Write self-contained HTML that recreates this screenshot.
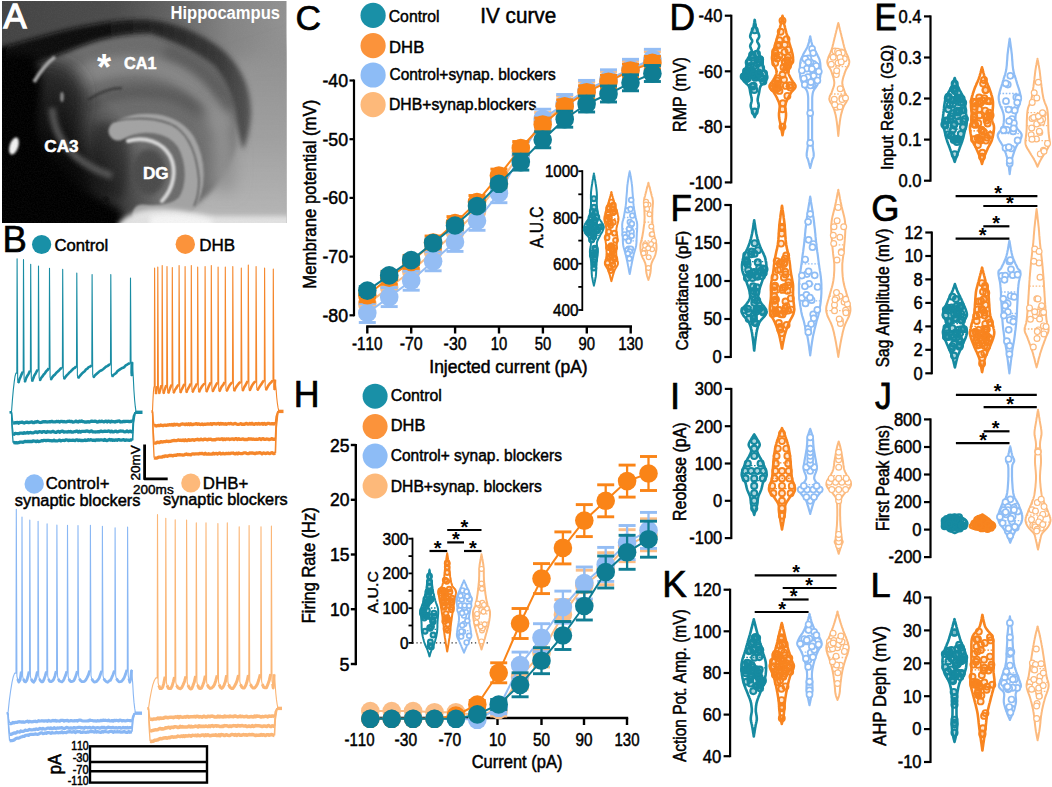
<!DOCTYPE html>
<html><head><meta charset="utf-8"><style>html,body{margin:0;padding:0;background:#fff;width:1052px;height:787px;overflow:hidden}svg{display:block;font-family:"Liberation Sans",sans-serif;font-kerning:none}</style></head><body>
<svg width="1052" height="787" viewBox="0 0 1052 787">
<defs><clipPath id="clipA"><rect x="2" y="1" width="284.5" height="222"/></clipPath><filter id="b1" filterUnits="userSpaceOnUse" x="-20" y="-20" width="330" height="270"><feGaussianBlur stdDeviation="1.2"/></filter><filter id="b2" filterUnits="userSpaceOnUse" x="-20" y="-20" width="330" height="270"><feGaussianBlur stdDeviation="2.5"/></filter><filter id="b4" filterUnits="userSpaceOnUse" x="-20" y="-20" width="330" height="270"><feGaussianBlur stdDeviation="4"/></filter><filter id="b8" filterUnits="userSpaceOnUse" x="-20" y="-20" width="330" height="270"><feGaussianBlur stdDeviation="8"/></filter><filter id="noise" filterUnits="userSpaceOnUse" x="2" y="1" width="285" height="222"><feTurbulence type="fractalNoise" baseFrequency="0.7" numOctaves="2" seed="3"/><feColorMatrix type="matrix" values="0 0 0 0 0.5  0 0 0 0 0.5  0 0 0 0 0.5  0 0 0 0.9 -0.3"/></filter><linearGradient id="gBase" x1="0" y1="0" x2="1" y2="0"><stop offset="0" stop-color="#444"/><stop offset="0.4" stop-color="#4c4c4c"/><stop offset="0.62" stop-color="#666"/><stop offset="0.8" stop-color="#848484"/><stop offset="1" stop-color="#929292"/></linearGradient><linearGradient id="gRt" x1="0" y1="0" x2="0" y2="1"><stop offset="0" stop-color="#8e8e8e"/><stop offset="0.5" stop-color="#a0a0a0"/><stop offset="1" stop-color="#bcbcbc"/></linearGradient><linearGradient id="gArc" x1="0" y1="0" x2="1" y2="0"><stop offset="0" stop-color="#050505"/><stop offset="0.45" stop-color="#101010"/><stop offset="0.7" stop-color="#282828"/><stop offset="0.88" stop-color="#383838"/><stop offset="1" stop-color="#555"/></linearGradient></defs>
<radialGradient id="gBL" cx="10" cy="215" r="150" gradientUnits="userSpaceOnUse"><stop offset="0" stop-color="#000" stop-opacity="1"/><stop offset="0.45" stop-color="#000" stop-opacity="0.92"/><stop offset="0.7" stop-color="#000" stop-opacity="0.55"/><stop offset="1" stop-color="#000" stop-opacity="0"/></radialGradient>
<g clip-path="url(#clipA)">
<rect x="2" y="1" width="285" height="222" fill="url(#gBase)"/>
<path d="M205 70 L300 40 L300 240 L150 240 L185 205 L205 160 Z" fill="url(#gRt)" filter="url(#b8)"/>
<path d="M-10 72 L20 68 C 40 62, 60 54, 80 46 C 100 38, 125 33, 150 33 C 180 40, 200 52, 214 64 C 225 78, 231 95, 234 112 L 236 145 C 230 170, 215 192, 195 205 L 120 230 L -10 230 Z" fill="#6c6c6c" filter="url(#b2)"/>
<path d="M48 100 C 70 74, 110 62, 150 66 C 185 72, 210 95, 224 130" fill="none" stroke="#868686" stroke-width="20" filter="url(#b4)"/>
<path d="M165 50 C 195 60, 218 80, 229 110" fill="none" stroke="#5c5c5c" stroke-width="12" filter="url(#b4)"/>
<path d="M85 108 C 105 92, 140 88, 170 95 C 195 103, 210 118, 215 140" fill="none" stroke="#5a5a5a" stroke-width="12" filter="url(#b4)"/>
<path d="M88 100 C 100 92, 112 88, 122 88" fill="none" stroke="#3c3c3c" stroke-width="2.5" filter="url(#b1)"/>
<path d="M208 110 C 222 125, 228 150, 222 190" fill="none" stroke="#929292" stroke-width="22" filter="url(#b8)"/>
<path d="M95 125 C 110 118, 122 125, 127 140 C 131 160, 128 185, 122 200 L 100 195 C 94 175, 90 150, 95 125 Z" fill="#4a4a4a" filter="url(#b4)"/>
<path d="M30 60 C 50 58, 70 62, 80 75 C 88 90, 85 110, 80 130 C 78 150, 90 170, 100 190 L 40 200 Z" fill="#2c2c2c" filter="url(#b8)"/>
<rect x="2" y="1" width="285" height="222" fill="url(#gBL)"/>
<path d="M52 108 C 54 138, 72 162, 112 176" fill="none" stroke="#555" stroke-width="7" filter="url(#b2)"/>
<path d="M-10 48 L2 47 C 30 40, 60 30, 90 25 C 110 21, 130 19, 150 20 C 178 23, 205 35, 225 52 C 240 66, 250 85, 251 110 C 251 125, 248 138, 243 150 C 240 140, 236 125, 234 110 C 231 95, 225 80, 214 66 C 200 54, 180 43, 150 33 C 125 33, 100 38, 80 46 C 60 54, 40 62, 20 68 L -10 70 Z" fill="url(#gArc)" filter="url(#b2)"/>
<path d="M-10 55 L 30 55 C 42 62, 44 80, 40 110 C 36 140, 44 160, 62 178 C 82 192, 105 200, 120 210 L 130 240 L -10 240 Z" fill="#060606" filter="url(#b4)"/>
<path d="M118 131 C 140 118, 172 121, 186 142 C 197 162, 197 188, 186 204 C 176 213, 160 216, 142 214" fill="none" stroke="#a3a3a3" stroke-width="19" stroke-linecap="round" filter="url(#b1)"/>
<path d="M114 121 C 135 117, 160 117, 176 127 C 190 137, 197 155, 199 180 C 199 192, 197 200, 194 206" fill="none" stroke="#555" stroke-width="1.5" filter="url(#b1)"/>
<ellipse cx="149" cy="172" rx="17" ry="23" fill="#4c4c4c" filter="url(#b2)"/>
<path d="M128 141 C 145 136, 162 142, 170 156 C 177 170, 174 188, 162 201" fill="none" stroke="#d8d8d8" stroke-width="4" stroke-linecap="round" filter="url(#b1)"/>
<path d="M118 224 C 126 214, 142 208, 165 209 C 185 210, 200 214, 215 216 L 300 216 L 300 240 L 115 240 Z" fill="#e2e2e2" filter="url(#b2)"/>
<path d="M150 216 C 170 212, 195 215, 212 220 L 212 240 L 150 240 Z" fill="#f4f4f4" filter="url(#b2)"/>
<ellipse cx="14" cy="146" rx="4.3" ry="9" fill="#f2f2f2" filter="url(#b1)" transform="rotate(18 14 146)"/>
<path d="M34 82 C 40 72, 48 62, 55 57" fill="none" stroke="#a8a8a8" stroke-width="3.5" filter="url(#b1)"/>
<ellipse cx="62" cy="97" rx="1.8" ry="5" fill="#8c8c8c" filter="url(#b1)"/>
<ellipse cx="106" cy="201" rx="2.5" ry="4" fill="#111" filter="url(#b1)"/>
<rect x="2" y="1" width="285" height="222" filter="url(#noise)" opacity="0.12"/>
</g>
<text font-size="35.5" fill="#fff" stroke="#fff" stroke-width="1.3" transform="translate(3.4 28.1) scale(0.9738 1)">A</text>
<text x="170.5" y="19" font-size="17.5" font-weight="bold" fill="#fff" textLength="109.5" lengthAdjust="spacingAndGlyphs">Hippocampus</text>
<text font-size="36.3" font-weight="bold" fill="#fff" transform="translate(96.9 79.9) scale(1.0011 1)">*</text>
<text x="124" y="68.6" font-size="16.5" fill="#fff" textLength="32.5" lengthAdjust="spacingAndGlyphs" stroke="#fff" stroke-width="0.5" font-weight="bold">CA1</text>
<text x="44.3" y="152.4" font-size="16.5" fill="#fff" textLength="34.3" lengthAdjust="spacingAndGlyphs" stroke="#fff" stroke-width="0.5" font-weight="bold">CA3</text>
<text x="143" y="178.7" font-size="16.5" fill="#fff" textLength="25.7" lengthAdjust="spacingAndGlyphs" stroke="#fff" stroke-width="0.5" font-weight="bold">DG</text>
<text font-size="37.1" stroke="#000" stroke-width="0.7" transform="translate(2.6 252.2) scale(0.9835 1)">B</text>
<circle cx="41.6" cy="244.5" r="9.6" fill="#1990a7"/>
<text font-size="16.9" stroke="#000" stroke-width="0.5" transform="translate(54.5 251.2) scale(0.9859 1)">Control</text>
<circle cx="185.3" cy="244.2" r="9.7" fill="#fb933b"/>
<text font-size="16.9" stroke="#000" stroke-width="0.4" transform="translate(199.2 251.2) scale(1.0084 1)">DHB</text>
<circle cx="34.2" cy="484" r="9.7" fill="#8dbcf6"/>
<text font-size="16.6" stroke="#000" stroke-width="0.4" transform="translate(45.7 489) scale(1.0089 1)">Control+</text>
<text font-size="16.6" stroke="#000" stroke-width="0.5" transform="translate(14.8 506.1) scale(0.9879 1)">synaptic blockers</text>
<circle cx="190.8" cy="483" r="9.6" fill="#fdb97a"/>
<text font-size="16.6" stroke="#000" stroke-width="0.4" transform="translate(202.8 489.2) scale(1.0159 1)">DHB+</text>
<text font-size="16.6" stroke="#000" stroke-width="0.5" transform="translate(163 505.4) scale(0.9800 1)">synaptic blockers</text>
<path d="M9.5 412.3 L11.5 412.3" fill="none" stroke="#188ca3" stroke-width="2.6" stroke-linejoin="round"/>
<path d="M135.1 412.3 L142.5 412.3" fill="none" stroke="#188ca3" stroke-width="3.4" stroke-linejoin="round"/>
<path d="M11.5 412.3 L12.1 418.2 L13.1 422.9" fill="none" stroke="#188ca3" stroke-width="1.3" stroke-linejoin="round"/>
<path d="M13.1 422.9 L14.2 423 L15.3 422.6 L16.4 422.8 L17.5 422.3 L18.6 423.2 L19.7 422.3 L20.8 422.5 L22 422.1 L23.1 422.6 L24.2 423 L25.3 422.5 L26.4 422.1 L27.5 422.2 L28.6 422.7 L29.7 422.4 L30.8 422.2 L31.9 421.8 L33 422.6 L34.1 422.7 L35.2 421.8 L36.3 422.1 L37.4 421.5 L38.5 422 L39.7 422.3 L40.8 422.5 L41.9 422.2 L43 421.7 L44.1 421.9 L45.2 421.6 L46.3 421.9 L47.4 422 L48.5 421.8 L49.6 421.7 L50.7 421.8 L51.8 421.3 L52.9 421.9 L54 421.8 L55.1 421.9 L56.3 421.4 L57.4 421.6 L58.5 421.5 L59.6 422 L60.7 421.4 L61.8 421.4 L62.9 421.8 L64 421.5 L65.1 421.8 L66.2 421.9 L67.3 421.4 L68.4 421.3 L69.5 421.1 L70.6 421.7 L71.7 421.4 L72.8 422.1 L74 421.9 L75.1 421.6 L76.2 421.1 L77.3 421.8 L78.4 422 L79.5 421.1 L80.6 421.5 L81.7 421 L82.8 421.6 L83.9 421.7 L85 422.1 L86.1 422 L87.2 422 L88.3 421.7 L89.4 422.1 L90.6 421.6 L91.7 421.1 L92.8 421.4 L93.9 421.3 L95 421.2 L96.1 421.3 L97.2 422 L98.3 421.9 L99.4 421.2 L100.5 421.7 L101.6 421.1 L102.7 421.5 L103.8 421.9 L104.9 421.4 L106 421.2 L107.2 422 L108.3 421.1 L109.4 421.3 L110.5 422 L111.6 421.1 L112.7 421.7 L113.8 421.6 L114.9 422 L116 421.4 L117.1 421.6 L118.2 421.1 L119.3 421 L120.4 422 L121.5 421.8 L122.6 421.8 L123.7 421.3 L124.9 421.5 L126 421.4 L127.1 421.3 L128.2 421.3 L129.3 421.6 L130.4 421.5 L131.5 421.2 L132.6 421.6" fill="none" stroke="#188ca3" stroke-width="3.3" stroke-linejoin="round"/>
<path d="M132.6 421.6 L133.4 416 L135.1 412.3" fill="none" stroke="#188ca3" stroke-width="1.6" stroke-linejoin="round"/>
<path d="M11.5 412.3 L12.1 424.2 L13.1 433.6" fill="none" stroke="#188ca3" stroke-width="1.3" stroke-linejoin="round"/>
<path d="M13.1 433.6 L14.2 434.2 L15.3 433.3 L16.4 433.5 L17.5 433.7 L18.6 433.7 L19.7 433.1 L20.8 433.1 L22 433.2 L23.1 433.3 L24.2 432.6 L25.3 433.2 L26.4 433 L27.5 432.4 L28.6 433 L29.7 432.6 L30.8 432.5 L31.9 432.8 L33 432.9 L34.1 432.5 L35.2 432 L36.3 431.9 L37.4 432.6 L38.5 431.8 L39.7 431.7 L40.8 431.8 L41.9 432.4 L43 431.7 L44.1 431.6 L45.2 432.1 L46.3 432.4 L47.4 431.5 L48.5 431.8 L49.6 431.9 L50.7 432.2 L51.8 431.7 L52.9 431.3 L54 431.9 L55.1 432.3 L56.3 432.3 L57.4 431.6 L58.5 431.4 L59.6 432.3 L60.7 431.6 L61.8 431.2 L62.9 431.2 L64 432.1 L65.1 431.9 L66.2 431.9 L67.3 432 L68.4 431.5 L69.5 431.9 L70.6 431.4 L71.7 432 L72.8 432.1 L74 431.7 L75.1 431.7 L76.2 431.1 L77.3 431.2 L78.4 432.1 L79.5 431.3 L80.6 432 L81.7 431.3 L82.8 431.3 L83.9 431.3 L85 431.5 L86.1 431.1 L87.2 431 L88.3 431.4 L89.4 431.8 L90.6 431.1 L91.7 431 L92.8 431.9 L93.9 431.8 L95 432 L96.1 431.9 L97.2 431.9 L98.3 431.6 L99.4 431.8 L100.5 431.1 L101.6 431.2 L102.7 431.7 L103.8 431.3 L104.9 431.1 L106 431.3 L107.2 431.4 L108.3 431 L109.4 431.1 L110.5 431.9 L111.6 431.1 L112.7 431.9 L113.8 431.9 L114.9 431.3 L116 431.2 L117.1 431.9 L118.2 431.6 L119.3 431.2 L120.4 431 L121.5 431.1 L122.6 431.1 L123.7 431.6 L124.9 431.8 L126 431.6 L127.1 430.9 L128.2 431.9 L129.3 431.4 L130.4 431.2 L131.5 431.9 L132.6 431.2" fill="none" stroke="#188ca3" stroke-width="3.3" stroke-linejoin="round"/>
<path d="M132.6 431.2 L133.4 419.9 L135.1 412.3" fill="none" stroke="#188ca3" stroke-width="1.6" stroke-linejoin="round"/>
<path d="M11.5 412.3 L12.1 429.2 L13.1 442.7" fill="none" stroke="#188ca3" stroke-width="1.3" stroke-linejoin="round"/>
<path d="M13.1 442.7 L14.2 442.5 L15.3 442.9 L16.4 442.7 L17.5 442.9 L18.6 442.7 L19.7 442.2 L20.8 442.2 L22 442.2 L23.1 442.3 L24.2 441.8 L25.3 441.3 L26.4 441.6 L27.5 441.5 L28.6 441.5 L29.7 441.5 L30.8 441.5 L31.9 441.5 L33 440.9 L34.1 441.1 L35.2 441.2 L36.3 441.6 L37.4 441 L38.5 441.5 L39.7 441.3 L40.8 441 L41.9 440.6 L43 440.8 L44.1 440.3 L45.2 440.5 L46.3 440.6 L47.4 440.3 L48.5 440.3 L49.6 440.6 L50.7 440.6 L51.8 440.9 L52.9 440.8 L54 440.2 L55.1 440.9 L56.3 440.9 L57.4 440.8 L58.5 440.5 L59.6 440.1 L60.7 440.9 L61.8 440.5 L62.9 440.3 L64 440.5 L65.1 440.4 L66.2 439.8 L67.3 440 L68.4 440.6 L69.5 440.2 L70.6 440.3 L71.7 440.4 L72.8 440.2 L74 440.4 L75.1 440.5 L76.2 439.9 L77.3 439.8 L78.4 440.5 L79.5 440.1 L80.6 440.5 L81.7 440.4 L82.8 440.7 L83.9 440.5 L85 439.9 L86.1 440.5 L87.2 440.3 L88.3 439.7 L89.4 440.2 L90.6 439.7 L91.7 440 L92.8 440.4 L93.9 440.1 L95 440.6 L96.1 439.9 L97.2 440.2 L98.3 439.9 L99.4 440.2 L100.5 439.8 L101.6 439.8 L102.7 440 L103.8 440.4 L104.9 439.5 L106 440.3 L107.2 440.6 L108.3 440.1 L109.4 439.5 L110.5 440.2 L111.6 439.7 L112.7 440.4 L113.8 440 L114.9 440.3 L116 439.9 L117.1 440.3 L118.2 439.6 L119.3 439.7 L120.4 440.1 L121.5 440.1 L122.6 439.9 L123.7 439.7 L124.9 440.4 L126 439.9 L127.1 440.2 L128.2 440.2 L129.3 440.4 L130.4 439.9 L131.5 439.8 L132.6 440.4" fill="none" stroke="#188ca3" stroke-width="3.3" stroke-linejoin="round"/>
<path d="M132.6 440.4 L133.4 423.4 L135.1 412.3" fill="none" stroke="#188ca3" stroke-width="1.6" stroke-linejoin="round"/>
<path d="M11.5 412.3 L12.4 400 L13.3 389.9 L14.2 382.1 L15 376.5 L15.9 373.1 L16.8 373.1 L17.1 258.7 L17.7 380 L18.4 383 L19.5 379.1 L20.6 376.7 L21.7 374.1 L22.8 371.8 L23.2 371.8 L23.5 259.5 L24.1 379.2 L24.8 382.2 L26.1 378.1 L27.4 375.7 L28.7 373.6 L30 370.7 L30.4 370.7 L30.7 264.3 L31.3 378.4 L32 381.4 L33.2 378.5 L34.3 375.5 L35.5 373.8 L36.6 371.5 L37.8 369.7 L38.2 369.7 L38.5 266 L39.1 377.7 L39.8 380.7 L41.1 378 L42.4 376.4 L43.7 374.5 L44.9 373.3 L46.2 371.2 L47.5 370.1 L48.8 368.4 L49.2 368.4 L49.5 268.2 L50.1 376.9 L50.8 379.9 L52.2 377.4 L53.6 375.6 L55 374.6 L56.4 372.7 L57.8 371.5 L59.2 370.2 L60.6 368.7 L62 367.8 L62.4 367.8 L62.7 269.4 L63.3 376.1 L64 379.1 L65.3 377.1 L66.7 375.4 L68 374.1 L69.4 372.5 L70.7 371.4 L72.1 370 L73.4 368.6 L74.8 367.9 L76.1 366.4 L76.5 366.4 L76.8 273 L77.4 375.3 L78.1 378.3 L79.4 376.5 L80.8 374.8 L82.1 373.4 L83.4 372.2 L84.7 371.3 L86.1 369.3 L87.4 368.6 L88.7 367.1 L90.1 366.6 L91.4 365.6 L91.8 365.6 L92.1 274.5 L92.7 374.6 L93.4 377.6 L94.8 375.5 L96.2 374.3 L97.6 373.1 L99 371.8 L100.4 370.8 L101.7 370.2 L103.1 369.2 L104.5 368.1 L105.9 366.7 L107.3 366.1 L108.7 365.1 L110.1 364.2 L110.5 364.2 L110.8 274.5 L111.4 373.8 L112.1 376.8 L113.5 374.8 L114.8 374 L116.2 372.9 L117.5 371.1 L118.9 370.1 L120.3 369.1 L121.6 368.3 L123 367.8 L124.4 367 L125.7 365.4 L127.1 364.7 L128.4 363.8 L129.8 363.2 L130.2 363.2 L130.5 278 L131.1 373 L131.8 376 L131.9 370.3 L132.1 366.1 L132.2 362.1 L133.3 377.4 L133.9 390 L134.6 399.7 L135.3 406.7 L135.9 410.9 L136.6 412.3" fill="none" stroke="#188ca3" stroke-width="1.1" stroke-linejoin="round"/>
<path d="M18.4 383 L19.5 379.1 L20.6 376.7 L21.7 374.1 L22.8 371.8" fill="none" stroke="#188ca3" stroke-width="2.6" stroke-linejoin="round"/>
<path d="M24.8 382.2 L26.1 378.1 L27.4 375.7 L28.7 373.6 L30 370.7" fill="none" stroke="#188ca3" stroke-width="2.6" stroke-linejoin="round"/>
<path d="M32 381.4 L33.2 378.5 L34.3 375.5 L35.5 373.8 L36.6 371.5 L37.8 369.7" fill="none" stroke="#188ca3" stroke-width="2.6" stroke-linejoin="round"/>
<path d="M39.8 380.7 L41.1 378 L42.4 376.4 L43.7 374.5 L44.9 373.3 L46.2 371.2 L47.5 370.1 L48.8 368.4" fill="none" stroke="#188ca3" stroke-width="2.6" stroke-linejoin="round"/>
<path d="M50.8 379.9 L52.2 377.4 L53.6 375.6 L55 374.6 L56.4 372.7 L57.8 371.5 L59.2 370.2 L60.6 368.7 L62 367.8" fill="none" stroke="#188ca3" stroke-width="2.6" stroke-linejoin="round"/>
<path d="M64 379.1 L65.3 377.1 L66.7 375.4 L68 374.1 L69.4 372.5 L70.7 371.4 L72.1 370 L73.4 368.6 L74.8 367.9 L76.1 366.4" fill="none" stroke="#188ca3" stroke-width="2.6" stroke-linejoin="round"/>
<path d="M78.1 378.3 L79.4 376.5 L80.8 374.8 L82.1 373.4 L83.4 372.2 L84.7 371.3 L86.1 369.3 L87.4 368.6 L88.7 367.1 L90.1 366.6 L91.4 365.6" fill="none" stroke="#188ca3" stroke-width="2.6" stroke-linejoin="round"/>
<path d="M93.4 377.6 L94.8 375.5 L96.2 374.3 L97.6 373.1 L99 371.8 L100.4 370.8 L101.7 370.2 L103.1 369.2 L104.5 368.1 L105.9 366.7 L107.3 366.1 L108.7 365.1 L110.1 364.2" fill="none" stroke="#188ca3" stroke-width="2.6" stroke-linejoin="round"/>
<path d="M112.1 376.8 L113.5 374.8 L114.8 374 L116.2 372.9 L117.5 371.1 L118.9 370.1 L120.3 369.1 L121.6 368.3 L123 367.8 L124.4 367 L125.7 365.4 L127.1 364.7 L128.4 363.8 L129.8 363.2" fill="none" stroke="#188ca3" stroke-width="2.6" stroke-linejoin="round"/>
<path d="M131.8 376 L131.9 370.3 L132.1 366.1 L132.2 362.1" fill="none" stroke="#188ca3" stroke-width="2.6" stroke-linejoin="round"/>
<path d="M151.5 411.4 L152.5 411.4" fill="none" stroke="#f5862a" stroke-width="2.6" stroke-linejoin="round"/>
<path d="M277.9 411.4 L283.5 411.4" fill="none" stroke="#f5862a" stroke-width="3.4" stroke-linejoin="round"/>
<path d="M152.5 411.4 L153.1 419.3 L154.1 425.6" fill="none" stroke="#f5862a" stroke-width="1.3" stroke-linejoin="round"/>
<path d="M154.1 425.6 L155.2 425.5 L156.3 426 L157.4 425.7 L158.6 425.5 L159.7 425.6 L160.8 425 L161.9 425.3 L163 425.7 L164.1 425.1 L165.2 425.1 L166.3 425.4 L167.5 424.9 L168.6 425 L169.7 424.7 L170.8 425 L171.9 424.4 L173 425.2 L174.1 424.2 L175.2 424.9 L176.4 424.3 L177.5 424.4 L178.6 425.1 L179.7 425 L180.8 424.3 L181.9 424 L183 424 L184.1 424.2 L185.3 424.7 L186.4 423.9 L187.5 424.5 L188.6 423.8 L189.7 424.7 L190.8 423.8 L191.9 424.6 L193 424.5 L194.2 424.1 L195.3 424.1 L196.4 423.6 L197.5 424.4 L198.6 423.8 L199.7 424.4 L200.8 424.5 L202 424 L203.1 424.6 L204.2 424.2 L205.3 424.4 L206.4 424.1 L207.5 424 L208.6 424 L209.7 424.2 L210.9 423.6 L212 424.5 L213.1 423.7 L214.2 423.6 L215.3 423.9 L216.4 424 L217.5 423.6 L218.6 423.5 L219.8 424.2 L220.9 423.4 L222 424.1 L223.1 423.6 L224.2 424.2 L225.3 423.7 L226.4 424.3 L227.5 423.8 L228.7 423.5 L229.8 423.8 L230.9 423.4 L232 424 L233.1 424.2 L234.2 423.6 L235.3 423.5 L236.5 424 L237.6 424.4 L238.7 424.3 L239.8 424 L240.9 423.6 L242 424.3 L243.1 424.1 L244.2 424.4 L245.4 423.8 L246.5 423.4 L247.6 424.2 L248.7 424.1 L249.8 423.4 L250.9 424 L252 423.3 L253.1 424.1 L254.3 424.3 L255.4 423.7 L256.5 423.7 L257.6 424.2 L258.7 423.5 L259.8 424.2 L260.9 423.8 L262 423.5 L263.2 424.2 L264.3 423.4 L265.4 424.3 L266.5 424.1 L267.6 423.4 L268.7 423.4 L269.8 423.8 L270.9 423.9 L272.1 423.6 L273.2 424 L274.3 423.7 L275.4 423.8" fill="none" stroke="#f5862a" stroke-width="3.3" stroke-linejoin="round"/>
<path d="M275.4 423.8 L276.2 416.4 L277.9 411.4" fill="none" stroke="#f5862a" stroke-width="1.6" stroke-linejoin="round"/>
<path d="M152.5 411.4 L153.1 428.8 L154.1 442.6" fill="none" stroke="#f5862a" stroke-width="1.3" stroke-linejoin="round"/>
<path d="M154.1 442.6 L155.2 443.2 L156.3 442.9 L157.4 442.1 L158.6 442.5 L159.7 442.5 L160.8 441.6 L161.9 442.1 L163 441.9 L164.1 441.7 L165.2 441.7 L166.3 441.2 L167.5 441.4 L168.6 441.5 L169.7 441.4 L170.8 441.3 L171.9 440.9 L173 440.7 L174.1 440.3 L175.2 440.6 L176.4 440.7 L177.5 440.3 L178.6 439.9 L179.7 440.4 L180.8 440.1 L181.9 440.5 L183 440 L184.1 440.7 L185.3 439.8 L186.4 440.6 L187.5 440.5 L188.6 439.7 L189.7 440.4 L190.8 440 L191.9 440 L193 439.7 L194.2 440.3 L195.3 439.7 L196.4 439.6 L197.5 439.2 L198.6 439.8 L199.7 439.8 L200.8 439.1 L202 439.7 L203.1 439.9 L204.2 439.1 L205.3 439.1 L206.4 439.5 L207.5 439.9 L208.6 439.1 L209.7 439.4 L210.9 439.2 L212 439.8 L213.1 439.9 L214.2 439.7 L215.3 439.8 L216.4 439.1 L217.5 439.2 L218.6 439 L219.8 439.4 L220.9 439.2 L222 438.7 L223.1 439.7 L224.2 438.9 L225.3 439.5 L226.4 438.9 L227.5 439.1 L228.7 438.9 L229.8 439.5 L230.9 439.1 L232 439 L233.1 439 L234.2 439.6 L235.3 438.6 L236.5 438.7 L237.6 439.6 L238.7 438.6 L239.8 439.4 L240.9 439.4 L242 439.1 L243.1 438.9 L244.2 439.5 L245.4 439.5 L246.5 439.4 L247.6 439.6 L248.7 438.6 L249.8 439.2 L250.9 438.9 L252 439.3 L253.1 439 L254.3 439.4 L255.4 439.3 L256.5 439.2 L257.6 439.3 L258.7 439.1 L259.8 438.6 L260.9 439.6 L262 438.8 L263.2 438.6 L264.3 439.4 L265.4 439.3 L266.5 439 L267.6 439.1 L268.7 439.6 L269.8 439.5 L270.9 439.2 L272.1 438.6 L273.2 439.3 L274.3 439.2 L275.4 439.5" fill="none" stroke="#f5862a" stroke-width="3.3" stroke-linejoin="round"/>
<path d="M275.4 439.5 L276.2 422.4 L277.9 411.4" fill="none" stroke="#f5862a" stroke-width="1.6" stroke-linejoin="round"/>
<path d="M152.5 411.4 L153.1 437.1 L154.1 457.7" fill="none" stroke="#f5862a" stroke-width="1.3" stroke-linejoin="round"/>
<path d="M154.1 457.7 L155.2 458.1 L156.3 458.1 L157.4 457.8 L158.6 457.1 L159.7 457.2 L160.8 457.2 L161.9 457.2 L163 456.4 L164.1 456.7 L165.2 455.9 L166.3 456 L167.5 456.3 L168.6 455.8 L169.7 455.4 L170.8 455.7 L171.9 455.4 L173 455.9 L174.1 455.3 L175.2 455.2 L176.4 455.3 L177.5 454.7 L178.6 454.9 L179.7 454.7 L180.8 454.9 L181.9 454.8 L183 455.1 L184.1 454.9 L185.3 454.3 L186.4 454 L187.5 454.6 L188.6 454.4 L189.7 454.6 L190.8 454.8 L191.9 454 L193 453.8 L194.2 454.2 L195.3 453.9 L196.4 453.9 L197.5 453.8 L198.6 454 L199.7 453.5 L200.8 453.6 L202 453.4 L203.1 453.8 L204.2 454.1 L205.3 453.3 L206.4 454.1 L207.5 454.2 L208.6 453.7 L209.7 454.1 L210.9 454.2 L212 454.1 L213.1 453.2 L214.2 454 L215.3 453.6 L216.4 453.4 L217.5 454 L218.6 453.4 L219.8 453 L220.9 454 L222 453.8 L223.1 453.3 L224.2 453.9 L225.3 453.8 L226.4 453.4 L227.5 453.7 L228.7 453.2 L229.8 453.7 L230.9 453.2 L232 453.2 L233.1 453 L234.2 453.6 L235.3 453.9 L236.5 453.2 L237.6 453.9 L238.7 453 L239.8 453.5 L240.9 453.7 L242 453.6 L243.1 453.2 L244.2 452.8 L245.4 452.8 L246.5 453.4 L247.6 453.6 L248.7 453.6 L249.8 452.9 L250.9 453.2 L252 452.8 L253.1 453.1 L254.3 453.5 L255.4 453.5 L256.5 452.8 L257.6 453.2 L258.7 452.8 L259.8 452.7 L260.9 453 L262 453.8 L263.2 453 L264.3 453.1 L265.4 453.5 L266.5 453.4 L267.6 452.8 L268.7 453.4 L269.8 453.6 L270.9 453 L272.1 452.7 L273.2 453.5 L274.3 453.5 L275.4 453.2" fill="none" stroke="#f5862a" stroke-width="3.3" stroke-linejoin="round"/>
<path d="M275.4 453.2 L276.2 428.1 L277.9 411.4" fill="none" stroke="#f5862a" stroke-width="1.6" stroke-linejoin="round"/>
<path d="M152.5 411.4 L152.8 403.6 L153.1 397.3 L153.4 392.4 L153.7 388.8 L154 386.7 L154.3 386.7 L154.6 268 L155.2 391 L155.9 394 L156.3 390.7 L156.7 388.2 L157.1 386.3 L157.5 386.3 L157.8 267 L158.4 390.8 L159.1 393.8 L159.9 390.6 L160.7 387.9 L161.5 385.4 L161.9 385.4 L162.2 265.5 L162.8 390.6 L163.5 393.6 L164.4 390.2 L165.4 387.7 L166.3 385.3 L166.7 385.3 L167 266.5 L167.6 390.3 L168.3 393.3 L169.4 390.1 L170.5 387.3 L171.6 384.7 L172 384.7 L172.3 267.5 L172.9 390.1 L173.6 393.1 L174.8 390 L176 388.5 L177.2 386.5 L178.4 384.9 L178.8 384.9 L179.1 265.5 L179.7 389.9 L180.4 392.9 L181.4 389.8 L182.4 388.2 L183.4 386.1 L184.4 384.1 L184.8 384.1 L185.1 266.5 L185.7 389.7 L186.4 392.7 L187.4 389.7 L188.5 388 L189.5 386.1 L190.6 383.7 L191 383.7 L191.3 265.5 L191.9 389.4 L192.6 392.4 L193.7 389.3 L194.8 387.6 L195.9 385.6 L197 383.7 L197.4 383.7 L197.7 267 L198.3 389.2 L199 392.2 L200.3 389.2 L201.7 386.8 L203.1 385 L204.4 383.5 L204.8 383.5 L205.1 266.5 L205.7 389 L206.4 392 L207.4 389.4 L208.5 386.9 L209.5 384.9 L210.6 382.6 L211 382.6 L211.3 265.5 L211.9 388.8 L212.6 391.8 L213.8 389 L215 386.8 L216.2 384.7 L217.4 382.7 L217.8 382.7 L218.1 267 L218.7 388.6 L219.4 391.6 L220.7 388.4 L222 386.2 L223.3 384.6 L224.6 382.2 L225 382.2 L225.3 267 L225.9 388.3 L226.6 391.3 L227.7 389 L228.8 386.7 L229.9 384.9 L231 383.7 L232.1 382.2 L232.5 382.2 L232.8 266.5 L233.4 388.1 L234.1 391.1 L235.4 388.2 L236.7 386.2 L238 384.5 L239.3 382.9 L240.6 382.1 L241 382.1 L241.3 268 L241.9 387.9 L242.6 390.9 L243.8 387.9 L245.1 385.8 L246.3 383.6 L247.6 381.2 L248 381.2 L248.3 265 L248.9 387.7 L249.6 390.7 L250.8 388.1 L251.9 385.7 L253.1 383.9 L254.2 382.5 L255.4 381.3 L255.8 381.3 L256.1 266.5 L256.7 387.4 L257.4 390.4 L258.7 388.1 L260 386.1 L261.3 384.3 L262.6 382.1 L263.9 380.6 L264.3 380.6 L264.6 268 L265.2 387.2 L265.9 390.2 L267.2 387.7 L268.6 385.2 L269.9 383.4 L271.3 382.3 L272.6 380.4 L273 380.4 L273.3 269 L273.9 387 L274.6 390 L274.7 385.7 L274.9 382.9 L275 379.8 L276.1 389.4 L276.7 397.3 L277.4 403.5 L278.1 407.9 L278.7 410.5 L279.4 411.4" fill="none" stroke="#f5862a" stroke-width="1.1" stroke-linejoin="round"/>
<path d="M155.9 394 L156.3 390.7 L156.7 388.2 L157.1 386.3" fill="none" stroke="#f5862a" stroke-width="2.6" stroke-linejoin="round"/>
<path d="M159.1 393.8 L159.9 390.6 L160.7 387.9 L161.5 385.4" fill="none" stroke="#f5862a" stroke-width="2.6" stroke-linejoin="round"/>
<path d="M163.5 393.6 L164.4 390.2 L165.4 387.7 L166.3 385.3" fill="none" stroke="#f5862a" stroke-width="2.6" stroke-linejoin="round"/>
<path d="M168.3 393.3 L169.4 390.1 L170.5 387.3 L171.6 384.7" fill="none" stroke="#f5862a" stroke-width="2.6" stroke-linejoin="round"/>
<path d="M173.6 393.1 L174.8 390 L176 388.5 L177.2 386.5 L178.4 384.9" fill="none" stroke="#f5862a" stroke-width="2.6" stroke-linejoin="round"/>
<path d="M180.4 392.9 L181.4 389.8 L182.4 388.2 L183.4 386.1 L184.4 384.1" fill="none" stroke="#f5862a" stroke-width="2.6" stroke-linejoin="round"/>
<path d="M186.4 392.7 L187.4 389.7 L188.5 388 L189.5 386.1 L190.6 383.7" fill="none" stroke="#f5862a" stroke-width="2.6" stroke-linejoin="round"/>
<path d="M192.6 392.4 L193.7 389.3 L194.8 387.6 L195.9 385.6 L197 383.7" fill="none" stroke="#f5862a" stroke-width="2.6" stroke-linejoin="round"/>
<path d="M199 392.2 L200.3 389.2 L201.7 386.8 L203.1 385 L204.4 383.5" fill="none" stroke="#f5862a" stroke-width="2.6" stroke-linejoin="round"/>
<path d="M206.4 392 L207.4 389.4 L208.5 386.9 L209.5 384.9 L210.6 382.6" fill="none" stroke="#f5862a" stroke-width="2.6" stroke-linejoin="round"/>
<path d="M212.6 391.8 L213.8 389 L215 386.8 L216.2 384.7 L217.4 382.7" fill="none" stroke="#f5862a" stroke-width="2.6" stroke-linejoin="round"/>
<path d="M219.4 391.6 L220.7 388.4 L222 386.2 L223.3 384.6 L224.6 382.2" fill="none" stroke="#f5862a" stroke-width="2.6" stroke-linejoin="round"/>
<path d="M226.6 391.3 L227.7 389 L228.8 386.7 L229.9 384.9 L231 383.7 L232.1 382.2" fill="none" stroke="#f5862a" stroke-width="2.6" stroke-linejoin="round"/>
<path d="M234.1 391.1 L235.4 388.2 L236.7 386.2 L238 384.5 L239.3 382.9 L240.6 382.1" fill="none" stroke="#f5862a" stroke-width="2.6" stroke-linejoin="round"/>
<path d="M242.6 390.9 L243.8 387.9 L245.1 385.8 L246.3 383.6 L247.6 381.2" fill="none" stroke="#f5862a" stroke-width="2.6" stroke-linejoin="round"/>
<path d="M249.6 390.7 L250.8 388.1 L251.9 385.7 L253.1 383.9 L254.2 382.5 L255.4 381.3" fill="none" stroke="#f5862a" stroke-width="2.6" stroke-linejoin="round"/>
<path d="M257.4 390.4 L258.7 388.1 L260 386.1 L261.3 384.3 L262.6 382.1 L263.9 380.6" fill="none" stroke="#f5862a" stroke-width="2.6" stroke-linejoin="round"/>
<path d="M265.9 390.2 L267.2 387.7 L268.6 385.2 L269.9 383.4 L271.3 382.3 L272.6 380.4" fill="none" stroke="#f5862a" stroke-width="2.6" stroke-linejoin="round"/>
<path d="M274.6 390 L274.7 385.7 L274.9 382.9 L275 379.8" fill="none" stroke="#f5862a" stroke-width="2.6" stroke-linejoin="round"/>
<path d="M6.5 713.2 L8 713.2" fill="none" stroke="#89b7f4" stroke-width="2.6" stroke-linejoin="round"/>
<path d="M134.5 713.2 L142 713.2" fill="none" stroke="#89b7f4" stroke-width="3.4" stroke-linejoin="round"/>
<path d="M8 713.2 L8.6 718.9 L9.6 723.2" fill="none" stroke="#89b7f4" stroke-width="1.3" stroke-linejoin="round"/>
<path d="M9.6 723.2 L10.7 723.7 L11.8 723.4 L12.9 722.4 L14.1 723 L15.2 722.3 L16.3 722.3 L17.4 722.3 L18.5 721.8 L19.6 721.7 L20.7 721.9 L21.8 722.2 L23 721.8 L24.1 722.3 L25.2 722 L26.3 721.6 L27.4 721.1 L28.5 722 L29.6 721.4 L30.7 721.7 L31.9 721.8 L33 721.7 L34.1 721.4 L35.2 721.2 L36.3 721.7 L37.4 721.6 L38.5 720.7 L39.6 721.1 L40.8 721 L41.9 720.7 L43 720.9 L44.1 721.1 L45.2 720.8 L46.3 720.8 L47.4 721.3 L48.5 720.4 L49.7 721 L50.8 721.1 L51.9 720.9 L53 720.3 L54.1 720.9 L55.2 720.3 L56.3 721.1 L57.4 720.8 L58.6 721 L59.7 721.2 L60.8 720.4 L61.9 720.4 L63 720.3 L64.1 721.1 L65.2 720.5 L66.3 720.6 L67.5 720.3 L68.6 721.1 L69.7 721 L70.8 720.6 L71.9 720.7 L73 721 L74.1 720.7 L75.3 720.8 L76.4 720.5 L77.5 721.1 L78.6 720.2 L79.7 720 L80.8 720.3 L81.9 720.8 L83 721 L84.2 721 L85.3 721 L86.4 721 L87.5 720.9 L88.6 720.9 L89.7 720.1 L90.8 720.4 L91.9 720.5 L93.1 720.8 L94.2 720.9 L95.3 720.9 L96.4 721.1 L97.5 720.6 L98.6 721 L99.7 720.9 L100.8 720.3 L102 720.7 L103.1 720.1 L104.2 720.5 L105.3 720.2 L106.4 720.5 L107.5 720.7 L108.6 720.2 L109.7 720.8 L110.9 721 L112 720.5 L113.1 721.1 L114.2 720.3 L115.3 720.6 L116.4 720.4 L117.5 720.5 L118.6 720.9 L119.8 720 L120.9 720.2 L122 721 L123.1 720.6 L124.2 720.7 L125.3 720.9 L126.4 720.7 L127.5 720.4 L128.7 720.5 L129.8 720.6 L130.9 720.8 L132 720.2" fill="none" stroke="#89b7f4" stroke-width="3.2" stroke-linejoin="round"/>
<path d="M132 720.2 L132.8 716.1 L134.5 713.2" fill="none" stroke="#89b7f4" stroke-width="1.6" stroke-linejoin="round"/>
<path d="M8 713.2 L8.6 725 L9.6 734" fill="none" stroke="#89b7f4" stroke-width="1.3" stroke-linejoin="round"/>
<path d="M9.6 734 L10.7 734.4 L11.8 734.1 L12.9 733.5 L14.1 732.9 L15.2 733.2 L16.3 732.7 L17.4 731.7 L18.5 732 L19.6 732.2 L20.7 731 L21.8 731.5 L23 731.3 L24.1 731.2 L25.2 730.1 L26.3 730.5 L27.4 730.5 L28.5 730 L29.6 729.4 L30.7 729.9 L31.9 729.9 L33 729.7 L34.1 729.4 L35.2 729.6 L36.3 728.9 L37.4 729.3 L38.5 729.4 L39.6 728.4 L40.8 728.7 L41.9 729.1 L43 728.3 L44.1 729 L45.2 729.1 L46.3 728.7 L47.4 728.1 L48.5 728.1 L49.7 728.6 L50.8 727.8 L51.9 728.6 L53 728.6 L54.1 727.7 L55.2 728.4 L56.3 728.3 L57.4 727.9 L58.6 728.2 L59.7 727.9 L60.8 728 L61.9 727.5 L63 728.3 L64.1 728.3 L65.2 728.3 L66.3 727.4 L67.5 727.5 L68.6 728.2 L69.7 728.2 L70.8 727.9 L71.9 728.1 L73 728.1 L74.1 727.5 L75.3 728.2 L76.4 727.8 L77.5 727.7 L78.6 727.3 L79.7 727.3 L80.8 727.8 L81.9 727.7 L83 727.8 L84.2 728.3 L85.3 727.3 L86.4 727.5 L87.5 727.8 L88.6 727.7 L89.7 727.3 L90.8 728.1 L91.9 727.9 L93.1 727.3 L94.2 727.7 L95.3 728.3 L96.4 727.7 L97.5 727.5 L98.6 727.8 L99.7 728.2 L100.8 727.9 L102 727.3 L103.1 727.8 L104.2 727.3 L105.3 728.1 L106.4 728.1 L107.5 727.3 L108.6 727.2 L109.7 727.6 L110.9 727.7 L112 727.7 L113.1 727.3 L114.2 727.9 L115.3 727.9 L116.4 727.6 L117.5 728.1 L118.6 727.7 L119.8 727.5 L120.9 728.1 L122 728 L123.1 727.3 L124.2 727.9 L125.3 727.5 L126.4 728 L127.5 727.4 L128.7 727.9 L129.8 727.5 L130.9 727.6 L132 727.5" fill="none" stroke="#89b7f4" stroke-width="3.2" stroke-linejoin="round"/>
<path d="M132 727.5 L132.8 719 L134.5 713.2" fill="none" stroke="#89b7f4" stroke-width="1.6" stroke-linejoin="round"/>
<path d="M8 713.2 L8.6 728.9 L9.6 740.8" fill="none" stroke="#89b7f4" stroke-width="1.3" stroke-linejoin="round"/>
<path d="M9.6 740.8 L10.7 740.7 L11.8 740.6 L12.9 740.4 L14.1 740 L15.2 739 L16.3 738.3 L17.4 738.1 L18.5 738.1 L19.6 737.8 L20.7 737 L21.8 736.9 L23 736.3 L24.1 736.4 L25.2 735.6 L26.3 735.2 L27.4 735 L28.5 735.4 L29.6 734.6 L30.7 734.3 L31.9 734.3 L33 734.3 L34.1 734.3 L35.2 733.9 L36.3 734.2 L37.4 734.3 L38.5 734.2 L39.6 733.5 L40.8 732.9 L41.9 732.9 L43 733.6 L44.1 733.5 L45.2 732.8 L46.3 733.4 L47.4 732.5 L48.5 732.5 L49.7 732.8 L50.8 733.3 L51.9 732.6 L53 732.9 L54.1 733 L55.2 733 L56.3 732.2 L57.4 732.7 L58.6 732.8 L59.7 732.5 L60.8 732.6 L61.9 731.8 L63 732.8 L64.1 732.4 L65.2 732.5 L66.3 732.7 L67.5 731.9 L68.6 731.9 L69.7 731.6 L70.8 731.9 L71.9 732.1 L73 731.9 L74.1 731.5 L75.3 732.6 L76.4 731.9 L77.5 731.6 L78.6 731.8 L79.7 731.5 L80.8 732.4 L81.9 732.5 L83 731.9 L84.2 732.1 L85.3 732.3 L86.4 732.3 L87.5 731.9 L88.6 732.2 L89.7 731.5 L90.8 731.7 L91.9 731.6 L93.1 731.5 L94.2 732.2 L95.3 731.5 L96.4 732.1 L97.5 731.5 L98.6 731.9 L99.7 732.2 L100.8 732.4 L102 731.5 L103.1 732.1 L104.2 731.5 L105.3 731.5 L106.4 731.8 L107.5 732 L108.6 732.1 L109.7 731.5 L110.9 731.4 L112 731.4 L113.1 732.3 L114.2 731.6 L115.3 732 L116.4 731.8 L117.5 731.7 L118.6 731.8 L119.8 731.7 L120.9 732.2 L122 732.2 L123.1 731.9 L124.2 731.6 L125.3 732 L126.4 732.4 L127.5 732.3 L128.7 731.5 L129.8 732.3 L130.9 731.9 L132 731.8" fill="none" stroke="#89b7f4" stroke-width="3.2" stroke-linejoin="round"/>
<path d="M132 731.8 L132.8 720.6 L134.5 713.2" fill="none" stroke="#89b7f4" stroke-width="1.6" stroke-linejoin="round"/>
<path d="M8 713.2 L9.3 700.6 L10.7 690.3 L12 682.3 L13.3 676.6 L14.7 673.1 L16 673.1 L16.3 509.2 L16.9 676.1 L17.6 679.1 L18.8 682.1 L20.1 680 L21.3 671.6 L21.7 671.6 L22 517 L22.6 676 L23.3 679 L24.5 681.4 L25.6 681.9 L26.8 680.3 L27.9 676.7 L29.1 671.6 L29.5 671.6 L29.8 520 L30.4 676 L31.1 679 L32.4 681.2 L33.6 682.3 L34.9 680.5 L36.1 677.3 L37.4 671.5 L37.8 671.5 L38.1 521.3 L38.7 675.9 L39.4 678.9 L40.6 680.9 L41.7 681.8 L42.9 681.8 L44.1 679.1 L45.2 675.9 L46.4 671.5 L46.8 671.5 L47.1 523.9 L47.7 675.9 L48.4 678.9 L49.7 681.3 L51 681.7 L52.3 681 L53.6 679.5 L54.9 676.2 L56.2 671.1 L56.6 671.1 L56.9 525 L57.5 675.8 L58.2 678.8 L59.4 681 L60.7 681.5 L61.9 681.9 L63.1 680.8 L64.3 678.6 L65.6 675.3 L66.8 671.3 L67.2 671.3 L67.5 525.2 L68.1 675.8 L68.8 678.8 L70 681 L71.2 681.7 L72.4 681.4 L73.7 680.8 L74.9 678.5 L76.1 675.3 L77.3 671.2 L77.7 671.2 L78 525.6 L78.6 675.7 L79.3 678.7 L80.6 680.6 L81.9 681.7 L83.2 681.7 L84.5 681.4 L85.8 680 L87.1 677.6 L88.4 674.8 L89.7 670.7 L90.1 670.7 L90.4 525.2 L91 675.7 L91.7 678.7 L92.9 680.7 L94.2 682.1 L95.4 681.9 L96.7 681.4 L97.9 679.9 L99.2 677.9 L100.4 674.6 L101.7 670.9 L102.1 670.9 L102.4 526.3 L103 675.6 L103.7 678.6 L105 680.5 L106.4 681.7 L107.7 682.3 L109 681 L110.4 680.3 L111.7 677.6 L113.1 674.5 L114.4 670.7 L114.8 670.7 L115.1 527.7 L115.7 675.6 L116.4 678.6 L117.7 680.5 L119 681.9 L120.3 681.7 L121.6 681.4 L123 679.7 L124.3 677.5 L125.6 674.1 L126.9 669.9 L127.3 669.9 L127.6 527 L128.2 675.5 L128.9 678.5 L129.8 682.2 L130.7 679 L131.6 669.9 L132.7 683.1 L133.3 694 L134 702.4 L134.7 708.4 L135.3 712 L136 713.2" fill="none" stroke="#89b7f4" stroke-width="1.1" stroke-linejoin="round"/>
<path d="M17.6 679.1 L18.8 682.1 L20.1 680 L21.3 671.6" fill="none" stroke="#89b7f4" stroke-width="2.8" stroke-linejoin="round"/>
<path d="M23.3 679 L24.5 681.4 L25.6 681.9 L26.8 680.3 L27.9 676.7 L29.1 671.6" fill="none" stroke="#89b7f4" stroke-width="2.8" stroke-linejoin="round"/>
<path d="M31.1 679 L32.4 681.2 L33.6 682.3 L34.9 680.5 L36.1 677.3 L37.4 671.5" fill="none" stroke="#89b7f4" stroke-width="2.8" stroke-linejoin="round"/>
<path d="M39.4 678.9 L40.6 680.9 L41.7 681.8 L42.9 681.8 L44.1 679.1 L45.2 675.9 L46.4 671.5" fill="none" stroke="#89b7f4" stroke-width="2.8" stroke-linejoin="round"/>
<path d="M48.4 678.9 L49.7 681.3 L51 681.7 L52.3 681 L53.6 679.5 L54.9 676.2 L56.2 671.1" fill="none" stroke="#89b7f4" stroke-width="2.8" stroke-linejoin="round"/>
<path d="M58.2 678.8 L59.4 681 L60.7 681.5 L61.9 681.9 L63.1 680.8 L64.3 678.6 L65.6 675.3 L66.8 671.3" fill="none" stroke="#89b7f4" stroke-width="2.8" stroke-linejoin="round"/>
<path d="M68.8 678.8 L70 681 L71.2 681.7 L72.4 681.4 L73.7 680.8 L74.9 678.5 L76.1 675.3 L77.3 671.2" fill="none" stroke="#89b7f4" stroke-width="2.8" stroke-linejoin="round"/>
<path d="M79.3 678.7 L80.6 680.6 L81.9 681.7 L83.2 681.7 L84.5 681.4 L85.8 680 L87.1 677.6 L88.4 674.8 L89.7 670.7" fill="none" stroke="#89b7f4" stroke-width="2.8" stroke-linejoin="round"/>
<path d="M91.7 678.7 L92.9 680.7 L94.2 682.1 L95.4 681.9 L96.7 681.4 L97.9 679.9 L99.2 677.9 L100.4 674.6 L101.7 670.9" fill="none" stroke="#89b7f4" stroke-width="2.8" stroke-linejoin="round"/>
<path d="M103.7 678.6 L105 680.5 L106.4 681.7 L107.7 682.3 L109 681 L110.4 680.3 L111.7 677.6 L113.1 674.5 L114.4 670.7" fill="none" stroke="#89b7f4" stroke-width="2.8" stroke-linejoin="round"/>
<path d="M116.4 678.6 L117.7 680.5 L119 681.9 L120.3 681.7 L121.6 681.4 L123 679.7 L124.3 677.5 L125.6 674.1 L126.9 669.9" fill="none" stroke="#89b7f4" stroke-width="2.8" stroke-linejoin="round"/>
<path d="M128.9 678.5 L129.8 682.2 L130.7 679 L131.6 669.9" fill="none" stroke="#89b7f4" stroke-width="2.8" stroke-linejoin="round"/>
<path d="M147.3 708.4 L148.5 708.4" fill="none" stroke="#fbb676" stroke-width="2.6" stroke-linejoin="round"/>
<path d="M277 708.4 L282 708.4" fill="none" stroke="#fbb676" stroke-width="3.4" stroke-linejoin="round"/>
<path d="M148.5 708.4 L149.1 714.5 L150.1 719.2" fill="none" stroke="#fbb676" stroke-width="1.3" stroke-linejoin="round"/>
<path d="M150.1 719.2 L151.2 719.3 L152.3 719.5 L153.4 719.1 L154.5 719 L155.7 719 L156.8 718.7 L157.9 718.1 L159 718.8 L160.1 717.9 L161.2 718.4 L162.3 718.1 L163.4 718.3 L164.5 717.5 L165.7 717.3 L166.8 717.5 L167.9 717.8 L169 717.4 L170.1 717.2 L171.2 717.2 L172.3 717.3 L173.4 717.7 L174.5 717.2 L175.6 716.8 L176.8 717.2 L177.9 716.6 L179 717.6 L180.1 716.5 L181.2 717.1 L182.3 717.2 L183.4 717.2 L184.5 716.8 L185.6 717.2 L186.8 716.5 L187.9 716.6 L189 717.2 L190.1 716.8 L191.2 716.7 L192.3 716.8 L193.4 716.7 L194.5 716.4 L195.6 716.9 L196.8 716.2 L197.9 716.4 L199 717 L200.1 716.6 L201.2 716.9 L202.3 717.2 L203.4 716.3 L204.5 716.3 L205.6 717.1 L206.7 717.1 L207.9 716.2 L209 716.6 L210.1 716.7 L211.2 716.2 L212.3 716.1 L213.4 716.4 L214.5 717 L215.6 717 L216.7 717 L217.9 716.1 L219 717 L220.1 716.3 L221.2 716.8 L222.3 716.7 L223.4 717 L224.5 716 L225.6 716.8 L226.7 716.5 L227.8 716.6 L229 716.8 L230.1 716.1 L231.2 716.5 L232.3 716.4 L233.4 716.8 L234.5 716.1 L235.6 716.1 L236.7 716.6 L237.8 716.9 L239 716.5 L240.1 716.1 L241.2 716.7 L242.3 716.3 L243.4 716.7 L244.5 716.8 L245.6 716.4 L246.7 716.3 L247.8 716.9 L249 717.1 L250.1 716.7 L251.2 716.6 L252.3 716.7 L253.4 717 L254.5 716 L255.6 716.8 L256.7 716 L257.8 716.3 L258.9 716.2 L260.1 716.6 L261.2 717.1 L262.3 716.4 L263.4 716.8 L264.5 716.6 L265.6 716.2 L266.7 716.4 L267.8 716.9 L268.9 716.1 L270.1 716.2 L271.2 716.3 L272.3 716 L273.4 716 L274.5 717" fill="none" stroke="#fbb676" stroke-width="3.5" stroke-linejoin="round"/>
<path d="M274.5 717 L275.3 711.6 L277 708.4" fill="none" stroke="#fbb676" stroke-width="1.6" stroke-linejoin="round"/>
<path d="M148.5 708.4 L149.1 720.8 L150.1 730.5" fill="none" stroke="#fbb676" stroke-width="1.3" stroke-linejoin="round"/>
<path d="M150.1 730.5 L151.2 730.9 L152.3 730.6 L153.4 730.3 L154.5 729.9 L155.7 729.7 L156.8 729.9 L157.9 729.6 L159 728.8 L160.1 728.4 L161.2 728.9 L162.3 728.8 L163.4 728.9 L164.5 728.6 L165.7 727.7 L166.8 728 L167.9 727.5 L169 727.3 L170.1 728.1 L171.2 727.2 L172.3 727.3 L173.4 727.5 L174.5 726.8 L175.6 726.8 L176.8 726.9 L177.9 727.6 L179 727.3 L180.1 726.4 L181.2 727 L182.3 726.6 L183.4 727 L184.5 727 L185.6 727.1 L186.8 727 L187.9 726.7 L189 726.1 L190.1 726.9 L191.2 726.3 L192.3 726.9 L193.4 726.7 L194.5 726.5 L195.6 726.1 L196.8 726.4 L197.9 726.9 L199 725.8 L200.1 726.5 L201.2 726.2 L202.3 726.6 L203.4 726.3 L204.5 726.6 L205.6 725.9 L206.7 726.3 L207.9 726.7 L209 725.8 L210.1 726.6 L211.2 725.8 L212.3 725.6 L213.4 726.5 L214.5 725.9 L215.6 725.7 L216.7 726.2 L217.9 725.8 L219 726.2 L220.1 726.6 L221.2 726.6 L222.3 726.1 L223.4 726.5 L224.5 725.6 L225.6 725.8 L226.7 725.8 L227.8 726.1 L229 726.5 L230.1 725.9 L231.2 726.5 L232.3 725.9 L233.4 725.6 L234.5 725.8 L235.6 725.8 L236.7 726.3 L237.8 725.5 L239 725.7 L240.1 726 L241.2 725.7 L242.3 725.5 L243.4 726 L244.5 726.1 L245.6 725.8 L246.7 726.5 L247.8 726.4 L249 725.9 L250.1 726.4 L251.2 726.5 L252.3 725.5 L253.4 726.5 L254.5 726.1 L255.6 725.6 L256.7 725.7 L257.8 725.7 L258.9 725.8 L260.1 725.9 L261.2 726.2 L262.3 726.5 L263.4 726.1 L264.5 726 L265.6 726.3 L266.7 726.5 L267.8 725.7 L268.9 725.6 L270.1 726.4 L271.2 726.5 L272.3 725.8 L273.4 726.2 L274.5 725.9" fill="none" stroke="#fbb676" stroke-width="3.5" stroke-linejoin="round"/>
<path d="M274.5 725.9 L275.3 715.4 L277 708.4" fill="none" stroke="#fbb676" stroke-width="1.6" stroke-linejoin="round"/>
<path d="M148.5 708.4 L149.1 726.9 L150.1 741.3" fill="none" stroke="#fbb676" stroke-width="1.3" stroke-linejoin="round"/>
<path d="M150.1 741.3 L151.2 741.5 L152.3 741.2 L153.4 741.3 L154.5 740.3 L155.7 740.2 L156.8 740 L157.9 739.8 L159 739 L160.1 738.5 L161.2 738.7 L162.3 738.5 L163.4 738.1 L164.5 738.1 L165.7 737.7 L166.8 738.2 L167.9 737.9 L169 737.5 L170.1 737.7 L171.2 736.9 L172.3 736.8 L173.4 737.2 L174.5 737 L175.6 736.9 L176.8 736.7 L177.9 736.1 L179 736.4 L180.1 736.6 L181.2 736 L182.3 736.4 L183.4 735.7 L184.5 736.5 L185.6 735.8 L186.8 736.1 L187.9 736 L189 735.4 L190.1 735.6 L191.2 736.2 L192.3 735.2 L193.4 735.4 L194.5 735.6 L195.6 735.3 L196.8 735.8 L197.9 735 L199 735.6 L200.1 735.8 L201.2 735.2 L202.3 735 L203.4 734.9 L204.5 735.8 L205.6 734.8 L206.7 735.4 L207.9 734.7 L209 735.3 L210.1 735.8 L211.2 735.5 L212.3 735.2 L213.4 735.1 L214.5 735.3 L215.6 734.7 L216.7 735.6 L217.9 735.5 L219 734.7 L220.1 735.7 L221.2 734.6 L222.3 734.7 L223.4 735 L224.5 735.6 L225.6 735 L226.7 734.7 L227.8 735.3 L229 735.4 L230.1 735.4 L231.2 734.6 L232.3 734.6 L233.4 734.7 L234.5 735.3 L235.6 734.5 L236.7 735.4 L237.8 734.8 L239 734.5 L240.1 735.2 L241.2 735.3 L242.3 735 L243.4 734.5 L244.5 735 L245.6 734.7 L246.7 735.2 L247.8 735 L249 734.5 L250.1 734.8 L251.2 734.8 L252.3 734.5 L253.4 734.8 L254.5 735.1 L255.6 735.5 L256.7 735.1 L257.8 735.3 L258.9 735.1 L260.1 735.2 L261.2 734.6 L262.3 735.2 L263.4 734.7 L264.5 735.2 L265.6 735.5 L266.7 734.8 L267.8 734.7 L268.9 735.2 L270.1 735 L271.2 734.5 L272.3 734.7 L273.4 735.3 L274.5 735.5" fill="none" stroke="#fbb676" stroke-width="3.5" stroke-linejoin="round"/>
<path d="M274.5 735.5 L275.3 719 L277 708.4" fill="none" stroke="#fbb676" stroke-width="1.6" stroke-linejoin="round"/>
<path d="M148.5 708.4 L149.9 698.8 L151.4 691 L152.8 684.9 L154.3 680.5 L155.8 677.9 L157.2 677.9 L157.5 514.5 L158.1 682.5 L158.8 685.5 L160.1 688.6 L161.3 688.6 L162.6 687.4 L163.8 683.4 L165.1 676.7 L165.5 676.7 L165.8 518.3 L166.4 682.4 L167.1 685.4 L168.3 688.2 L169.6 688.6 L170.8 688.4 L172 686.3 L173.3 681.8 L174.5 677.1 L174.9 677.1 L175.2 519.8 L175.8 682.2 L176.5 685.2 L177.8 687.6 L179.2 688.4 L180.5 688.8 L181.9 687.4 L183.2 684.6 L184.6 681.2 L185.9 676.5 L186.3 676.5 L186.6 520 L187.2 682.1 L187.9 685.1 L189.2 687.7 L190.5 689 L191.8 688.5 L193 685.6 L194.3 682 L195.6 676 L196 676 L196.3 522.9 L196.9 681.9 L197.6 684.9 L198.9 688 L200.2 688.5 L201.4 688.1 L202.7 685.3 L204 681.9 L205.3 675.7 L205.7 675.7 L206 522.9 L206.6 681.8 L207.3 684.8 L208.7 687.2 L210.1 688.4 L211.5 688 L213 686.9 L214.4 684.7 L215.8 680.7 L217.2 675.5 L217.6 675.5 L217.9 523.6 L218.5 681.7 L219.2 684.7 L220.4 687.3 L221.7 688.4 L222.9 687.4 L224.1 685.1 L225.4 681.6 L226.6 675.4 L227 675.4 L227.3 522.9 L227.9 681.5 L228.6 684.5 L230 687.3 L231.4 688.4 L232.8 688.5 L234.3 686.6 L235.7 684.1 L237.1 680.6 L238.5 675.1 L238.9 675.1 L239.2 526.7 L239.8 681.4 L240.5 684.4 L241.8 687.2 L243.1 688.1 L244.4 687.9 L245.8 685.3 L247.1 681.2 L248.4 675.1 L248.8 675.1 L249.1 525.6 L249.7 681.2 L250.4 684.2 L251.8 686.9 L253.2 688.1 L254.6 688 L256.1 686.3 L257.5 683.7 L258.9 679.6 L260.3 674.3 L260.7 674.3 L261 526.7 L261.6 681.1 L262.3 684.1 L263.7 687.3 L265.1 687.7 L266.5 687.7 L267.9 684.4 L269.3 680.2 L270.7 674.1 L271.1 674.1 L271.4 526 L272 680.9 L272.7 683.9 L273.2 687.9 L273.6 684.5 L274.1 674.4 L275.2 684.8 L275.8 693.3 L276.5 699.9 L277.2 704.6 L277.8 707.5 L278.5 708.4" fill="none" stroke="#fbb676" stroke-width="1.1" stroke-linejoin="round"/>
<path d="M158.8 685.5 L160.1 688.6 L161.3 688.6 L162.6 687.4 L163.8 683.4 L165.1 676.7" fill="none" stroke="#fbb676" stroke-width="3" stroke-linejoin="round"/>
<path d="M167.1 685.4 L168.3 688.2 L169.6 688.6 L170.8 688.4 L172 686.3 L173.3 681.8 L174.5 677.1" fill="none" stroke="#fbb676" stroke-width="3" stroke-linejoin="round"/>
<path d="M176.5 685.2 L177.8 687.6 L179.2 688.4 L180.5 688.8 L181.9 687.4 L183.2 684.6 L184.6 681.2 L185.9 676.5" fill="none" stroke="#fbb676" stroke-width="3" stroke-linejoin="round"/>
<path d="M187.9 685.1 L189.2 687.7 L190.5 689 L191.8 688.5 L193 685.6 L194.3 682 L195.6 676" fill="none" stroke="#fbb676" stroke-width="3" stroke-linejoin="round"/>
<path d="M197.6 684.9 L198.9 688 L200.2 688.5 L201.4 688.1 L202.7 685.3 L204 681.9 L205.3 675.7" fill="none" stroke="#fbb676" stroke-width="3" stroke-linejoin="round"/>
<path d="M207.3 684.8 L208.7 687.2 L210.1 688.4 L211.5 688 L213 686.9 L214.4 684.7 L215.8 680.7 L217.2 675.5" fill="none" stroke="#fbb676" stroke-width="3" stroke-linejoin="round"/>
<path d="M219.2 684.7 L220.4 687.3 L221.7 688.4 L222.9 687.4 L224.1 685.1 L225.4 681.6 L226.6 675.4" fill="none" stroke="#fbb676" stroke-width="3" stroke-linejoin="round"/>
<path d="M228.6 684.5 L230 687.3 L231.4 688.4 L232.8 688.5 L234.3 686.6 L235.7 684.1 L237.1 680.6 L238.5 675.1" fill="none" stroke="#fbb676" stroke-width="3" stroke-linejoin="round"/>
<path d="M240.5 684.4 L241.8 687.2 L243.1 688.1 L244.4 687.9 L245.8 685.3 L247.1 681.2 L248.4 675.1" fill="none" stroke="#fbb676" stroke-width="3" stroke-linejoin="round"/>
<path d="M250.4 684.2 L251.8 686.9 L253.2 688.1 L254.6 688 L256.1 686.3 L257.5 683.7 L258.9 679.6 L260.3 674.3" fill="none" stroke="#fbb676" stroke-width="3" stroke-linejoin="round"/>
<path d="M262.3 684.1 L263.7 687.3 L265.1 687.7 L266.5 687.7 L267.9 684.4 L269.3 680.2 L270.7 674.1" fill="none" stroke="#fbb676" stroke-width="3" stroke-linejoin="round"/>
<path d="M272.7 683.9 L273.2 687.9 L273.6 684.5 L274.1 674.4" fill="none" stroke="#fbb676" stroke-width="3" stroke-linejoin="round"/>
<path d="M144.6 444.6 L144.6 478.9 L167.7 478.9" fill="none" stroke="#000" stroke-width="2.8" stroke-linejoin="round"/>
<text font-size="12.7" stroke="#000" stroke-width="0.4" transform="translate(139.7 480.5) rotate(-90) scale(1.0622 1)">20mV</text>
<text font-size="12.6" stroke="#000" stroke-width="0.4" transform="translate(132.9 494.3) scale(1.0791 1)">200ms</text>
<rect x="90" y="746.3" width="117" height="36.3" fill="none" stroke="#000" stroke-width="2.4"/>
<line x1="90" y1="762" x2="207" y2="762" stroke="#000" stroke-width="2.4"/>
<line x1="90" y1="771.3" x2="207" y2="771.3" stroke="#000" stroke-width="2.4"/>
<text x="88.7" y="750" font-size="12" text-anchor="end" textLength="17.5" lengthAdjust="spacingAndGlyphs" stroke="#000" stroke-width="0.5">110</text>
<text x="88.7" y="761.5" font-size="12" text-anchor="end" textLength="16" lengthAdjust="spacingAndGlyphs" stroke="#000" stroke-width="0.5">-30</text>
<text x="88.7" y="774" font-size="12" text-anchor="end" textLength="16" lengthAdjust="spacingAndGlyphs" stroke="#000" stroke-width="0.5">-70</text>
<text x="88.7" y="785" font-size="12" text-anchor="end" textLength="21" lengthAdjust="spacingAndGlyphs" stroke="#000" stroke-width="0.5">-110</text>
<text  font-size="17.5" text-anchor="middle" textLength="20" lengthAdjust="spacingAndGlyphs" transform="translate(61 764.2) rotate(-90)" stroke="#000" stroke-width="0.6">pA</text>
<text font-size="36" stroke="#000" stroke-width="0.7" transform="translate(295.5 30.2) scale(0.9825 1)">C</text>
<circle cx="373.1" cy="15.4" r="12.6" fill="#1990a7"/>
<circle cx="373.1" cy="45.7" r="12.6" fill="#fb933b"/>
<circle cx="373.1" cy="75" r="12.6" fill="#8dbcf6"/>
<circle cx="373.1" cy="104.7" r="12.6" fill="#fdb97a"/>
<text font-size="17.4" stroke="#000" stroke-width="0.5" transform="translate(388.7 21.6) scale(0.9074 1)">Control</text>
<text font-size="17.4" stroke="#000" stroke-width="0.5" transform="translate(389.1 52.7) scale(0.9569 1)">DHB</text>
<text font-size="16.9" stroke="#000" stroke-width="0.5" transform="translate(389.5 80.3) scale(0.9164 1)">Control+synap. blockers</text>
<text font-size="16.9" stroke="#000" stroke-width="0.5" transform="translate(389 110.3) scale(0.9315 1)">DHB+synap.blockers</text>
<text font-size="21.4" stroke="#000" stroke-width="0.5" transform="translate(480.3 23.2) scale(0.9676 1)">IV curve</text>
<line x1="354" y1="79.5" x2="354" y2="316.3" stroke="#000" stroke-width="2.2"/>
<line x1="349.5" y1="80.5" x2="354" y2="80.5" stroke="#000" stroke-width="2.2"/>
<text x="348" y="87" font-size="18" text-anchor="end" textLength="25.6" lengthAdjust="spacingAndGlyphs" stroke="#000" stroke-width="0.5">-40</text>
<line x1="349.5" y1="139.2" x2="354" y2="139.2" stroke="#000" stroke-width="2.2"/>
<text x="348" y="145.7" font-size="18" text-anchor="end" textLength="25.6" lengthAdjust="spacingAndGlyphs" stroke="#000" stroke-width="0.5">-50</text>
<line x1="349.5" y1="197.9" x2="354" y2="197.9" stroke="#000" stroke-width="2.2"/>
<text x="348" y="204.4" font-size="18" text-anchor="end" textLength="25.6" lengthAdjust="spacingAndGlyphs" stroke="#000" stroke-width="0.5">-60</text>
<line x1="349.5" y1="256.6" x2="354" y2="256.6" stroke="#000" stroke-width="2.2"/>
<text x="348" y="263.1" font-size="18" text-anchor="end" textLength="25.6" lengthAdjust="spacingAndGlyphs" stroke="#000" stroke-width="0.5">-70</text>
<line x1="349.5" y1="315.3" x2="354" y2="315.3" stroke="#000" stroke-width="2.2"/>
<text x="348" y="321.8" font-size="18" text-anchor="end" textLength="25.6" lengthAdjust="spacingAndGlyphs" stroke="#000" stroke-width="0.5">-80</text>
<text font-size="17.8" stroke="#000" stroke-width="0.5" transform="translate(315.5 288.8) rotate(-90) scale(0.9427 1)">Membrane potential (mV)</text>
<line x1="366.2" y1="326.5" x2="632" y2="326.5" stroke="#000" stroke-width="2.4"/>
<line x1="367.3" y1="326.5" x2="367.3" y2="333.5" stroke="#000" stroke-width="2.4"/>
<text x="367.3" y="349.7" font-size="18" text-anchor="middle" textLength="30.5" lengthAdjust="spacingAndGlyphs" stroke="#000" stroke-width="0.5">-110</text>
<line x1="411.2" y1="326.5" x2="411.2" y2="333.5" stroke="#000" stroke-width="2.4"/>
<text x="411.2" y="349.7" font-size="18" text-anchor="middle" textLength="23" lengthAdjust="spacingAndGlyphs" stroke="#000" stroke-width="0.5">-70</text>
<line x1="455.1" y1="326.5" x2="455.1" y2="333.5" stroke="#000" stroke-width="2.4"/>
<text x="455.1" y="349.7" font-size="18" text-anchor="middle" textLength="23" lengthAdjust="spacingAndGlyphs" stroke="#000" stroke-width="0.5">-30</text>
<line x1="499" y1="326.5" x2="499" y2="333.5" stroke="#000" stroke-width="2.4"/>
<text x="499" y="349.7" font-size="18" text-anchor="middle" textLength="16.5" lengthAdjust="spacingAndGlyphs" stroke="#000" stroke-width="0.5">10</text>
<line x1="542.9" y1="326.5" x2="542.9" y2="333.5" stroke="#000" stroke-width="2.4"/>
<text x="542.9" y="349.7" font-size="18" text-anchor="middle" textLength="16.5" lengthAdjust="spacingAndGlyphs" stroke="#000" stroke-width="0.5">50</text>
<line x1="586.8" y1="326.5" x2="586.8" y2="333.5" stroke="#000" stroke-width="2.4"/>
<text x="586.8" y="349.7" font-size="18" text-anchor="middle" textLength="16.5" lengthAdjust="spacingAndGlyphs" stroke="#000" stroke-width="0.5">90</text>
<line x1="630.7" y1="326.5" x2="630.7" y2="333.5" stroke="#000" stroke-width="2.4"/>
<text x="630.7" y="349.7" font-size="18" text-anchor="middle" textLength="25" lengthAdjust="spacingAndGlyphs" stroke="#000" stroke-width="0.5">130</text>
<text font-size="17.7" stroke="#000" stroke-width="0.5" transform="translate(429.3 372.5) scale(0.9885 1)">Injected current (pA)</text>
<path d="M367.3 304.1 L389.2 287.4 L411.2 271.3 L433.1 251.9 L455 232.5 L477 211.4 L498.9 184.4 L520.8 151.8 L542.7 121.6 L564.7 105.2 L586.6 91.1 L608.5 80.5 L630.5 69.6 L652.4 60.8" fill="none" stroke="#fbbd86" stroke-width="2" stroke-linejoin="round"/>
<line x1="367.3" y1="295.1" x2="367.3" y2="313.1" stroke="#fbbd86" stroke-width="2.3"/>
<line x1="358.8" y1="295.1" x2="375.8" y2="295.1" stroke="#fbbd86" stroke-width="2.9"/>
<line x1="358.8" y1="313.1" x2="375.8" y2="313.1" stroke="#fbbd86" stroke-width="2.9"/>
<line x1="389.2" y1="278.4" x2="389.2" y2="296.4" stroke="#fbbd86" stroke-width="2.3"/>
<line x1="380.7" y1="278.4" x2="397.7" y2="278.4" stroke="#fbbd86" stroke-width="2.9"/>
<line x1="380.7" y1="296.4" x2="397.7" y2="296.4" stroke="#fbbd86" stroke-width="2.9"/>
<line x1="411.2" y1="262.3" x2="411.2" y2="280.3" stroke="#fbbd86" stroke-width="2.3"/>
<line x1="402.7" y1="262.3" x2="419.7" y2="262.3" stroke="#fbbd86" stroke-width="2.9"/>
<line x1="402.7" y1="280.3" x2="419.7" y2="280.3" stroke="#fbbd86" stroke-width="2.9"/>
<line x1="433.1" y1="242.9" x2="433.1" y2="260.9" stroke="#fbbd86" stroke-width="2.3"/>
<line x1="424.6" y1="242.9" x2="441.6" y2="242.9" stroke="#fbbd86" stroke-width="2.9"/>
<line x1="424.6" y1="260.9" x2="441.6" y2="260.9" stroke="#fbbd86" stroke-width="2.9"/>
<line x1="455" y1="223.5" x2="455" y2="241.5" stroke="#fbbd86" stroke-width="2.3"/>
<line x1="446.5" y1="223.5" x2="463.5" y2="223.5" stroke="#fbbd86" stroke-width="2.9"/>
<line x1="446.5" y1="241.5" x2="463.5" y2="241.5" stroke="#fbbd86" stroke-width="2.9"/>
<line x1="477" y1="202.4" x2="477" y2="220.4" stroke="#fbbd86" stroke-width="2.3"/>
<line x1="468.5" y1="202.4" x2="485.5" y2="202.4" stroke="#fbbd86" stroke-width="2.9"/>
<line x1="468.5" y1="220.4" x2="485.5" y2="220.4" stroke="#fbbd86" stroke-width="2.9"/>
<line x1="498.9" y1="175.4" x2="498.9" y2="193.4" stroke="#fbbd86" stroke-width="2.3"/>
<line x1="490.4" y1="175.4" x2="507.4" y2="175.4" stroke="#fbbd86" stroke-width="2.9"/>
<line x1="490.4" y1="193.4" x2="507.4" y2="193.4" stroke="#fbbd86" stroke-width="2.9"/>
<line x1="520.8" y1="142.8" x2="520.8" y2="160.8" stroke="#fbbd86" stroke-width="2.3"/>
<line x1="512.3" y1="142.8" x2="529.3" y2="142.8" stroke="#fbbd86" stroke-width="2.9"/>
<line x1="512.3" y1="160.8" x2="529.3" y2="160.8" stroke="#fbbd86" stroke-width="2.9"/>
<line x1="542.7" y1="112.6" x2="542.7" y2="130.6" stroke="#fbbd86" stroke-width="2.3"/>
<line x1="534.2" y1="112.6" x2="551.2" y2="112.6" stroke="#fbbd86" stroke-width="2.9"/>
<line x1="534.2" y1="130.6" x2="551.2" y2="130.6" stroke="#fbbd86" stroke-width="2.9"/>
<line x1="564.7" y1="96.2" x2="564.7" y2="114.2" stroke="#fbbd86" stroke-width="2.3"/>
<line x1="556.2" y1="96.2" x2="573.2" y2="96.2" stroke="#fbbd86" stroke-width="2.9"/>
<line x1="556.2" y1="114.2" x2="573.2" y2="114.2" stroke="#fbbd86" stroke-width="2.9"/>
<line x1="586.6" y1="82.1" x2="586.6" y2="100.1" stroke="#fbbd86" stroke-width="2.3"/>
<line x1="578.1" y1="82.1" x2="595.1" y2="82.1" stroke="#fbbd86" stroke-width="2.9"/>
<line x1="578.1" y1="100.1" x2="595.1" y2="100.1" stroke="#fbbd86" stroke-width="2.9"/>
<line x1="608.5" y1="71.5" x2="608.5" y2="89.5" stroke="#fbbd86" stroke-width="2.3"/>
<line x1="600" y1="71.5" x2="617" y2="71.5" stroke="#fbbd86" stroke-width="2.9"/>
<line x1="600" y1="89.5" x2="617" y2="89.5" stroke="#fbbd86" stroke-width="2.9"/>
<line x1="630.5" y1="60.6" x2="630.5" y2="78.6" stroke="#fbbd86" stroke-width="2.3"/>
<line x1="622" y1="60.6" x2="639" y2="60.6" stroke="#fbbd86" stroke-width="2.9"/>
<line x1="622" y1="78.6" x2="639" y2="78.6" stroke="#fbbd86" stroke-width="2.9"/>
<line x1="652.4" y1="51.8" x2="652.4" y2="69.8" stroke="#fbbd86" stroke-width="2.3"/>
<line x1="643.9" y1="51.8" x2="660.9" y2="51.8" stroke="#fbbd86" stroke-width="2.9"/>
<line x1="643.9" y1="69.8" x2="660.9" y2="69.8" stroke="#fbbd86" stroke-width="2.9"/>
<circle cx="367.3" cy="304.1" r="9.3" fill="#fbbd86"/>
<circle cx="389.2" cy="287.4" r="9.3" fill="#fbbd86"/>
<circle cx="411.2" cy="271.3" r="9.3" fill="#fbbd86"/>
<circle cx="433.1" cy="251.9" r="9.3" fill="#fbbd86"/>
<circle cx="455" cy="232.5" r="9.3" fill="#fbbd86"/>
<circle cx="477" cy="211.4" r="9.3" fill="#fbbd86"/>
<circle cx="498.9" cy="184.4" r="9.3" fill="#fbbd86"/>
<circle cx="520.8" cy="151.8" r="9.3" fill="#fbbd86"/>
<circle cx="542.7" cy="121.6" r="9.3" fill="#fbbd86"/>
<circle cx="564.7" cy="105.2" r="9.3" fill="#fbbd86"/>
<circle cx="586.6" cy="91.1" r="9.3" fill="#fbbd86"/>
<circle cx="608.5" cy="80.5" r="9.3" fill="#fbbd86"/>
<circle cx="630.5" cy="69.6" r="9.3" fill="#fbbd86"/>
<circle cx="652.4" cy="60.8" r="9.3" fill="#fbbd86"/>
<path d="M367.3 313 L389.2 297.1 L411.2 280.7 L433.1 261.3 L455 241.9 L477 220.8 L498.9 193.2 L520.8 155.6 L542.7 118.7 L564.7 104 L586.6 89.9 L608.5 79.3 L630.5 68.8 L652.4 58.8" fill="none" stroke="#94bdf4" stroke-width="2" stroke-linejoin="round"/>
<line x1="367.3" y1="303.5" x2="367.3" y2="322.5" stroke="#94bdf4" stroke-width="2.3"/>
<line x1="358.8" y1="303.5" x2="375.8" y2="303.5" stroke="#94bdf4" stroke-width="2.9"/>
<line x1="358.8" y1="322.5" x2="375.8" y2="322.5" stroke="#94bdf4" stroke-width="2.9"/>
<line x1="389.2" y1="287.6" x2="389.2" y2="306.6" stroke="#94bdf4" stroke-width="2.3"/>
<line x1="380.7" y1="287.6" x2="397.7" y2="287.6" stroke="#94bdf4" stroke-width="2.9"/>
<line x1="380.7" y1="306.6" x2="397.7" y2="306.6" stroke="#94bdf4" stroke-width="2.9"/>
<line x1="411.2" y1="271.2" x2="411.2" y2="290.2" stroke="#94bdf4" stroke-width="2.3"/>
<line x1="402.7" y1="271.2" x2="419.7" y2="271.2" stroke="#94bdf4" stroke-width="2.9"/>
<line x1="402.7" y1="290.2" x2="419.7" y2="290.2" stroke="#94bdf4" stroke-width="2.9"/>
<line x1="433.1" y1="251.8" x2="433.1" y2="270.8" stroke="#94bdf4" stroke-width="2.3"/>
<line x1="424.6" y1="251.8" x2="441.6" y2="251.8" stroke="#94bdf4" stroke-width="2.9"/>
<line x1="424.6" y1="270.8" x2="441.6" y2="270.8" stroke="#94bdf4" stroke-width="2.9"/>
<line x1="455" y1="232.4" x2="455" y2="251.4" stroke="#94bdf4" stroke-width="2.3"/>
<line x1="446.5" y1="232.4" x2="463.5" y2="232.4" stroke="#94bdf4" stroke-width="2.9"/>
<line x1="446.5" y1="251.4" x2="463.5" y2="251.4" stroke="#94bdf4" stroke-width="2.9"/>
<line x1="477" y1="211.3" x2="477" y2="230.3" stroke="#94bdf4" stroke-width="2.3"/>
<line x1="468.5" y1="211.3" x2="485.5" y2="211.3" stroke="#94bdf4" stroke-width="2.9"/>
<line x1="468.5" y1="230.3" x2="485.5" y2="230.3" stroke="#94bdf4" stroke-width="2.9"/>
<line x1="498.9" y1="183.7" x2="498.9" y2="202.7" stroke="#94bdf4" stroke-width="2.3"/>
<line x1="490.4" y1="183.7" x2="507.4" y2="183.7" stroke="#94bdf4" stroke-width="2.9"/>
<line x1="490.4" y1="202.7" x2="507.4" y2="202.7" stroke="#94bdf4" stroke-width="2.9"/>
<line x1="520.8" y1="146.1" x2="520.8" y2="165.1" stroke="#94bdf4" stroke-width="2.3"/>
<line x1="512.3" y1="146.1" x2="529.3" y2="146.1" stroke="#94bdf4" stroke-width="2.9"/>
<line x1="512.3" y1="165.1" x2="529.3" y2="165.1" stroke="#94bdf4" stroke-width="2.9"/>
<line x1="542.7" y1="109.2" x2="542.7" y2="128.2" stroke="#94bdf4" stroke-width="2.3"/>
<line x1="534.2" y1="109.2" x2="551.2" y2="109.2" stroke="#94bdf4" stroke-width="2.9"/>
<line x1="534.2" y1="128.2" x2="551.2" y2="128.2" stroke="#94bdf4" stroke-width="2.9"/>
<line x1="564.7" y1="94.5" x2="564.7" y2="113.5" stroke="#94bdf4" stroke-width="2.3"/>
<line x1="556.2" y1="94.5" x2="573.2" y2="94.5" stroke="#94bdf4" stroke-width="2.9"/>
<line x1="556.2" y1="113.5" x2="573.2" y2="113.5" stroke="#94bdf4" stroke-width="2.9"/>
<line x1="586.6" y1="80.4" x2="586.6" y2="99.4" stroke="#94bdf4" stroke-width="2.3"/>
<line x1="578.1" y1="80.4" x2="595.1" y2="80.4" stroke="#94bdf4" stroke-width="2.9"/>
<line x1="578.1" y1="99.4" x2="595.1" y2="99.4" stroke="#94bdf4" stroke-width="2.9"/>
<line x1="608.5" y1="69.8" x2="608.5" y2="88.8" stroke="#94bdf4" stroke-width="2.3"/>
<line x1="600" y1="69.8" x2="617" y2="69.8" stroke="#94bdf4" stroke-width="2.9"/>
<line x1="600" y1="88.8" x2="617" y2="88.8" stroke="#94bdf4" stroke-width="2.9"/>
<line x1="630.5" y1="59.3" x2="630.5" y2="78.3" stroke="#94bdf4" stroke-width="2.3"/>
<line x1="622" y1="59.3" x2="639" y2="59.3" stroke="#94bdf4" stroke-width="2.9"/>
<line x1="622" y1="78.3" x2="639" y2="78.3" stroke="#94bdf4" stroke-width="2.9"/>
<line x1="652.4" y1="49.3" x2="652.4" y2="68.3" stroke="#94bdf4" stroke-width="2.3"/>
<line x1="643.9" y1="49.3" x2="660.9" y2="49.3" stroke="#94bdf4" stroke-width="2.9"/>
<line x1="643.9" y1="68.3" x2="660.9" y2="68.3" stroke="#94bdf4" stroke-width="2.9"/>
<circle cx="367.3" cy="313" r="9.3" fill="#94bdf4"/>
<circle cx="389.2" cy="297.1" r="9.3" fill="#94bdf4"/>
<circle cx="411.2" cy="280.7" r="9.3" fill="#94bdf4"/>
<circle cx="433.1" cy="261.3" r="9.3" fill="#94bdf4"/>
<circle cx="455" cy="241.9" r="9.3" fill="#94bdf4"/>
<circle cx="477" cy="220.8" r="9.3" fill="#94bdf4"/>
<circle cx="498.9" cy="193.2" r="9.3" fill="#94bdf4"/>
<circle cx="520.8" cy="155.6" r="9.3" fill="#94bdf4"/>
<circle cx="542.7" cy="118.7" r="9.3" fill="#94bdf4"/>
<circle cx="564.7" cy="104" r="9.3" fill="#94bdf4"/>
<circle cx="586.6" cy="89.9" r="9.3" fill="#94bdf4"/>
<circle cx="608.5" cy="79.3" r="9.3" fill="#94bdf4"/>
<circle cx="630.5" cy="68.8" r="9.3" fill="#94bdf4"/>
<circle cx="652.4" cy="58.8" r="9.3" fill="#94bdf4"/>
<path d="M367.3 295.3 L389.2 277.7 L411.2 261.9 L433.1 242.5 L455 223.1 L477 202 L498.9 175.6 L520.8 148 L542.7 124.5 L564.7 106.3 L586.6 92.2 L608.5 81.7 L630.5 70.5 L652.4 62.9" fill="none" stroke="#fa8417" stroke-width="2" stroke-linejoin="round"/>
<line x1="367.3" y1="288.8" x2="367.3" y2="301.8" stroke="#fa8417" stroke-width="2.3"/>
<line x1="358.8" y1="288.8" x2="375.8" y2="288.8" stroke="#fa8417" stroke-width="2.9"/>
<line x1="358.8" y1="301.8" x2="375.8" y2="301.8" stroke="#fa8417" stroke-width="2.9"/>
<line x1="389.2" y1="271.2" x2="389.2" y2="284.2" stroke="#fa8417" stroke-width="2.3"/>
<line x1="380.7" y1="271.2" x2="397.7" y2="271.2" stroke="#fa8417" stroke-width="2.9"/>
<line x1="380.7" y1="284.2" x2="397.7" y2="284.2" stroke="#fa8417" stroke-width="2.9"/>
<line x1="411.2" y1="255.4" x2="411.2" y2="268.4" stroke="#fa8417" stroke-width="2.3"/>
<line x1="402.7" y1="255.4" x2="419.7" y2="255.4" stroke="#fa8417" stroke-width="2.9"/>
<line x1="402.7" y1="268.4" x2="419.7" y2="268.4" stroke="#fa8417" stroke-width="2.9"/>
<line x1="433.1" y1="236" x2="433.1" y2="249" stroke="#fa8417" stroke-width="2.3"/>
<line x1="424.6" y1="236" x2="441.6" y2="236" stroke="#fa8417" stroke-width="2.9"/>
<line x1="424.6" y1="249" x2="441.6" y2="249" stroke="#fa8417" stroke-width="2.9"/>
<line x1="455" y1="216.6" x2="455" y2="229.6" stroke="#fa8417" stroke-width="2.3"/>
<line x1="446.5" y1="216.6" x2="463.5" y2="216.6" stroke="#fa8417" stroke-width="2.9"/>
<line x1="446.5" y1="229.6" x2="463.5" y2="229.6" stroke="#fa8417" stroke-width="2.9"/>
<line x1="477" y1="195.5" x2="477" y2="208.5" stroke="#fa8417" stroke-width="2.3"/>
<line x1="468.5" y1="195.5" x2="485.5" y2="195.5" stroke="#fa8417" stroke-width="2.9"/>
<line x1="468.5" y1="208.5" x2="485.5" y2="208.5" stroke="#fa8417" stroke-width="2.9"/>
<line x1="498.9" y1="169.1" x2="498.9" y2="182.1" stroke="#fa8417" stroke-width="2.3"/>
<line x1="490.4" y1="169.1" x2="507.4" y2="169.1" stroke="#fa8417" stroke-width="2.9"/>
<line x1="490.4" y1="182.1" x2="507.4" y2="182.1" stroke="#fa8417" stroke-width="2.9"/>
<line x1="520.8" y1="141.5" x2="520.8" y2="154.5" stroke="#fa8417" stroke-width="2.3"/>
<line x1="512.3" y1="141.5" x2="529.3" y2="141.5" stroke="#fa8417" stroke-width="2.9"/>
<line x1="512.3" y1="154.5" x2="529.3" y2="154.5" stroke="#fa8417" stroke-width="2.9"/>
<line x1="542.7" y1="118" x2="542.7" y2="131" stroke="#fa8417" stroke-width="2.3"/>
<line x1="534.2" y1="118" x2="551.2" y2="118" stroke="#fa8417" stroke-width="2.9"/>
<line x1="534.2" y1="131" x2="551.2" y2="131" stroke="#fa8417" stroke-width="2.9"/>
<line x1="564.7" y1="99.8" x2="564.7" y2="112.8" stroke="#fa8417" stroke-width="2.3"/>
<line x1="556.2" y1="99.8" x2="573.2" y2="99.8" stroke="#fa8417" stroke-width="2.9"/>
<line x1="556.2" y1="112.8" x2="573.2" y2="112.8" stroke="#fa8417" stroke-width="2.9"/>
<line x1="586.6" y1="85.7" x2="586.6" y2="98.7" stroke="#fa8417" stroke-width="2.3"/>
<line x1="578.1" y1="85.7" x2="595.1" y2="85.7" stroke="#fa8417" stroke-width="2.9"/>
<line x1="578.1" y1="98.7" x2="595.1" y2="98.7" stroke="#fa8417" stroke-width="2.9"/>
<line x1="608.5" y1="75.2" x2="608.5" y2="88.2" stroke="#fa8417" stroke-width="2.3"/>
<line x1="600" y1="75.2" x2="617" y2="75.2" stroke="#fa8417" stroke-width="2.9"/>
<line x1="600" y1="88.2" x2="617" y2="88.2" stroke="#fa8417" stroke-width="2.9"/>
<line x1="630.5" y1="64" x2="630.5" y2="77" stroke="#fa8417" stroke-width="2.3"/>
<line x1="622" y1="64" x2="639" y2="64" stroke="#fa8417" stroke-width="2.9"/>
<line x1="622" y1="77" x2="639" y2="77" stroke="#fa8417" stroke-width="2.9"/>
<line x1="652.4" y1="56.4" x2="652.4" y2="69.4" stroke="#fa8417" stroke-width="2.3"/>
<line x1="643.9" y1="56.4" x2="660.9" y2="56.4" stroke="#fa8417" stroke-width="2.9"/>
<line x1="643.9" y1="69.4" x2="660.9" y2="69.4" stroke="#fa8417" stroke-width="2.9"/>
<circle cx="367.3" cy="295.3" r="9.3" fill="#fa8417"/>
<circle cx="389.2" cy="277.7" r="9.3" fill="#fa8417"/>
<circle cx="411.2" cy="261.9" r="9.3" fill="#fa8417"/>
<circle cx="433.1" cy="242.5" r="9.3" fill="#fa8417"/>
<circle cx="455" cy="223.1" r="9.3" fill="#fa8417"/>
<circle cx="477" cy="202" r="9.3" fill="#fa8417"/>
<circle cx="498.9" cy="175.6" r="9.3" fill="#fa8417"/>
<circle cx="520.8" cy="148" r="9.3" fill="#fa8417"/>
<circle cx="542.7" cy="124.5" r="9.3" fill="#fa8417"/>
<circle cx="564.7" cy="106.3" r="9.3" fill="#fa8417"/>
<circle cx="586.6" cy="92.2" r="9.3" fill="#fa8417"/>
<circle cx="608.5" cy="81.7" r="9.3" fill="#fa8417"/>
<circle cx="630.5" cy="70.5" r="9.3" fill="#fa8417"/>
<circle cx="652.4" cy="62.9" r="9.3" fill="#fa8417"/>
<path d="M367.3 290.6 L389.2 275.4 L411.2 260.1 L433.1 243.1 L455 225.5 L477 206.1 L498.9 183.8 L520.8 162.1 L542.7 139.8 L564.7 119.2 L586.6 104 L608.5 94 L630.5 82.8 L652.4 73.5" fill="none" stroke="#0f7d93" stroke-width="2" stroke-linejoin="round"/>
<line x1="367.3" y1="286.6" x2="367.3" y2="294.6" stroke="#0f7d93" stroke-width="2.3"/>
<line x1="358.8" y1="286.6" x2="375.8" y2="286.6" stroke="#0f7d93" stroke-width="2.9"/>
<line x1="358.8" y1="294.6" x2="375.8" y2="294.6" stroke="#0f7d93" stroke-width="2.9"/>
<line x1="389.2" y1="271.4" x2="389.2" y2="279.4" stroke="#0f7d93" stroke-width="2.3"/>
<line x1="380.7" y1="271.4" x2="397.7" y2="271.4" stroke="#0f7d93" stroke-width="2.9"/>
<line x1="380.7" y1="279.4" x2="397.7" y2="279.4" stroke="#0f7d93" stroke-width="2.9"/>
<line x1="411.2" y1="256.1" x2="411.2" y2="264.1" stroke="#0f7d93" stroke-width="2.3"/>
<line x1="402.7" y1="256.1" x2="419.7" y2="256.1" stroke="#0f7d93" stroke-width="2.9"/>
<line x1="402.7" y1="264.1" x2="419.7" y2="264.1" stroke="#0f7d93" stroke-width="2.9"/>
<line x1="433.1" y1="239.1" x2="433.1" y2="247.1" stroke="#0f7d93" stroke-width="2.3"/>
<line x1="424.6" y1="239.1" x2="441.6" y2="239.1" stroke="#0f7d93" stroke-width="2.9"/>
<line x1="424.6" y1="247.1" x2="441.6" y2="247.1" stroke="#0f7d93" stroke-width="2.9"/>
<line x1="455" y1="221.5" x2="455" y2="229.5" stroke="#0f7d93" stroke-width="2.3"/>
<line x1="446.5" y1="221.5" x2="463.5" y2="221.5" stroke="#0f7d93" stroke-width="2.9"/>
<line x1="446.5" y1="229.5" x2="463.5" y2="229.5" stroke="#0f7d93" stroke-width="2.9"/>
<line x1="477" y1="202.1" x2="477" y2="210.1" stroke="#0f7d93" stroke-width="2.3"/>
<line x1="468.5" y1="202.1" x2="485.5" y2="202.1" stroke="#0f7d93" stroke-width="2.9"/>
<line x1="468.5" y1="210.1" x2="485.5" y2="210.1" stroke="#0f7d93" stroke-width="2.9"/>
<line x1="498.9" y1="179.8" x2="498.9" y2="187.8" stroke="#0f7d93" stroke-width="2.3"/>
<line x1="490.4" y1="179.8" x2="507.4" y2="179.8" stroke="#0f7d93" stroke-width="2.9"/>
<line x1="490.4" y1="187.8" x2="507.4" y2="187.8" stroke="#0f7d93" stroke-width="2.9"/>
<line x1="520.8" y1="154.1" x2="520.8" y2="170.1" stroke="#0f7d93" stroke-width="2.3"/>
<line x1="512.3" y1="154.1" x2="529.3" y2="154.1" stroke="#0f7d93" stroke-width="2.9"/>
<line x1="512.3" y1="170.1" x2="529.3" y2="170.1" stroke="#0f7d93" stroke-width="2.9"/>
<line x1="542.7" y1="131.8" x2="542.7" y2="147.8" stroke="#0f7d93" stroke-width="2.3"/>
<line x1="534.2" y1="131.8" x2="551.2" y2="131.8" stroke="#0f7d93" stroke-width="2.9"/>
<line x1="534.2" y1="147.8" x2="551.2" y2="147.8" stroke="#0f7d93" stroke-width="2.9"/>
<line x1="564.7" y1="111.2" x2="564.7" y2="127.2" stroke="#0f7d93" stroke-width="2.3"/>
<line x1="556.2" y1="111.2" x2="573.2" y2="111.2" stroke="#0f7d93" stroke-width="2.9"/>
<line x1="556.2" y1="127.2" x2="573.2" y2="127.2" stroke="#0f7d93" stroke-width="2.9"/>
<line x1="586.6" y1="96" x2="586.6" y2="112" stroke="#0f7d93" stroke-width="2.3"/>
<line x1="578.1" y1="96" x2="595.1" y2="96" stroke="#0f7d93" stroke-width="2.9"/>
<line x1="578.1" y1="112" x2="595.1" y2="112" stroke="#0f7d93" stroke-width="2.9"/>
<line x1="608.5" y1="86" x2="608.5" y2="102" stroke="#0f7d93" stroke-width="2.3"/>
<line x1="600" y1="86" x2="617" y2="86" stroke="#0f7d93" stroke-width="2.9"/>
<line x1="600" y1="102" x2="617" y2="102" stroke="#0f7d93" stroke-width="2.9"/>
<line x1="630.5" y1="74.8" x2="630.5" y2="90.8" stroke="#0f7d93" stroke-width="2.3"/>
<line x1="622" y1="74.8" x2="639" y2="74.8" stroke="#0f7d93" stroke-width="2.9"/>
<line x1="622" y1="90.8" x2="639" y2="90.8" stroke="#0f7d93" stroke-width="2.9"/>
<line x1="652.4" y1="65.5" x2="652.4" y2="81.5" stroke="#0f7d93" stroke-width="2.3"/>
<line x1="643.9" y1="65.5" x2="660.9" y2="65.5" stroke="#0f7d93" stroke-width="2.9"/>
<line x1="643.9" y1="81.5" x2="660.9" y2="81.5" stroke="#0f7d93" stroke-width="2.9"/>
<circle cx="367.3" cy="290.6" r="9.3" fill="#0f7d93"/>
<circle cx="389.2" cy="275.4" r="9.3" fill="#0f7d93"/>
<circle cx="411.2" cy="260.1" r="9.3" fill="#0f7d93"/>
<circle cx="433.1" cy="243.1" r="9.3" fill="#0f7d93"/>
<circle cx="455" cy="225.5" r="9.3" fill="#0f7d93"/>
<circle cx="477" cy="206.1" r="9.3" fill="#0f7d93"/>
<circle cx="498.9" cy="183.8" r="9.3" fill="#0f7d93"/>
<circle cx="520.8" cy="162.1" r="9.3" fill="#0f7d93"/>
<circle cx="542.7" cy="139.8" r="9.3" fill="#0f7d93"/>
<circle cx="564.7" cy="119.2" r="9.3" fill="#0f7d93"/>
<circle cx="586.6" cy="104" r="9.3" fill="#0f7d93"/>
<circle cx="608.5" cy="94" r="9.3" fill="#0f7d93"/>
<circle cx="630.5" cy="82.8" r="9.3" fill="#0f7d93"/>
<circle cx="652.4" cy="73.5" r="9.3" fill="#0f7d93"/>
<rect x="520" y="160" width="140" height="160" fill="#fff" opacity="0"/>
<line x1="582.3" y1="170.2" x2="582.3" y2="311" stroke="#000" stroke-width="1.8"/>
<line x1="578.3" y1="310" x2="582.3" y2="310" stroke="#000" stroke-width="1.8"/>
<line x1="578.3" y1="286.9" x2="582.3" y2="286.9" stroke="#000" stroke-width="1.8"/>
<line x1="578.3" y1="263.7" x2="582.3" y2="263.7" stroke="#000" stroke-width="1.8"/>
<line x1="578.3" y1="240.6" x2="582.3" y2="240.6" stroke="#000" stroke-width="1.8"/>
<line x1="578.3" y1="217.5" x2="582.3" y2="217.5" stroke="#000" stroke-width="1.8"/>
<line x1="578.3" y1="194.3" x2="582.3" y2="194.3" stroke="#000" stroke-width="1.8"/>
<line x1="578.3" y1="171.2" x2="582.3" y2="171.2" stroke="#000" stroke-width="1.8"/>
<text x="578.5" y="316" font-size="16.5" text-anchor="end" textLength="25.5" lengthAdjust="spacingAndGlyphs" stroke="#000" stroke-width="0.5">400</text>
<text x="578.5" y="269.7" font-size="16.5" text-anchor="end" textLength="25.5" lengthAdjust="spacingAndGlyphs" stroke="#000" stroke-width="0.5">600</text>
<text x="578.5" y="223.5" font-size="16.5" text-anchor="end" textLength="25.5" lengthAdjust="spacingAndGlyphs" stroke="#000" stroke-width="0.5">800</text>
<text x="578.5" y="177.2" font-size="16.5" text-anchor="end" textLength="33.6" lengthAdjust="spacingAndGlyphs" stroke="#000" stroke-width="0.5">1000</text>
<text font-size="18.5" stroke="#000" stroke-width="0.5" transform="translate(542.7 248.1) rotate(-90) scale(0.8473 1)">A.U.C</text>
<path d="M593.9 173.5 L594 174.2 L594.2 175.1 L594.4 176.2 L594.6 177.4 L594.8 178.7 L595.1 180.1 L595.3 181.4 L595.5 182.7 L595.7 184 L595.9 185.1 L596 186.1 L596.2 187.1 L596.3 188 L596.4 188.9 L596.5 189.7 L596.6 190.6 L596.7 191.5 L596.8 192.4 L596.8 193.3 L596.9 194.3 L596.9 195.4 L596.9 196.5 L596.9 197.6 L596.9 198.8 L596.8 200 L596.8 201.2 L596.8 202.4 L596.8 203.6 L596.8 204.7 L596.9 205.9 L597 207.1 L597.1 208.3 L597.3 209.5 L597.5 210.8 L597.6 212 L597.9 213.2 L598.1 214.4 L598.3 215.5 L598.6 216.5 L598.9 217.5 L599.2 218.4 L599.6 219.2 L600.1 220 L600.5 220.7 L601 221.4 L601.5 222 L601.9 222.7 L602.3 223.3 L602.6 223.8 L602.9 224.4 L603.1 225 L603.3 225.5 L603.4 225.9 L603.5 226.3 L603.6 226.7 L603.7 227.1 L603.7 227.6 L603.6 228 L603.5 228.5 L603.4 229 L603.2 229.6 L602.9 230.3 L602.6 231 L602.3 231.7 L601.9 232.4 L601.5 233.1 L601 233.8 L600.6 234.6 L600.2 235.3 L599.9 236 L599.6 236.7 L599.2 237.3 L598.8 238 L598.5 238.6 L598.1 239.3 L597.8 240 L597.5 240.7 L597.2 241.4 L597 242.1 L596.9 242.9 L596.8 243.7 L596.9 244.6 L597 245.5 L597.1 246.3 L597.3 247.3 L597.5 248.2 L597.7 249.2 L597.8 250.1 L597.9 251.1 L597.9 252.2 L597.8 253.2 L597.7 254.3 L597.6 255.5 L597.4 256.6 L597.2 257.8 L597 259 L596.9 260.2 L596.7 261.4 L596.5 262.6 L596.4 263.7 L596.3 264.9 L596.3 266.1 L596.2 267.2 L596.2 268.4 L596.2 269.6 L596.2 270.8 L596.1 271.9 L596.1 273.1 L596 274.2 L595.9 275.3 L595.8 276.4 L595.6 277.6 L595.3 278.8 L595.1 280.1 L594.9 281.2 L594.6 282.4 L594.4 283.4 L594.2 284.3 L594 285.1 L593.9 285.7 L593.9 285.7 L593.8 285.1 L593.6 284.3 L593.4 283.4 L593.2 282.4 L592.9 281.2 L592.7 280.1 L592.5 278.8 L592.2 277.6 L592 276.4 L591.9 275.3 L591.8 274.2 L591.7 273.1 L591.7 271.9 L591.6 270.8 L591.6 269.6 L591.6 268.4 L591.6 267.2 L591.5 266.1 L591.5 264.9 L591.4 263.7 L591.3 262.6 L591.1 261.4 L590.9 260.2 L590.8 259 L590.6 257.8 L590.4 256.6 L590.2 255.5 L590.1 254.3 L590 253.2 L589.9 252.2 L589.9 251.1 L590 250.1 L590.1 249.2 L590.3 248.2 L590.5 247.3 L590.7 246.3 L590.8 245.5 L590.9 244.6 L591 243.7 L590.9 242.9 L590.8 242.1 L590.6 241.4 L590.3 240.7 L590 240 L589.7 239.3 L589.3 238.6 L589 238 L588.6 237.3 L588.2 236.7 L587.9 236 L587.6 235.3 L587.2 234.6 L586.8 233.8 L586.3 233.1 L585.9 232.4 L585.5 231.7 L585.2 231 L584.9 230.3 L584.6 229.6 L584.4 229 L584.3 228.5 L584.2 228 L584.1 227.6 L584.1 227.1 L584.2 226.7 L584.3 226.3 L584.4 225.9 L584.5 225.5 L584.7 225 L584.9 224.4 L585.2 223.8 L585.5 223.3 L585.9 222.7 L586.3 222 L586.8 221.4 L587.3 220.7 L587.7 220 L588.2 219.2 L588.6 218.4 L588.9 217.5 L589.2 216.5 L589.5 215.5 L589.7 214.4 L589.9 213.2 L590.1 212 L590.3 210.8 L590.5 209.5 L590.7 208.3 L590.8 207.1 L590.9 205.9 L591 204.7 L591 203.6 L591 202.4 L591 201.2 L591 200 L590.9 198.8 L590.9 197.6 L590.9 196.5 L590.9 195.4 L590.9 194.3 L591 193.3 L591 192.4 L591.1 191.5 L591.2 190.6 L591.3 189.7 L591.4 188.9 L591.5 188 L591.6 187.1 L591.8 186.1 L591.9 185.1 L592.1 184 L592.3 182.7 L592.5 181.4 L592.7 180.1 L593 178.7 L593.2 177.4 L593.4 176.2 L593.6 175.1 L593.8 174.2 L593.9 173.5 Z" fill="#fff" stroke="#168aa0" stroke-width="2" stroke-linejoin="round"/>
<line x1="587.3" y1="220.7" x2="600.5" y2="220.7" stroke="#168aa0" stroke-width="1.3" stroke-dasharray="1.6 1.6"/>
<line x1="584.1" y1="227.6" x2="603.7" y2="227.6" stroke="#168aa0" stroke-width="1.3" stroke-dasharray="1.6 1.6"/>
<line x1="587.6" y1="235.3" x2="600.2" y2="235.3" stroke="#168aa0" stroke-width="1.3" stroke-dasharray="1.6 1.6"/>
<g fill="#168aa0" fill-opacity="0.35" stroke="#168aa0" stroke-width="2.1"><circle cx="595.2" cy="212.5" r="2.4"/><circle cx="593.1" cy="233.6" r="2.4"/><circle cx="591.8" cy="239.7" r="2.4"/><circle cx="601" cy="226.8" r="2.4"/><circle cx="593.9" cy="261.8" r="2.4"/><circle cx="589.9" cy="223.1" r="2.4"/><circle cx="593" cy="215.7" r="2.4"/><circle cx="589.9" cy="231.6" r="2.4"/><circle cx="593.9" cy="264.4" r="2.4"/><circle cx="592.4" cy="255.3" r="2.4"/><circle cx="587.2" cy="231.7" r="2.4"/><circle cx="594.9" cy="225.3" r="2.4"/><circle cx="596.8" cy="217.3" r="2.4"/><circle cx="595.2" cy="220.3" r="2.4"/><circle cx="594.2" cy="254.5" r="2.4"/><circle cx="593.9" cy="268" r="2.4"/><circle cx="594" cy="234.4" r="2.4"/><circle cx="594.3" cy="222.4" r="2.4"/><circle cx="591.9" cy="224.3" r="2.4"/><circle cx="599.1" cy="227.5" r="2.4"/><circle cx="592.7" cy="252.9" r="2.4"/><circle cx="594.8" cy="248.1" r="2.4"/><circle cx="593.8" cy="237" r="2.4"/><circle cx="596.6" cy="229.7" r="2.4"/><circle cx="595.1" cy="249.3" r="2.4"/><circle cx="588.5" cy="233.2" r="2.4"/><circle cx="591" cy="229.8" r="2.4"/><circle cx="597.6" cy="230.7" r="2.4"/><circle cx="586.2" cy="229.2" r="2.4"/><circle cx="594" cy="207.3" r="2.4"/><circle cx="592.7" cy="234" r="2.4"/><circle cx="594.6" cy="259.5" r="2.4"/><circle cx="593.6" cy="230.7" r="2.4"/><circle cx="588.5" cy="228.9" r="2.4"/><circle cx="591.7" cy="239.9" r="2.4"/><circle cx="591" cy="217.7" r="2.4"/><circle cx="592.3" cy="211.5" r="2.4"/><circle cx="593.9" cy="198.7" r="2.4"/><circle cx="593.5" cy="225.7" r="2.4"/><circle cx="589.4" cy="224.1" r="2.4"/></g>
<path d="M611.4 192 L611.5 192.6 L611.7 193.3 L611.9 194.1 L612.2 195 L612.4 195.9 L612.7 197 L613 198.1 L613.3 199.1 L613.6 200.2 L613.9 201.3 L614.2 202.4 L614.6 203.5 L615 204.7 L615.3 206 L615.7 207.2 L616.1 208.5 L616.5 209.7 L616.8 210.8 L617.1 211.9 L617.4 212.9 L617.6 213.7 L617.8 214.5 L618 215.2 L618.1 215.9 L618.2 216.5 L618.3 217.1 L618.4 217.7 L618.4 218.3 L618.4 219 L618.4 219.8 L618.3 220.6 L618.1 221.5 L617.9 222.4 L617.7 223.3 L617.4 224.3 L617.1 225.2 L616.9 226.2 L616.7 227.2 L616.5 228.1 L616.4 229 L616.4 230 L616.4 230.9 L616.5 231.8 L616.7 232.7 L616.8 233.7 L617 234.6 L617.2 235.5 L617.3 236.4 L617.4 237.4 L617.4 238.3 L617.4 239.2 L617.3 240.1 L617.2 241.1 L617.1 242 L617 242.9 L616.8 243.8 L616.7 244.8 L616.6 245.7 L616.5 246.6 L616.4 247.5 L616.4 248.5 L616.3 249.4 L616.3 250.4 L616.3 251.4 L616.2 252.3 L616.2 253.3 L616.3 254.2 L616.3 255.1 L616.3 256 L616.4 256.8 L616.5 257.6 L616.7 258.3 L616.9 259.1 L617.1 259.7 L617.4 260.4 L617.6 261.1 L617.8 261.7 L617.9 262.4 L617.9 263.1 L617.9 263.7 L617.8 264.4 L617.5 265.1 L617.2 265.7 L616.8 266.3 L616.4 267 L616 267.7 L615.6 268.3 L615.1 269.1 L614.8 269.8 L614.4 270.7 L614.1 271.6 L613.7 272.7 L613.4 273.9 L613 275.1 L612.7 276.3 L612.4 277.5 L612.1 278.6 L611.8 279.6 L611.6 280.5 L611.4 281.1 L611.4 281.1 L611.2 280.5 L611 279.6 L610.7 278.6 L610.4 277.5 L610.1 276.3 L609.8 275.1 L609.4 273.9 L609.1 272.7 L608.7 271.6 L608.4 270.7 L608 269.8 L607.7 269.1 L607.2 268.3 L606.8 267.7 L606.4 267 L606 266.3 L605.6 265.7 L605.3 265.1 L605 264.4 L604.9 263.7 L604.9 263.1 L604.9 262.4 L605 261.7 L605.2 261.1 L605.4 260.4 L605.7 259.7 L605.9 259.1 L606.1 258.3 L606.3 257.6 L606.4 256.8 L606.5 256 L606.5 255.1 L606.5 254.2 L606.6 253.3 L606.6 252.3 L606.5 251.4 L606.5 250.4 L606.5 249.4 L606.4 248.5 L606.4 247.5 L606.3 246.6 L606.2 245.7 L606.1 244.8 L606 243.8 L605.8 242.9 L605.7 242 L605.6 241.1 L605.5 240.1 L605.4 239.2 L605.4 238.3 L605.4 237.4 L605.5 236.4 L605.6 235.5 L605.8 234.6 L606 233.7 L606.1 232.7 L606.3 231.8 L606.4 230.9 L606.4 230 L606.4 229 L606.3 228.1 L606.1 227.2 L605.9 226.2 L605.7 225.2 L605.4 224.3 L605.1 223.3 L604.9 222.4 L604.7 221.5 L604.5 220.6 L604.4 219.8 L604.4 219 L604.4 218.3 L604.4 217.7 L604.5 217.1 L604.6 216.5 L604.7 215.9 L604.8 215.2 L605 214.5 L605.2 213.7 L605.4 212.9 L605.7 211.9 L606 210.8 L606.3 209.7 L606.7 208.5 L607.1 207.2 L607.5 206 L607.8 204.7 L608.2 203.5 L608.6 202.4 L608.9 201.3 L609.2 200.2 L609.5 199.1 L609.8 198.1 L610.1 197 L610.4 195.9 L610.6 195 L610.9 194.1 L611.1 193.3 L611.3 192.6 L611.4 192 Z" fill="#fff" stroke="#f8841f" stroke-width="2" stroke-linejoin="round"/>
<line x1="604.4" y1="219" x2="618.4" y2="219" stroke="#f8841f" stroke-width="1.3" stroke-dasharray="1.6 1.6"/>
<line x1="605.8" y1="234.6" x2="617" y2="234.6" stroke="#f8841f" stroke-width="1.3" stroke-dasharray="1.6 1.6"/>
<line x1="606.6" y1="253.3" x2="616.2" y2="253.3" stroke="#f8841f" stroke-width="1.3" stroke-dasharray="1.6 1.6"/>
<g fill="#f8841f" fill-opacity="0.2" stroke="#f8841f" stroke-width="1.9"><circle cx="615.5" cy="240.3" r="2.4"/><circle cx="612.9" cy="264.7" r="2.4"/><circle cx="609.1" cy="217.2" r="2.4"/><circle cx="614.7" cy="247.7" r="2.4"/><circle cx="608.7" cy="208.7" r="2.4"/><circle cx="611.2" cy="255.4" r="2.4"/><circle cx="610.5" cy="223" r="2.4"/><circle cx="609.3" cy="217.3" r="2.4"/><circle cx="613" cy="212.7" r="2.4"/><circle cx="610.6" cy="246.5" r="2.4"/><circle cx="610.6" cy="225.6" r="2.4"/><circle cx="611.1" cy="245.7" r="2.4"/><circle cx="607.1" cy="237.7" r="2.4"/><circle cx="611.8" cy="249.4" r="2.4"/><circle cx="608.3" cy="214.5" r="2.4"/><circle cx="612.6" cy="208.6" r="2.4"/><circle cx="612.4" cy="251.7" r="2.4"/><circle cx="614.3" cy="233.2" r="2.4"/><circle cx="613.3" cy="222.3" r="2.4"/><circle cx="608.5" cy="247.6" r="2.4"/><circle cx="613.4" cy="205.2" r="2.4"/><circle cx="607.6" cy="262.9" r="2.4"/><circle cx="613.5" cy="250.2" r="2.4"/><circle cx="609.1" cy="256.9" r="2.4"/><circle cx="614.2" cy="257.4" r="2.4"/><circle cx="608.8" cy="231.7" r="2.4"/><circle cx="610.4" cy="267.6" r="2.4"/><circle cx="612.7" cy="209.1" r="2.4"/><circle cx="609.3" cy="223.4" r="2.4"/><circle cx="614.9" cy="259.1" r="2.4"/><circle cx="607.1" cy="219.2" r="2.4"/><circle cx="610.8" cy="270.6" r="2.4"/><circle cx="614.6" cy="211.5" r="2.4"/><circle cx="611.4" cy="202" r="2.4"/><circle cx="612.1" cy="261.4" r="2.4"/><circle cx="609.7" cy="257.8" r="2.4"/><circle cx="611.7" cy="246.2" r="2.4"/><circle cx="609.4" cy="223.3" r="2.4"/><circle cx="610.7" cy="247.5" r="2.4"/><circle cx="608.9" cy="207.5" r="2.4"/></g>
<path d="M629.7 171.2 L629.8 171.9 L630 172.8 L630.2 173.8 L630.4 175 L630.6 176.3 L630.9 177.6 L631.1 179 L631.3 180.3 L631.5 181.6 L631.7 182.8 L631.8 183.9 L632 185.1 L632.1 186.3 L632.2 187.4 L632.3 188.6 L632.3 189.7 L632.4 190.9 L632.5 192 L632.6 193.2 L632.7 194.3 L632.8 195.5 L632.9 196.7 L633 197.8 L633.1 199 L633.1 200.1 L633.2 201.3 L633.3 202.4 L633.4 203.6 L633.6 204.8 L633.7 205.9 L633.9 207.1 L634 208.3 L634.2 209.5 L634.5 210.8 L634.7 212 L634.9 213.2 L635.1 214.4 L635.3 215.5 L635.5 216.5 L635.7 217.5 L635.9 218.3 L636.1 219.1 L636.2 219.8 L636.4 220.4 L636.6 220.9 L636.8 221.5 L636.9 222.1 L637 222.8 L637.1 223.6 L637.2 224.4 L637.2 225.4 L637.2 226.5 L637.2 227.6 L637.1 228.8 L637.1 230.1 L637 231.3 L636.9 232.5 L636.8 233.7 L636.8 234.9 L636.7 236 L636.7 237 L636.6 238 L636.6 238.9 L636.6 239.9 L636.6 240.8 L636.5 241.6 L636.5 242.5 L636.4 243.4 L636.3 244.3 L636.2 245.2 L636 246.2 L635.8 247.1 L635.6 248 L635.3 248.9 L635 249.9 L634.8 250.8 L634.5 251.7 L634.2 252.6 L633.9 253.6 L633.7 254.5 L633.5 255.4 L633.3 256.3 L633.1 257.2 L632.9 258.1 L632.7 259 L632.5 260 L632.3 260.9 L632.1 261.8 L631.9 262.8 L631.7 263.7 L631.5 264.8 L631.3 265.9 L631 267.1 L630.8 268.3 L630.6 269.5 L630.4 270.7 L630.2 271.8 L630 272.7 L629.8 273.5 L629.7 274.1 L629.7 274.1 L629.6 273.5 L629.4 272.7 L629.2 271.8 L629 270.7 L628.8 269.5 L628.6 268.3 L628.4 267.1 L628.1 265.9 L627.9 264.8 L627.7 263.7 L627.5 262.8 L627.3 261.8 L627.1 260.9 L626.9 260 L626.7 259 L626.5 258.1 L626.3 257.2 L626.1 256.3 L625.9 255.4 L625.7 254.5 L625.5 253.6 L625.2 252.6 L624.9 251.7 L624.6 250.8 L624.4 249.9 L624.1 248.9 L623.8 248 L623.6 247.1 L623.4 246.2 L623.2 245.2 L623.1 244.3 L623 243.4 L622.9 242.5 L622.9 241.6 L622.8 240.8 L622.8 239.9 L622.8 238.9 L622.8 238 L622.7 237 L622.7 236 L622.6 234.9 L622.6 233.7 L622.5 232.5 L622.4 231.3 L622.3 230.1 L622.3 228.8 L622.2 227.6 L622.2 226.5 L622.2 225.4 L622.2 224.4 L622.3 223.6 L622.4 222.8 L622.5 222.1 L622.6 221.5 L622.8 220.9 L623 220.4 L623.2 219.8 L623.3 219.1 L623.5 218.3 L623.7 217.5 L623.9 216.5 L624.1 215.5 L624.3 214.4 L624.5 213.2 L624.7 212 L624.9 210.8 L625.2 209.5 L625.4 208.3 L625.5 207.1 L625.7 205.9 L625.8 204.8 L626 203.6 L626.1 202.4 L626.2 201.3 L626.3 200.1 L626.3 199 L626.4 197.8 L626.5 196.7 L626.6 195.5 L626.7 194.3 L626.8 193.2 L626.9 192 L627 190.9 L627.1 189.7 L627.1 188.6 L627.2 187.4 L627.3 186.3 L627.4 185.1 L627.6 183.9 L627.7 182.8 L627.9 181.6 L628.1 180.3 L628.3 179 L628.5 177.6 L628.8 176.3 L629 175 L629.2 173.8 L629.4 172.8 L629.6 171.9 L629.7 171.2 Z" fill="#fff" stroke="#8fbdf5" stroke-width="2" stroke-linejoin="round"/>
<line x1="623.7" y1="217.5" x2="635.7" y2="217.5" stroke="#8fbdf5" stroke-width="1.3" stroke-dasharray="1.6 1.6"/>
<line x1="622.3" y1="228.8" x2="637.1" y2="228.8" stroke="#8fbdf5" stroke-width="1.3" stroke-dasharray="1.6 1.6"/>
<line x1="622.8" y1="240.8" x2="636.6" y2="240.8" stroke="#8fbdf5" stroke-width="1.3" stroke-dasharray="1.6 1.6"/>
<g fill="#fff" fill-opacity="1" stroke="#8fbdf5" stroke-width="1.7"><circle cx="627.6" cy="210.3" r="2.4"/><circle cx="628.5" cy="239.5" r="2.4"/><circle cx="624.6" cy="234.4" r="2.4"/><circle cx="629.9" cy="230.8" r="2.4"/><circle cx="628.7" cy="248.7" r="2.4"/><circle cx="632.3" cy="215.6" r="2.4"/><circle cx="629.1" cy="238.6" r="2.4"/><circle cx="630.1" cy="229.1" r="2.4"/><circle cx="630.5" cy="209.1" r="2.4"/><circle cx="625.3" cy="237.2" r="2.4"/><circle cx="629.8" cy="222" r="2.4"/><circle cx="628.6" cy="241.1" r="2.4"/><circle cx="627.5" cy="250" r="2.4"/><circle cx="628.9" cy="233.3" r="2.4"/><circle cx="631.6" cy="231.8" r="2.4"/><circle cx="630.9" cy="248.8" r="2.4"/><circle cx="629.1" cy="228.8" r="2.4"/><circle cx="631.7" cy="235.8" r="2.4"/><circle cx="630.9" cy="225.1" r="2.4"/><circle cx="629.9" cy="251.4" r="2.4"/><circle cx="629.4" cy="258.6" r="2.4"/><circle cx="627.9" cy="253.5" r="2.4"/><circle cx="631.2" cy="200" r="2.4"/><circle cx="631.9" cy="223.8" r="2.4"/></g>
<path d="M648.4 182.8 L648.6 183.5 L648.8 184.4 L649.1 185.6 L649.5 186.8 L649.8 188.1 L650.2 189.5 L650.5 190.9 L650.8 192.1 L651.1 193.3 L651.4 194.3 L651.6 195.2 L651.8 196 L652 196.7 L652.2 197.3 L652.4 198 L652.5 198.6 L652.6 199.2 L652.8 199.8 L652.8 200.5 L652.9 201.3 L652.9 202.1 L652.9 203 L652.9 203.8 L652.8 204.7 L652.7 205.6 L652.7 206.6 L652.6 207.5 L652.5 208.5 L652.4 209.5 L652.4 210.5 L652.4 211.6 L652.3 212.7 L652.3 213.8 L652.3 214.9 L652.2 216 L652.2 217.2 L652.2 218.4 L652.3 219.6 L652.3 220.8 L652.4 222.1 L652.5 223.4 L652.7 224.8 L652.9 226.2 L653.1 227.7 L653.3 229.2 L653.5 230.7 L653.7 232.1 L654 233.5 L654.2 234.8 L654.4 236 L654.6 237.1 L654.8 238.1 L655.1 239.1 L655.3 240 L655.6 240.9 L655.8 241.8 L656 242.6 L656.2 243.5 L656.3 244.3 L656.4 245.2 L656.4 246.2 L656.4 247.1 L656.4 248 L656.4 248.9 L656.3 249.9 L656.2 250.8 L656 251.7 L655.8 252.6 L655.6 253.6 L655.4 254.5 L655.1 255.4 L654.7 256.3 L654.3 257.3 L653.9 258.2 L653.4 259.1 L652.9 260 L652.5 261 L652.1 261.9 L651.7 262.8 L651.4 263.7 L651.2 264.7 L651 265.6 L650.9 266.6 L650.8 267.6 L650.8 268.5 L650.7 269.5 L650.7 270.4 L650.6 271.3 L650.5 272.2 L650.4 273 L650.2 273.8 L650 274.6 L649.8 275.5 L649.6 276.3 L649.3 277 L649.1 277.8 L648.9 278.4 L648.7 279 L648.5 279.5 L648.4 279.9 L648.4 279.9 L648.3 279.5 L648.1 279 L647.9 278.4 L647.7 277.8 L647.5 277 L647.2 276.3 L647 275.5 L646.8 274.6 L646.6 273.8 L646.4 273 L646.3 272.2 L646.2 271.3 L646.1 270.4 L646.1 269.5 L646 268.5 L646 267.6 L645.9 266.6 L645.8 265.6 L645.6 264.7 L645.4 263.7 L645.1 262.8 L644.7 261.9 L644.3 261 L643.9 260 L643.4 259.1 L642.9 258.2 L642.5 257.3 L642.1 256.3 L641.7 255.4 L641.4 254.5 L641.2 253.6 L641 252.6 L640.8 251.7 L640.6 250.8 L640.5 249.9 L640.4 248.9 L640.4 248 L640.4 247.1 L640.4 246.2 L640.4 245.2 L640.5 244.3 L640.6 243.5 L640.8 242.6 L641 241.8 L641.2 240.9 L641.5 240 L641.7 239.1 L642 238.1 L642.2 237.1 L642.4 236 L642.6 234.8 L642.8 233.5 L643.1 232.1 L643.3 230.7 L643.5 229.2 L643.7 227.7 L643.9 226.2 L644.1 224.8 L644.3 223.4 L644.4 222.1 L644.5 220.8 L644.5 219.6 L644.6 218.4 L644.6 217.2 L644.6 216 L644.5 214.9 L644.5 213.8 L644.5 212.7 L644.4 211.6 L644.4 210.5 L644.4 209.5 L644.3 208.5 L644.2 207.5 L644.1 206.6 L644.1 205.6 L644 204.7 L643.9 203.8 L643.9 203 L643.9 202.1 L643.9 201.3 L644 200.5 L644 199.8 L644.2 199.2 L644.3 198.6 L644.4 198 L644.6 197.3 L644.8 196.7 L645 196 L645.2 195.2 L645.4 194.3 L645.7 193.3 L646 192.1 L646.3 190.9 L646.6 189.5 L647 188.1 L647.3 186.8 L647.7 185.6 L648 184.4 L648.2 183.5 L648.4 182.8 Z" fill="#fff" stroke="#fcba7e" stroke-width="2" stroke-linejoin="round"/>
<line x1="644.4" y1="222.1" x2="652.4" y2="222.1" stroke="#fcba7e" stroke-width="1.3" stroke-dasharray="1.6 1.6"/>
<line x1="641.2" y1="240.9" x2="655.6" y2="240.9" stroke="#fcba7e" stroke-width="1.3" stroke-dasharray="1.6 1.6"/>
<line x1="640.5" y1="249.9" x2="656.3" y2="249.9" stroke="#fcba7e" stroke-width="1.3" stroke-dasharray="1.6 1.6"/>
<g fill="#fff" fill-opacity="1" stroke="#fcba7e" stroke-width="1.2"><circle cx="648.4" cy="268" r="2.4"/><circle cx="644.8" cy="249.6" r="2.4"/><circle cx="646.1" cy="201.8" r="2.4"/><circle cx="651.6" cy="234.6" r="2.4"/><circle cx="646.8" cy="205.7" r="2.4"/><circle cx="645.1" cy="252.7" r="2.4"/><circle cx="648.5" cy="204.8" r="2.4"/><circle cx="649.5" cy="214.2" r="2.4"/><circle cx="652.1" cy="249.3" r="2.4"/><circle cx="645.2" cy="244.2" r="2.4"/><circle cx="652.1" cy="234.2" r="2.4"/><circle cx="645.2" cy="245.7" r="2.4"/><circle cx="651.3" cy="226.6" r="2.4"/><circle cx="648.7" cy="257.2" r="2.4"/><circle cx="648.2" cy="248.3" r="2.4"/><circle cx="647.1" cy="208.9" r="2.4"/><circle cx="646" cy="204.6" r="2.4"/><circle cx="643.6" cy="253.3" r="2.4"/><circle cx="653.9" cy="240.9" r="2.4"/><circle cx="651.1" cy="244.1" r="2.4"/></g>
<text font-size="36.6" stroke="#000" stroke-width="0.7" transform="translate(293.7 407.4) scale(0.9775 1)">H</text>
<circle cx="375.1" cy="396.2" r="12.5" fill="#1990a7"/>
<circle cx="375.1" cy="426.6" r="12.5" fill="#fb933b"/>
<circle cx="375.1" cy="456.1" r="12.5" fill="#8dbcf6"/>
<circle cx="375.1" cy="486" r="12.5" fill="#fdb97a"/>
<text font-size="17.4" stroke="#000" stroke-width="0.5" transform="translate(390.7 400.9) scale(0.9129 1)">Control</text>
<text font-size="17.2" stroke="#000" stroke-width="0.5" transform="translate(390.8 431.4) scale(0.9502 1)">DHB</text>
<text font-size="16.9" stroke="#000" stroke-width="0.5" transform="translate(390.7 460.7) scale(0.9185 1)">Control+ synap. blockers</text>
<text font-size="16.9" stroke="#000" stroke-width="0.5" transform="translate(390.8 492.3) scale(0.9266 1)">DHB+synap. blockers</text>
<line x1="355.8" y1="444" x2="355.8" y2="665.2" stroke="#000" stroke-width="2.4"/>
<line x1="350.8" y1="445" x2="355.8" y2="445" stroke="#000" stroke-width="2.4"/>
<text x="349.5" y="451.5" font-size="18" text-anchor="end" textLength="19.5" lengthAdjust="spacingAndGlyphs" stroke="#000" stroke-width="0.5">25</text>
<line x1="350.8" y1="499.8" x2="355.8" y2="499.8" stroke="#000" stroke-width="2.4"/>
<text x="349.5" y="506.2" font-size="18" text-anchor="end" textLength="19.5" lengthAdjust="spacingAndGlyphs" stroke="#000" stroke-width="0.5">20</text>
<line x1="350.8" y1="554.5" x2="355.8" y2="554.5" stroke="#000" stroke-width="2.4"/>
<text x="349.5" y="561" font-size="18" text-anchor="end" textLength="19.5" lengthAdjust="spacingAndGlyphs" stroke="#000" stroke-width="0.5">15</text>
<line x1="350.8" y1="609.2" x2="355.8" y2="609.2" stroke="#000" stroke-width="2.4"/>
<text x="349.5" y="615.8" font-size="18" text-anchor="end" textLength="19.5" lengthAdjust="spacingAndGlyphs" stroke="#000" stroke-width="0.5">10</text>
<line x1="350.8" y1="664" x2="355.8" y2="664" stroke="#000" stroke-width="2.4"/>
<text x="349.5" y="670.5" font-size="18" text-anchor="end" textLength="10" lengthAdjust="spacingAndGlyphs" stroke="#000" stroke-width="0.5">5</text>
<text font-size="17.7" stroke="#000" stroke-width="0.5" transform="translate(315.1 623.2) rotate(-90) scale(0.9277 1)">Firing Rate (Hz)</text>
<line x1="362" y1="718" x2="628.2" y2="718" stroke="#000" stroke-width="2.4"/>
<line x1="497.5" y1="718" x2="497.5" y2="725" stroke="#000" stroke-width="2.4"/>
<line x1="541.5" y1="718" x2="541.5" y2="725" stroke="#000" stroke-width="2.4"/>
<line x1="584" y1="718" x2="584" y2="725" stroke="#000" stroke-width="2.4"/>
<line x1="627" y1="718" x2="627" y2="725" stroke="#000" stroke-width="2.4"/>
<text x="359.5" y="746" font-size="18" text-anchor="middle" textLength="30" lengthAdjust="spacingAndGlyphs" stroke="#000" stroke-width="0.5">-110</text>
<text x="405.8" y="746" font-size="18" text-anchor="middle" textLength="22.5" lengthAdjust="spacingAndGlyphs" stroke="#000" stroke-width="0.5">-30</text>
<text x="449.8" y="746" font-size="18" text-anchor="middle" textLength="22.5" lengthAdjust="spacingAndGlyphs" stroke="#000" stroke-width="0.5">-70</text>
<text x="497.5" y="746" font-size="18" text-anchor="middle" textLength="17" lengthAdjust="spacingAndGlyphs" stroke="#000" stroke-width="0.5">10</text>
<text x="541.5" y="746" font-size="18" text-anchor="middle" textLength="17" lengthAdjust="spacingAndGlyphs" stroke="#000" stroke-width="0.5">50</text>
<text x="584" y="746" font-size="18" text-anchor="middle" textLength="17" lengthAdjust="spacingAndGlyphs" stroke="#000" stroke-width="0.5">90</text>
<text x="627" y="746" font-size="18" text-anchor="middle" textLength="25" lengthAdjust="spacingAndGlyphs" stroke="#000" stroke-width="0.5">130</text>
<text font-size="17.5" stroke="#000" stroke-width="0.5" transform="translate(471.7 767.8) scale(0.9425 1)">Current (pA)</text>
<path d="M370.3 711.1 L391.7 711.1 L413.1 711.1 L434.5 712.2 L455.9 712.2 L477.3 715.5 L498.7 710 L520.1 677.1 L541.5 653 L562.9 614.7 L584.3 585.2 L605.7 568.7 L627.1 545.7 L648.5 534.8" fill="none" stroke="#fbbd86" stroke-width="2" stroke-linejoin="round"/>
<line x1="498.7" y1="704" x2="498.7" y2="716" stroke="#fbbd86" stroke-width="2.3"/>
<line x1="490.2" y1="704" x2="507.2" y2="704" stroke="#fbbd86" stroke-width="2.9"/>
<line x1="490.2" y1="716" x2="507.2" y2="716" stroke="#fbbd86" stroke-width="2.9"/>
<line x1="520.1" y1="665.1" x2="520.1" y2="689.1" stroke="#fbbd86" stroke-width="2.3"/>
<line x1="511.6" y1="665.1" x2="528.6" y2="665.1" stroke="#fbbd86" stroke-width="2.9"/>
<line x1="511.6" y1="689.1" x2="528.6" y2="689.1" stroke="#fbbd86" stroke-width="2.9"/>
<line x1="541.5" y1="639" x2="541.5" y2="667" stroke="#fbbd86" stroke-width="2.3"/>
<line x1="533" y1="639" x2="550" y2="639" stroke="#fbbd86" stroke-width="2.9"/>
<line x1="533" y1="667" x2="550" y2="667" stroke="#fbbd86" stroke-width="2.9"/>
<line x1="562.9" y1="599.7" x2="562.9" y2="629.7" stroke="#fbbd86" stroke-width="2.3"/>
<line x1="554.4" y1="599.7" x2="571.4" y2="599.7" stroke="#fbbd86" stroke-width="2.9"/>
<line x1="554.4" y1="629.7" x2="571.4" y2="629.7" stroke="#fbbd86" stroke-width="2.9"/>
<line x1="584.3" y1="570.2" x2="584.3" y2="600.2" stroke="#fbbd86" stroke-width="2.3"/>
<line x1="575.8" y1="570.2" x2="592.8" y2="570.2" stroke="#fbbd86" stroke-width="2.9"/>
<line x1="575.8" y1="600.2" x2="592.8" y2="600.2" stroke="#fbbd86" stroke-width="2.9"/>
<line x1="605.7" y1="552.7" x2="605.7" y2="584.7" stroke="#fbbd86" stroke-width="2.3"/>
<line x1="597.2" y1="552.7" x2="614.2" y2="552.7" stroke="#fbbd86" stroke-width="2.9"/>
<line x1="597.2" y1="584.7" x2="614.2" y2="584.7" stroke="#fbbd86" stroke-width="2.9"/>
<line x1="627.1" y1="529.7" x2="627.1" y2="561.7" stroke="#fbbd86" stroke-width="2.3"/>
<line x1="618.6" y1="529.7" x2="635.6" y2="529.7" stroke="#fbbd86" stroke-width="2.9"/>
<line x1="618.6" y1="561.7" x2="635.6" y2="561.7" stroke="#fbbd86" stroke-width="2.9"/>
<line x1="648.5" y1="518.8" x2="648.5" y2="550.8" stroke="#fbbd86" stroke-width="2.3"/>
<line x1="640" y1="518.8" x2="657" y2="518.8" stroke="#fbbd86" stroke-width="2.9"/>
<line x1="640" y1="550.8" x2="657" y2="550.8" stroke="#fbbd86" stroke-width="2.9"/>
<circle cx="370.3" cy="711.1" r="9.3" fill="#fbbd86"/>
<circle cx="391.7" cy="711.1" r="9.3" fill="#fbbd86"/>
<circle cx="413.1" cy="711.1" r="9.3" fill="#fbbd86"/>
<circle cx="434.5" cy="712.2" r="9.3" fill="#fbbd86"/>
<circle cx="455.9" cy="712.2" r="9.3" fill="#fbbd86"/>
<circle cx="477.3" cy="715.5" r="9.3" fill="#fbbd86"/>
<circle cx="498.7" cy="710" r="9.3" fill="#fbbd86"/>
<circle cx="520.1" cy="677.1" r="9.3" fill="#fbbd86"/>
<circle cx="541.5" cy="653" r="9.3" fill="#fbbd86"/>
<circle cx="562.9" cy="614.7" r="9.3" fill="#fbbd86"/>
<circle cx="584.3" cy="585.2" r="9.3" fill="#fbbd86"/>
<circle cx="605.7" cy="568.7" r="9.3" fill="#fbbd86"/>
<circle cx="627.1" cy="545.7" r="9.3" fill="#fbbd86"/>
<circle cx="648.5" cy="534.8" r="9.3" fill="#fbbd86"/>
<path d="M370.3 718.8 L391.7 718.8 L413.1 718.8 L434.5 718.8 L455.9 718.8 L477.3 719.8 L498.7 707.8 L520.1 665.1 L541.5 637.7 L562.9 607.1 L584.3 583 L605.7 564.4 L627.1 542.5 L648.5 530.4" fill="none" stroke="#94bdf4" stroke-width="2" stroke-linejoin="round"/>
<line x1="498.7" y1="701.8" x2="498.7" y2="713.8" stroke="#94bdf4" stroke-width="2.3"/>
<line x1="490.2" y1="701.8" x2="507.2" y2="701.8" stroke="#94bdf4" stroke-width="2.9"/>
<line x1="490.2" y1="713.8" x2="507.2" y2="713.8" stroke="#94bdf4" stroke-width="2.9"/>
<line x1="520.1" y1="652.1" x2="520.1" y2="678.1" stroke="#94bdf4" stroke-width="2.3"/>
<line x1="511.6" y1="652.1" x2="528.6" y2="652.1" stroke="#94bdf4" stroke-width="2.9"/>
<line x1="511.6" y1="678.1" x2="528.6" y2="678.1" stroke="#94bdf4" stroke-width="2.9"/>
<line x1="541.5" y1="623.7" x2="541.5" y2="651.7" stroke="#94bdf4" stroke-width="2.3"/>
<line x1="533" y1="623.7" x2="550" y2="623.7" stroke="#94bdf4" stroke-width="2.9"/>
<line x1="533" y1="651.7" x2="550" y2="651.7" stroke="#94bdf4" stroke-width="2.9"/>
<line x1="562.9" y1="591.1" x2="562.9" y2="623.1" stroke="#94bdf4" stroke-width="2.3"/>
<line x1="554.4" y1="591.1" x2="571.4" y2="591.1" stroke="#94bdf4" stroke-width="2.9"/>
<line x1="554.4" y1="623.1" x2="571.4" y2="623.1" stroke="#94bdf4" stroke-width="2.9"/>
<line x1="584.3" y1="567" x2="584.3" y2="599" stroke="#94bdf4" stroke-width="2.3"/>
<line x1="575.8" y1="567" x2="592.8" y2="567" stroke="#94bdf4" stroke-width="2.9"/>
<line x1="575.8" y1="599" x2="592.8" y2="599" stroke="#94bdf4" stroke-width="2.9"/>
<line x1="605.7" y1="547.4" x2="605.7" y2="581.4" stroke="#94bdf4" stroke-width="2.3"/>
<line x1="597.2" y1="547.4" x2="614.2" y2="547.4" stroke="#94bdf4" stroke-width="2.9"/>
<line x1="597.2" y1="581.4" x2="614.2" y2="581.4" stroke="#94bdf4" stroke-width="2.9"/>
<line x1="627.1" y1="525.5" x2="627.1" y2="559.5" stroke="#94bdf4" stroke-width="2.3"/>
<line x1="618.6" y1="525.5" x2="635.6" y2="525.5" stroke="#94bdf4" stroke-width="2.9"/>
<line x1="618.6" y1="559.5" x2="635.6" y2="559.5" stroke="#94bdf4" stroke-width="2.9"/>
<line x1="648.5" y1="512.4" x2="648.5" y2="548.4" stroke="#94bdf4" stroke-width="2.3"/>
<line x1="640" y1="512.4" x2="657" y2="512.4" stroke="#94bdf4" stroke-width="2.9"/>
<line x1="640" y1="548.4" x2="657" y2="548.4" stroke="#94bdf4" stroke-width="2.9"/>
<circle cx="370.3" cy="718.8" r="9.3" fill="#94bdf4"/>
<circle cx="391.7" cy="718.8" r="9.3" fill="#94bdf4"/>
<circle cx="413.1" cy="718.8" r="9.3" fill="#94bdf4"/>
<circle cx="434.5" cy="718.8" r="9.3" fill="#94bdf4"/>
<circle cx="455.9" cy="718.8" r="9.3" fill="#94bdf4"/>
<circle cx="477.3" cy="719.8" r="9.3" fill="#94bdf4"/>
<circle cx="498.7" cy="707.8" r="9.3" fill="#94bdf4"/>
<circle cx="520.1" cy="665.1" r="9.3" fill="#94bdf4"/>
<circle cx="541.5" cy="637.7" r="9.3" fill="#94bdf4"/>
<circle cx="562.9" cy="607.1" r="9.3" fill="#94bdf4"/>
<circle cx="584.3" cy="583" r="9.3" fill="#94bdf4"/>
<circle cx="605.7" cy="564.4" r="9.3" fill="#94bdf4"/>
<circle cx="627.1" cy="542.5" r="9.3" fill="#94bdf4"/>
<circle cx="648.5" cy="530.4" r="9.3" fill="#94bdf4"/>
<path d="M370.3 718.8 L391.7 718.8 L413.1 718.8 L434.5 718.8 L455.9 715.5 L477.3 704.5 L498.7 672.8 L520.1 623.5 L541.5 578.6 L562.9 547.9 L584.3 520.6 L605.7 500.8 L627.1 481.1 L648.5 473.5" fill="none" stroke="#fa8417" stroke-width="2" stroke-linejoin="round"/>
<line x1="477.3" y1="700.5" x2="477.3" y2="708.5" stroke="#fa8417" stroke-width="2.3"/>
<line x1="468.8" y1="700.5" x2="485.8" y2="700.5" stroke="#fa8417" stroke-width="2.9"/>
<line x1="468.8" y1="708.5" x2="485.8" y2="708.5" stroke="#fa8417" stroke-width="2.9"/>
<line x1="498.7" y1="662.8" x2="498.7" y2="682.8" stroke="#fa8417" stroke-width="2.3"/>
<line x1="490.2" y1="662.8" x2="507.2" y2="662.8" stroke="#fa8417" stroke-width="2.9"/>
<line x1="490.2" y1="682.8" x2="507.2" y2="682.8" stroke="#fa8417" stroke-width="2.9"/>
<line x1="520.1" y1="608.5" x2="520.1" y2="638.5" stroke="#fa8417" stroke-width="2.3"/>
<line x1="511.6" y1="608.5" x2="528.6" y2="608.5" stroke="#fa8417" stroke-width="2.9"/>
<line x1="511.6" y1="638.5" x2="528.6" y2="638.5" stroke="#fa8417" stroke-width="2.9"/>
<line x1="541.5" y1="563.6" x2="541.5" y2="593.6" stroke="#fa8417" stroke-width="2.3"/>
<line x1="533" y1="563.6" x2="550" y2="563.6" stroke="#fa8417" stroke-width="2.9"/>
<line x1="533" y1="593.6" x2="550" y2="593.6" stroke="#fa8417" stroke-width="2.9"/>
<line x1="562.9" y1="531.9" x2="562.9" y2="563.9" stroke="#fa8417" stroke-width="2.3"/>
<line x1="554.4" y1="531.9" x2="571.4" y2="531.9" stroke="#fa8417" stroke-width="2.9"/>
<line x1="554.4" y1="563.9" x2="571.4" y2="563.9" stroke="#fa8417" stroke-width="2.9"/>
<line x1="584.3" y1="504.6" x2="584.3" y2="536.6" stroke="#fa8417" stroke-width="2.3"/>
<line x1="575.8" y1="504.6" x2="592.8" y2="504.6" stroke="#fa8417" stroke-width="2.9"/>
<line x1="575.8" y1="536.6" x2="592.8" y2="536.6" stroke="#fa8417" stroke-width="2.9"/>
<line x1="605.7" y1="484.8" x2="605.7" y2="516.8" stroke="#fa8417" stroke-width="2.3"/>
<line x1="597.2" y1="484.8" x2="614.2" y2="484.8" stroke="#fa8417" stroke-width="2.9"/>
<line x1="597.2" y1="516.8" x2="614.2" y2="516.8" stroke="#fa8417" stroke-width="2.9"/>
<line x1="627.1" y1="465.1" x2="627.1" y2="497.1" stroke="#fa8417" stroke-width="2.3"/>
<line x1="618.6" y1="465.1" x2="635.6" y2="465.1" stroke="#fa8417" stroke-width="2.9"/>
<line x1="618.6" y1="497.1" x2="635.6" y2="497.1" stroke="#fa8417" stroke-width="2.9"/>
<line x1="648.5" y1="456.5" x2="648.5" y2="490.5" stroke="#fa8417" stroke-width="2.3"/>
<line x1="640" y1="456.5" x2="657" y2="456.5" stroke="#fa8417" stroke-width="2.9"/>
<line x1="640" y1="490.5" x2="657" y2="490.5" stroke="#fa8417" stroke-width="2.9"/>
<circle cx="370.3" cy="718.8" r="9.3" fill="#fa8417"/>
<circle cx="391.7" cy="718.8" r="9.3" fill="#fa8417"/>
<circle cx="413.1" cy="718.8" r="9.3" fill="#fa8417"/>
<circle cx="434.5" cy="718.8" r="9.3" fill="#fa8417"/>
<circle cx="455.9" cy="715.5" r="9.3" fill="#fa8417"/>
<circle cx="477.3" cy="704.5" r="9.3" fill="#fa8417"/>
<circle cx="498.7" cy="672.8" r="9.3" fill="#fa8417"/>
<circle cx="520.1" cy="623.5" r="9.3" fill="#fa8417"/>
<circle cx="541.5" cy="578.6" r="9.3" fill="#fa8417"/>
<circle cx="562.9" cy="547.9" r="9.3" fill="#fa8417"/>
<circle cx="584.3" cy="520.6" r="9.3" fill="#fa8417"/>
<circle cx="605.7" cy="500.8" r="9.3" fill="#fa8417"/>
<circle cx="627.1" cy="481.1" r="9.3" fill="#fa8417"/>
<circle cx="648.5" cy="473.5" r="9.3" fill="#fa8417"/>
<path d="M370.3 718.8 L391.7 718.8 L413.1 718.8 L434.5 718.8 L455.9 718.8 L477.3 714.4 L498.7 704.5 L520.1 684.8 L541.5 660.7 L562.9 635.5 L584.3 606 L605.7 572 L627.1 552.3 L648.5 539.2" fill="none" stroke="#0f7d93" stroke-width="2" stroke-linejoin="round"/>
<line x1="498.7" y1="699.5" x2="498.7" y2="709.5" stroke="#0f7d93" stroke-width="2.3"/>
<line x1="490.2" y1="699.5" x2="507.2" y2="699.5" stroke="#0f7d93" stroke-width="2.9"/>
<line x1="490.2" y1="709.5" x2="507.2" y2="709.5" stroke="#0f7d93" stroke-width="2.9"/>
<line x1="520.1" y1="672.8" x2="520.1" y2="696.8" stroke="#0f7d93" stroke-width="2.3"/>
<line x1="511.6" y1="672.8" x2="528.6" y2="672.8" stroke="#0f7d93" stroke-width="2.9"/>
<line x1="511.6" y1="696.8" x2="528.6" y2="696.8" stroke="#0f7d93" stroke-width="2.9"/>
<line x1="541.5" y1="647.7" x2="541.5" y2="673.7" stroke="#0f7d93" stroke-width="2.3"/>
<line x1="533" y1="647.7" x2="550" y2="647.7" stroke="#0f7d93" stroke-width="2.9"/>
<line x1="533" y1="673.7" x2="550" y2="673.7" stroke="#0f7d93" stroke-width="2.9"/>
<line x1="562.9" y1="621.5" x2="562.9" y2="649.5" stroke="#0f7d93" stroke-width="2.3"/>
<line x1="554.4" y1="621.5" x2="571.4" y2="621.5" stroke="#0f7d93" stroke-width="2.9"/>
<line x1="554.4" y1="649.5" x2="571.4" y2="649.5" stroke="#0f7d93" stroke-width="2.9"/>
<line x1="584.3" y1="592" x2="584.3" y2="620" stroke="#0f7d93" stroke-width="2.3"/>
<line x1="575.8" y1="592" x2="592.8" y2="592" stroke="#0f7d93" stroke-width="2.9"/>
<line x1="575.8" y1="620" x2="592.8" y2="620" stroke="#0f7d93" stroke-width="2.9"/>
<line x1="605.7" y1="556" x2="605.7" y2="588" stroke="#0f7d93" stroke-width="2.3"/>
<line x1="597.2" y1="556" x2="614.2" y2="556" stroke="#0f7d93" stroke-width="2.9"/>
<line x1="597.2" y1="588" x2="614.2" y2="588" stroke="#0f7d93" stroke-width="2.9"/>
<line x1="627.1" y1="535.3" x2="627.1" y2="569.3" stroke="#0f7d93" stroke-width="2.3"/>
<line x1="618.6" y1="535.3" x2="635.6" y2="535.3" stroke="#0f7d93" stroke-width="2.9"/>
<line x1="618.6" y1="569.3" x2="635.6" y2="569.3" stroke="#0f7d93" stroke-width="2.9"/>
<line x1="648.5" y1="521.2" x2="648.5" y2="557.2" stroke="#0f7d93" stroke-width="2.3"/>
<line x1="640" y1="521.2" x2="657" y2="521.2" stroke="#0f7d93" stroke-width="2.9"/>
<line x1="640" y1="557.2" x2="657" y2="557.2" stroke="#0f7d93" stroke-width="2.9"/>
<circle cx="370.3" cy="718.8" r="9.3" fill="#0f7d93"/>
<circle cx="391.7" cy="718.8" r="9.3" fill="#0f7d93"/>
<circle cx="413.1" cy="718.8" r="9.3" fill="#0f7d93"/>
<circle cx="434.5" cy="718.8" r="9.3" fill="#0f7d93"/>
<circle cx="455.9" cy="718.8" r="9.3" fill="#0f7d93"/>
<circle cx="477.3" cy="714.4" r="9.3" fill="#0f7d93"/>
<circle cx="498.7" cy="704.5" r="9.3" fill="#0f7d93"/>
<circle cx="520.1" cy="684.8" r="9.3" fill="#0f7d93"/>
<circle cx="541.5" cy="660.7" r="9.3" fill="#0f7d93"/>
<circle cx="562.9" cy="635.5" r="9.3" fill="#0f7d93"/>
<circle cx="584.3" cy="606" r="9.3" fill="#0f7d93"/>
<circle cx="605.7" cy="572" r="9.3" fill="#0f7d93"/>
<circle cx="627.1" cy="552.3" r="9.3" fill="#0f7d93"/>
<circle cx="648.5" cy="539.2" r="9.3" fill="#0f7d93"/>
<line x1="412.5" y1="537.7" x2="412.5" y2="643.9" stroke="#000" stroke-width="1.8"/>
<line x1="408.5" y1="642.9" x2="412.5" y2="642.9" stroke="#000" stroke-width="1.8"/>
<line x1="408.5" y1="625.5" x2="412.5" y2="625.5" stroke="#000" stroke-width="1.8"/>
<line x1="408.5" y1="608.2" x2="412.5" y2="608.2" stroke="#000" stroke-width="1.8"/>
<line x1="408.5" y1="590.8" x2="412.5" y2="590.8" stroke="#000" stroke-width="1.8"/>
<line x1="408.5" y1="573.4" x2="412.5" y2="573.4" stroke="#000" stroke-width="1.8"/>
<line x1="408.5" y1="556.1" x2="412.5" y2="556.1" stroke="#000" stroke-width="1.8"/>
<line x1="408.5" y1="538.7" x2="412.5" y2="538.7" stroke="#000" stroke-width="1.8"/>
<text x="408.4" y="648.9" font-size="16.5" text-anchor="end" textLength="8.5" lengthAdjust="spacingAndGlyphs" stroke="#000" stroke-width="0.5">0</text>
<text x="408.4" y="614.2" font-size="16.5" text-anchor="end" textLength="25.8" lengthAdjust="spacingAndGlyphs" stroke="#000" stroke-width="0.5">100</text>
<text x="408.4" y="579.4" font-size="16.5" text-anchor="end" textLength="25.8" lengthAdjust="spacingAndGlyphs" stroke="#000" stroke-width="0.5">200</text>
<text x="408.4" y="544.7" font-size="16.5" text-anchor="end" textLength="25.8" lengthAdjust="spacingAndGlyphs" stroke="#000" stroke-width="0.5">300</text>
<text font-size="15.5" stroke="#000" stroke-width="0.4" transform="translate(378 613.3) rotate(-90) scale(1.0193 1)">A.U.C</text>
<line x1="412.5" y1="642.9" x2="489" y2="642.9" stroke="#333" stroke-width="1.3" stroke-dasharray="1.3 2.6"/>
<path d="M429.5 569.6 L429.6 570.3 L429.8 571.1 L430 572.1 L430.2 573.2 L430.4 574.4 L430.6 575.6 L430.9 576.8 L431.1 578.1 L431.3 579.3 L431.5 580.4 L431.7 581.4 L431.8 582.5 L432 583.5 L432.1 584.6 L432.2 585.6 L432.4 586.7 L432.5 587.7 L432.6 588.7 L432.8 589.8 L433 590.8 L433.2 591.9 L433.4 592.9 L433.7 594 L433.9 595.1 L434.2 596.1 L434.4 597.2 L434.7 598.2 L435 599.3 L435.2 600.3 L435.5 601.2 L435.8 602.1 L436.1 603 L436.4 603.8 L436.7 604.7 L437 605.5 L437.3 606.3 L437.6 607.1 L437.8 608 L438 608.9 L438.1 609.9 L438.2 611 L438.2 612.1 L438.2 613.4 L438.1 614.6 L438 615.9 L437.9 617.2 L437.8 618.4 L437.7 619.7 L437.6 620.9 L437.5 622.1 L437.5 623.2 L437.4 624.3 L437.4 625.3 L437.4 626.4 L437.4 627.4 L437.3 628.4 L437.3 629.4 L437.2 630.4 L437.1 631.4 L437 632.5 L436.8 633.5 L436.6 634.6 L436.4 635.7 L436.2 636.8 L435.9 637.9 L435.6 639 L435.3 640 L435.1 641 L434.8 642 L434.5 642.9 L434.2 643.7 L433.9 644.5 L433.6 645.3 L433.3 645.9 L433 646.6 L432.7 647.3 L432.3 647.9 L432 648.5 L431.8 649.2 L431.5 649.8 L431.3 650.5 L431 651.3 L430.8 652.1 L430.5 652.8 L430.3 653.6 L430.1 654.3 L429.9 655 L429.8 655.6 L429.6 656.1 L429.5 656.4 L429.5 656.4 L429.4 656.1 L429.2 655.6 L429.1 655 L428.9 654.3 L428.7 653.6 L428.5 652.8 L428.2 652.1 L428 651.3 L427.7 650.5 L427.5 649.8 L427.2 649.2 L427 648.5 L426.7 647.9 L426.3 647.3 L426 646.6 L425.7 645.9 L425.4 645.3 L425.1 644.5 L424.8 643.7 L424.5 642.9 L424.2 642 L423.9 641 L423.7 640 L423.4 639 L423.1 637.9 L422.8 636.8 L422.6 635.7 L422.4 634.6 L422.2 633.5 L422 632.5 L421.9 631.4 L421.8 630.4 L421.7 629.4 L421.7 628.4 L421.6 627.4 L421.6 626.4 L421.6 625.3 L421.6 624.3 L421.5 623.2 L421.5 622.1 L421.4 620.9 L421.3 619.7 L421.2 618.4 L421.1 617.2 L421 615.9 L420.9 614.6 L420.8 613.4 L420.8 612.1 L420.8 611 L420.9 609.9 L421 608.9 L421.2 608 L421.4 607.1 L421.7 606.3 L422 605.5 L422.3 604.7 L422.6 603.8 L422.9 603 L423.2 602.1 L423.5 601.2 L423.8 600.3 L424 599.3 L424.3 598.2 L424.6 597.2 L424.8 596.1 L425.1 595.1 L425.3 594 L425.6 592.9 L425.8 591.9 L426 590.8 L426.2 589.8 L426.4 588.7 L426.5 587.7 L426.6 586.7 L426.8 585.6 L426.9 584.6 L427 583.5 L427.2 582.5 L427.3 581.4 L427.5 580.4 L427.7 579.3 L427.9 578.1 L428.1 576.8 L428.4 575.6 L428.6 574.4 L428.8 573.2 L429 572.1 L429.2 571.1 L429.4 570.3 L429.5 569.6 Z" fill="#fff" stroke="#168aa0" stroke-width="2" stroke-linejoin="round"/>
<line x1="421.2" y1="608" x2="437.8" y2="608" stroke="#168aa0" stroke-width="1.3" stroke-dasharray="1.6 1.6"/>
<line x1="421.1" y1="617.2" x2="437.9" y2="617.2" stroke="#168aa0" stroke-width="1.3" stroke-dasharray="1.6 1.6"/>
<line x1="421.7" y1="629.4" x2="437.3" y2="629.4" stroke="#168aa0" stroke-width="1.3" stroke-dasharray="1.6 1.6"/>
<g fill="#168aa0" fill-opacity="0.35" stroke="#168aa0" stroke-width="2.1"><circle cx="430.4" cy="591" r="2.4"/><circle cx="427.2" cy="602.9" r="2.4"/><circle cx="429.5" cy="581.9" r="2.4"/><circle cx="427.1" cy="603.9" r="2.4"/><circle cx="434.4" cy="616.1" r="2.4"/><circle cx="427.4" cy="610.7" r="2.4"/><circle cx="430.9" cy="598.7" r="2.4"/><circle cx="424.3" cy="618" r="2.4"/><circle cx="429.4" cy="601.3" r="2.4"/><circle cx="433.1" cy="635" r="2.4"/><circle cx="430.9" cy="599.5" r="2.4"/><circle cx="425.1" cy="631.2" r="2.4"/><circle cx="432.8" cy="620" r="2.4"/><circle cx="433.2" cy="621.7" r="2.4"/><circle cx="431.3" cy="646.9" r="2.4"/><circle cx="423.9" cy="609.8" r="2.4"/><circle cx="430.2" cy="628.3" r="2.4"/><circle cx="434" cy="613.1" r="2.4"/><circle cx="429.7" cy="627.7" r="2.4"/><circle cx="429.5" cy="576.3" r="2.4"/><circle cx="422.6" cy="610.6" r="2.4"/><circle cx="427.3" cy="616" r="2.4"/><circle cx="430.2" cy="645.8" r="2.4"/><circle cx="422.8" cy="612.3" r="2.4"/><circle cx="432.6" cy="620.9" r="2.4"/><circle cx="426.1" cy="606.2" r="2.4"/><circle cx="429.3" cy="592.4" r="2.4"/><circle cx="428.2" cy="596" r="2.4"/><circle cx="422.5" cy="613.4" r="2.4"/><circle cx="430.4" cy="642" r="2.4"/><circle cx="427.9" cy="592" r="2.4"/><circle cx="429.5" cy="582.3" r="2.4"/><circle cx="426.2" cy="615.9" r="2.4"/><circle cx="429.8" cy="616.5" r="2.4"/><circle cx="425.7" cy="602" r="2.4"/><circle cx="424" cy="615.5" r="2.4"/><circle cx="429.5" cy="586.6" r="2.4"/><circle cx="431.5" cy="626.6" r="2.4"/><circle cx="425.9" cy="599.1" r="2.4"/><circle cx="430.5" cy="599.5" r="2.4"/></g>
<path d="M447.2 553.3 L447.3 554.1 L447.5 555.1 L447.7 556.4 L447.9 557.8 L448.1 559.2 L448.4 560.8 L448.6 562.3 L448.8 563.8 L449 565.2 L449.2 566.5 L449.3 567.7 L449.4 568.8 L449.5 569.9 L449.6 570.9 L449.7 572 L449.8 573 L449.9 574 L450 575 L450.1 576 L450.2 576.9 L450.4 577.9 L450.5 578.8 L450.7 579.8 L450.9 580.7 L451 581.6 L451.2 582.5 L451.5 583.3 L451.7 584.1 L451.9 584.9 L452.2 585.6 L452.5 586.2 L452.9 586.8 L453.3 587.4 L453.7 587.8 L454.2 588.3 L454.6 588.8 L455 589.2 L455.3 589.7 L455.6 590.2 L455.8 590.8 L455.9 591.4 L456 592 L456 592.7 L455.9 593.3 L455.8 594 L455.7 594.6 L455.6 595.4 L455.5 596.1 L455.3 596.9 L455.2 597.8 L455.1 598.6 L454.9 599.6 L454.7 600.5 L454.5 601.5 L454.3 602.5 L454.1 603.6 L453.8 604.7 L453.6 605.8 L453.4 607 L453.2 608.2 L453 609.4 L452.8 610.7 L452.6 612.1 L452.4 613.5 L452.2 614.9 L452 616.3 L451.8 617.8 L451.6 619.2 L451.4 620.7 L451.2 622.1 L451 623.4 L450.9 624.8 L450.7 626.2 L450.6 627.5 L450.5 628.9 L450.3 630.3 L450.2 631.7 L450.1 633.1 L449.9 634.5 L449.7 636 L449.5 637.5 L449.2 639.2 L448.9 641 L448.7 642.8 L448.4 644.6 L448.1 646.4 L447.8 648 L447.6 649.4 L447.4 650.6 L447.2 651.6 L447.2 651.6 L447 650.6 L446.8 649.4 L446.6 648 L446.3 646.4 L446 644.6 L445.7 642.8 L445.5 641 L445.2 639.2 L444.9 637.5 L444.7 636 L444.5 634.5 L444.3 633.1 L444.2 631.7 L444.1 630.3 L443.9 628.9 L443.8 627.5 L443.7 626.2 L443.5 624.8 L443.4 623.4 L443.2 622.1 L443 620.7 L442.8 619.2 L442.6 617.8 L442.4 616.3 L442.2 614.9 L442 613.5 L441.8 612.1 L441.6 610.7 L441.4 609.4 L441.2 608.2 L441 607 L440.8 605.8 L440.6 604.7 L440.3 603.6 L440.1 602.5 L439.9 601.5 L439.7 600.5 L439.5 599.6 L439.3 598.6 L439.2 597.8 L439.1 596.9 L438.9 596.1 L438.8 595.4 L438.7 594.6 L438.6 594 L438.5 593.3 L438.4 592.7 L438.4 592 L438.5 591.4 L438.6 590.8 L438.8 590.2 L439.1 589.7 L439.4 589.2 L439.8 588.8 L440.2 588.3 L440.7 587.8 L441.1 587.4 L441.5 586.8 L441.9 586.2 L442.2 585.6 L442.5 584.9 L442.7 584.1 L442.9 583.3 L443.2 582.5 L443.4 581.6 L443.5 580.7 L443.7 579.8 L443.9 578.8 L444 577.9 L444.2 576.9 L444.3 576 L444.4 575 L444.5 574 L444.6 573 L444.7 572 L444.8 570.9 L444.9 569.9 L445 568.8 L445.1 567.7 L445.2 566.5 L445.4 565.2 L445.6 563.8 L445.8 562.3 L446 560.8 L446.3 559.2 L446.5 557.8 L446.7 556.4 L446.9 555.1 L447.1 554.1 L447.2 553.3 Z" fill="#fff" stroke="#f8841f" stroke-width="2" stroke-linejoin="round"/>
<line x1="438.6" y1="590.8" x2="455.8" y2="590.8" stroke="#f8841f" stroke-width="1.3" stroke-dasharray="1.6 1.6"/>
<line x1="439.3" y1="598.6" x2="455.1" y2="598.6" stroke="#f8841f" stroke-width="1.3" stroke-dasharray="1.6 1.6"/>
<line x1="441.4" y1="609.4" x2="453" y2="609.4" stroke="#f8841f" stroke-width="1.3" stroke-dasharray="1.6 1.6"/>
<g fill="#f8841f" fill-opacity="0.2" stroke="#f8841f" stroke-width="1.9"><circle cx="445.2" cy="580.1" r="2.4"/><circle cx="450" cy="591.9" r="2.4"/><circle cx="446.6" cy="597.5" r="2.4"/><circle cx="445.1" cy="618.7" r="2.4"/><circle cx="447.6" cy="601" r="2.4"/><circle cx="443" cy="590.1" r="2.4"/><circle cx="443.8" cy="592.2" r="2.4"/><circle cx="449.2" cy="589.1" r="2.4"/><circle cx="447.2" cy="572.6" r="2.4"/><circle cx="446.8" cy="581.3" r="2.4"/><circle cx="450.6" cy="600.3" r="2.4"/><circle cx="443.3" cy="606.1" r="2.4"/><circle cx="451.7" cy="602" r="2.4"/><circle cx="446.7" cy="619.5" r="2.4"/><circle cx="451.5" cy="607.5" r="2.4"/><circle cx="447.2" cy="567" r="2.4"/><circle cx="447.2" cy="617.7" r="2.4"/><circle cx="444.6" cy="591.2" r="2.4"/><circle cx="444.3" cy="607.4" r="2.4"/><circle cx="447.1" cy="602.3" r="2.4"/><circle cx="447.5" cy="602.1" r="2.4"/><circle cx="447.2" cy="562.9" r="2.4"/><circle cx="448.8" cy="620" r="2.4"/><circle cx="447.9" cy="630.3" r="2.4"/><circle cx="443.5" cy="597.8" r="2.4"/><circle cx="452" cy="598.2" r="2.4"/><circle cx="445.9" cy="594.5" r="2.4"/><circle cx="446" cy="628.9" r="2.4"/><circle cx="446" cy="613.6" r="2.4"/><circle cx="444.7" cy="621.3" r="2.4"/><circle cx="447.2" cy="563.8" r="2.4"/><circle cx="446.3" cy="619.2" r="2.4"/><circle cx="440.7" cy="593.1" r="2.4"/><circle cx="443.6" cy="601.7" r="2.4"/><circle cx="451.4" cy="609.7" r="2.4"/><circle cx="448.6" cy="605.4" r="2.4"/><circle cx="440.7" cy="590.8" r="2.4"/><circle cx="447.7" cy="624.2" r="2.4"/><circle cx="443.1" cy="599.9" r="2.4"/><circle cx="444.5" cy="594.4" r="2.4"/></g>
<path d="M464 580.4 L464.2 580.8 L464.4 581.3 L464.7 582 L465 582.7 L465.3 583.4 L465.7 584.2 L466 585 L466.4 585.8 L466.7 586.6 L467 587.3 L467.3 588 L467.6 588.7 L467.9 589.5 L468.3 590.2 L468.6 590.9 L468.9 591.6 L469.2 592.3 L469.5 593 L469.8 593.7 L470 594.3 L470.2 594.9 L470.4 595.4 L470.6 595.9 L470.8 596.3 L471 596.8 L471.2 597.2 L471.3 597.7 L471.4 598.3 L471.5 598.8 L471.5 599.5 L471.5 600.2 L471.5 601 L471.4 601.8 L471.3 602.6 L471.2 603.5 L471.1 604.4 L470.9 605.3 L470.8 606.3 L470.6 607.2 L470.5 608.2 L470.4 609.1 L470.2 610.1 L470 611.2 L469.8 612.2 L469.6 613.3 L469.4 614.3 L469.2 615.4 L469.1 616.5 L469 617.5 L469 618.6 L469 619.6 L469.1 620.7 L469.3 621.8 L469.4 622.9 L469.6 624 L469.8 625.1 L470 626.1 L470.2 627.1 L470.4 628.1 L470.5 629 L470.6 629.8 L470.7 630.6 L470.8 631.3 L470.9 632 L471 632.7 L471.1 633.3 L471.1 634 L471.1 634.6 L471.1 635.3 L471 636 L470.8 636.6 L470.6 637.3 L470.4 638 L470.1 638.6 L469.8 639.3 L469.4 639.9 L469.1 640.6 L468.7 641.3 L468.4 642.1 L468 642.9 L467.6 643.8 L467.2 644.8 L466.7 645.9 L466.3 647.1 L465.8 648.2 L465.4 649.3 L464.9 650.3 L464.6 651.3 L464.2 652 L464 652.6 L464 652.6 L463.8 652 L463.4 651.3 L463.1 650.3 L462.6 649.3 L462.2 648.2 L461.7 647.1 L461.3 645.9 L460.8 644.8 L460.4 643.8 L460 642.9 L459.6 642.1 L459.3 641.3 L458.9 640.6 L458.6 639.9 L458.2 639.3 L457.9 638.6 L457.6 638 L457.4 637.3 L457.2 636.6 L457 636 L456.9 635.3 L456.9 634.6 L456.9 634 L456.9 633.3 L457 632.7 L457.1 632 L457.2 631.3 L457.3 630.6 L457.4 629.8 L457.5 629 L457.6 628.1 L457.8 627.1 L458 626.1 L458.2 625.1 L458.4 624 L458.6 622.9 L458.7 621.8 L458.9 620.7 L459 619.6 L459 618.6 L459 617.5 L458.9 616.5 L458.8 615.4 L458.6 614.3 L458.4 613.3 L458.2 612.2 L458 611.2 L457.8 610.1 L457.6 609.1 L457.5 608.2 L457.4 607.2 L457.2 606.3 L457.1 605.3 L456.9 604.4 L456.8 603.5 L456.7 602.6 L456.6 601.8 L456.5 601 L456.5 600.2 L456.5 599.5 L456.5 598.8 L456.6 598.3 L456.7 597.7 L456.8 597.2 L457 596.8 L457.2 596.3 L457.4 595.9 L457.6 595.4 L457.8 594.9 L458 594.3 L458.2 593.7 L458.5 593 L458.8 592.3 L459.1 591.6 L459.4 590.9 L459.7 590.2 L460.1 589.5 L460.4 588.7 L460.7 588 L461 587.3 L461.3 586.6 L461.6 585.8 L462 585 L462.3 584.2 L462.7 583.4 L463 582.7 L463.3 582 L463.6 581.3 L463.8 580.8 L464 580.4 Z" fill="#fff" stroke="#8fbdf5" stroke-width="2" stroke-linejoin="round"/>
<line x1="456.5" y1="601" x2="471.5" y2="601" stroke="#8fbdf5" stroke-width="1.3" stroke-dasharray="1.6 1.6"/>
<line x1="458.4" y1="613.3" x2="469.6" y2="613.3" stroke="#8fbdf5" stroke-width="1.3" stroke-dasharray="1.6 1.6"/>
<line x1="457.3" y1="630.6" x2="470.7" y2="630.6" stroke="#8fbdf5" stroke-width="1.3" stroke-dasharray="1.6 1.6"/>
<g fill="#fff" fill-opacity="1" stroke="#8fbdf5" stroke-width="1.7"><circle cx="463" cy="631.8" r="2.4"/><circle cx="469.6" cy="599.3" r="2.4"/><circle cx="459.6" cy="610" r="2.4"/><circle cx="464" cy="615.6" r="2.4"/><circle cx="464.2" cy="623.9" r="2.4"/><circle cx="459.9" cy="636.2" r="2.4"/><circle cx="465.8" cy="611.9" r="2.4"/><circle cx="462.6" cy="590.4" r="2.4"/><circle cx="462.1" cy="613.1" r="2.4"/><circle cx="466.5" cy="591.6" r="2.4"/><circle cx="461.4" cy="631.4" r="2.4"/><circle cx="459.5" cy="598.8" r="2.4"/><circle cx="467.1" cy="596.4" r="2.4"/><circle cx="461.7" cy="599.5" r="2.4"/><circle cx="462.2" cy="625.3" r="2.4"/><circle cx="461.2" cy="636.6" r="2.4"/><circle cx="460.7" cy="605.4" r="2.4"/><circle cx="464.7" cy="607.7" r="2.4"/><circle cx="464.6" cy="605.5" r="2.4"/><circle cx="469.1" cy="605.7" r="2.4"/><circle cx="467.3" cy="620.7" r="2.4"/><circle cx="466.6" cy="642.4" r="2.4"/><circle cx="460.6" cy="595.8" r="2.4"/><circle cx="469.1" cy="635.7" r="2.4"/></g>
<path d="M481.5 554.3 L481.6 555.1 L481.8 556 L482 557 L482.2 558.2 L482.5 559.5 L482.7 560.9 L482.9 562.3 L483.2 563.8 L483.4 565.2 L483.5 566.5 L483.6 567.8 L483.7 569.2 L483.7 570.5 L483.8 571.9 L483.8 573.3 L483.8 574.7 L483.8 576.2 L483.9 577.6 L483.9 579 L484 580.4 L484.1 581.8 L484.2 583.2 L484.4 584.7 L484.5 586.1 L484.7 587.5 L484.8 589 L485 590.4 L485.2 591.7 L485.3 593 L485.5 594.3 L485.7 595.5 L485.9 596.6 L486 597.8 L486.2 598.8 L486.4 599.9 L486.6 600.9 L486.8 601.9 L487.1 602.9 L487.3 603.8 L487.5 604.7 L487.7 605.5 L488 606.3 L488.3 607 L488.6 607.7 L488.9 608.4 L489.2 609 L489.5 609.7 L489.7 610.4 L489.9 611.2 L490 612 L490 612.9 L490 613.8 L490 614.8 L489.9 615.8 L489.8 616.8 L489.7 617.9 L489.5 618.9 L489.4 620 L489.2 621 L489 622.1 L488.8 623.1 L488.6 624.1 L488.4 625.2 L488.1 626.2 L487.9 627.2 L487.6 628.3 L487.3 629.3 L487.1 630.4 L486.8 631.4 L486.5 632.5 L486.2 633.5 L485.9 634.6 L485.6 635.7 L485.3 636.8 L485 637.9 L484.7 639 L484.3 640.1 L484 641.1 L483.8 642 L483.5 642.9 L483.3 643.7 L483 644.6 L482.8 645.4 L482.5 646.1 L482.3 646.9 L482.1 647.5 L481.9 648.1 L481.8 648.7 L481.6 649.1 L481.5 649.5 L481.5 649.5 L481.4 649.1 L481.2 648.7 L481.1 648.1 L480.9 647.5 L480.7 646.9 L480.5 646.1 L480.2 645.4 L480 644.6 L479.7 643.7 L479.5 642.9 L479.2 642 L479 641.1 L478.7 640.1 L478.3 639 L478 637.9 L477.7 636.8 L477.4 635.7 L477.1 634.6 L476.8 633.5 L476.5 632.5 L476.2 631.4 L475.9 630.4 L475.7 629.3 L475.4 628.3 L475.1 627.2 L474.9 626.2 L474.6 625.2 L474.4 624.1 L474.2 623.1 L474 622.1 L473.8 621 L473.6 620 L473.5 618.9 L473.3 617.9 L473.2 616.8 L473.1 615.8 L473 614.8 L473 613.8 L473 612.9 L473 612 L473.1 611.2 L473.3 610.4 L473.5 609.7 L473.8 609 L474.1 608.4 L474.4 607.7 L474.7 607 L475 606.3 L475.3 605.5 L475.5 604.7 L475.7 603.8 L475.9 602.9 L476.2 601.9 L476.4 600.9 L476.6 599.9 L476.8 598.8 L477 597.8 L477.1 596.6 L477.3 595.5 L477.5 594.3 L477.7 593 L477.8 591.7 L478 590.4 L478.2 589 L478.3 587.5 L478.5 586.1 L478.6 584.7 L478.8 583.2 L478.9 581.8 L479 580.4 L479.1 579 L479.1 577.6 L479.2 576.2 L479.2 574.7 L479.2 573.3 L479.2 571.9 L479.3 570.5 L479.3 569.2 L479.4 567.8 L479.5 566.5 L479.6 565.2 L479.8 563.8 L480.1 562.3 L480.3 560.9 L480.5 559.5 L480.8 558.2 L481 557 L481.2 556 L481.4 555.1 L481.5 554.3 Z" fill="#fff" stroke="#fcba7e" stroke-width="2" stroke-linejoin="round"/>
<line x1="475.7" y1="603.8" x2="487.3" y2="603.8" stroke="#fcba7e" stroke-width="1.3" stroke-dasharray="1.6 1.6"/>
<line x1="473" y1="613.8" x2="490" y2="613.8" stroke="#fcba7e" stroke-width="1.3" stroke-dasharray="1.6 1.6"/>
<line x1="474" y1="622.1" x2="489" y2="622.1" stroke="#fcba7e" stroke-width="1.3" stroke-dasharray="1.6 1.6"/>
<g fill="#fff" fill-opacity="1" stroke="#fcba7e" stroke-width="1.2"><circle cx="481.9" cy="588.7" r="2.4"/><circle cx="482.3" cy="602.7" r="2.4"/><circle cx="483.7" cy="626.8" r="2.4"/><circle cx="476.9" cy="623.4" r="2.4"/><circle cx="482" cy="630.5" r="2.4"/><circle cx="481.5" cy="641.4" r="2.4"/><circle cx="478.8" cy="605" r="2.4"/><circle cx="476.4" cy="622.4" r="2.4"/><circle cx="477.1" cy="617.1" r="2.4"/><circle cx="481.5" cy="568.9" r="2.4"/><circle cx="481.2" cy="610.1" r="2.4"/><circle cx="482.7" cy="628.4" r="2.4"/><circle cx="480.8" cy="626.5" r="2.4"/><circle cx="486.9" cy="608.6" r="2.4"/><circle cx="477.7" cy="603.6" r="2.4"/><circle cx="484.7" cy="624.2" r="2.4"/><circle cx="481.5" cy="583.5" r="2.4"/><circle cx="484" cy="604.9" r="2.4"/><circle cx="477" cy="613.9" r="2.4"/><circle cx="483.5" cy="611.8" r="2.4"/></g>
<line x1="429.5" y1="551" x2="447.2" y2="551" stroke="#000" stroke-width="2.2"/>
<text x="437.7" y="554.5" font-size="20" text-anchor="middle" font-weight="bold">*</text>
<line x1="447.2" y1="542.4" x2="464" y2="542.4" stroke="#000" stroke-width="2.2"/>
<text x="455.8" y="545.9" font-size="20" text-anchor="middle" font-weight="bold">*</text>
<line x1="464" y1="551" x2="481.5" y2="551" stroke="#000" stroke-width="2.2"/>
<text x="473" y="554.5" font-size="20" text-anchor="middle" font-weight="bold">*</text>
<line x1="447.2" y1="530" x2="481.5" y2="530" stroke="#000" stroke-width="2.2"/>
<text x="464.4" y="533.5" font-size="20" text-anchor="middle" font-weight="bold">*</text>
<text font-size="36.9" stroke="#000" stroke-width="0.7" transform="translate(669.4 29.8) scale(0.9604 1)">D</text>
<line x1="731.3" y1="14.7" x2="731.3" y2="183.4" stroke="#000" stroke-width="2.2"/>
<line x1="724.8" y1="15.7" x2="731.3" y2="15.7" stroke="#000" stroke-width="2.2"/>
<line x1="724.8" y1="71.3" x2="731.3" y2="71.3" stroke="#000" stroke-width="2.2"/>
<line x1="724.8" y1="126.8" x2="731.3" y2="126.8" stroke="#000" stroke-width="2.2"/>
<line x1="724.8" y1="182.4" x2="731.3" y2="182.4" stroke="#000" stroke-width="2.2"/>
<text x="722.3" y="22" font-size="17.5" text-anchor="end" textLength="23.8" lengthAdjust="spacingAndGlyphs" stroke="#000" stroke-width="0.5">-40</text>
<text x="722.3" y="77.6" font-size="17.5" text-anchor="end" textLength="23.8" lengthAdjust="spacingAndGlyphs" stroke="#000" stroke-width="0.5">-60</text>
<text x="722.3" y="133.1" font-size="17.5" text-anchor="end" textLength="23.8" lengthAdjust="spacingAndGlyphs" stroke="#000" stroke-width="0.5">-80</text>
<text x="722.3" y="188.7" font-size="17.5" text-anchor="end" textLength="33" lengthAdjust="spacingAndGlyphs" stroke="#000" stroke-width="0.5">-100</text>
<text font-size="17.8" stroke="#000" stroke-width="0.5" transform="translate(685.8 131.9) rotate(-90) scale(0.9011 1)">RMP (mV)</text>
<path d="M754.7 19.9 L754.8 20.3 L754.9 21 L755 21.7 L755.1 22.5 L755.3 23.4 L755.4 24.3 L755.6 25.3 L755.8 26.2 L756 27.1 L756.2 27.9 L756.5 28.7 L756.8 29.6 L757.1 30.4 L757.5 31.3 L757.9 32.1 L758.3 33 L758.6 33.8 L758.9 34.6 L759.1 35.3 L759.2 36 L759.2 36.6 L759.1 37.2 L758.8 37.7 L758.6 38.2 L758.3 38.7 L758 39.1 L757.7 39.6 L757.4 40 L757.3 40.5 L757.2 41 L757.3 41.5 L757.4 42 L757.6 42.4 L757.9 42.9 L758.2 43.4 L758.5 43.9 L758.7 44.4 L759 44.9 L759.1 45.4 L759.2 46 L759.2 46.5 L759 47.1 L758.8 47.7 L758.6 48.3 L758.3 48.9 L758 49.5 L757.8 50.1 L757.7 50.7 L757.6 51.4 L757.7 52.1 L757.9 52.8 L758.3 53.5 L758.7 54.3 L759.2 55.1 L759.8 55.9 L760.4 56.7 L760.9 57.5 L761.4 58.3 L761.9 59.1 L762.2 59.9 L762.4 60.7 L762.6 61.5 L762.7 62.3 L762.7 63.1 L762.7 63.9 L762.8 64.7 L762.8 65.5 L762.9 66.3 L763 67.1 L763.2 67.9 L763.5 68.7 L763.9 69.6 L764.4 70.4 L764.8 71.3 L765.4 72.1 L765.9 73 L766.3 73.8 L766.7 74.6 L767 75.3 L767.2 76 L767.3 76.6 L767.3 77.2 L767.3 77.7 L767.2 78.2 L767 78.7 L766.8 79.1 L766.6 79.6 L766.3 80 L766 80.5 L765.7 81 L765.3 81.5 L764.9 82 L764.3 82.4 L763.8 82.9 L763.2 83.4 L762.6 83.9 L762.1 84.4 L761.5 84.9 L761.1 85.4 L760.7 86 L760.4 86.5 L760.2 87.1 L760 87.7 L759.8 88.3 L759.7 88.9 L759.6 89.5 L759.5 90.1 L759.4 90.7 L759.3 91.4 L759.2 92.1 L759 92.8 L758.9 93.6 L758.7 94.4 L758.5 95.2 L758.3 96 L758.1 96.8 L758 97.6 L757.8 98.4 L757.7 99.2 L757.7 99.9 L757.7 100.6 L757.8 101.2 L757.9 101.8 L758.1 102.4 L758.2 103 L758.4 103.6 L758.5 104.2 L758.7 104.8 L758.7 105.4 L758.7 106 L758.6 106.6 L758.5 107.2 L758.3 107.9 L758.1 108.5 L757.9 109.1 L757.6 109.7 L757.4 110.3 L757.1 110.9 L756.9 111.5 L756.7 112.1 L756.5 112.7 L756.3 113.2 L756 113.8 L755.8 114.4 L755.6 115 L755.4 115.5 L755.2 116 L755 116.4 L754.8 116.8 L754.7 117.1 L754.7 117.1 L754.6 116.8 L754.4 116.4 L754.2 116 L754 115.5 L753.8 115 L753.6 114.4 L753.4 113.8 L753.1 113.2 L752.9 112.7 L752.7 112.1 L752.5 111.5 L752.3 110.9 L752 110.3 L751.8 109.7 L751.5 109.1 L751.3 108.5 L751.1 107.9 L750.9 107.2 L750.8 106.6 L750.7 106 L750.7 105.4 L750.7 104.8 L750.9 104.2 L751 103.6 L751.2 103 L751.3 102.4 L751.5 101.8 L751.6 101.2 L751.7 100.6 L751.7 99.9 L751.7 99.2 L751.6 98.4 L751.4 97.6 L751.3 96.8 L751.1 96 L750.9 95.2 L750.7 94.4 L750.5 93.6 L750.4 92.8 L750.2 92.1 L750.1 91.4 L750 90.7 L749.9 90.1 L749.8 89.5 L749.7 88.9 L749.6 88.3 L749.4 87.7 L749.2 87.1 L749 86.5 L748.7 86 L748.3 85.4 L747.9 84.9 L747.3 84.4 L746.8 83.9 L746.2 83.4 L745.6 82.9 L745.1 82.4 L744.5 82 L744.1 81.5 L743.7 81 L743.4 80.5 L743.1 80 L742.8 79.6 L742.6 79.1 L742.4 78.7 L742.2 78.2 L742.1 77.7 L742.1 77.2 L742.1 76.6 L742.2 76 L742.4 75.3 L742.7 74.6 L743.1 73.8 L743.5 73 L744 72.1 L744.6 71.3 L745 70.4 L745.5 69.6 L745.9 68.7 L746.2 67.9 L746.4 67.1 L746.5 66.3 L746.6 65.5 L746.6 64.7 L746.7 63.9 L746.7 63.1 L746.7 62.3 L746.8 61.5 L747 60.7 L747.2 59.9 L747.5 59.1 L748 58.3 L748.5 57.5 L749 56.7 L749.6 55.9 L750.2 55.1 L750.7 54.3 L751.1 53.5 L751.5 52.8 L751.7 52.1 L751.8 51.4 L751.7 50.7 L751.6 50.1 L751.4 49.5 L751.1 48.9 L750.8 48.3 L750.6 47.7 L750.4 47.1 L750.2 46.5 L750.2 46 L750.3 45.4 L750.4 44.9 L750.7 44.4 L750.9 43.9 L751.2 43.4 L751.5 42.9 L751.8 42.4 L752 42 L752.1 41.5 L752.2 41 L752.1 40.5 L752 40 L751.7 39.6 L751.4 39.1 L751.1 38.7 L750.8 38.2 L750.6 37.7 L750.3 37.2 L750.2 36.6 L750.2 36 L750.3 35.3 L750.5 34.6 L750.8 33.8 L751.1 33 L751.5 32.1 L751.9 31.3 L752.3 30.4 L752.6 29.6 L752.9 28.7 L753.2 27.9 L753.4 27.1 L753.6 26.2 L753.8 25.3 L754 24.3 L754.1 23.4 L754.3 22.5 L754.4 21.7 L754.5 21 L754.6 20.3 L754.7 19.9 Z" fill="#fff" stroke="#168aa0" stroke-width="2.6" stroke-linejoin="round"/>
<line x1="746.7" y1="63.9" x2="762.7" y2="63.9" stroke="#168aa0" stroke-width="1.3" stroke-dasharray="1.6 1.6"/>
<line x1="743.1" y1="73.8" x2="766.3" y2="73.8" stroke="#168aa0" stroke-width="1.3" stroke-dasharray="1.6 1.6"/>
<line x1="743.4" y1="80.5" x2="766" y2="80.5" stroke="#168aa0" stroke-width="1.3" stroke-dasharray="1.6 1.6"/>
<g fill="#168aa0" fill-opacity="0.35" stroke="#168aa0" stroke-width="2.1"><circle cx="756.4" cy="76.3" r="3"/><circle cx="758.9" cy="62.1" r="3"/><circle cx="755.2" cy="77.8" r="3"/><circle cx="761.1" cy="68.1" r="3"/><circle cx="754.7" cy="111.6" r="3"/><circle cx="753.6" cy="85.8" r="3"/><circle cx="754.1" cy="66" r="3"/><circle cx="746.9" cy="79" r="3"/><circle cx="763.3" cy="81.5" r="3"/><circle cx="743.7" cy="76.6" r="3"/><circle cx="752.9" cy="57.4" r="3"/><circle cx="751.7" cy="70.4" r="3"/><circle cx="745.2" cy="75.6" r="3"/><circle cx="747.1" cy="76.5" r="3"/><circle cx="748.7" cy="62.6" r="3"/><circle cx="758" cy="74.4" r="3"/><circle cx="747.2" cy="75.2" r="3"/><circle cx="756.9" cy="76.2" r="3"/><circle cx="752.3" cy="54.9" r="3"/><circle cx="760" cy="59.7" r="3"/><circle cx="749.9" cy="72.5" r="3"/><circle cx="750.4" cy="66" r="3"/><circle cx="752.5" cy="55.4" r="3"/><circle cx="760.8" cy="78.1" r="3"/><circle cx="753.4" cy="73.3" r="3"/><circle cx="754.7" cy="30.2" r="3"/><circle cx="748.7" cy="68.2" r="3"/><circle cx="752.6" cy="72.6" r="3"/><circle cx="752.5" cy="86.4" r="3"/><circle cx="755.1" cy="75.2" r="3"/><circle cx="754.5" cy="76.6" r="3"/><circle cx="753.1" cy="73.3" r="3"/><circle cx="754.5" cy="76.3" r="3"/><circle cx="760.1" cy="59.4" r="3"/><circle cx="746.1" cy="71.3" r="3"/><circle cx="746.1" cy="74.6" r="3"/><circle cx="756.9" cy="53.9" r="3"/><circle cx="753.4" cy="74.1" r="3"/><circle cx="759.4" cy="74.1" r="3"/><circle cx="754.2" cy="89.9" r="3"/><circle cx="747.1" cy="78.2" r="3"/><circle cx="757.1" cy="63.6" r="3"/><circle cx="762" cy="78" r="3"/><circle cx="764" cy="73.6" r="3"/><circle cx="758.9" cy="72.9" r="3"/></g>
<path d="M782.5 15.7 L782.7 16.5 L782.9 17.6 L783.1 18.8 L783.4 20.3 L783.8 21.8 L784.1 23.4 L784.4 25 L784.8 26.6 L785.1 28.1 L785.5 29.6 L785.9 31 L786.2 32.3 L786.6 33.7 L787.1 35.1 L787.5 36.4 L787.9 37.8 L788.3 39.2 L788.7 40.6 L789.1 42 L789.5 43.5 L789.9 45 L790.4 46.5 L790.8 48 L791.3 49.6 L791.8 51.2 L792.2 52.8 L792.6 54.3 L792.8 55.9 L793 57.3 L793 58.8 L792.8 60.1 L792.5 61.5 L792 62.8 L791.4 64.2 L790.8 65.4 L790.1 66.7 L789.6 67.9 L789 69.1 L788.7 70.2 L788.5 71.3 L788.5 72.3 L788.6 73.2 L788.8 74.1 L789.1 75 L789.5 75.8 L789.9 76.6 L790.3 77.3 L790.7 78.1 L791.1 78.8 L791.5 79.6 L791.9 80.3 L792.4 81.1 L792.9 81.8 L793.5 82.5 L794 83.2 L794.5 83.8 L794.9 84.5 L795.3 85.2 L795.5 85.9 L795.5 86.5 L795.4 87.2 L795.1 87.9 L794.7 88.5 L794.1 89.1 L793.6 89.8 L792.9 90.4 L792.3 91.1 L791.6 91.8 L791 92.6 L790.5 93.5 L790 94.4 L789.4 95.4 L788.8 96.5 L788.2 97.6 L787.7 98.8 L787.1 100 L786.6 101.1 L786.1 102.3 L785.8 103.5 L785.5 104.6 L785.3 105.7 L785.3 106.8 L785.3 107.9 L785.4 109 L785.6 110.2 L785.7 111.3 L785.9 112.4 L786 113.5 L786 114.6 L786 115.7 L785.9 116.8 L785.8 118 L785.6 119.1 L785.4 120.3 L785.1 121.4 L784.9 122.6 L784.6 123.7 L784.4 124.8 L784.2 125.8 L784 126.8 L783.8 127.8 L783.6 128.8 L783.5 129.8 L783.3 130.8 L783.1 131.7 L783 132.6 L782.8 133.4 L782.7 134.1 L782.6 134.7 L782.5 135.2 L782.5 135.2 L782.4 134.7 L782.3 134.1 L782.2 133.4 L782 132.6 L781.9 131.7 L781.7 130.8 L781.5 129.8 L781.4 128.8 L781.2 127.8 L781 126.8 L780.8 125.8 L780.6 124.8 L780.4 123.7 L780.1 122.6 L779.9 121.4 L779.6 120.3 L779.4 119.1 L779.2 118 L779.1 116.8 L779 115.7 L779 114.6 L779 113.5 L779.1 112.4 L779.3 111.3 L779.4 110.2 L779.6 109 L779.7 107.9 L779.7 106.8 L779.7 105.7 L779.5 104.6 L779.2 103.5 L778.9 102.3 L778.4 101.1 L777.9 100 L777.3 98.8 L776.8 97.6 L776.2 96.5 L775.6 95.4 L775 94.4 L774.5 93.5 L774 92.6 L773.4 91.8 L772.7 91.1 L772.1 90.4 L771.4 89.8 L770.9 89.1 L770.3 88.5 L769.9 87.9 L769.6 87.2 L769.5 86.5 L769.5 85.9 L769.7 85.2 L770.1 84.5 L770.5 83.8 L771 83.2 L771.5 82.5 L772.1 81.8 L772.6 81.1 L773.1 80.3 L773.5 79.6 L773.9 78.8 L774.3 78.1 L774.7 77.3 L775.1 76.6 L775.5 75.8 L775.9 75 L776.2 74.1 L776.4 73.2 L776.5 72.3 L776.5 71.3 L776.3 70.2 L776 69.1 L775.4 67.9 L774.9 66.7 L774.2 65.4 L773.6 64.2 L773 62.8 L772.5 61.5 L772.2 60.1 L772 58.8 L772 57.3 L772.2 55.9 L772.4 54.3 L772.8 52.8 L773.2 51.2 L773.7 49.6 L774.2 48 L774.6 46.5 L775.1 45 L775.5 43.5 L775.9 42 L776.3 40.6 L776.7 39.2 L777.1 37.8 L777.5 36.4 L777.9 35.1 L778.4 33.7 L778.8 32.3 L779.1 31 L779.5 29.6 L779.9 28.1 L780.2 26.6 L780.6 25 L780.9 23.4 L781.2 21.8 L781.6 20.3 L781.9 18.8 L782.1 17.6 L782.3 16.5 L782.5 15.7 Z" fill="#fff" stroke="#f8841f" stroke-width="2.6" stroke-linejoin="round"/>
<line x1="772.4" y1="54.3" x2="792.6" y2="54.3" stroke="#f8841f" stroke-width="1.3" stroke-dasharray="1.6 1.6"/>
<line x1="776.5" y1="71.3" x2="788.5" y2="71.3" stroke="#f8841f" stroke-width="1.3" stroke-dasharray="1.6 1.6"/>
<line x1="769.5" y1="86.5" x2="795.5" y2="86.5" stroke="#f8841f" stroke-width="1.3" stroke-dasharray="1.6 1.6"/>
<g fill="#f8841f" fill-opacity="0.2" stroke="#f8841f" stroke-width="1.9"><circle cx="788" cy="66.1" r="3"/><circle cx="783.5" cy="67.3" r="3"/><circle cx="784.6" cy="52" r="3"/><circle cx="778.2" cy="87.9" r="3"/><circle cx="784.8" cy="44.7" r="3"/><circle cx="786.5" cy="39.2" r="3"/><circle cx="775.4" cy="83.6" r="3"/><circle cx="780.7" cy="31.7" r="3"/><circle cx="775.1" cy="51.6" r="3"/><circle cx="786.5" cy="67.2" r="3"/><circle cx="782.5" cy="74.7" r="3"/><circle cx="778" cy="83.5" r="3"/><circle cx="782.5" cy="126.8" r="3"/><circle cx="779.4" cy="90.9" r="3"/><circle cx="775.4" cy="53.2" r="3"/><circle cx="790.3" cy="87.5" r="3"/><circle cx="788.1" cy="62.8" r="3"/><circle cx="782.5" cy="20.6" r="3"/><circle cx="787.4" cy="95.9" r="3"/><circle cx="784.7" cy="61.6" r="3"/><circle cx="773.4" cy="88" r="3"/><circle cx="787.1" cy="60.1" r="3"/><circle cx="777.7" cy="45.3" r="3"/><circle cx="779.5" cy="40.3" r="3"/><circle cx="778.2" cy="78.4" r="3"/><circle cx="785.8" cy="85.9" r="3"/><circle cx="779" cy="45.6" r="3"/><circle cx="787.9" cy="57.3" r="3"/><circle cx="777.3" cy="58.6" r="3"/><circle cx="784.8" cy="62.6" r="3"/><circle cx="779.1" cy="44.9" r="3"/><circle cx="779.5" cy="55.5" r="3"/><circle cx="775.3" cy="56" r="3"/><circle cx="784" cy="79.8" r="3"/><circle cx="790.5" cy="60.8" r="3"/><circle cx="786" cy="69.7" r="3"/><circle cx="788.5" cy="49.9" r="3"/><circle cx="776.3" cy="89.3" r="3"/><circle cx="775.5" cy="86.5" r="3"/><circle cx="782.9" cy="103.3" r="3"/><circle cx="775.2" cy="63" r="3"/><circle cx="782.5" cy="109.3" r="3"/><circle cx="789.8" cy="85.3" r="3"/><circle cx="777.3" cy="80.6" r="3"/><circle cx="776.3" cy="85.9" r="3"/></g>
<path d="M810.2 36.3 L810.3 36.9 L810.5 37.6 L810.7 38.6 L810.9 39.6 L811.2 40.7 L811.4 41.9 L811.7 43.1 L812 44.2 L812.4 45.3 L812.7 46.3 L813.1 47.2 L813.5 48 L814 48.9 L814.4 49.7 L814.9 50.5 L815.4 51.3 L815.9 52.1 L816.4 53 L816.8 53.8 L817.2 54.6 L817.6 55.4 L817.9 56.2 L818.3 56.9 L818.7 57.7 L819 58.4 L819.3 59.2 L819.6 60 L819.8 60.9 L820 61.9 L820.2 62.9 L820.3 64.1 L820.4 65.4 L820.5 66.9 L820.6 68.3 L820.6 69.9 L820.6 71.4 L820.5 72.9 L820.4 74.3 L820.3 75.6 L820.2 76.8 L820 77.9 L819.8 78.8 L819.6 79.7 L819.3 80.5 L819 81.3 L818.7 82.1 L818.3 82.8 L817.9 83.6 L817.6 84.3 L817.2 85.2 L816.8 85.9 L816.3 86.6 L815.8 87.3 L815.3 88 L814.8 88.6 L814.3 89.4 L813.8 90.2 L813.4 91.1 L813 92.2 L812.7 93.5 L812.5 94.9 L812.3 96.5 L812.2 98.2 L812.2 100.1 L812.2 102 L812.2 104 L812.2 106.1 L812.2 108.3 L812.2 110.6 L812.2 112.9 L812.2 115.4 L812.1 118.2 L812.1 121.1 L812.1 124.1 L812.1 127.2 L812.1 130.2 L812.1 133.1 L812.1 135.9 L812.1 138.5 L812.2 140.7 L812.3 142.7 L812.5 144.5 L812.6 146.2 L812.8 147.7 L813 149 L813.2 150.3 L813.4 151.5 L813.6 152.6 L813.7 153.6 L813.7 154.6 L813.7 155.5 L813.6 156.2 L813.5 156.8 L813.3 157.3 L813.2 157.8 L813 158.2 L812.8 158.6 L812.6 159 L812.4 159.5 L812.2 160.2 L812 160.9 L811.8 161.7 L811.6 162.6 L811.3 163.5 L811.1 164.4 L810.9 165.3 L810.7 166.1 L810.5 166.8 L810.3 167.5 L810.2 167.9 L810.2 167.9 L810.1 167.5 L809.9 166.8 L809.7 166.1 L809.5 165.3 L809.3 164.4 L809.1 163.5 L808.8 162.6 L808.6 161.7 L808.4 160.9 L808.2 160.2 L808 159.5 L807.8 159 L807.6 158.6 L807.4 158.2 L807.2 157.8 L807.1 157.3 L806.9 156.8 L806.8 156.2 L806.7 155.5 L806.7 154.6 L806.7 153.6 L806.8 152.6 L807 151.5 L807.2 150.3 L807.4 149 L807.6 147.7 L807.8 146.2 L807.9 144.5 L808.1 142.7 L808.2 140.7 L808.3 138.5 L808.3 135.9 L808.3 133.1 L808.3 130.2 L808.3 127.2 L808.3 124.1 L808.3 121.1 L808.3 118.2 L808.2 115.4 L808.2 112.9 L808.2 110.6 L808.2 108.3 L808.2 106.1 L808.2 104 L808.2 102 L808.2 100.1 L808.2 98.2 L808.1 96.5 L807.9 94.9 L807.7 93.5 L807.4 92.2 L807 91.1 L806.6 90.2 L806.1 89.4 L805.6 88.6 L805.1 88 L804.6 87.3 L804.1 86.6 L803.6 85.9 L803.2 85.2 L802.8 84.3 L802.5 83.6 L802.1 82.8 L801.7 82.1 L801.4 81.3 L801.1 80.5 L800.8 79.7 L800.6 78.8 L800.4 77.9 L800.2 76.8 L800.1 75.6 L800 74.3 L799.9 72.9 L799.8 71.4 L799.8 69.9 L799.8 68.3 L799.9 66.9 L800 65.4 L800.1 64.1 L800.2 62.9 L800.4 61.9 L800.6 60.9 L800.8 60 L801.1 59.2 L801.4 58.4 L801.7 57.7 L802.1 56.9 L802.5 56.2 L802.8 55.4 L803.2 54.6 L803.6 53.8 L804 53 L804.5 52.1 L805 51.3 L805.5 50.5 L806 49.7 L806.4 48.9 L806.9 48 L807.3 47.2 L807.7 46.3 L808 45.3 L808.4 44.2 L808.7 43.1 L809 41.9 L809.2 40.7 L809.5 39.6 L809.7 38.6 L809.9 37.6 L810.1 36.9 L810.2 36.3 Z" fill="#fff" stroke="#8fbdf5" stroke-width="2.2" stroke-linejoin="round"/>
<line x1="800.2" y1="62.9" x2="820.2" y2="62.9" stroke="#8fbdf5" stroke-width="1.3" stroke-dasharray="1.6 1.6"/>
<line x1="799.8" y1="71.4" x2="820.6" y2="71.4" stroke="#8fbdf5" stroke-width="1.3" stroke-dasharray="1.6 1.6"/>
<line x1="801.1" y1="80.5" x2="819.3" y2="80.5" stroke="#8fbdf5" stroke-width="1.3" stroke-dasharray="1.6 1.6"/>
<g fill="#fff" fill-opacity="1" stroke="#8fbdf5" stroke-width="1.7"><circle cx="813.2" cy="70.9" r="3"/><circle cx="808.4" cy="58.4" r="3"/><circle cx="813.5" cy="63.9" r="3"/><circle cx="813" cy="75" r="3"/><circle cx="805.2" cy="58.8" r="3"/><circle cx="810.2" cy="113.1" r="3"/><circle cx="812.2" cy="85.2" r="3"/><circle cx="816.2" cy="66" r="3"/><circle cx="812.1" cy="48.9" r="3"/><circle cx="818.8" cy="71.5" r="3"/><circle cx="810.2" cy="142.9" r="3"/><circle cx="806.9" cy="68.6" r="3"/><circle cx="813.6" cy="75.8" r="3"/><circle cx="813.2" cy="53.1" r="3"/><circle cx="811.9" cy="69" r="3"/><circle cx="801.9" cy="70.5" r="3"/><circle cx="817.4" cy="80.5" r="3"/><circle cx="807.9" cy="77.2" r="3"/><circle cx="803.9" cy="78.5" r="3"/><circle cx="810.4" cy="62.3" r="3"/><circle cx="804.8" cy="84.7" r="3"/><circle cx="810.4" cy="85.5" r="3"/><circle cx="808.3" cy="62.3" r="3"/><circle cx="810.9" cy="82.2" r="3"/></g>
<path d="M838.3 22.9 L838.5 23.6 L838.7 24.6 L839 25.6 L839.3 26.9 L839.6 28.2 L839.9 29.5 L840.3 31 L840.6 32.4 L841 33.8 L841.3 35.1 L841.6 36.5 L842 37.8 L842.3 39.2 L842.6 40.6 L843 42.1 L843.3 43.5 L843.7 44.9 L844 46.3 L844.4 47.7 L844.8 49 L845.2 50.4 L845.8 51.7 L846.3 53.1 L846.9 54.4 L847.5 55.7 L848.1 57 L848.5 58.3 L848.9 59.5 L849.2 60.7 L849.3 61.8 L849.2 62.9 L849 63.9 L848.7 64.8 L848.3 65.8 L847.8 66.6 L847.2 67.5 L846.7 68.4 L846.2 69.3 L845.7 70.3 L845.3 71.3 L844.9 72.3 L844.6 73.4 L844.2 74.6 L843.8 75.7 L843.4 76.9 L843.1 78 L842.8 79.2 L842.6 80.3 L842.4 81.4 L842.3 82.4 L842.3 83.3 L842.4 84.2 L842.5 85.1 L842.7 85.9 L842.9 86.7 L843.2 87.5 L843.5 88.3 L843.8 89.1 L844 89.9 L844.3 90.7 L844.6 91.5 L844.9 92.4 L845.3 93.2 L845.8 94 L846.2 94.9 L846.6 95.7 L846.9 96.5 L847.1 97.4 L847.3 98.2 L847.3 99 L847.2 99.9 L846.9 100.7 L846.6 101.5 L846.2 102.2 L845.7 103 L845.2 103.8 L844.6 104.7 L844.1 105.5 L843.7 106.4 L843.3 107.4 L843 108.3 L842.6 109.3 L842.3 110.3 L842 111.3 L841.7 112.4 L841.4 113.4 L841.1 114.6 L840.8 115.8 L840.6 117.1 L840.3 118.5 L840.1 120.1 L839.8 121.9 L839.6 123.8 L839.3 125.9 L839.1 127.9 L838.9 129.9 L838.7 131.8 L838.6 133.5 L838.4 134.9 L838.3 136 L838.3 136 L838.2 134.9 L838 133.5 L837.9 131.8 L837.7 129.9 L837.5 127.9 L837.3 125.9 L837 123.8 L836.8 121.9 L836.5 120.1 L836.3 118.5 L836 117.1 L835.8 115.8 L835.5 114.6 L835.2 113.4 L834.9 112.4 L834.6 111.3 L834.3 110.3 L834 109.3 L833.6 108.3 L833.3 107.4 L832.9 106.4 L832.5 105.5 L832 104.7 L831.4 103.8 L830.9 103 L830.4 102.2 L830 101.5 L829.7 100.7 L829.4 99.9 L829.3 99 L829.3 98.2 L829.5 97.4 L829.7 96.5 L830 95.7 L830.4 94.9 L830.8 94 L831.3 93.2 L831.7 92.4 L832 91.5 L832.3 90.7 L832.6 89.9 L832.8 89.1 L833.1 88.3 L833.4 87.5 L833.7 86.7 L833.9 85.9 L834.1 85.1 L834.2 84.2 L834.3 83.3 L834.3 82.4 L834.2 81.4 L834 80.3 L833.8 79.2 L833.5 78 L833.2 76.9 L832.8 75.7 L832.4 74.6 L832 73.4 L831.7 72.3 L831.3 71.3 L830.9 70.3 L830.4 69.3 L829.9 68.4 L829.4 67.5 L828.8 66.6 L828.3 65.8 L827.9 64.8 L827.6 63.9 L827.4 62.9 L827.3 61.8 L827.4 60.7 L827.7 59.5 L828.1 58.3 L828.5 57 L829.1 55.7 L829.7 54.4 L830.3 53.1 L830.8 51.7 L831.4 50.4 L831.8 49 L832.2 47.7 L832.6 46.3 L832.9 44.9 L833.3 43.5 L833.6 42.1 L834 40.6 L834.3 39.2 L834.6 37.8 L835 36.5 L835.3 35.1 L835.6 33.8 L836 32.4 L836.3 31 L836.7 29.5 L837 28.2 L837.3 26.9 L837.6 25.6 L837.9 24.6 L838.1 23.6 L838.3 22.9 Z" fill="#fff" stroke="#fcba7e" stroke-width="2" stroke-linejoin="round"/>
<line x1="828.5" y1="57" x2="848.1" y2="57" stroke="#fcba7e" stroke-width="1.3" stroke-dasharray="1.6 1.6"/>
<line x1="828.8" y1="66.6" x2="847.8" y2="66.6" stroke="#fcba7e" stroke-width="1.3" stroke-dasharray="1.6 1.6"/>
<line x1="830.8" y1="94" x2="845.8" y2="94" stroke="#fcba7e" stroke-width="1.3" stroke-dasharray="1.6 1.6"/>
<g fill="#fff" fill-opacity="1" stroke="#fcba7e" stroke-width="1.2"><circle cx="841.5" cy="57.9" r="2.9"/><circle cx="834.3" cy="99.2" r="2.9"/><circle cx="841.2" cy="52" r="2.9"/><circle cx="835" cy="51.1" r="2.9"/><circle cx="844.3" cy="58.8" r="2.9"/><circle cx="836.3" cy="74.6" r="2.9"/><circle cx="842.3" cy="52.9" r="2.9"/><circle cx="841.9" cy="98.1" r="2.9"/><circle cx="836.6" cy="107.2" r="2.9"/><circle cx="842.1" cy="99.4" r="2.9"/><circle cx="836.7" cy="70.7" r="2.9"/><circle cx="831.3" cy="64.2" r="2.9"/><circle cx="845.5" cy="98" r="2.9"/><circle cx="840.2" cy="88.7" r="2.9"/><circle cx="837.6" cy="51.3" r="2.9"/><circle cx="838.6" cy="53.3" r="2.9"/><circle cx="840.1" cy="57.6" r="2.9"/><circle cx="838.1" cy="63" r="2.9"/><circle cx="833.2" cy="57.3" r="2.9"/><circle cx="841.2" cy="61.9" r="2.9"/><circle cx="839.9" cy="106.8" r="2.9"/><circle cx="834.8" cy="104.7" r="2.9"/></g>
<text font-size="36.6" stroke="#000" stroke-width="0.8" transform="translate(874.5 29.6) scale(0.9218 1)">E</text>
<line x1="930.5" y1="15.4" x2="930.5" y2="181.7" stroke="#000" stroke-width="2.2"/>
<line x1="924" y1="16.4" x2="930.5" y2="16.4" stroke="#000" stroke-width="2.2"/>
<line x1="924" y1="57.5" x2="930.5" y2="57.5" stroke="#000" stroke-width="2.2"/>
<line x1="924" y1="98.5" x2="930.5" y2="98.5" stroke="#000" stroke-width="2.2"/>
<line x1="924" y1="139.6" x2="930.5" y2="139.6" stroke="#000" stroke-width="2.2"/>
<line x1="924" y1="180.7" x2="930.5" y2="180.7" stroke="#000" stroke-width="2.2"/>
<text x="921.5" y="22.7" font-size="17.5" text-anchor="end" textLength="23" lengthAdjust="spacingAndGlyphs" stroke="#000" stroke-width="0.5">0.4</text>
<text x="921.5" y="63.8" font-size="17.5" text-anchor="end" textLength="23" lengthAdjust="spacingAndGlyphs" stroke="#000" stroke-width="0.5">0.3</text>
<text x="921.5" y="104.8" font-size="17.5" text-anchor="end" textLength="23" lengthAdjust="spacingAndGlyphs" stroke="#000" stroke-width="0.5">0.2</text>
<text x="921.5" y="145.9" font-size="17.5" text-anchor="end" textLength="23" lengthAdjust="spacingAndGlyphs" stroke="#000" stroke-width="0.5">0.1</text>
<text x="921.5" y="187" font-size="17.5" text-anchor="end" textLength="23" lengthAdjust="spacingAndGlyphs" stroke="#000" stroke-width="0.5">0.0</text>
<text font-size="16.9" stroke="#000" stroke-width="0.5" transform="translate(892.9 170.1) rotate(-90) scale(0.9237 1)">Input Resist. (GΩ)</text>
<path d="M954.7 78 L954.9 78.5 L955.1 79.1 L955.3 79.7 L955.5 80.5 L955.8 81.3 L956.1 82.3 L956.5 83.2 L956.9 84.2 L957.3 85.2 L957.7 86.2 L958.2 87.3 L958.8 88.4 L959.4 89.6 L960.1 90.9 L960.8 92.1 L961.4 93.4 L962.1 94.7 L962.7 96 L963.2 97.3 L963.7 98.5 L964.1 99.8 L964.4 101 L964.6 102.2 L964.8 103.5 L965 104.7 L965.2 105.9 L965.3 107.2 L965.4 108.4 L965.6 109.6 L965.7 110.9 L965.9 112.1 L966 113.4 L966.2 114.7 L966.3 116 L966.5 117.3 L966.6 118.6 L966.7 119.8 L966.7 121 L966.7 122.1 L966.7 123.2 L966.6 124.2 L966.5 125.1 L966.3 126 L966.1 126.8 L965.9 127.6 L965.6 128.3 L965.4 129.1 L965.1 129.8 L964.9 130.6 L964.7 131.4 L964.5 132.2 L964.3 133.1 L964.1 133.9 L963.9 134.7 L963.8 135.5 L963.6 136.3 L963.4 137.2 L963.2 138 L962.9 138.8 L962.7 139.6 L962.4 140.4 L962.2 141.3 L961.9 142.1 L961.6 142.9 L961.3 143.7 L960.9 144.6 L960.6 145.4 L960.3 146.2 L960 147 L959.7 147.8 L959.4 148.7 L959.1 149.5 L958.8 150.4 L958.5 151.2 L958.1 152.1 L957.8 152.9 L957.5 153.8 L957.2 154.6 L957 155.3 L956.7 156.1 L956.5 156.8 L956.2 157.5 L956 158.1 L955.7 158.8 L955.5 159.4 L955.3 160 L955.1 160.6 L955 161.1 L954.8 161.5 L954.7 161.8 L954.7 161.8 L954.6 161.5 L954.4 161.1 L954.3 160.6 L954.1 160 L953.9 159.4 L953.7 158.8 L953.4 158.1 L953.2 157.5 L952.9 156.8 L952.7 156.1 L952.4 155.3 L952.2 154.6 L951.9 153.8 L951.6 152.9 L951.3 152.1 L950.9 151.2 L950.6 150.4 L950.3 149.5 L950 148.7 L949.7 147.8 L949.4 147 L949.1 146.2 L948.8 145.4 L948.5 144.6 L948.1 143.7 L947.8 142.9 L947.5 142.1 L947.2 141.3 L947 140.4 L946.7 139.6 L946.5 138.8 L946.2 138 L946 137.2 L945.8 136.3 L945.6 135.5 L945.5 134.7 L945.3 133.9 L945.1 133.1 L944.9 132.2 L944.7 131.4 L944.5 130.6 L944.3 129.8 L944 129.1 L943.8 128.3 L943.5 127.6 L943.3 126.8 L943.1 126 L942.9 125.1 L942.8 124.2 L942.7 123.2 L942.7 122.1 L942.7 121 L942.7 119.8 L942.8 118.6 L943 117.3 L943.1 116 L943.2 114.7 L943.4 113.4 L943.5 112.1 L943.7 110.9 L943.8 109.6 L944 108.4 L944.1 107.2 L944.2 105.9 L944.4 104.7 L944.6 103.5 L944.8 102.2 L945 101 L945.3 99.8 L945.7 98.5 L946.2 97.3 L946.7 96 L947.3 94.7 L948 93.4 L948.6 92.1 L949.3 90.9 L950 89.6 L950.6 88.4 L951.2 87.3 L951.7 86.2 L952.1 85.2 L952.5 84.2 L952.9 83.2 L953.3 82.3 L953.6 81.3 L953.9 80.5 L954.1 79.7 L954.3 79.1 L954.5 78.5 L954.7 78 Z" fill="#fff" stroke="#168aa0" stroke-width="2.6" stroke-linejoin="round"/>
<line x1="944.2" y1="105.9" x2="965.2" y2="105.9" stroke="#168aa0" stroke-width="1.3" stroke-dasharray="1.6 1.6"/>
<line x1="942.8" y1="118.6" x2="966.6" y2="118.6" stroke="#168aa0" stroke-width="1.3" stroke-dasharray="1.6 1.6"/>
<line x1="944" y1="129.1" x2="965.4" y2="129.1" stroke="#168aa0" stroke-width="1.3" stroke-dasharray="1.6 1.6"/>
<g fill="#168aa0" fill-opacity="0.35" stroke="#168aa0" stroke-width="2.1"><circle cx="958.2" cy="139.4" r="3"/><circle cx="956.5" cy="139" r="3"/><circle cx="955.7" cy="139.5" r="3"/><circle cx="963.1" cy="102.8" r="3"/><circle cx="961.6" cy="98.9" r="3"/><circle cx="951" cy="116.3" r="3"/><circle cx="953.8" cy="139.9" r="3"/><circle cx="954.5" cy="124" r="3"/><circle cx="948.4" cy="96.8" r="3"/><circle cx="957.5" cy="97.5" r="3"/><circle cx="948.4" cy="109.3" r="3"/><circle cx="957.8" cy="98.6" r="3"/><circle cx="950.8" cy="135.7" r="3"/><circle cx="953.5" cy="89.2" r="3"/><circle cx="956.3" cy="100.6" r="3"/><circle cx="957.5" cy="116.2" r="3"/><circle cx="947.7" cy="120.3" r="3"/><circle cx="956.9" cy="142" r="3"/><circle cx="954.7" cy="154.2" r="3"/><circle cx="956.7" cy="111" r="3"/><circle cx="964.9" cy="119.1" r="3"/><circle cx="960.8" cy="134" r="3"/><circle cx="954.7" cy="83.8" r="3"/><circle cx="963.3" cy="110.5" r="3"/><circle cx="945.3" cy="120.7" r="3"/><circle cx="953.8" cy="125.2" r="3"/><circle cx="959.4" cy="111" r="3"/><circle cx="948.8" cy="97.6" r="3"/><circle cx="945.4" cy="125.4" r="3"/><circle cx="954.8" cy="91.1" r="3"/><circle cx="955.6" cy="88.5" r="3"/><circle cx="950.8" cy="118.7" r="3"/><circle cx="952.9" cy="100.1" r="3"/><circle cx="949.9" cy="105" r="3"/><circle cx="962" cy="110.3" r="3"/><circle cx="944.4" cy="124.6" r="3"/><circle cx="953" cy="104.3" r="3"/><circle cx="951.6" cy="135.4" r="3"/><circle cx="958.1" cy="112.5" r="3"/><circle cx="960.1" cy="97.6" r="3"/><circle cx="952.7" cy="113.4" r="3"/><circle cx="948.4" cy="134.3" r="3"/><circle cx="963.5" cy="121.2" r="3"/><circle cx="963" cy="127.2" r="3"/><circle cx="959.2" cy="121" r="3"/><circle cx="960.6" cy="102.6" r="3"/><circle cx="947.8" cy="98.5" r="3"/><circle cx="953" cy="129.5" r="3"/></g>
<path d="M982 67.3 L982.2 68 L982.4 68.8 L982.6 69.7 L982.9 70.8 L983.2 71.9 L983.5 73.1 L983.9 74.4 L984.2 75.6 L984.6 76.8 L985 78 L985.4 79.2 L985.9 80.4 L986.4 81.6 L987 82.8 L987.5 84.1 L988 85.3 L988.6 86.6 L989.1 87.8 L989.6 89.1 L990 90.3 L990.4 91.5 L990.8 92.7 L991.2 93.9 L991.5 95.1 L991.9 96.2 L992.2 97.4 L992.5 98.7 L992.7 99.9 L992.9 101.3 L993 102.7 L993 104.2 L993 105.8 L992.9 107.5 L992.7 109.3 L992.6 111.1 L992.4 112.9 L992.2 114.6 L992.1 116.3 L992 117.8 L992 119.1 L992.1 120.2 L992.3 121.2 L992.5 122 L992.8 122.8 L993.1 123.5 L993.3 124.1 L993.6 124.8 L993.8 125.5 L993.9 126.4 L994 127.3 L994 128.4 L993.9 129.6 L993.8 130.8 L993.6 132.1 L993.4 133.5 L993.1 134.8 L992.9 136.1 L992.6 137.4 L992.3 138.5 L992 139.6 L991.7 140.6 L991.3 141.5 L990.9 142.4 L990.5 143.2 L990.1 144 L989.7 144.8 L989.2 145.5 L988.8 146.3 L988.4 147 L988 147.8 L987.6 148.7 L987.3 149.5 L986.9 150.3 L986.5 151.1 L986.2 152 L985.8 152.8 L985.5 153.6 L985.1 154.4 L984.8 155.3 L984.5 156.1 L984.2 156.9 L983.9 157.8 L983.6 158.7 L983.3 159.6 L983 160.5 L982.8 161.3 L982.5 162.1 L982.3 162.8 L982.1 163.4 L982 163.9 L982 163.9 L981.9 163.4 L981.7 162.8 L981.5 162.1 L981.2 161.3 L981 160.5 L980.7 159.6 L980.4 158.7 L980.1 157.8 L979.8 156.9 L979.5 156.1 L979.2 155.3 L978.9 154.4 L978.5 153.6 L978.2 152.8 L977.8 152 L977.5 151.1 L977.1 150.3 L976.7 149.5 L976.4 148.7 L976 147.8 L975.6 147 L975.2 146.3 L974.8 145.5 L974.3 144.8 L973.9 144 L973.5 143.2 L973.1 142.4 L972.7 141.5 L972.3 140.6 L972 139.6 L971.7 138.5 L971.4 137.4 L971.1 136.1 L970.9 134.8 L970.6 133.5 L970.4 132.1 L970.2 130.8 L970.1 129.6 L970 128.4 L970 127.3 L970.1 126.4 L970.2 125.5 L970.4 124.8 L970.7 124.1 L970.9 123.5 L971.2 122.8 L971.5 122 L971.7 121.2 L971.9 120.2 L972 119.1 L972 117.8 L971.9 116.3 L971.8 114.6 L971.6 112.9 L971.4 111.1 L971.3 109.3 L971.1 107.5 L971 105.8 L971 104.2 L971 102.7 L971.1 101.3 L971.3 99.9 L971.5 98.7 L971.8 97.4 L972.1 96.2 L972.5 95.1 L972.8 93.9 L973.2 92.7 L973.6 91.5 L974 90.3 L974.4 89.1 L974.9 87.8 L975.4 86.6 L976 85.3 L976.5 84.1 L977 82.8 L977.6 81.6 L978.1 80.4 L978.6 79.2 L979 78 L979.4 76.8 L979.8 75.6 L980.1 74.4 L980.5 73.1 L980.8 71.9 L981.1 70.8 L981.4 69.7 L981.6 68.8 L981.8 68 L982 67.3 Z" fill="#fff" stroke="#f8841f" stroke-width="2.6" stroke-linejoin="round"/>
<line x1="971" y1="102.7" x2="993" y2="102.7" stroke="#f8841f" stroke-width="1.3" stroke-dasharray="1.6 1.6"/>
<line x1="972" y1="117.8" x2="992" y2="117.8" stroke="#f8841f" stroke-width="1.3" stroke-dasharray="1.6 1.6"/>
<line x1="970.2" y1="130.8" x2="993.8" y2="130.8" stroke="#f8841f" stroke-width="1.3" stroke-dasharray="1.6 1.6"/>
<g fill="#f8841f" fill-opacity="0.2" stroke="#f8841f" stroke-width="1.9"><circle cx="984.4" cy="98.3" r="3"/><circle cx="987" cy="116.6" r="3"/><circle cx="982.1" cy="135.5" r="3"/><circle cx="979.6" cy="101.3" r="3"/><circle cx="987.6" cy="123.5" r="3"/><circle cx="973.4" cy="101.6" r="3"/><circle cx="982" cy="156.7" r="3"/><circle cx="974" cy="139.2" r="3"/><circle cx="974.7" cy="106.7" r="3"/><circle cx="977.9" cy="145" r="3"/><circle cx="990.2" cy="135" r="3"/><circle cx="979.3" cy="115.5" r="3"/><circle cx="974.1" cy="116.5" r="3"/><circle cx="987.1" cy="137.6" r="3"/><circle cx="989.4" cy="101.2" r="3"/><circle cx="983.6" cy="131.8" r="3"/><circle cx="981.5" cy="129.7" r="3"/><circle cx="990.1" cy="135.1" r="3"/><circle cx="979.7" cy="140" r="3"/><circle cx="990.6" cy="115.3" r="3"/><circle cx="974.5" cy="109.4" r="3"/><circle cx="981.9" cy="130.8" r="3"/><circle cx="986.2" cy="117.1" r="3"/><circle cx="983.1" cy="100.7" r="3"/><circle cx="975.3" cy="124.9" r="3"/><circle cx="979.2" cy="109.2" r="3"/><circle cx="974.1" cy="124.3" r="3"/><circle cx="985.6" cy="90.1" r="3"/><circle cx="985.2" cy="110.6" r="3"/><circle cx="980.5" cy="140.6" r="3"/><circle cx="982.4" cy="152.8" r="3"/><circle cx="979.8" cy="139.1" r="3"/><circle cx="975.6" cy="102.5" r="3"/><circle cx="985.5" cy="90.1" r="3"/><circle cx="974.4" cy="117.5" r="3"/><circle cx="980.5" cy="103.1" r="3"/><circle cx="979.2" cy="97.5" r="3"/><circle cx="986" cy="140.6" r="3"/><circle cx="989.8" cy="116.6" r="3"/><circle cx="973.9" cy="119.9" r="3"/><circle cx="987.5" cy="101" r="3"/><circle cx="980.7" cy="139.2" r="3"/><circle cx="978.3" cy="123.3" r="3"/><circle cx="986.6" cy="120.5" r="3"/><circle cx="984" cy="80" r="3"/><circle cx="983.1" cy="83.6" r="3"/><circle cx="977.7" cy="138" r="3"/><circle cx="989.2" cy="112.8" r="3"/></g>
<path d="M1009.7 38.6 L1009.8 39.5 L1010 40.6 L1010.2 41.9 L1010.4 43.4 L1010.6 44.9 L1010.8 46.6 L1011.1 48.3 L1011.3 50.1 L1011.5 51.8 L1011.7 53.4 L1011.9 55 L1012 56.6 L1012.1 58.3 L1012.2 60 L1012.4 61.7 L1012.5 63.4 L1012.6 65.1 L1012.8 66.7 L1013 68.3 L1013.2 69.8 L1013.5 71.2 L1013.8 72.5 L1014.1 73.7 L1014.4 74.8 L1014.8 76 L1015.2 77.1 L1015.6 78.3 L1015.9 79.5 L1016.3 80.7 L1016.7 82.1 L1017.1 83.6 L1017.6 85.1 L1018.1 86.7 L1018.7 88.4 L1019.2 90.1 L1019.7 91.8 L1020.1 93.5 L1020.5 95.2 L1020.7 96.9 L1020.7 98.5 L1020.5 100.2 L1020.2 101.9 L1019.7 103.6 L1019.1 105.3 L1018.4 107 L1017.7 108.7 L1017 110.4 L1016.5 112 L1016 113.5 L1015.7 115 L1015.5 116.4 L1015.5 117.8 L1015.4 119.1 L1015.5 120.4 L1015.6 121.7 L1015.7 122.9 L1015.9 124 L1016.1 125.2 L1016.4 126.3 L1016.7 127.3 L1017.1 128.3 L1017.6 129.1 L1018.3 129.9 L1018.9 130.7 L1019.6 131.4 L1020.3 132.1 L1020.9 132.9 L1021.3 133.7 L1021.6 134.5 L1021.7 135.5 L1021.5 136.6 L1021.2 137.7 L1020.6 138.9 L1020 140.2 L1019.3 141.4 L1018.5 142.7 L1017.7 144 L1016.9 145.3 L1016.3 146.6 L1015.7 147.8 L1015.2 149.1 L1014.7 150.3 L1014.3 151.5 L1013.9 152.7 L1013.5 153.9 L1013.1 155.1 L1012.7 156.3 L1012.3 157.6 L1012 158.9 L1011.7 160.2 L1011.4 161.6 L1011.1 163.1 L1010.9 164.7 L1010.7 166.3 L1010.5 167.9 L1010.3 169.5 L1010.1 170.9 L1009.9 172.2 L1009.8 173.3 L1009.7 174.1 L1009.7 174.1 L1009.6 173.3 L1009.5 172.2 L1009.3 170.9 L1009.1 169.5 L1009 167.9 L1008.7 166.3 L1008.5 164.7 L1008.3 163.1 L1008 161.6 L1007.7 160.2 L1007.4 158.9 L1007.1 157.6 L1006.7 156.3 L1006.3 155.1 L1006 153.9 L1005.5 152.7 L1005.1 151.5 L1004.7 150.3 L1004.2 149.1 L1003.7 147.8 L1003.1 146.6 L1002.5 145.3 L1001.7 144 L1000.9 142.7 L1000.1 141.4 L999.4 140.2 L998.8 138.9 L998.2 137.7 L997.9 136.6 L997.7 135.5 L997.8 134.5 L998.1 133.7 L998.5 132.9 L999.1 132.1 L999.8 131.4 L1000.5 130.7 L1001.1 129.9 L1001.8 129.1 L1002.3 128.3 L1002.7 127.3 L1003 126.3 L1003.3 125.2 L1003.5 124 L1003.7 122.9 L1003.8 121.7 L1003.9 120.4 L1004 119.1 L1003.9 117.8 L1003.9 116.4 L1003.7 115 L1003.4 113.5 L1002.9 112 L1002.4 110.4 L1001.7 108.7 L1001 107 L1000.3 105.3 L999.7 103.6 L999.2 101.9 L998.9 100.2 L998.7 98.5 L998.7 96.9 L998.9 95.2 L999.3 93.5 L999.7 91.8 L1000.2 90.1 L1000.7 88.4 L1001.3 86.7 L1001.8 85.1 L1002.3 83.6 L1002.7 82.1 L1003.1 80.7 L1003.5 79.5 L1003.8 78.3 L1004.2 77.1 L1004.6 76 L1005 74.8 L1005.3 73.7 L1005.6 72.5 L1005.9 71.2 L1006.2 69.8 L1006.4 68.3 L1006.6 66.7 L1006.8 65.1 L1006.9 63.4 L1007 61.7 L1007.2 60 L1007.3 58.3 L1007.4 56.6 L1007.5 55 L1007.7 53.4 L1007.9 51.8 L1008.1 50.1 L1008.3 48.3 L1008.6 46.6 L1008.8 44.9 L1009 43.4 L1009.2 41.9 L1009.4 40.6 L1009.6 39.5 L1009.7 38.6 Z" fill="#fff" stroke="#8fbdf5" stroke-width="2.2" stroke-linejoin="round"/>
<line x1="999.3" y1="93.5" x2="1020.1" y2="93.5" stroke="#8fbdf5" stroke-width="1.3" stroke-dasharray="1.6 1.6"/>
<line x1="1001" y1="107" x2="1018.4" y2="107" stroke="#8fbdf5" stroke-width="1.3" stroke-dasharray="1.6 1.6"/>
<line x1="998.1" y1="133.7" x2="1021.3" y2="133.7" stroke="#8fbdf5" stroke-width="1.3" stroke-dasharray="1.6 1.6"/>
<g fill="#fff" fill-opacity="1" stroke="#8fbdf5" stroke-width="1.7"><circle cx="1005.5" cy="148" r="3"/><circle cx="1009.7" cy="163.4" r="3"/><circle cx="1007.8" cy="84.6" r="3"/><circle cx="1017.6" cy="140.4" r="3"/><circle cx="1017.9" cy="97.9" r="3"/><circle cx="1013.2" cy="131.4" r="3"/><circle cx="1010.3" cy="75.8" r="3"/><circle cx="1016.3" cy="97.2" r="3"/><circle cx="1012" cy="119" r="3"/><circle cx="1011.4" cy="148.5" r="3"/><circle cx="1013.9" cy="123.2" r="3"/><circle cx="1018.3" cy="98.2" r="3"/><circle cx="1013.6" cy="128.4" r="3"/><circle cx="1003.8" cy="129.3" r="3"/><circle cx="1014.7" cy="110.4" r="3"/><circle cx="1008.6" cy="109.6" r="3"/><circle cx="1007" cy="129.9" r="3"/><circle cx="1006" cy="101.2" r="3"/><circle cx="1009.1" cy="121.1" r="3"/><circle cx="1003.6" cy="130.3" r="3"/><circle cx="1009.7" cy="160.7" r="3"/><circle cx="1017.2" cy="102.6" r="3"/><circle cx="1008.8" cy="147.2" r="3"/><circle cx="1005.8" cy="83.4" r="3"/></g>
<path d="M1037.5 58.7 L1037.6 59.4 L1037.8 60.2 L1038 61.2 L1038.2 62.3 L1038.4 63.5 L1038.6 64.7 L1038.9 66 L1039.1 67.3 L1039.3 68.6 L1039.5 69.8 L1039.7 71 L1039.8 72.1 L1040 73.3 L1040.1 74.4 L1040.2 75.6 L1040.4 76.8 L1040.5 78.1 L1040.6 79.4 L1040.8 80.7 L1041 82.1 L1041.2 83.6 L1041.4 85.2 L1041.6 86.9 L1041.9 88.6 L1042.1 90.3 L1042.3 92.1 L1042.6 93.8 L1042.9 95.5 L1043.2 97.1 L1043.5 98.5 L1043.9 99.9 L1044.3 101.1 L1044.7 102.3 L1045.1 103.4 L1045.6 104.5 L1046 105.5 L1046.5 106.7 L1046.9 107.9 L1047.2 109.3 L1047.5 110.9 L1047.7 112.6 L1047.9 114.6 L1048 116.7 L1048.1 118.9 L1048.2 121.1 L1048.2 123.4 L1048.3 125.6 L1048.3 127.7 L1048.4 129.7 L1048.5 131.4 L1048.6 133 L1048.8 134.5 L1049 135.8 L1049.1 137.1 L1049.3 138.3 L1049.5 139.5 L1049.6 140.6 L1049.6 141.7 L1049.6 142.7 L1049.5 143.7 L1049.3 144.7 L1049 145.6 L1048.7 146.5 L1048.3 147.3 L1047.9 148.1 L1047.4 148.9 L1046.9 149.6 L1046.4 150.4 L1046 151.1 L1045.5 151.9 L1045 152.8 L1044.5 153.6 L1044 154.5 L1043.5 155.3 L1042.9 156.2 L1042.4 157 L1041.9 157.8 L1041.4 158.6 L1040.9 159.4 L1040.5 160.2 L1040.1 160.9 L1039.7 161.7 L1039.4 162.5 L1039 163.2 L1038.7 164 L1038.4 164.7 L1038.1 165.3 L1037.9 165.9 L1037.7 166.4 L1037.5 166.7 L1037.5 166.7 L1037.3 166.4 L1037.1 165.9 L1036.9 165.3 L1036.6 164.7 L1036.3 164 L1036 163.2 L1035.6 162.5 L1035.3 161.7 L1034.9 160.9 L1034.5 160.2 L1034.1 159.4 L1033.6 158.6 L1033.1 157.8 L1032.6 157 L1032.1 156.2 L1031.5 155.3 L1031 154.5 L1030.5 153.6 L1030 152.8 L1029.5 151.9 L1029 151.1 L1028.6 150.4 L1028.1 149.6 L1027.6 148.9 L1027.1 148.1 L1026.7 147.3 L1026.3 146.5 L1026 145.6 L1025.7 144.7 L1025.5 143.7 L1025.4 142.7 L1025.4 141.7 L1025.4 140.6 L1025.5 139.5 L1025.7 138.3 L1025.9 137.1 L1026 135.8 L1026.2 134.5 L1026.4 133 L1026.5 131.4 L1026.6 129.7 L1026.7 127.7 L1026.7 125.6 L1026.8 123.4 L1026.8 121.1 L1026.9 118.9 L1027 116.7 L1027.1 114.6 L1027.3 112.6 L1027.5 110.9 L1027.8 109.3 L1028.1 107.9 L1028.5 106.7 L1029 105.5 L1029.4 104.5 L1029.9 103.4 L1030.3 102.3 L1030.7 101.1 L1031.1 99.9 L1031.5 98.5 L1031.8 97.1 L1032.1 95.5 L1032.4 93.8 L1032.7 92.1 L1032.9 90.3 L1033.1 88.6 L1033.4 86.9 L1033.6 85.2 L1033.8 83.6 L1034 82.1 L1034.2 80.7 L1034.4 79.4 L1034.5 78.1 L1034.6 76.8 L1034.8 75.6 L1034.9 74.4 L1035 73.3 L1035.2 72.1 L1035.3 71 L1035.5 69.8 L1035.7 68.6 L1035.9 67.3 L1036.1 66 L1036.4 64.7 L1036.6 63.5 L1036.8 62.3 L1037 61.2 L1037.2 60.2 L1037.4 59.4 L1037.5 58.7 Z" fill="#fff" stroke="#fcba7e" stroke-width="2" stroke-linejoin="round"/>
<line x1="1027.3" y1="112.6" x2="1047.7" y2="112.6" stroke="#fcba7e" stroke-width="1.3" stroke-dasharray="1.6 1.6"/>
<line x1="1026.7" y1="125.6" x2="1048.3" y2="125.6" stroke="#fcba7e" stroke-width="1.3" stroke-dasharray="1.6 1.6"/>
<line x1="1025.4" y1="140.6" x2="1049.6" y2="140.6" stroke="#fcba7e" stroke-width="1.3" stroke-dasharray="1.6 1.6"/>
<g fill="#fff" fill-opacity="1" stroke="#fcba7e" stroke-width="1.2"><circle cx="1043.4" cy="150.3" r="2.9"/><circle cx="1036.8" cy="97.9" r="2.9"/><circle cx="1031.7" cy="128" r="2.9"/><circle cx="1036.7" cy="123.9" r="2.9"/><circle cx="1038.3" cy="82.2" r="2.9"/><circle cx="1041.8" cy="122.3" r="2.9"/><circle cx="1042.7" cy="119" r="2.9"/><circle cx="1039.8" cy="132.5" r="2.9"/><circle cx="1040.3" cy="153.9" r="2.9"/><circle cx="1040.4" cy="120.2" r="2.9"/><circle cx="1037" cy="116.9" r="2.9"/><circle cx="1036.4" cy="139" r="2.9"/><circle cx="1031.2" cy="134.7" r="2.9"/><circle cx="1032" cy="118.5" r="2.9"/><circle cx="1032.2" cy="102.4" r="2.9"/><circle cx="1043.2" cy="113.8" r="2.9"/><circle cx="1033.7" cy="117.5" r="2.9"/><circle cx="1038.4" cy="116.2" r="2.9"/><circle cx="1042.5" cy="112.8" r="2.9"/><circle cx="1032" cy="139.3" r="2.9"/><circle cx="1039.3" cy="131.3" r="2.9"/><circle cx="1044" cy="151.3" r="2.9"/><circle cx="1034.2" cy="92.8" r="2.9"/><circle cx="1047.5" cy="143.4" r="2.9"/></g>
<text font-size="36.9" stroke="#000" stroke-width="0.7" transform="translate(670.4 220.6) scale(0.9532 1)">F</text>
<line x1="730.8" y1="204" x2="730.8" y2="358" stroke="#000" stroke-width="2.2"/>
<line x1="724.3" y1="205" x2="730.8" y2="205" stroke="#000" stroke-width="2.2"/>
<line x1="724.3" y1="243" x2="730.8" y2="243" stroke="#000" stroke-width="2.2"/>
<line x1="724.3" y1="281" x2="730.8" y2="281" stroke="#000" stroke-width="2.2"/>
<line x1="724.3" y1="319" x2="730.8" y2="319" stroke="#000" stroke-width="2.2"/>
<line x1="724.3" y1="357" x2="730.8" y2="357" stroke="#000" stroke-width="2.2"/>
<text x="721.8" y="211.3" font-size="17.5" text-anchor="end" textLength="27.6" lengthAdjust="spacingAndGlyphs" stroke="#000" stroke-width="0.5">200</text>
<text x="721.8" y="249.3" font-size="17.5" text-anchor="end" textLength="27.6" lengthAdjust="spacingAndGlyphs" stroke="#000" stroke-width="0.5">150</text>
<text x="721.8" y="287.3" font-size="17.5" text-anchor="end" textLength="27.6" lengthAdjust="spacingAndGlyphs" stroke="#000" stroke-width="0.5">100</text>
<text x="721.8" y="325.3" font-size="17.5" text-anchor="end" textLength="18.4" lengthAdjust="spacingAndGlyphs" stroke="#000" stroke-width="0.5">50</text>
<text x="721.8" y="363.3" font-size="17.5" text-anchor="end" textLength="9.2" lengthAdjust="spacingAndGlyphs" stroke="#000" stroke-width="0.5">0</text>
<text font-size="17.4" stroke="#000" stroke-width="0.5" transform="translate(687.9 350.4) rotate(-90) scale(0.8971 1)">Capacitance (pF)</text>
<path d="M754.2 220.2 L754.3 221.1 L754.5 222.3 L754.7 223.8 L755 225.4 L755.2 227.1 L755.5 228.9 L755.8 230.6 L756.1 232.4 L756.4 234 L756.7 235.4 L757 236.7 L757.3 237.9 L757.6 239.1 L758 240.2 L758.3 241.3 L758.6 242.4 L759 243.5 L759.4 244.6 L759.8 245.7 L760.2 246.8 L760.7 247.9 L761.2 249.1 L761.7 250.2 L762.3 251.4 L762.9 252.5 L763.4 253.6 L763.9 254.8 L764.4 255.9 L764.9 257.1 L765.2 258.2 L765.5 259.3 L765.7 260.5 L766 261.6 L766.1 262.8 L766.3 263.9 L766.4 265 L766.4 266.2 L766.4 267.3 L766.3 268.5 L766.2 269.6 L766 270.7 L765.7 271.9 L765.4 273 L764.9 274.2 L764.5 275.3 L764 276.4 L763.5 277.6 L763 278.7 L762.6 279.9 L762.2 281 L761.8 282.2 L761.4 283.3 L761 284.5 L760.6 285.7 L760.2 286.9 L759.8 288.1 L759.4 289.3 L759.1 290.4 L758.9 291.4 L758.7 292.4 L758.6 293.3 L758.4 294.1 L758.4 294.9 L758.3 295.6 L758.3 296.3 L758.3 297 L758.4 297.7 L758.6 298.4 L758.9 299.2 L759.2 300 L759.7 300.9 L760.3 301.9 L761.1 302.9 L761.9 304 L762.8 305.1 L763.7 306.1 L764.5 307.2 L765.2 308.2 L765.8 309.1 L766.2 309.9 L766.4 310.6 L766.6 311.2 L766.6 311.7 L766.6 312.2 L766.5 312.7 L766.3 313.1 L766.1 313.6 L765.8 314.1 L765.5 314.6 L765.2 315.2 L764.8 315.9 L764.3 316.5 L763.7 317.2 L763 317.9 L762.3 318.6 L761.6 319.4 L760.9 320.2 L760.3 321 L759.7 321.9 L759.2 322.8 L758.8 323.8 L758.4 324.8 L758 325.8 L757.7 326.8 L757.5 328 L757.2 329.1 L756.9 330.3 L756.7 331.5 L756.4 332.8 L756.2 334.2 L756 335.7 L755.7 337.4 L755.5 339.3 L755.2 341.2 L755 343.1 L754.8 344.9 L754.6 346.7 L754.5 348.2 L754.3 349.5 L754.2 350.5 L754.2 350.5 L754.1 349.5 L753.9 348.2 L753.8 346.7 L753.6 344.9 L753.4 343.1 L753.2 341.2 L752.9 339.3 L752.7 337.4 L752.4 335.7 L752.2 334.2 L752 332.8 L751.7 331.5 L751.5 330.3 L751.2 329.1 L751 328 L750.7 326.8 L750.4 325.8 L750 324.8 L749.6 323.8 L749.2 322.8 L748.7 321.9 L748.1 321 L747.5 320.2 L746.8 319.4 L746.1 318.6 L745.4 317.9 L744.7 317.2 L744.1 316.5 L743.6 315.9 L743.2 315.2 L742.9 314.6 L742.6 314.1 L742.3 313.6 L742.1 313.1 L741.9 312.7 L741.8 312.2 L741.8 311.7 L741.8 311.2 L742 310.6 L742.2 309.9 L742.6 309.1 L743.2 308.2 L743.9 307.2 L744.7 306.1 L745.6 305.1 L746.5 304 L747.3 302.9 L748.1 301.9 L748.7 300.9 L749.2 300 L749.5 299.2 L749.8 298.4 L750 297.7 L750.1 297 L750.1 296.3 L750.1 295.6 L750 294.9 L750 294.1 L749.8 293.3 L749.7 292.4 L749.5 291.4 L749.3 290.4 L749 289.3 L748.6 288.1 L748.2 286.9 L747.8 285.7 L747.4 284.5 L747 283.3 L746.6 282.2 L746.2 281 L745.8 279.9 L745.4 278.7 L744.9 277.6 L744.4 276.4 L743.9 275.3 L743.5 274.2 L743 273 L742.7 271.9 L742.4 270.7 L742.2 269.6 L742.1 268.5 L742 267.3 L742 266.2 L742 265 L742.1 263.9 L742.3 262.8 L742.4 261.6 L742.7 260.5 L742.9 259.3 L743.2 258.2 L743.5 257.1 L744 255.9 L744.5 254.8 L745 253.6 L745.5 252.5 L746.1 251.4 L746.7 250.2 L747.2 249.1 L747.7 247.9 L748.2 246.8 L748.6 245.7 L749 244.6 L749.4 243.5 L749.8 242.4 L750.1 241.3 L750.4 240.2 L750.8 239.1 L751.1 237.9 L751.4 236.7 L751.7 235.4 L752 234 L752.3 232.4 L752.6 230.6 L752.9 228.9 L753.2 227.1 L753.4 225.4 L753.7 223.8 L753.9 222.3 L754.1 221.1 L754.2 220.2 Z" fill="#fff" stroke="#168aa0" stroke-width="2.6" stroke-linejoin="round"/>
<line x1="742.4" y1="261.6" x2="766" y2="261.6" stroke="#168aa0" stroke-width="1.3" stroke-dasharray="1.6 1.6"/>
<line x1="743.5" y1="274.2" x2="764.9" y2="274.2" stroke="#168aa0" stroke-width="1.3" stroke-dasharray="1.6 1.6"/>
<line x1="743.9" y1="307.2" x2="764.5" y2="307.2" stroke="#168aa0" stroke-width="1.3" stroke-dasharray="1.6 1.6"/>
<g fill="#168aa0" fill-opacity="0.35" stroke="#168aa0" stroke-width="2.1"><circle cx="747" cy="277.9" r="3"/><circle cx="752.8" cy="293.5" r="3"/><circle cx="764.5" cy="269.2" r="3"/><circle cx="763.7" cy="273" r="3"/><circle cx="747.2" cy="261.7" r="3"/><circle cx="763.3" cy="312.5" r="3"/><circle cx="754.5" cy="322.5" r="3"/><circle cx="757.9" cy="250.2" r="3"/><circle cx="754.6" cy="299.8" r="3"/><circle cx="757.2" cy="300.6" r="3"/><circle cx="751.2" cy="254.2" r="3"/><circle cx="748.8" cy="312.2" r="3"/><circle cx="751.7" cy="251.6" r="3"/><circle cx="759.1" cy="308.5" r="3"/><circle cx="747.5" cy="264.5" r="3"/><circle cx="756.4" cy="291.9" r="3"/><circle cx="748.8" cy="319" r="3"/><circle cx="753.9" cy="318.6" r="3"/><circle cx="749.6" cy="274.1" r="3"/><circle cx="757.8" cy="262.4" r="3"/><circle cx="754.3" cy="302.8" r="3"/><circle cx="748.2" cy="269.9" r="3"/><circle cx="759.3" cy="267.8" r="3"/><circle cx="753.1" cy="286.4" r="3"/><circle cx="756.8" cy="287.4" r="3"/><circle cx="753.4" cy="291.1" r="3"/><circle cx="761.9" cy="276.1" r="3"/><circle cx="757.3" cy="276.8" r="3"/><circle cx="746.3" cy="255.2" r="3"/><circle cx="752.5" cy="277.9" r="3"/><circle cx="744.3" cy="310.3" r="3"/><circle cx="760.9" cy="270.7" r="3"/><circle cx="750" cy="275.1" r="3"/><circle cx="762.2" cy="311.3" r="3"/><circle cx="763" cy="268.5" r="3"/><circle cx="755.9" cy="311.8" r="3"/><circle cx="752.8" cy="273.2" r="3"/><circle cx="755.9" cy="323.2" r="3"/><circle cx="756.4" cy="308.9" r="3"/><circle cx="753.8" cy="315.4" r="3"/><circle cx="754" cy="272" r="3"/><circle cx="747.8" cy="308.7" r="3"/><circle cx="746" cy="262.2" r="3"/><circle cx="746.4" cy="260.2" r="3"/><circle cx="754.5" cy="253.8" r="3"/><circle cx="754.6" cy="243.2" r="3"/><circle cx="758.7" cy="308.9" r="3"/><circle cx="755.9" cy="275.6" r="3"/></g>
<path d="M782 205.8 L782.2 206.8 L782.4 208.2 L782.6 209.9 L782.9 211.7 L783.2 213.7 L783.5 215.8 L783.7 217.9 L784 220 L784.3 222.1 L784.5 224 L784.7 225.9 L784.8 227.8 L785 229.8 L785.1 231.7 L785.2 233.7 L785.3 235.6 L785.5 237.6 L785.6 239.4 L785.8 241.3 L786 243 L786.2 244.7 L786.5 246.3 L786.8 247.8 L787.1 249.4 L787.5 250.8 L787.8 252.3 L788.1 253.8 L788.4 255.2 L788.7 256.7 L789 258.2 L789.2 259.7 L789.5 261.3 L789.7 262.9 L789.9 264.5 L790.1 266 L790.2 267.6 L790.4 269.1 L790.6 270.6 L790.8 272 L791 273.4 L791.2 274.7 L791.4 275.9 L791.7 277.1 L791.9 278.2 L792.1 279.3 L792.3 280.4 L792.5 281.5 L792.7 282.6 L792.9 283.7 L793 284.8 L793.1 285.9 L793.1 287 L793.1 288.1 L793.1 289.2 L793.1 290.3 L793 291.4 L793 292.5 L793 293.7 L793 294.9 L793 296.2 L793.1 297.6 L793.2 299.1 L793.4 300.6 L793.6 302.2 L793.8 303.8 L794 305.4 L794.1 307 L794.2 308.5 L794.1 310 L794 311.4 L793.7 312.7 L793.4 313.9 L792.9 315.1 L792.4 316.2 L791.8 317.3 L791.2 318.4 L790.6 319.5 L790 320.6 L789.5 321.7 L789 322.8 L788.6 323.9 L788.1 325 L787.7 326.1 L787.3 327.2 L786.9 328.3 L786.5 329.4 L786.1 330.6 L785.7 331.7 L785.4 332.9 L785 334.2 L784.6 335.6 L784.3 337.1 L783.9 338.8 L783.6 340.5 L783.2 342.1 L782.9 343.8 L782.6 345.3 L782.4 346.6 L782.2 347.8 L782 348.6 L782 348.6 L781.8 347.8 L781.6 346.6 L781.4 345.3 L781.1 343.8 L780.8 342.1 L780.4 340.5 L780.1 338.8 L779.7 337.1 L779.4 335.6 L779 334.2 L778.6 332.9 L778.3 331.7 L777.9 330.6 L777.5 329.4 L777.1 328.3 L776.7 327.2 L776.3 326.1 L775.9 325 L775.4 323.9 L775 322.8 L774.5 321.7 L774 320.6 L773.4 319.5 L772.8 318.4 L772.2 317.3 L771.6 316.2 L771.1 315.1 L770.6 313.9 L770.3 312.7 L770 311.4 L769.9 310 L769.8 308.5 L769.9 307 L770 305.4 L770.2 303.8 L770.4 302.2 L770.6 300.6 L770.8 299.1 L770.9 297.6 L771 296.2 L771 294.9 L771 293.7 L771 292.5 L771 291.4 L770.9 290.3 L770.9 289.2 L770.9 288.1 L770.9 287 L770.9 285.9 L771 284.8 L771.1 283.7 L771.3 282.6 L771.5 281.5 L771.7 280.4 L771.9 279.3 L772.1 278.2 L772.3 277.1 L772.6 275.9 L772.8 274.7 L773 273.4 L773.2 272 L773.4 270.6 L773.6 269.1 L773.8 267.6 L773.9 266 L774.1 264.5 L774.3 262.9 L774.5 261.3 L774.8 259.7 L775 258.2 L775.3 256.7 L775.6 255.2 L775.9 253.8 L776.2 252.3 L776.5 250.8 L776.9 249.4 L777.2 247.8 L777.5 246.3 L777.8 244.7 L778 243 L778.2 241.3 L778.4 239.4 L778.5 237.6 L778.7 235.6 L778.8 233.7 L778.9 231.7 L779 229.8 L779.2 227.8 L779.3 225.9 L779.5 224 L779.7 222.1 L780 220 L780.3 217.9 L780.5 215.8 L780.8 213.7 L781.1 211.7 L781.4 209.9 L781.6 208.2 L781.8 206.8 L782 205.8 Z" fill="#fff" stroke="#f8841f" stroke-width="2.6" stroke-linejoin="round"/>
<line x1="772.8" y1="274.7" x2="791.2" y2="274.7" stroke="#f8841f" stroke-width="1.3" stroke-dasharray="1.6 1.6"/>
<line x1="771" y1="292.5" x2="793" y2="292.5" stroke="#f8841f" stroke-width="1.3" stroke-dasharray="1.6 1.6"/>
<line x1="769.9" y1="307" x2="794.1" y2="307" stroke="#f8841f" stroke-width="1.3" stroke-dasharray="1.6 1.6"/>
<g fill="#f8841f" fill-opacity="0.2" stroke="#f8841f" stroke-width="1.9"><circle cx="782" cy="228" r="3"/><circle cx="775.1" cy="285.6" r="3"/><circle cx="784.9" cy="258.6" r="3"/><circle cx="784" cy="264.1" r="3"/><circle cx="781.4" cy="262.1" r="3"/><circle cx="774.2" cy="287" r="3"/><circle cx="781.7" cy="233.6" r="3"/><circle cx="780.1" cy="269.6" r="3"/><circle cx="778.9" cy="323" r="3"/><circle cx="790.8" cy="298.4" r="3"/><circle cx="776" cy="313.1" r="3"/><circle cx="772.7" cy="313.9" r="3"/><circle cx="785.2" cy="308.3" r="3"/><circle cx="785.3" cy="271.7" r="3"/><circle cx="778" cy="270.1" r="3"/><circle cx="781.1" cy="243.6" r="3"/><circle cx="788.4" cy="285.5" r="3"/><circle cx="786.6" cy="325" r="3"/><circle cx="775.1" cy="310.4" r="3"/><circle cx="785.5" cy="301.5" r="3"/><circle cx="786.2" cy="255.5" r="3"/><circle cx="774" cy="300.1" r="3"/><circle cx="784.9" cy="286.9" r="3"/><circle cx="781.8" cy="333.2" r="3"/><circle cx="788.1" cy="310.6" r="3"/><circle cx="774.4" cy="296.4" r="3"/><circle cx="780.2" cy="329.6" r="3"/><circle cx="788.5" cy="282.3" r="3"/><circle cx="787.5" cy="290.8" r="3"/><circle cx="783.9" cy="277.5" r="3"/><circle cx="774.3" cy="300.7" r="3"/><circle cx="784.4" cy="262.4" r="3"/><circle cx="780.1" cy="327" r="3"/><circle cx="778.8" cy="310" r="3"/><circle cx="782" cy="226.6" r="3"/><circle cx="774.5" cy="277.3" r="3"/><circle cx="776.7" cy="261.1" r="3"/><circle cx="776" cy="299.4" r="3"/><circle cx="775.4" cy="311.8" r="3"/><circle cx="782.5" cy="289.9" r="3"/><circle cx="782.5" cy="314.4" r="3"/><circle cx="786.6" cy="306.1" r="3"/><circle cx="774.8" cy="290.4" r="3"/><circle cx="791.4" cy="309.6" r="3"/><circle cx="775" cy="304.7" r="3"/><circle cx="780.5" cy="314.1" r="3"/><circle cx="779.6" cy="263.5" r="3"/><circle cx="782.8" cy="287.8" r="3"/><circle cx="785.6" cy="274.4" r="3"/><circle cx="784.4" cy="311.4" r="3"/></g>
<path d="M810.2 196.6 L810.4 197.6 L810.5 198.8 L810.8 200.3 L811 201.9 L811.3 203.7 L811.6 205.5 L811.9 207.4 L812.2 209.2 L812.5 211 L812.7 212.6 L812.9 214.2 L813.1 215.7 L813.4 217.2 L813.6 218.7 L813.8 220.2 L814 221.8 L814.2 223.3 L814.3 224.8 L814.5 226.3 L814.7 227.8 L814.9 229.3 L815 230.7 L815.1 232.1 L815.3 233.5 L815.4 234.9 L815.5 236.4 L815.7 237.9 L815.8 239.5 L816 241.2 L816.2 243 L816.4 245 L816.7 247.2 L817 249.5 L817.3 251.9 L817.7 254.4 L818 256.9 L818.3 259.3 L818.6 261.6 L818.9 263.8 L819.2 265.8 L819.4 267.6 L819.7 269.3 L819.9 270.9 L820.2 272.4 L820.4 273.9 L820.6 275.3 L820.8 276.7 L820.9 278.1 L821.1 279.5 L821.2 281 L821.3 282.5 L821.4 284 L821.4 285.6 L821.4 287.1 L821.5 288.6 L821.4 290.1 L821.4 291.6 L821.4 293.2 L821.3 294.7 L821.2 296.2 L821.1 297.7 L820.9 299.3 L820.8 300.9 L820.6 302.5 L820.4 304 L820.2 305.6 L819.9 307.1 L819.7 308.6 L819.4 310 L819.2 311.4 L818.9 312.7 L818.7 313.9 L818.4 315 L818.1 316.1 L817.8 317.1 L817.5 318.1 L817.2 319.2 L816.8 320.3 L816.5 321.5 L816.2 322.8 L815.9 324.2 L815.5 325.6 L815.2 327 L814.8 328.5 L814.4 330 L814.1 331.6 L813.7 333.2 L813.3 334.8 L813 336.4 L812.7 338 L812.4 339.7 L812.1 341.6 L811.8 343.6 L811.5 345.7 L811.2 347.7 L811 349.6 L810.7 351.4 L810.5 353.1 L810.3 354.4 L810.2 355.5 L810.2 355.5 L810.1 354.4 L809.9 353.1 L809.7 351.4 L809.4 349.6 L809.2 347.7 L808.9 345.7 L808.6 343.6 L808.3 341.6 L808 339.7 L807.7 338 L807.4 336.4 L807.1 334.8 L806.7 333.2 L806.3 331.6 L806 330 L805.6 328.5 L805.2 327 L804.9 325.6 L804.5 324.2 L804.2 322.8 L803.9 321.5 L803.6 320.3 L803.2 319.2 L802.9 318.1 L802.6 317.1 L802.3 316.1 L802 315 L801.7 313.9 L801.5 312.7 L801.2 311.4 L801 310 L800.7 308.6 L800.5 307.1 L800.2 305.6 L800 304 L799.8 302.5 L799.6 300.9 L799.5 299.3 L799.3 297.7 L799.2 296.2 L799.1 294.7 L799 293.2 L799 291.6 L799 290.1 L799 288.6 L799 287.1 L799 285.6 L799 284 L799.1 282.5 L799.2 281 L799.3 279.5 L799.5 278.1 L799.6 276.7 L799.8 275.3 L800 273.9 L800.2 272.4 L800.5 270.9 L800.7 269.3 L801 267.6 L801.2 265.8 L801.5 263.8 L801.8 261.6 L802.1 259.3 L802.4 256.9 L802.7 254.4 L803.1 251.9 L803.4 249.5 L803.7 247.2 L804 245 L804.2 243 L804.4 241.2 L804.6 239.5 L804.7 237.9 L804.9 236.4 L805 234.9 L805.1 233.5 L805.3 232.1 L805.4 230.7 L805.5 229.3 L805.7 227.8 L805.9 226.3 L806.1 224.8 L806.2 223.3 L806.4 221.8 L806.6 220.2 L806.8 218.7 L807 217.2 L807.3 215.7 L807.5 214.2 L807.7 212.6 L807.9 211 L808.2 209.2 L808.5 207.4 L808.8 205.5 L809.1 203.7 L809.4 201.9 L809.6 200.3 L809.9 198.8 L810 197.6 L810.2 196.6 Z" fill="#fff" stroke="#8fbdf5" stroke-width="2.2" stroke-linejoin="round"/>
<line x1="801.5" y1="263.8" x2="818.9" y2="263.8" stroke="#8fbdf5" stroke-width="1.3" stroke-dasharray="1.6 1.6"/>
<line x1="799" y1="284" x2="821.4" y2="284" stroke="#8fbdf5" stroke-width="1.3" stroke-dasharray="1.6 1.6"/>
<line x1="799.6" y1="300.9" x2="820.8" y2="300.9" stroke="#8fbdf5" stroke-width="1.3" stroke-dasharray="1.6 1.6"/>
<g fill="#fff" fill-opacity="1" stroke="#8fbdf5" stroke-width="1.7"><circle cx="808.6" cy="239.8" r="3"/><circle cx="813.2" cy="314.4" r="3"/><circle cx="813.4" cy="244" r="3"/><circle cx="817.6" cy="287" r="3"/><circle cx="814.7" cy="275.3" r="3"/><circle cx="812.5" cy="247.2" r="3"/><circle cx="817.3" cy="309.8" r="3"/><circle cx="805.2" cy="259.5" r="3"/><circle cx="808.1" cy="328.7" r="3"/><circle cx="808.1" cy="221.8" r="3"/><circle cx="806.9" cy="274.1" r="3"/><circle cx="813.8" cy="318.3" r="3"/><circle cx="811.6" cy="300.2" r="3"/><circle cx="805.5" cy="303.4" r="3"/><circle cx="808.6" cy="271.3" r="3"/><circle cx="808.3" cy="332.2" r="3"/><circle cx="809.1" cy="283.8" r="3"/><circle cx="802" cy="297.9" r="3"/><circle cx="806.4" cy="294.8" r="3"/><circle cx="801.9" cy="275.6" r="3"/><circle cx="810.2" cy="214.1" r="3"/><circle cx="810" cy="297.7" r="3"/><circle cx="811.2" cy="324" r="3"/><circle cx="804.9" cy="286.3" r="3"/></g>
<path d="M838.3 189.8 L838.5 190.7 L838.7 191.9 L839 193.2 L839.3 194.8 L839.6 196.5 L839.9 198.2 L840.3 200 L840.6 201.7 L841 203.4 L841.3 205 L841.6 206.5 L842 208.1 L842.4 209.7 L842.8 211.3 L843.2 212.8 L843.6 214.4 L844 215.9 L844.3 217.4 L844.6 218.8 L844.8 220.2 L845 221.5 L845.1 222.6 L845.2 223.7 L845.3 224.7 L845.4 225.7 L845.4 226.7 L845.4 227.7 L845.4 228.9 L845.3 230.2 L845.3 231.6 L845.2 233.2 L845.1 235 L845 236.9 L844.8 238.8 L844.7 240.9 L844.5 242.9 L844.3 244.9 L844.1 246.9 L844 248.8 L843.8 250.6 L843.6 252.3 L843.5 253.9 L843.3 255.4 L843.1 257 L842.9 258.4 L842.7 259.9 L842.6 261.4 L842.4 262.8 L842.3 264.3 L842.3 265.8 L842.3 267.3 L842.3 268.8 L842.3 270.4 L842.4 271.9 L842.5 273.4 L842.6 274.9 L842.7 276.4 L842.9 278 L843.1 279.5 L843.3 281 L843.6 282.5 L843.9 284.1 L844.3 285.7 L844.7 287.3 L845.2 288.8 L845.6 290.4 L846.1 291.9 L846.5 293.4 L846.9 294.8 L847.3 296.2 L847.7 297.5 L848 298.8 L848.4 300 L848.8 301.2 L849.1 302.4 L849.4 303.5 L849.7 304.6 L850 305.6 L850.2 306.6 L850.3 307.6 L850.4 308.5 L850.4 309.3 L850.4 310 L850.4 310.7 L850.3 311.4 L850.2 312.1 L850 312.8 L849.8 313.5 L849.6 314.3 L849.3 315.2 L849 316.2 L848.5 317.2 L848 318.2 L847.5 319.3 L847 320.4 L846.4 321.6 L845.8 322.8 L845.3 324 L844.8 325.3 L844.3 326.6 L843.9 328 L843.5 329.4 L843.1 330.9 L842.7 332.4 L842.4 334 L842.1 335.5 L841.7 337.1 L841.4 338.7 L841.1 340.3 L840.8 341.8 L840.5 343.4 L840.2 345.1 L839.9 346.8 L839.6 348.6 L839.3 350.3 L839.1 352 L838.8 353.6 L838.6 354.9 L838.4 356.1 L838.3 357 L838.3 357 L838.2 356.1 L838 354.9 L837.8 353.6 L837.5 352 L837.3 350.3 L837 348.6 L836.7 346.8 L836.4 345.1 L836.1 343.4 L835.8 341.8 L835.5 340.3 L835.2 338.7 L834.9 337.1 L834.5 335.5 L834.2 334 L833.9 332.4 L833.5 330.9 L833.1 329.4 L832.7 328 L832.3 326.6 L831.8 325.3 L831.3 324 L830.8 322.8 L830.2 321.6 L829.6 320.4 L829.1 319.3 L828.6 318.2 L828.1 317.2 L827.6 316.2 L827.3 315.2 L827 314.3 L826.8 313.5 L826.6 312.8 L826.4 312.1 L826.3 311.4 L826.2 310.7 L826.2 310 L826.2 309.3 L826.2 308.5 L826.3 307.6 L826.4 306.6 L826.6 305.6 L826.9 304.6 L827.2 303.5 L827.5 302.4 L827.8 301.2 L828.2 300 L828.6 298.8 L828.9 297.5 L829.3 296.2 L829.7 294.8 L830.1 293.4 L830.5 291.9 L831 290.4 L831.4 288.8 L831.9 287.3 L832.3 285.7 L832.7 284.1 L833 282.5 L833.3 281 L833.5 279.5 L833.7 278 L833.9 276.4 L834 274.9 L834.1 273.4 L834.2 271.9 L834.3 270.4 L834.3 268.8 L834.3 267.3 L834.3 265.8 L834.3 264.3 L834.2 262.8 L834 261.4 L833.9 259.9 L833.7 258.4 L833.5 257 L833.3 255.4 L833.1 253.9 L833 252.3 L832.8 250.6 L832.6 248.8 L832.5 246.9 L832.3 244.9 L832.1 242.9 L831.9 240.9 L831.8 238.8 L831.6 236.9 L831.5 235 L831.4 233.2 L831.3 231.6 L831.3 230.2 L831.2 228.9 L831.2 227.7 L831.2 226.7 L831.2 225.7 L831.3 224.7 L831.4 223.7 L831.5 222.6 L831.6 221.5 L831.8 220.2 L832 218.8 L832.3 217.4 L832.6 215.9 L833 214.4 L833.4 212.8 L833.8 211.3 L834.2 209.7 L834.6 208.1 L835 206.5 L835.3 205 L835.6 203.4 L836 201.7 L836.3 200 L836.7 198.2 L837 196.5 L837.3 194.8 L837.6 193.2 L837.9 191.9 L838.1 190.7 L838.3 189.8 Z" fill="#fff" stroke="#fcba7e" stroke-width="2" stroke-linejoin="round"/>
<line x1="832.3" y1="244.9" x2="844.3" y2="244.9" stroke="#fcba7e" stroke-width="1.3" stroke-dasharray="1.6 1.6"/>
<line x1="829.3" y1="296.2" x2="847.3" y2="296.2" stroke="#fcba7e" stroke-width="1.3" stroke-dasharray="1.6 1.6"/>
<line x1="826.2" y1="310.7" x2="850.4" y2="310.7" stroke="#fcba7e" stroke-width="1.3" stroke-dasharray="1.6 1.6"/>
<g fill="#fff" fill-opacity="1" stroke="#fcba7e" stroke-width="1.2"><circle cx="844.1" cy="301.9" r="2.9"/><circle cx="841.3" cy="251.7" r="2.9"/><circle cx="840.4" cy="320.6" r="2.9"/><circle cx="847.4" cy="304" r="2.9"/><circle cx="845.7" cy="299.3" r="2.9"/><circle cx="834.5" cy="304.9" r="2.9"/><circle cx="839.9" cy="296.3" r="2.9"/><circle cx="845.6" cy="310.3" r="2.9"/><circle cx="840.4" cy="323.5" r="2.9"/><circle cx="843.7" cy="226.7" r="2.9"/><circle cx="841.3" cy="252.6" r="2.9"/><circle cx="834.5" cy="310.8" r="2.9"/><circle cx="833.7" cy="243.5" r="2.9"/><circle cx="836.6" cy="297.9" r="2.9"/><circle cx="833.3" cy="235.2" r="2.9"/><circle cx="839.2" cy="319" r="2.9"/><circle cx="834" cy="226.8" r="2.9"/><circle cx="837" cy="260" r="2.9"/><circle cx="839.9" cy="237.2" r="2.9"/><circle cx="836.5" cy="292.6" r="2.9"/><circle cx="835" cy="299.8" r="2.9"/><circle cx="837.1" cy="220.8" r="2.9"/><circle cx="845.9" cy="312.8" r="2.9"/><circle cx="838.1" cy="207.4" r="2.9"/></g>
<text font-size="36.7" stroke="#000" stroke-width="0.7" transform="translate(871.3 220.7) scale(0.9886 1)">G</text>
<line x1="931.8" y1="231.5" x2="931.8" y2="374.3" stroke="#000" stroke-width="2.2"/>
<line x1="925.3" y1="232.5" x2="931.8" y2="232.5" stroke="#000" stroke-width="2.2"/>
<line x1="925.3" y1="256" x2="931.8" y2="256" stroke="#000" stroke-width="2.2"/>
<line x1="925.3" y1="279.4" x2="931.8" y2="279.4" stroke="#000" stroke-width="2.2"/>
<line x1="925.3" y1="302.9" x2="931.8" y2="302.9" stroke="#000" stroke-width="2.2"/>
<line x1="925.3" y1="326.4" x2="931.8" y2="326.4" stroke="#000" stroke-width="2.2"/>
<line x1="925.3" y1="349.8" x2="931.8" y2="349.8" stroke="#000" stroke-width="2.2"/>
<line x1="925.3" y1="373.3" x2="931.8" y2="373.3" stroke="#000" stroke-width="2.2"/>
<text x="922.8" y="238.8" font-size="17.5" text-anchor="end" textLength="18.4" lengthAdjust="spacingAndGlyphs" stroke="#000" stroke-width="0.5">12</text>
<text x="922.8" y="262.3" font-size="17.5" text-anchor="end" textLength="18.4" lengthAdjust="spacingAndGlyphs" stroke="#000" stroke-width="0.5">10</text>
<text x="922.8" y="285.7" font-size="17.5" text-anchor="end" textLength="9.2" lengthAdjust="spacingAndGlyphs" stroke="#000" stroke-width="0.5">8</text>
<text x="922.8" y="309.2" font-size="17.5" text-anchor="end" textLength="9.2" lengthAdjust="spacingAndGlyphs" stroke="#000" stroke-width="0.5">6</text>
<text x="922.8" y="332.7" font-size="17.5" text-anchor="end" textLength="9.2" lengthAdjust="spacingAndGlyphs" stroke="#000" stroke-width="0.5">4</text>
<text x="922.8" y="356.1" font-size="17.5" text-anchor="end" textLength="9.2" lengthAdjust="spacingAndGlyphs" stroke="#000" stroke-width="0.5">2</text>
<text x="922.8" y="379.6" font-size="17.5" text-anchor="end" textLength="9.2" lengthAdjust="spacingAndGlyphs" stroke="#000" stroke-width="0.5">0</text>
<text font-size="18" stroke="#000" stroke-width="0.5" transform="translate(889.3 367.3) rotate(-90) scale(0.8617 1)">Sag Amplitude (mV)</text>
<path d="M954.9 284.1 L955 284.5 L955.2 285 L955.4 285.6 L955.6 286.2 L955.8 286.9 L956.1 287.7 L956.4 288.5 L956.7 289.3 L957 290.2 L957.4 291.2 L957.8 292.2 L958.3 293.2 L958.9 294.3 L959.5 295.5 L960.1 296.7 L960.7 298 L961.3 299.2 L961.8 300.5 L962.4 301.7 L962.9 302.9 L963.4 304.1 L963.9 305.3 L964.5 306.5 L965 307.8 L965.5 309 L965.9 310.2 L966.3 311.4 L966.6 312.5 L966.8 313.6 L966.9 314.6 L966.8 315.6 L966.5 316.5 L966 317.3 L965.5 318.1 L964.9 318.9 L964.3 319.6 L963.8 320.4 L963.3 321.2 L963 322 L962.9 322.8 L963 323.7 L963.3 324.6 L963.8 325.5 L964.3 326.4 L964.9 327.3 L965.5 328.3 L966 329.2 L966.5 330.2 L966.8 331.2 L966.9 332.2 L966.8 333.3 L966.6 334.4 L966.3 335.6 L965.9 336.8 L965.5 338 L965 339.2 L964.4 340.4 L963.9 341.6 L963.4 342.8 L962.9 344 L962.4 345.1 L961.9 346.3 L961.4 347.5 L960.9 348.7 L960.3 349.8 L959.8 351 L959.3 352.2 L958.8 353.4 L958.3 354.5 L957.9 355.7 L957.5 356.9 L957.1 358.2 L956.8 359.6 L956.4 361 L956.1 362.3 L955.8 363.6 L955.5 364.8 L955.3 365.8 L955.1 366.7 L954.9 367.4 L954.9 367.4 L954.7 366.7 L954.5 365.8 L954.3 364.8 L954 363.6 L953.7 362.3 L953.4 361 L953 359.6 L952.7 358.2 L952.3 356.9 L951.9 355.7 L951.5 354.5 L951 353.4 L950.5 352.2 L950 351 L949.5 349.8 L948.9 348.7 L948.4 347.5 L947.9 346.3 L947.4 345.1 L946.9 344 L946.4 342.8 L945.9 341.6 L945.4 340.4 L944.8 339.2 L944.3 338 L943.9 336.8 L943.5 335.6 L943.2 334.4 L943 333.3 L942.9 332.2 L943 331.2 L943.3 330.2 L943.8 329.2 L944.3 328.3 L944.9 327.3 L945.5 326.4 L946 325.5 L946.5 324.6 L946.8 323.7 L946.9 322.8 L946.8 322 L946.5 321.2 L946 320.4 L945.5 319.6 L944.9 318.9 L944.3 318.1 L943.8 317.3 L943.3 316.5 L943 315.6 L942.9 314.6 L943 313.6 L943.2 312.5 L943.5 311.4 L943.9 310.2 L944.3 309 L944.8 307.8 L945.3 306.5 L945.9 305.3 L946.4 304.1 L946.9 302.9 L947.4 301.7 L948 300.5 L948.5 299.2 L949.1 298 L949.7 296.7 L950.3 295.5 L950.9 294.3 L951.5 293.2 L952 292.2 L952.4 291.2 L952.8 290.2 L953.1 289.3 L953.4 288.5 L953.7 287.7 L954 286.9 L954.2 286.2 L954.4 285.6 L954.6 285 L954.8 284.5 L954.9 284.1 Z" fill="#fff" stroke="#168aa0" stroke-width="2.6" stroke-linejoin="round"/>
<line x1="943.5" y1="311.4" x2="966.3" y2="311.4" stroke="#168aa0" stroke-width="1.3" stroke-dasharray="1.6 1.6"/>
<line x1="946.8" y1="323.7" x2="963" y2="323.7" stroke="#168aa0" stroke-width="1.3" stroke-dasharray="1.6 1.6"/>
<line x1="943.2" y1="334.4" x2="966.6" y2="334.4" stroke="#168aa0" stroke-width="1.3" stroke-dasharray="1.6 1.6"/>
<g fill="#168aa0" fill-opacity="0.35" stroke="#168aa0" stroke-width="2.1"><circle cx="948.4" cy="321.1" r="3"/><circle cx="958.3" cy="313.6" r="3"/><circle cx="960.8" cy="305.7" r="3"/><circle cx="961.2" cy="319.7" r="3"/><circle cx="956.8" cy="306.1" r="3"/><circle cx="950.4" cy="321.2" r="3"/><circle cx="963.9" cy="329.3" r="3"/><circle cx="960.4" cy="307.2" r="3"/><circle cx="960.5" cy="341.7" r="3"/><circle cx="959.2" cy="339.5" r="3"/><circle cx="948.4" cy="310.4" r="3"/><circle cx="954.1" cy="314.5" r="3"/><circle cx="954" cy="355.6" r="3"/><circle cx="956.3" cy="318.9" r="3"/><circle cx="946.8" cy="329.8" r="3"/><circle cx="961.5" cy="329.3" r="3"/><circle cx="961.9" cy="320.5" r="3"/><circle cx="959.5" cy="346.7" r="3"/><circle cx="956.4" cy="313.1" r="3"/><circle cx="946.1" cy="336.8" r="3"/><circle cx="959.8" cy="307" r="3"/><circle cx="959.8" cy="333.4" r="3"/><circle cx="954.5" cy="309" r="3"/><circle cx="954.1" cy="343.9" r="3"/><circle cx="948.5" cy="337" r="3"/><circle cx="951.9" cy="348.3" r="3"/><circle cx="945.7" cy="315.4" r="3"/><circle cx="949.9" cy="310" r="3"/><circle cx="954.5" cy="318.4" r="3"/><circle cx="961.2" cy="313.9" r="3"/><circle cx="946.2" cy="336.7" r="3"/><circle cx="951.7" cy="307.6" r="3"/><circle cx="952.9" cy="337.1" r="3"/><circle cx="955.4" cy="332.7" r="3"/><circle cx="956" cy="299.1" r="3"/><circle cx="957.7" cy="311.9" r="3"/><circle cx="960" cy="345.2" r="3"/><circle cx="952.4" cy="328.3" r="3"/><circle cx="956.7" cy="333.4" r="3"/><circle cx="946.5" cy="327.9" r="3"/><circle cx="952.5" cy="296.7" r="3"/><circle cx="945.9" cy="309.7" r="3"/><circle cx="951.6" cy="335.3" r="3"/><circle cx="958.6" cy="329.7" r="3"/><circle cx="947.9" cy="307.8" r="3"/><circle cx="952.3" cy="346.3" r="3"/><circle cx="956.9" cy="334.7" r="3"/><circle cx="963" cy="317" r="3"/></g>
<path d="M982.1 267.7 L982.3 268.4 L982.5 269.3 L982.8 270.4 L983.1 271.6 L983.4 272.8 L983.8 274.2 L984.1 275.5 L984.5 276.9 L984.8 278.2 L985.1 279.4 L985.4 280.6 L985.7 281.8 L986.1 283 L986.4 284.1 L986.7 285.3 L987 286.5 L987.3 287.6 L987.6 288.8 L987.9 290 L988.1 291.2 L988.3 292.3 L988.4 293.5 L988.5 294.7 L988.6 295.9 L988.7 297 L988.8 298.2 L988.9 299.4 L988.9 300.6 L989 301.7 L989.1 302.9 L989.2 304.1 L989.3 305.2 L989.3 306.4 L989.4 307.6 L989.5 308.8 L989.6 309.9 L989.7 311.1 L989.8 312.3 L989.9 313.5 L990.1 314.6 L990.3 315.8 L990.6 317 L990.9 318.3 L991.3 319.5 L991.6 320.7 L991.9 321.9 L992.3 323.1 L992.6 324.2 L992.9 325.3 L993.1 326.4 L993.3 327.3 L993.5 328.2 L993.7 329 L993.9 329.7 L994 330.5 L994.2 331.2 L994.2 332 L994.3 332.8 L994.2 333.6 L994.1 334.6 L993.9 335.6 L993.6 336.7 L993.3 337.8 L992.9 339 L992.5 340.2 L992 341.5 L991.5 342.7 L991 343.9 L990.6 345.1 L990.1 346.3 L989.6 347.5 L989.1 348.6 L988.6 349.8 L988.1 350.9 L987.5 352 L987 353.2 L986.5 354.4 L986 355.6 L985.5 356.8 L985.1 358 L984.7 359.4 L984.3 360.9 L984 362.5 L983.6 364.2 L983.3 365.8 L983 367.4 L982.7 368.9 L982.5 370.2 L982.3 371.3 L982.1 372.1 L982.1 372.1 L981.9 371.3 L981.7 370.2 L981.5 368.9 L981.2 367.4 L980.9 365.8 L980.6 364.2 L980.2 362.5 L979.9 360.9 L979.5 359.4 L979.1 358 L978.7 356.8 L978.2 355.6 L977.7 354.4 L977.2 353.2 L976.7 352 L976.1 350.9 L975.6 349.8 L975.1 348.6 L974.6 347.5 L974.1 346.3 L973.6 345.1 L973.2 343.9 L972.7 342.7 L972.2 341.5 L971.7 340.2 L971.3 339 L970.9 337.8 L970.6 336.7 L970.3 335.6 L970.1 334.6 L970 333.6 L969.9 332.8 L970 332 L970 331.2 L970.2 330.5 L970.3 329.7 L970.5 329 L970.7 328.2 L970.9 327.3 L971.1 326.4 L971.3 325.3 L971.6 324.2 L971.9 323.1 L972.3 321.9 L972.6 320.7 L972.9 319.5 L973.3 318.3 L973.6 317 L973.9 315.8 L974.1 314.6 L974.3 313.5 L974.4 312.3 L974.5 311.1 L974.6 309.9 L974.7 308.8 L974.8 307.6 L974.9 306.4 L974.9 305.2 L975 304.1 L975.1 302.9 L975.2 301.7 L975.3 300.6 L975.3 299.4 L975.4 298.2 L975.5 297 L975.6 295.9 L975.7 294.7 L975.8 293.5 L975.9 292.3 L976.1 291.2 L976.3 290 L976.6 288.8 L976.9 287.6 L977.2 286.5 L977.5 285.3 L977.8 284.1 L978.1 283 L978.5 281.8 L978.8 280.6 L979.1 279.4 L979.4 278.2 L979.7 276.9 L980.1 275.5 L980.4 274.2 L980.8 272.8 L981.1 271.6 L981.4 270.4 L981.7 269.3 L981.9 268.4 L982.1 267.7 Z" fill="#fff" stroke="#f8841f" stroke-width="2.6" stroke-linejoin="round"/>
<line x1="974.5" y1="311.1" x2="989.7" y2="311.1" stroke="#f8841f" stroke-width="1.3" stroke-dasharray="1.6 1.6"/>
<line x1="971.1" y1="326.4" x2="993.1" y2="326.4" stroke="#f8841f" stroke-width="1.3" stroke-dasharray="1.6 1.6"/>
<line x1="970.6" y1="336.7" x2="993.6" y2="336.7" stroke="#f8841f" stroke-width="1.3" stroke-dasharray="1.6 1.6"/>
<g fill="#f8841f" fill-opacity="0.2" stroke="#f8841f" stroke-width="1.9"><circle cx="976.7" cy="321" r="3"/><circle cx="984.6" cy="345.8" r="3"/><circle cx="986.8" cy="329.3" r="3"/><circle cx="985.5" cy="330.3" r="3"/><circle cx="976.1" cy="340.8" r="3"/><circle cx="978.5" cy="301.4" r="3"/><circle cx="972.7" cy="333.3" r="3"/><circle cx="989.2" cy="337.9" r="3"/><circle cx="986.1" cy="340.5" r="3"/><circle cx="985.6" cy="335.7" r="3"/><circle cx="984.1" cy="299.3" r="3"/><circle cx="981.1" cy="354.4" r="3"/><circle cx="975.4" cy="331.7" r="3"/><circle cx="979.3" cy="344.9" r="3"/><circle cx="981.1" cy="301.3" r="3"/><circle cx="979.9" cy="333.2" r="3"/><circle cx="981.9" cy="283.1" r="3"/><circle cx="987.1" cy="336.1" r="3"/><circle cx="985.2" cy="328.9" r="3"/><circle cx="976.2" cy="316" r="3"/><circle cx="984.9" cy="287.5" r="3"/><circle cx="985.3" cy="336.8" r="3"/><circle cx="983.7" cy="299.3" r="3"/><circle cx="980.5" cy="337.4" r="3"/><circle cx="978" cy="342.6" r="3"/><circle cx="985.3" cy="323.9" r="3"/><circle cx="990" cy="322.5" r="3"/><circle cx="984.4" cy="312.5" r="3"/><circle cx="979.8" cy="314.5" r="3"/><circle cx="987" cy="346.8" r="3"/><circle cx="976.5" cy="337.5" r="3"/><circle cx="978.6" cy="301.8" r="3"/><circle cx="976.5" cy="333.7" r="3"/><circle cx="978.6" cy="329.9" r="3"/><circle cx="977.6" cy="309.6" r="3"/><circle cx="982.1" cy="363.5" r="3"/><circle cx="982.1" cy="335.2" r="3"/><circle cx="984.3" cy="353.1" r="3"/><circle cx="985" cy="286" r="3"/><circle cx="985.3" cy="332.4" r="3"/><circle cx="985.3" cy="304.9" r="3"/><circle cx="983" cy="291.8" r="3"/><circle cx="988.5" cy="319.1" r="3"/><circle cx="977.3" cy="345.5" r="3"/><circle cx="987.4" cy="342.2" r="3"/><circle cx="983.5" cy="343" r="3"/><circle cx="984.7" cy="315.6" r="3"/><circle cx="983.2" cy="310.5" r="3"/><circle cx="981.8" cy="309" r="3"/><circle cx="986.3" cy="292.9" r="3"/></g>
<path d="M1009.4 240.7 L1009.6 241.6 L1009.8 242.8 L1010 244.3 L1010.3 245.9 L1010.6 247.6 L1010.9 249.4 L1011.3 251.2 L1011.6 252.9 L1012 254.5 L1012.4 256 L1012.8 257.3 L1013.3 258.7 L1013.8 260 L1014.4 261.3 L1014.9 262.5 L1015.4 263.7 L1016 264.8 L1016.5 265.9 L1017 266.8 L1017.4 267.7 L1017.8 268.4 L1018.2 269 L1018.6 269.4 L1019 269.7 L1019.3 270 L1019.7 270.3 L1019.9 270.6 L1020.2 271 L1020.3 271.6 L1020.4 272.4 L1020.4 273.3 L1020.3 274.4 L1020.1 275.5 L1019.9 276.7 L1019.6 278 L1019.4 279.4 L1019.1 280.8 L1018.8 282.3 L1018.6 283.8 L1018.4 285.3 L1018.3 286.9 L1018.1 288.5 L1018 290.2 L1017.9 292 L1017.8 293.8 L1017.8 295.6 L1017.7 297.5 L1017.6 299.3 L1017.5 301.1 L1017.4 302.9 L1017.3 304.7 L1017.2 306.4 L1017.1 308.2 L1017 309.9 L1017 311.7 L1016.9 313.5 L1016.8 315.2 L1016.7 317 L1016.5 318.7 L1016.4 320.5 L1016.2 322.3 L1016.1 324.1 L1015.9 326 L1015.7 327.8 L1015.5 329.7 L1015.2 331.5 L1015 333.3 L1014.8 335 L1014.6 336.6 L1014.4 338.1 L1014.2 339.5 L1014 340.8 L1013.8 342.1 L1013.6 343.2 L1013.4 344.3 L1013.2 345.4 L1013 346.5 L1012.8 347.6 L1012.6 348.7 L1012.4 349.8 L1012.2 351 L1012.1 352.2 L1011.9 353.4 L1011.8 354.5 L1011.6 355.7 L1011.5 356.9 L1011.3 358 L1011.2 359.2 L1011 360.4 L1010.9 361.6 L1010.7 362.8 L1010.6 364.1 L1010.4 365.5 L1010.2 366.8 L1010.1 368.2 L1009.9 369.5 L1009.7 370.6 L1009.6 371.7 L1009.5 372.6 L1009.4 373.3 L1009.4 373.3 L1009.3 372.6 L1009.2 371.7 L1009.1 370.6 L1008.9 369.5 L1008.7 368.2 L1008.6 366.8 L1008.4 365.5 L1008.2 364.1 L1008.1 362.8 L1007.9 361.6 L1007.8 360.4 L1007.6 359.2 L1007.5 358 L1007.3 356.9 L1007.2 355.7 L1007 354.5 L1006.9 353.4 L1006.7 352.2 L1006.6 351 L1006.4 349.8 L1006.2 348.7 L1006 347.6 L1005.8 346.5 L1005.6 345.4 L1005.4 344.3 L1005.2 343.2 L1005 342.1 L1004.8 340.8 L1004.6 339.5 L1004.4 338.1 L1004.2 336.6 L1004 335 L1003.8 333.3 L1003.6 331.5 L1003.3 329.7 L1003.1 327.8 L1002.9 326 L1002.7 324.1 L1002.6 322.3 L1002.4 320.5 L1002.3 318.7 L1002.1 317 L1002 315.2 L1001.9 313.5 L1001.8 311.7 L1001.8 309.9 L1001.7 308.2 L1001.6 306.4 L1001.5 304.7 L1001.4 302.9 L1001.3 301.1 L1001.2 299.3 L1001.1 297.5 L1001 295.6 L1001 293.8 L1000.9 292 L1000.8 290.2 L1000.7 288.5 L1000.5 286.9 L1000.4 285.3 L1000.2 283.8 L1000 282.3 L999.7 280.8 L999.4 279.4 L999.1 278 L998.9 276.7 L998.7 275.5 L998.5 274.4 L998.4 273.3 L998.4 272.4 L998.5 271.6 L998.6 271 L998.9 270.6 L999.1 270.3 L999.5 270 L999.8 269.7 L1000.2 269.4 L1000.6 269 L1001 268.4 L1001.4 267.7 L1001.8 266.8 L1002.3 265.9 L1002.8 264.8 L1003.4 263.7 L1003.9 262.5 L1004.4 261.3 L1005 260 L1005.5 258.7 L1006 257.3 L1006.4 256 L1006.8 254.5 L1007.2 252.9 L1007.5 251.2 L1007.9 249.4 L1008.2 247.6 L1008.5 245.9 L1008.8 244.3 L1009 242.8 L1009.2 241.6 L1009.4 240.7 Z" fill="#fff" stroke="#8fbdf5" stroke-width="2.2" stroke-linejoin="round"/>
<line x1="998.7" y1="275.5" x2="1020.1" y2="275.5" stroke="#8fbdf5" stroke-width="1.3" stroke-dasharray="1.6 1.6"/>
<line x1="1000.9" y1="292" x2="1017.9" y2="292" stroke="#8fbdf5" stroke-width="1.3" stroke-dasharray="1.6 1.6"/>
<line x1="1001.9" y1="313.5" x2="1016.9" y2="313.5" stroke="#8fbdf5" stroke-width="1.3" stroke-dasharray="1.6 1.6"/>
<g fill="#fff" fill-opacity="1" stroke="#8fbdf5" stroke-width="1.7"><circle cx="1006.5" cy="302.9" r="3"/><circle cx="1012.7" cy="275.2" r="3"/><circle cx="1008.7" cy="329.8" r="3"/><circle cx="1009.4" cy="261.5" r="3"/><circle cx="1010.3" cy="260.2" r="3"/><circle cx="1010.6" cy="296" r="3"/><circle cx="1012.8" cy="318.8" r="3"/><circle cx="1005.1" cy="308.8" r="3"/><circle cx="1006.9" cy="341.2" r="3"/><circle cx="1011" cy="269.3" r="3"/><circle cx="1009.8" cy="320" r="3"/><circle cx="1009.6" cy="345.8" r="3"/><circle cx="1013.3" cy="321.6" r="3"/><circle cx="1003.3" cy="298.8" r="3"/><circle cx="1001.7" cy="275.9" r="3"/><circle cx="1005.3" cy="275.6" r="3"/><circle cx="1007.7" cy="303.5" r="3"/><circle cx="1017.6" cy="274.7" r="3"/><circle cx="1005.2" cy="305.7" r="3"/><circle cx="1007.9" cy="312" r="3"/><circle cx="1009.4" cy="354.1" r="3"/><circle cx="1014.1" cy="296.9" r="3"/><circle cx="1003.9" cy="315.6" r="3"/><circle cx="1004.5" cy="279.8" r="3"/></g>
<path d="M1036.6 209 L1036.7 210.1 L1036.9 211.4 L1037.1 213 L1037.3 214.8 L1037.5 216.7 L1037.7 218.8 L1038 220.8 L1038.2 222.8 L1038.4 224.8 L1038.6 226.6 L1038.8 228.4 L1038.9 230.2 L1039.1 231.9 L1039.2 233.7 L1039.3 235.4 L1039.5 237.2 L1039.6 239 L1039.8 240.7 L1039.9 242.5 L1040.1 244.2 L1040.3 246 L1040.5 247.8 L1040.7 249.5 L1040.9 251.3 L1041.1 253 L1041.3 254.8 L1041.5 256.6 L1041.7 258.3 L1041.9 260.1 L1042.1 261.8 L1042.3 263.6 L1042.4 265.3 L1042.6 266.9 L1042.7 268.6 L1042.9 270.3 L1043 272 L1043.2 273.7 L1043.3 275.5 L1043.5 277.4 L1043.6 279.4 L1043.8 281.6 L1043.9 283.8 L1044 286.2 L1044.2 288.7 L1044.3 291.2 L1044.5 293.7 L1044.6 296.1 L1044.8 298.5 L1044.9 300.8 L1045.1 302.9 L1045.2 304.9 L1045.4 306.9 L1045.5 308.9 L1045.7 310.8 L1045.8 312.6 L1046 314.3 L1046.1 316 L1046.3 317.6 L1046.4 319.1 L1046.6 320.5 L1046.8 321.8 L1047 322.9 L1047.3 324 L1047.6 324.9 L1047.9 325.8 L1048.1 326.6 L1048.4 327.4 L1048.5 328.2 L1048.6 329 L1048.6 329.9 L1048.5 330.7 L1048.4 331.5 L1048.1 332.3 L1047.9 333 L1047.5 333.7 L1047.2 334.4 L1046.8 335.2 L1046.4 336.1 L1046 337 L1045.6 338.1 L1045.2 339.3 L1044.7 340.5 L1044.2 341.9 L1043.7 343.3 L1043.2 344.7 L1042.6 346.2 L1042.1 347.7 L1041.6 349.2 L1041.1 350.7 L1040.6 352.2 L1040.1 353.7 L1039.7 355.4 L1039.2 357.2 L1038.7 358.9 L1038.3 360.7 L1037.9 362.4 L1037.5 363.9 L1037.1 365.3 L1036.8 366.5 L1036.6 367.4 L1036.6 367.4 L1036.4 366.5 L1036.1 365.3 L1035.7 363.9 L1035.3 362.4 L1034.9 360.7 L1034.5 358.9 L1034 357.2 L1033.5 355.4 L1033.1 353.7 L1032.6 352.2 L1032.1 350.7 L1031.6 349.2 L1031.1 347.7 L1030.6 346.2 L1030 344.7 L1029.5 343.3 L1029 341.9 L1028.5 340.5 L1028 339.3 L1027.6 338.1 L1027.2 337 L1026.8 336.1 L1026.4 335.2 L1026 334.4 L1025.7 333.7 L1025.3 333 L1025.1 332.3 L1024.8 331.5 L1024.7 330.7 L1024.6 329.9 L1024.6 329 L1024.7 328.2 L1024.8 327.4 L1025.1 326.6 L1025.3 325.8 L1025.6 324.9 L1025.9 324 L1026.2 322.9 L1026.4 321.8 L1026.6 320.5 L1026.8 319.1 L1026.9 317.6 L1027.1 316 L1027.2 314.3 L1027.4 312.6 L1027.5 310.8 L1027.7 308.9 L1027.8 306.9 L1028 304.9 L1028.1 302.9 L1028.2 300.8 L1028.4 298.5 L1028.5 296.1 L1028.7 293.7 L1028.8 291.2 L1029 288.7 L1029.1 286.2 L1029.3 283.8 L1029.4 281.6 L1029.6 279.4 L1029.7 277.4 L1029.9 275.5 L1030 273.7 L1030.2 272 L1030.3 270.3 L1030.5 268.6 L1030.6 266.9 L1030.8 265.3 L1030.9 263.6 L1031.1 261.8 L1031.3 260.1 L1031.5 258.3 L1031.7 256.6 L1031.9 254.8 L1032.1 253 L1032.3 251.3 L1032.5 249.5 L1032.7 247.8 L1032.9 246 L1033.1 244.2 L1033.3 242.5 L1033.4 240.7 L1033.6 239 L1033.7 237.2 L1033.8 235.4 L1034 233.7 L1034.1 231.9 L1034.3 230.2 L1034.4 228.4 L1034.6 226.6 L1034.8 224.8 L1035 222.8 L1035.2 220.8 L1035.5 218.8 L1035.7 216.7 L1035.9 214.8 L1036.1 213 L1036.3 211.4 L1036.5 210.1 L1036.6 209 Z" fill="#fff" stroke="#fcba7e" stroke-width="2" stroke-linejoin="round"/>
<line x1="1029.2" y1="286.2" x2="1044" y2="286.2" stroke="#fcba7e" stroke-width="1.3" stroke-dasharray="1.6 1.6"/>
<line x1="1027.5" y1="310.8" x2="1045.7" y2="310.8" stroke="#fcba7e" stroke-width="1.3" stroke-dasharray="1.6 1.6"/>
<line x1="1024.6" y1="329" x2="1048.6" y2="329" stroke="#fcba7e" stroke-width="1.3" stroke-dasharray="1.6 1.6"/>
<g fill="#fff" fill-opacity="1" stroke="#fcba7e" stroke-width="1.2"><circle cx="1034.8" cy="249" r="2.9"/><circle cx="1040.9" cy="308.2" r="2.9"/><circle cx="1029.5" cy="307.9" r="2.9"/><circle cx="1041.7" cy="305.7" r="2.9"/><circle cx="1035.5" cy="315.6" r="2.9"/><circle cx="1040" cy="277.2" r="2.9"/><circle cx="1036.8" cy="298.7" r="2.9"/><circle cx="1038.1" cy="312.2" r="2.9"/><circle cx="1034.7" cy="311.8" r="2.9"/><circle cx="1039.1" cy="251.4" r="2.9"/><circle cx="1043.9" cy="333.9" r="2.9"/><circle cx="1042.1" cy="312.8" r="2.9"/><circle cx="1039.6" cy="319" r="2.9"/><circle cx="1039" cy="262.9" r="2.9"/><circle cx="1037" cy="338.5" r="2.9"/><circle cx="1043.4" cy="325.9" r="2.9"/><circle cx="1038.5" cy="329.9" r="2.9"/><circle cx="1038" cy="298.9" r="2.9"/><circle cx="1033.3" cy="347" r="2.9"/><circle cx="1043.6" cy="312.2" r="2.9"/><circle cx="1046" cy="326.6" r="2.9"/><circle cx="1030.4" cy="319.2" r="2.9"/><circle cx="1033.9" cy="261.2" r="2.9"/><circle cx="1037.3" cy="331.6" r="2.9"/></g>
<line x1="955.6" y1="196.1" x2="1037.4" y2="196.1" stroke="#000" stroke-width="2.2"/>
<text x="998.2" y="199.6" font-size="20" text-anchor="middle" font-weight="bold">*</text>
<line x1="983.3" y1="206" x2="1037.4" y2="206" stroke="#000" stroke-width="2.2"/>
<text x="1010" y="209.5" font-size="20" text-anchor="middle" font-weight="bold">*</text>
<line x1="983.3" y1="226.3" x2="1009.4" y2="226.3" stroke="#000" stroke-width="2.2"/>
<text x="996.2" y="229.8" font-size="20" text-anchor="middle" font-weight="bold">*</text>
<line x1="955.6" y1="238.7" x2="1009.4" y2="238.7" stroke="#000" stroke-width="2.2"/>
<text x="982.6" y="242.2" font-size="20" text-anchor="middle" font-weight="bold">*</text>
<text font-size="36.3" stroke="#000" stroke-width="0.7" transform="translate(669.9 408.8) scale(1.0033 1)">I</text>
<line x1="731.3" y1="387.9" x2="731.3" y2="539.1" stroke="#000" stroke-width="2.2"/>
<line x1="724.8" y1="388.9" x2="731.3" y2="388.9" stroke="#000" stroke-width="2.2"/>
<line x1="724.8" y1="426.2" x2="731.3" y2="426.2" stroke="#000" stroke-width="2.2"/>
<line x1="724.8" y1="463.5" x2="731.3" y2="463.5" stroke="#000" stroke-width="2.2"/>
<line x1="724.8" y1="500.8" x2="731.3" y2="500.8" stroke="#000" stroke-width="2.2"/>
<line x1="724.8" y1="538.1" x2="731.3" y2="538.1" stroke="#000" stroke-width="2.2"/>
<text x="722.3" y="395.2" font-size="17.5" text-anchor="end" textLength="27.6" lengthAdjust="spacingAndGlyphs" stroke="#000" stroke-width="0.5">300</text>
<text x="722.3" y="432.5" font-size="17.5" text-anchor="end" textLength="27.6" lengthAdjust="spacingAndGlyphs" stroke="#000" stroke-width="0.5">200</text>
<text x="722.3" y="469.8" font-size="17.5" text-anchor="end" textLength="27.6" lengthAdjust="spacingAndGlyphs" stroke="#000" stroke-width="0.5">100</text>
<text x="722.3" y="507.1" font-size="17.5" text-anchor="end" textLength="9.2" lengthAdjust="spacingAndGlyphs" stroke="#000" stroke-width="0.5">0</text>
<text x="722.3" y="544.4" font-size="17.5" text-anchor="end" textLength="33" lengthAdjust="spacingAndGlyphs" stroke="#000" stroke-width="0.5">-100</text>
<text font-size="17.8" stroke="#000" stroke-width="0.5" transform="translate(685.9 521) rotate(-90) scale(0.8989 1)">Reobase (pA)</text>
<path d="M754.2 434.4 L754.4 434.7 L754.6 435.1 L754.9 435.5 L755.2 436 L755.5 436.5 L755.9 437 L756.2 437.6 L756.6 438.2 L756.9 438.7 L757.2 439.3 L757.5 439.8 L757.8 440.3 L758.1 440.9 L758.5 441.4 L758.8 442 L759.1 442.6 L759.3 443.1 L759.5 443.7 L759.7 444.3 L759.7 444.9 L759.6 445.4 L759.4 446 L759.2 446.5 L758.8 447.1 L758.5 447.6 L758.1 448.2 L757.8 448.8 L757.5 449.3 L757.3 449.9 L757.2 450.4 L757.2 451 L757.3 451.5 L757.4 452.1 L757.6 452.6 L757.8 453.1 L758 453.7 L758.3 454.2 L758.6 454.8 L758.9 455.4 L759.2 456 L759.5 456.7 L759.9 457.4 L760.3 458 L760.7 458.7 L761.1 459.4 L761.5 460.2 L762 460.9 L762.4 461.7 L762.8 462.6 L763.2 463.5 L763.6 464.5 L764 465.6 L764.5 466.7 L765 467.9 L765.4 469.1 L765.8 470.3 L766.2 471.5 L766.5 472.6 L766.6 473.7 L766.7 474.7 L766.6 475.6 L766.4 476.4 L766.1 477.2 L765.7 477.9 L765.3 478.7 L764.8 479.3 L764.4 480 L763.9 480.7 L763.5 481.4 L763.2 482.2 L762.9 482.9 L762.7 483.6 L762.5 484.4 L762.3 485.1 L762.2 485.9 L762 486.6 L761.8 487.4 L761.6 488.1 L761.4 488.9 L761.2 489.6 L760.9 490.4 L760.6 491.1 L760.3 491.8 L760 492.6 L759.6 493.3 L759.3 494.1 L759 494.8 L758.7 495.6 L758.4 496.3 L758.2 497.1 L758 497.8 L757.9 498.5 L757.8 499.2 L757.8 499.9 L757.7 500.6 L757.6 501.3 L757.6 502.1 L757.5 502.8 L757.4 503.7 L757.2 504.5 L757 505.5 L756.7 506.6 L756.4 507.8 L756 509 L755.6 510.2 L755.3 511.4 L754.9 512.5 L754.6 513.5 L754.4 514.3 L754.2 515 L754.2 515 L754 514.3 L753.8 513.5 L753.5 512.5 L753.1 511.4 L752.8 510.2 L752.4 509 L752 507.8 L751.7 506.6 L751.4 505.5 L751.2 504.5 L751 503.7 L750.9 502.8 L750.8 502.1 L750.8 501.3 L750.7 500.6 L750.6 499.9 L750.6 499.2 L750.5 498.5 L750.4 497.8 L750.2 497.1 L750 496.3 L749.7 495.6 L749.4 494.8 L749.1 494.1 L748.8 493.3 L748.4 492.6 L748.1 491.8 L747.8 491.1 L747.5 490.4 L747.2 489.6 L747 488.9 L746.8 488.1 L746.6 487.4 L746.4 486.6 L746.2 485.9 L746.1 485.1 L745.9 484.4 L745.7 483.6 L745.5 482.9 L745.2 482.2 L744.9 481.4 L744.5 480.7 L744 480 L743.6 479.3 L743.1 478.7 L742.7 477.9 L742.3 477.2 L742 476.4 L741.8 475.6 L741.7 474.7 L741.8 473.7 L741.9 472.6 L742.2 471.5 L742.6 470.3 L743 469.1 L743.4 467.9 L743.9 466.7 L744.4 465.6 L744.8 464.5 L745.2 463.5 L745.6 462.6 L746 461.7 L746.4 460.9 L746.9 460.2 L747.3 459.4 L747.7 458.7 L748.1 458 L748.5 457.4 L748.9 456.7 L749.2 456 L749.5 455.4 L749.8 454.8 L750.1 454.2 L750.4 453.7 L750.6 453.1 L750.8 452.6 L751 452.1 L751.1 451.5 L751.2 451 L751.2 450.4 L751.1 449.9 L750.9 449.3 L750.6 448.8 L750.3 448.2 L749.9 447.6 L749.6 447.1 L749.2 446.5 L749 446 L748.8 445.4 L748.7 444.9 L748.7 444.3 L748.9 443.7 L749.1 443.1 L749.3 442.6 L749.6 442 L749.9 441.4 L750.3 440.9 L750.6 440.3 L750.9 439.8 L751.2 439.3 L751.5 438.7 L751.8 438.2 L752.2 437.6 L752.5 437 L752.9 436.5 L753.2 436 L753.5 435.5 L753.8 435.1 L754 434.7 L754.2 434.4 Z" fill="#fff" stroke="#168aa0" stroke-width="2.6" stroke-linejoin="round"/>
<line x1="744.4" y1="465.6" x2="764" y2="465.6" stroke="#168aa0" stroke-width="1.3" stroke-dasharray="1.6 1.6"/>
<line x1="741.9" y1="472.6" x2="766.5" y2="472.6" stroke="#168aa0" stroke-width="1.3" stroke-dasharray="1.6 1.6"/>
<line x1="744.5" y1="480.7" x2="763.9" y2="480.7" stroke="#168aa0" stroke-width="1.3" stroke-dasharray="1.6 1.6"/>
<g fill="#168aa0" fill-opacity="0.35" stroke="#168aa0" stroke-width="2.1"><circle cx="754.2" cy="508.3" r="3"/><circle cx="754.2" cy="500.8" r="3"/><circle cx="754.2" cy="493.3" r="3"/><circle cx="754.2" cy="485.9" r="3"/><circle cx="745.6" cy="478.4" r="3"/><circle cx="754.2" cy="478.4" r="3"/><circle cx="762.8" cy="478.4" r="3"/><circle cx="745" cy="471" r="3"/><circle cx="751.1" cy="471" r="3"/><circle cx="757.3" cy="471" r="3"/><circle cx="763.4" cy="471" r="3"/><circle cx="747.8" cy="463.5" r="3"/><circle cx="760.6" cy="463.5" r="3"/><circle cx="754.2" cy="456" r="3"/><circle cx="754.2" cy="448.6" r="3"/><circle cx="754.2" cy="441.1" r="3"/></g>
<path d="M782 428.1 L782.2 428.5 L782.4 429 L782.7 429.7 L783 430.4 L783.3 431.2 L783.7 432 L784 432.9 L784.4 433.8 L784.7 434.7 L785 435.5 L785.3 436.4 L785.6 437.2 L785.9 438.1 L786.2 439 L786.6 440 L786.9 440.9 L787.2 441.9 L787.5 442.8 L787.7 443.8 L788 444.9 L788.2 445.9 L788.5 447 L788.7 448.1 L788.9 449.2 L789.1 450.3 L789.3 451.5 L789.5 452.6 L789.7 453.8 L789.8 454.9 L790 456 L790.1 457.2 L790.3 458.3 L790.4 459.4 L790.5 460.5 L790.6 461.6 L790.6 462.8 L790.7 463.9 L790.8 465 L790.9 466.1 L791 467.2 L791.1 468.3 L791.2 469.5 L791.2 470.6 L791.3 471.7 L791.4 472.8 L791.5 473.9 L791.6 475.1 L791.7 476.2 L791.8 477.3 L792 478.4 L792.3 479.6 L792.6 480.7 L793 481.9 L793.4 483.1 L793.9 484.2 L794.3 485.4 L794.6 486.5 L794.9 487.6 L795 488.6 L795 489.6 L794.8 490.5 L794.5 491.3 L794.1 492.1 L793.6 492.9 L793 493.6 L792.3 494.3 L791.7 494.9 L791.1 495.6 L790.5 496.3 L790 497.1 L789.5 497.8 L789 498.6 L788.5 499.3 L788 500.1 L787.5 500.8 L787 501.5 L786.5 502.3 L786.1 503 L785.8 503.8 L785.5 504.5 L785.3 505.2 L785.2 505.9 L785.1 506.5 L785.1 507 L785.2 507.6 L785.2 508.3 L785.2 509 L785.2 509.9 L785.1 510.8 L785 512 L784.8 513.4 L784.5 515.1 L784.2 517.1 L783.8 519.1 L783.5 521.2 L783.1 523.3 L782.8 525.2 L782.4 527 L782.2 528.4 L782 529.5 L782 529.5 L781.8 528.4 L781.6 527 L781.2 525.2 L780.9 523.3 L780.5 521.2 L780.2 519.1 L779.8 517.1 L779.5 515.1 L779.2 513.4 L779 512 L778.9 510.8 L778.8 509.9 L778.8 509 L778.8 508.3 L778.8 507.6 L778.9 507 L778.9 506.5 L778.8 505.9 L778.7 505.2 L778.5 504.5 L778.2 503.8 L777.9 503 L777.5 502.3 L777 501.5 L776.5 500.8 L776 500.1 L775.5 499.3 L775 498.6 L774.5 497.8 L774 497.1 L773.5 496.3 L772.9 495.6 L772.3 494.9 L771.7 494.3 L771 493.6 L770.4 492.9 L769.9 492.1 L769.5 491.3 L769.2 490.5 L769 489.6 L769 488.6 L769.1 487.6 L769.4 486.5 L769.7 485.4 L770.1 484.2 L770.6 483.1 L771 481.9 L771.4 480.7 L771.7 479.6 L772 478.4 L772.2 477.3 L772.3 476.2 L772.4 475.1 L772.5 473.9 L772.6 472.8 L772.7 471.7 L772.8 470.6 L772.8 469.5 L772.9 468.3 L773 467.2 L773.1 466.1 L773.2 465 L773.3 463.9 L773.4 462.8 L773.4 461.6 L773.5 460.5 L773.6 459.4 L773.7 458.3 L773.9 457.2 L774 456 L774.2 454.9 L774.3 453.8 L774.5 452.6 L774.7 451.5 L774.9 450.3 L775.1 449.2 L775.3 448.1 L775.5 447 L775.8 445.9 L776 444.9 L776.3 443.8 L776.5 442.8 L776.8 441.9 L777.1 440.9 L777.4 440 L777.8 439 L778.1 438.1 L778.4 437.2 L778.7 436.4 L779 435.5 L779.3 434.7 L779.6 433.8 L780 432.9 L780.3 432 L780.7 431.2 L781 430.4 L781.3 429.7 L781.6 429 L781.8 428.5 L782 428.1 Z" fill="#fff" stroke="#f8841f" stroke-width="2.6" stroke-linejoin="round"/>
<line x1="773.4" y1="462.8" x2="790.6" y2="462.8" stroke="#f8841f" stroke-width="1.3" stroke-dasharray="1.6 1.6"/>
<line x1="772" y1="478.4" x2="792" y2="478.4" stroke="#f8841f" stroke-width="1.3" stroke-dasharray="1.6 1.6"/>
<line x1="769" y1="488.6" x2="795" y2="488.6" stroke="#f8841f" stroke-width="1.3" stroke-dasharray="1.6 1.6"/>
<g fill="#f8841f" fill-opacity="0.2" stroke="#f8841f" stroke-width="1.9"><circle cx="782" cy="515.7" r="3"/><circle cx="782" cy="508.3" r="3"/><circle cx="782" cy="500.8" r="3"/><circle cx="773.4" cy="493.3" r="3"/><circle cx="782" cy="493.3" r="3"/><circle cx="790.6" cy="493.3" r="3"/><circle cx="772.2" cy="485.9" r="3"/><circle cx="782" cy="485.9" r="3"/><circle cx="791.8" cy="485.9" r="3"/><circle cx="774.6" cy="478.4" r="3"/><circle cx="782" cy="478.4" r="3"/><circle cx="789.4" cy="478.4" r="3"/><circle cx="775.3" cy="471" r="3"/><circle cx="782" cy="471" r="3"/><circle cx="788.7" cy="471" r="3"/><circle cx="775.9" cy="463.5" r="3"/><circle cx="788.1" cy="463.5" r="3"/><circle cx="776.6" cy="456" r="3"/><circle cx="787.4" cy="456" r="3"/><circle cx="777.8" cy="448.6" r="3"/><circle cx="786.2" cy="448.6" r="3"/><circle cx="782" cy="441.1" r="3"/><circle cx="782" cy="433.7" r="3"/></g>
<path d="M810.2 428.8 L810.4 429.3 L810.6 429.9 L810.8 430.7 L811.1 431.5 L811.4 432.4 L811.7 433.4 L812 434.4 L812.3 435.4 L812.5 436.4 L812.7 437.4 L812.9 438.4 L813 439.5 L813.1 440.6 L813.2 441.7 L813.2 442.8 L813.3 444 L813.4 445.1 L813.5 446.3 L813.6 447.4 L813.7 448.6 L813.9 449.7 L814.1 450.8 L814.3 452 L814.5 453.1 L814.7 454.3 L814.9 455.4 L815.1 456.6 L815.3 457.7 L815.5 458.7 L815.7 459.8 L815.9 460.8 L816 461.8 L816.2 462.7 L816.3 463.6 L816.5 464.5 L816.6 465.5 L816.7 466.4 L816.7 467.3 L816.7 468.2 L816.7 469.1 L816.6 470 L816.3 471 L816 472 L815.6 472.9 L815.2 473.9 L814.8 474.8 L814.5 475.8 L814.3 476.7 L814.2 477.6 L814.2 478.4 L814.4 479.3 L814.8 480.1 L815.2 480.9 L815.8 481.7 L816.4 482.5 L817 483.3 L817.6 484 L818.2 484.7 L818.7 485.3 L819.2 485.9 L819.6 486.4 L820 486.8 L820.5 487.2 L820.9 487.6 L821.3 487.9 L821.6 488.2 L821.9 488.5 L822.1 488.8 L822.2 489.2 L822.2 489.6 L822.1 490.1 L821.8 490.6 L821.5 491.2 L821.1 491.7 L820.6 492.3 L820.1 492.9 L819.6 493.5 L819.1 494.1 L818.6 494.6 L818.2 495.2 L817.8 495.7 L817.4 496.2 L817 496.6 L816.6 497.1 L816.2 497.5 L815.8 498 L815.4 498.6 L815 499.2 L814.6 499.9 L814.2 500.8 L813.8 501.9 L813.3 503.1 L812.9 504.6 L812.4 506.1 L812 507.7 L811.5 509.2 L811.1 510.7 L810.7 512 L810.4 513 L810.2 513.9 L810.2 513.9 L810 513 L809.7 512 L809.3 510.7 L808.9 509.2 L808.5 507.7 L808 506.1 L807.5 504.6 L807.1 503.1 L806.6 501.9 L806.2 500.8 L805.8 499.9 L805.4 499.2 L805 498.6 L804.6 498 L804.2 497.5 L803.8 497.1 L803.4 496.6 L803 496.2 L802.6 495.7 L802.2 495.2 L801.8 494.6 L801.3 494.1 L800.8 493.5 L800.3 492.9 L799.8 492.3 L799.3 491.7 L798.9 491.2 L798.6 490.6 L798.3 490.1 L798.2 489.6 L798.2 489.2 L798.3 488.8 L798.5 488.5 L798.8 488.2 L799.1 487.9 L799.5 487.6 L799.9 487.2 L800.4 486.8 L800.8 486.4 L801.2 485.9 L801.7 485.3 L802.2 484.7 L802.8 484 L803.4 483.3 L804 482.5 L804.6 481.7 L805.2 480.9 L805.6 480.1 L806 479.3 L806.2 478.4 L806.2 477.6 L806.1 476.7 L805.9 475.8 L805.6 474.8 L805.2 473.9 L804.8 472.9 L804.4 472 L804.1 471 L803.8 470 L803.7 469.1 L803.7 468.2 L803.7 467.3 L803.7 466.4 L803.8 465.5 L803.9 464.5 L804.1 463.6 L804.2 462.7 L804.4 461.8 L804.5 460.8 L804.7 459.8 L804.9 458.7 L805.1 457.7 L805.3 456.6 L805.5 455.4 L805.7 454.3 L805.9 453.1 L806.1 452 L806.3 450.8 L806.5 449.7 L806.7 448.6 L806.8 447.4 L806.9 446.3 L807 445.1 L807.1 444 L807.2 442.8 L807.2 441.7 L807.3 440.6 L807.4 439.5 L807.5 438.4 L807.7 437.4 L807.9 436.4 L808.1 435.4 L808.4 434.4 L808.7 433.4 L809 432.4 L809.3 431.5 L809.6 430.7 L809.8 429.9 L810 429.3 L810.2 428.8 Z" fill="#fff" stroke="#8fbdf5" stroke-width="2.2" stroke-linejoin="round"/>
<line x1="803.8" y1="465.5" x2="816.6" y2="465.5" stroke="#8fbdf5" stroke-width="1.3" stroke-dasharray="1.6 1.6"/>
<line x1="802.2" y1="484.7" x2="818.2" y2="484.7" stroke="#8fbdf5" stroke-width="1.3" stroke-dasharray="1.6 1.6"/>
<line x1="798.6" y1="490.6" x2="821.8" y2="490.6" stroke="#8fbdf5" stroke-width="1.3" stroke-dasharray="1.6 1.6"/>
<g fill="#fff" fill-opacity="1" stroke="#8fbdf5" stroke-width="1.7"><circle cx="810.2" cy="500.8" r="3"/><circle cx="806.4" cy="497.1" r="3"/><circle cx="814" cy="497.1" r="3"/><circle cx="800.8" cy="489.6" r="3"/><circle cx="807.1" cy="489.6" r="3"/><circle cx="813.3" cy="489.6" r="3"/><circle cx="819.6" cy="489.6" r="3"/><circle cx="803.8" cy="485.9" r="3"/><circle cx="816.6" cy="485.9" r="3"/><circle cx="810.2" cy="471" r="3"/><circle cx="806.3" cy="467.2" r="3"/><circle cx="814.1" cy="467.2" r="3"/><circle cx="810.2" cy="463.5" r="3"/><circle cx="810.2" cy="459.8" r="3"/><circle cx="810.2" cy="456" r="3"/><circle cx="810.2" cy="452.3" r="3"/><circle cx="810.2" cy="448.6" r="3"/><circle cx="810.2" cy="437.4" r="3"/></g>
<path d="M838.7 441.5 L838.8 441.9 L839 442.4 L839.2 443 L839.4 443.6 L839.6 444.3 L839.8 445.1 L840 445.9 L840.3 446.8 L840.5 447.7 L840.7 448.6 L840.9 449.5 L841.1 450.6 L841.3 451.6 L841.5 452.8 L841.7 453.9 L841.9 455.1 L842.1 456.3 L842.3 457.5 L842.5 458.6 L842.7 459.8 L842.9 460.9 L843 462 L843.2 463.1 L843.3 464.2 L843.5 465.4 L843.6 466.5 L843.8 467.6 L844 468.7 L844.3 469.8 L844.7 471 L845.2 472.1 L845.8 473.3 L846.4 474.5 L847.1 475.7 L847.9 476.9 L848.6 478.1 L849.3 479.2 L849.9 480.3 L850.4 481.3 L850.7 482.2 L850.9 482.9 L851 483.6 L851 484.2 L851 484.8 L850.9 485.3 L850.7 485.8 L850.5 486.2 L850.3 486.7 L850 487.2 L849.7 487.7 L849.4 488.3 L848.9 488.8 L848.5 489.4 L847.9 489.9 L847.4 490.4 L846.8 491 L846.3 491.5 L845.7 492.1 L845.2 492.7 L844.7 493.3 L844.2 494 L843.8 494.5 L843.3 495.1 L842.9 495.7 L842.4 496.3 L842 496.9 L841.6 497.7 L841.3 498.6 L841 499.6 L840.7 500.8 L840.5 502.2 L840.3 503.8 L840.2 505.6 L840.2 507.5 L840.1 509.4 L840.1 511.5 L840.1 513.5 L840.1 515.5 L840.2 517.5 L840.2 519.5 L840.3 521.4 L840.4 523.4 L840.5 525.5 L840.7 527.6 L840.9 529.7 L841 531.7 L841.2 533.6 L841.4 535.3 L841.6 536.8 L841.7 538.1 L841.8 539.1 L842 539.8 L842.1 540.3 L842.3 540.7 L842.4 540.9 L842.5 541.1 L842.6 541.2 L842.7 541.3 L842.7 541.5 L842.7 541.8 L842.7 542.2 L842.6 542.5 L842.5 542.8 L842.3 543.1 L842.2 543.4 L842 543.7 L841.8 544.1 L841.6 544.5 L841.4 545 L841.2 545.6 L841 546.2 L840.7 547 L840.4 548 L840.2 548.9 L839.9 549.9 L839.6 550.9 L839.3 551.8 L839.1 552.6 L838.9 553.3 L838.7 553.8 L838.7 553.8 L838.5 553.3 L838.3 552.6 L838.1 551.8 L837.8 550.9 L837.5 549.9 L837.2 548.9 L837 548 L836.7 547 L836.4 546.2 L836.2 545.6 L836 545 L835.8 544.5 L835.6 544.1 L835.4 543.7 L835.2 543.4 L835.1 543.1 L834.9 542.8 L834.8 542.5 L834.7 542.2 L834.7 541.8 L834.7 541.5 L834.7 541.3 L834.8 541.2 L834.9 541.1 L835 540.9 L835.1 540.7 L835.3 540.3 L835.4 539.8 L835.6 539.1 L835.7 538.1 L835.8 536.8 L836 535.3 L836.2 533.6 L836.4 531.7 L836.5 529.7 L836.7 527.6 L836.9 525.5 L837 523.4 L837.1 521.4 L837.2 519.5 L837.2 517.5 L837.3 515.5 L837.3 513.5 L837.3 511.5 L837.3 509.4 L837.2 507.5 L837.2 505.6 L837.1 503.8 L836.9 502.2 L836.7 500.8 L836.4 499.6 L836.1 498.6 L835.8 497.7 L835.4 496.9 L835 496.3 L834.5 495.7 L834.1 495.1 L833.6 494.5 L833.2 494 L832.7 493.3 L832.2 492.7 L831.7 492.1 L831.1 491.5 L830.6 491 L830 490.4 L829.5 489.9 L828.9 489.4 L828.5 488.8 L828 488.3 L827.7 487.7 L827.4 487.2 L827.1 486.7 L826.9 486.2 L826.7 485.8 L826.5 485.3 L826.4 484.8 L826.4 484.2 L826.4 483.6 L826.5 482.9 L826.7 482.2 L827 481.3 L827.5 480.3 L828.1 479.2 L828.8 478.1 L829.5 476.9 L830.3 475.7 L831 474.5 L831.6 473.3 L832.2 472.1 L832.7 471 L833.1 469.8 L833.4 468.7 L833.6 467.6 L833.8 466.5 L834 465.4 L834.1 464.2 L834.2 463.1 L834.4 462 L834.5 460.9 L834.7 459.8 L834.9 458.6 L835.1 457.5 L835.3 456.3 L835.5 455.1 L835.7 453.9 L835.9 452.8 L836.1 451.6 L836.3 450.6 L836.5 449.5 L836.7 448.6 L836.9 447.7 L837.1 446.8 L837.4 445.9 L837.6 445.1 L837.8 444.3 L838 443.6 L838.2 443 L838.4 442.4 L838.6 441.9 L838.7 441.5 Z" fill="#fff" stroke="#fcba7e" stroke-width="2" stroke-linejoin="round"/>
<line x1="830.3" y1="475.7" x2="847.1" y2="475.7" stroke="#fcba7e" stroke-width="1.3" stroke-dasharray="1.6 1.6"/>
<line x1="826.5" y1="482.9" x2="850.9" y2="482.9" stroke="#fcba7e" stroke-width="1.3" stroke-dasharray="1.6 1.6"/>
<line x1="828" y1="488.3" x2="849.4" y2="488.3" stroke="#fcba7e" stroke-width="1.3" stroke-dasharray="1.6 1.6"/>
<g fill="#fff" fill-opacity="1" stroke="#fcba7e" stroke-width="1.2"><circle cx="838.7" cy="545.6" r="2.9"/><circle cx="838.7" cy="541.8" r="2.9"/><circle cx="838.7" cy="538.1" r="2.9"/><circle cx="838.7" cy="534.4" r="2.9"/><circle cx="838.7" cy="500.8" r="2.9"/><circle cx="838.7" cy="497.1" r="2.9"/><circle cx="831.8" cy="489.6" r="2.9"/><circle cx="838.7" cy="489.6" r="2.9"/><circle cx="845.6" cy="489.6" r="2.9"/><circle cx="829.3" cy="482.2" r="2.9"/><circle cx="835.6" cy="482.2" r="2.9"/><circle cx="841.8" cy="482.2" r="2.9"/><circle cx="848.1" cy="482.2" r="2.9"/><circle cx="831.2" cy="478.4" r="2.9"/><circle cx="838.7" cy="478.4" r="2.9"/><circle cx="846.2" cy="478.4" r="2.9"/><circle cx="838.7" cy="467.2" r="2.9"/><circle cx="838.7" cy="459.8" r="2.9"/><circle cx="838.7" cy="456" r="2.9"/><circle cx="838.7" cy="452.3" r="2.9"/></g>
<text font-size="36.4" stroke="#000" stroke-width="0.8" transform="translate(874.9 409.3) scale(0.9179 1)">J</text>
<line x1="930.5" y1="418.4" x2="930.5" y2="558.1" stroke="#000" stroke-width="2.2"/>
<line x1="924" y1="419.4" x2="930.5" y2="419.4" stroke="#000" stroke-width="2.2"/>
<line x1="924" y1="447" x2="930.5" y2="447" stroke="#000" stroke-width="2.2"/>
<line x1="924" y1="474.5" x2="930.5" y2="474.5" stroke="#000" stroke-width="2.2"/>
<line x1="924" y1="502.1" x2="930.5" y2="502.1" stroke="#000" stroke-width="2.2"/>
<line x1="924" y1="529.6" x2="930.5" y2="529.6" stroke="#000" stroke-width="2.2"/>
<line x1="924" y1="557.1" x2="930.5" y2="557.1" stroke="#000" stroke-width="2.2"/>
<text x="921.5" y="425.7" font-size="17.5" text-anchor="end" textLength="27.6" lengthAdjust="spacingAndGlyphs" stroke="#000" stroke-width="0.5">800</text>
<text x="921.5" y="453.3" font-size="17.5" text-anchor="end" textLength="27.6" lengthAdjust="spacingAndGlyphs" stroke="#000" stroke-width="0.5">600</text>
<text x="921.5" y="480.8" font-size="17.5" text-anchor="end" textLength="27.6" lengthAdjust="spacingAndGlyphs" stroke="#000" stroke-width="0.5">400</text>
<text x="921.5" y="508.4" font-size="17.5" text-anchor="end" textLength="27.6" lengthAdjust="spacingAndGlyphs" stroke="#000" stroke-width="0.5">200</text>
<text x="921.5" y="535.9" font-size="17.5" text-anchor="end" textLength="9.2" lengthAdjust="spacingAndGlyphs" stroke="#000" stroke-width="0.5">0</text>
<text x="921.5" y="563.4" font-size="17.5" text-anchor="end" textLength="33" lengthAdjust="spacingAndGlyphs" stroke="#000" stroke-width="0.5">-200</text>
<text font-size="18.1" stroke="#000" stroke-width="0.5" transform="translate(889.3 530.9) rotate(-90) scale(0.8634 1)">First Peak (ms)</text>
<path d="M954.7 515.1 L955.3 515.3 L956 515.6 L956.9 515.9 L957.9 516.2 L959 516.6 L960.1 517 L961.1 517.4 L962.1 517.8 L963 518.2 L963.7 518.6 L964.3 519 L964.8 519.4 L965.3 519.8 L965.7 520.2 L966.1 520.6 L966.4 521 L966.7 521.5 L966.9 521.9 L967.1 522.3 L967.2 522.7 L967.3 523.1 L967.3 523.5 L967.3 524 L967.2 524.4 L967.1 524.8 L966.9 525.2 L966.7 525.6 L966.4 526 L966.1 526.4 L965.7 526.8 L965.2 527.3 L964.6 527.7 L963.9 528.2 L963.2 528.6 L962.4 529 L961.5 529.5 L960.8 529.9 L960 530.3 L959.3 530.6 L958.7 531 L958.2 531.3 L957.6 531.6 L957.2 531.8 L956.7 532.1 L956.3 532.3 L955.9 532.5 L955.5 532.6 L955.2 532.8 L954.9 532.9 L954.7 533 L954.7 533 L954.5 532.9 L954.2 532.8 L953.9 532.6 L953.5 532.5 L953.1 532.3 L952.7 532.1 L952.2 531.8 L951.8 531.6 L951.2 531.3 L950.7 531 L950.1 530.6 L949.4 530.3 L948.6 529.9 L947.9 529.5 L947 529 L946.2 528.6 L945.5 528.2 L944.8 527.7 L944.2 527.3 L943.7 526.8 L943.3 526.4 L943 526 L942.7 525.6 L942.5 525.2 L942.3 524.8 L942.2 524.4 L942.1 524 L942.1 523.5 L942.1 523.1 L942.2 522.7 L942.3 522.3 L942.5 521.9 L942.7 521.5 L943 521 L943.3 520.6 L943.7 520.2 L944.1 519.8 L944.6 519.4 L945.1 519 L945.7 518.6 L946.4 518.2 L947.3 517.8 L948.3 517.4 L949.3 517 L950.4 516.6 L951.5 516.2 L952.5 515.9 L953.4 515.6 L954.1 515.3 L954.7 515.1 Z" fill="#fff" stroke="#168aa0" stroke-width="2.6" stroke-linejoin="round"/>
<line x1="943.3" y1="520.6" x2="966.1" y2="520.6" stroke="#168aa0" stroke-width="1.3" stroke-dasharray="1.6 1.6"/>
<line x1="942.1" y1="523.5" x2="967.3" y2="523.5" stroke="#168aa0" stroke-width="1.3" stroke-dasharray="1.6 1.6"/>
<line x1="943" y1="526" x2="966.4" y2="526" stroke="#168aa0" stroke-width="1.3" stroke-dasharray="1.6 1.6"/>
<g fill="#168aa0" fill-opacity="0.35" stroke="#168aa0" stroke-width="2.1"><circle cx="949.7" cy="521.7" r="3"/><circle cx="951.6" cy="527" r="3"/><circle cx="959.8" cy="528.5" r="3"/><circle cx="952.3" cy="525.3" r="3"/><circle cx="944.7" cy="520.9" r="3"/><circle cx="950.9" cy="526.5" r="3"/><circle cx="955" cy="525.1" r="3"/><circle cx="956.9" cy="524.2" r="3"/><circle cx="946.8" cy="519.1" r="3"/><circle cx="949" cy="524.1" r="3"/><circle cx="946.9" cy="521.4" r="3"/><circle cx="950.5" cy="528.6" r="3"/><circle cx="957.4" cy="526.9" r="3"/><circle cx="954.6" cy="519.1" r="3"/><circle cx="957.9" cy="522.6" r="3"/><circle cx="950.2" cy="517.6" r="3"/><circle cx="951.3" cy="519.9" r="3"/><circle cx="960.9" cy="524.4" r="3"/><circle cx="947.4" cy="524.3" r="3"/><circle cx="963.8" cy="526" r="3"/><circle cx="952.1" cy="523.8" r="3"/><circle cx="946.6" cy="523.1" r="3"/><circle cx="955.7" cy="527.4" r="3"/><circle cx="954.3" cy="524" r="3"/><circle cx="959" cy="517.4" r="3"/><circle cx="959.8" cy="524.3" r="3"/><circle cx="952.3" cy="520.2" r="3"/><circle cx="958.5" cy="522.9" r="3"/><circle cx="944.7" cy="526.3" r="3"/><circle cx="963.1" cy="522.1" r="3"/><circle cx="954.5" cy="517.3" r="3"/><circle cx="950.1" cy="522.2" r="3"/><circle cx="957.7" cy="520.8" r="3"/><circle cx="950.4" cy="520" r="3"/><circle cx="961.8" cy="526" r="3"/><circle cx="950.7" cy="523.2" r="3"/><circle cx="946.7" cy="525.8" r="3"/><circle cx="955.3" cy="519.4" r="3"/><circle cx="962" cy="525.2" r="3"/><circle cx="949" cy="524.3" r="3"/></g>
<path d="M982.4 514.5 L982.8 514.7 L983.2 515 L983.8 515.4 L984.5 515.8 L985.1 516.3 L985.9 516.7 L986.6 517.2 L987.2 517.7 L987.9 518.2 L988.4 518.6 L988.9 519 L989.4 519.4 L989.8 519.8 L990.2 520.3 L990.6 520.7 L991 521.1 L991.4 521.5 L991.7 521.9 L992.1 522.3 L992.4 522.7 L992.7 523.1 L993.1 523.5 L993.4 523.8 L993.7 524.2 L994.1 524.6 L994.3 524.9 L994.6 525.2 L994.7 525.6 L994.9 525.9 L994.9 526.2 L994.9 526.4 L994.8 526.7 L994.8 526.9 L994.6 527.1 L994.4 527.3 L994.2 527.5 L993.9 527.6 L993.5 527.8 L993 528 L992.4 528.2 L991.7 528.4 L990.7 528.7 L989.6 528.9 L988.5 529.1 L987.2 529.4 L986 529.6 L984.9 529.8 L983.9 530 L983 530.2 L982.4 530.3 L982.4 530.3 L981.8 530.2 L980.9 530 L979.9 529.8 L978.8 529.6 L977.6 529.4 L976.3 529.1 L975.2 528.9 L974.1 528.7 L973.1 528.4 L972.4 528.2 L971.8 528 L971.3 527.8 L970.9 527.6 L970.6 527.5 L970.4 527.3 L970.2 527.1 L970 526.9 L970 526.7 L969.9 526.4 L969.9 526.2 L969.9 525.9 L970.1 525.6 L970.2 525.2 L970.5 524.9 L970.7 524.6 L971.1 524.2 L971.4 523.8 L971.7 523.5 L972.1 523.1 L972.4 522.7 L972.7 522.3 L973.1 521.9 L973.4 521.5 L973.8 521.1 L974.2 520.7 L974.6 520.3 L975 519.8 L975.4 519.4 L975.9 519 L976.4 518.6 L976.9 518.2 L977.6 517.7 L978.2 517.2 L978.9 516.7 L979.6 516.3 L980.3 515.8 L981 515.4 L981.6 515 L982 514.7 L982.4 514.5 Z" fill="#fff" stroke="#f8841f" stroke-width="2.6" stroke-linejoin="round"/>
<line x1="973.1" y1="521.9" x2="991.7" y2="521.9" stroke="#f8841f" stroke-width="1.3" stroke-dasharray="1.6 1.6"/>
<line x1="970.7" y1="524.6" x2="994.1" y2="524.6" stroke="#f8841f" stroke-width="1.3" stroke-dasharray="1.6 1.6"/>
<line x1="969.9" y1="526.4" x2="994.9" y2="526.4" stroke="#f8841f" stroke-width="1.3" stroke-dasharray="1.6 1.6"/>
<g fill="#f8841f" fill-opacity="0.2" stroke="#f8841f" stroke-width="1.9"><circle cx="988.8" cy="524.8" r="3"/><circle cx="985.7" cy="522.8" r="3"/><circle cx="980.5" cy="524.3" r="3"/><circle cx="984.7" cy="522.8" r="3"/><circle cx="984.9" cy="528" r="3"/><circle cx="976" cy="523.3" r="3"/><circle cx="977.8" cy="526.5" r="3"/><circle cx="987.5" cy="529" r="3"/><circle cx="985.2" cy="525.8" r="3"/><circle cx="979" cy="521" r="3"/><circle cx="974.3" cy="523.5" r="3"/><circle cx="980.4" cy="523.1" r="3"/><circle cx="980.8" cy="527.5" r="3"/><circle cx="977.1" cy="520" r="3"/><circle cx="984.2" cy="521.8" r="3"/><circle cx="981.8" cy="517.9" r="3"/><circle cx="980.4" cy="523.5" r="3"/><circle cx="984.1" cy="519.7" r="3"/><circle cx="992.3" cy="525.7" r="3"/><circle cx="980.1" cy="523.2" r="3"/><circle cx="987.1" cy="528.1" r="3"/><circle cx="981.9" cy="528.4" r="3"/><circle cx="986.7" cy="524.5" r="3"/><circle cx="984.7" cy="527.1" r="3"/><circle cx="976" cy="526.5" r="3"/><circle cx="980.5" cy="527.4" r="3"/><circle cx="977.4" cy="524.3" r="3"/><circle cx="978.4" cy="519.6" r="3"/><circle cx="984.1" cy="528" r="3"/><circle cx="978.5" cy="519.7" r="3"/><circle cx="982.4" cy="523.1" r="3"/><circle cx="979.7" cy="519.1" r="3"/><circle cx="984" cy="524.5" r="3"/><circle cx="983.1" cy="527" r="3"/><circle cx="979.1" cy="518.6" r="3"/><circle cx="991.2" cy="524.7" r="3"/><circle cx="984.4" cy="521.2" r="3"/><circle cx="979.1" cy="525.3" r="3"/><circle cx="987.9" cy="524.1" r="3"/><circle cx="990.9" cy="527.7" r="3"/></g>
<path d="M1010.2 446.3 L1010.3 446.8 L1010.5 447.6 L1010.7 448.4 L1010.9 449.4 L1011.1 450.4 L1011.3 451.5 L1011.5 452.5 L1011.8 453.5 L1012 454.4 L1012.2 455.2 L1012.4 455.9 L1012.7 456.6 L1012.9 457.1 L1013.2 457.7 L1013.5 458.2 L1013.7 458.7 L1013.9 459.2 L1014.1 459.7 L1014.2 460.2 L1014.2 460.8 L1014.2 461.3 L1014 461.7 L1013.8 462.1 L1013.6 462.5 L1013.3 462.9 L1013 463.4 L1012.8 463.9 L1012.5 464.5 L1012.3 465.3 L1012.2 466.3 L1012.1 467.4 L1012 468.7 L1012 470.1 L1012 471.7 L1012 473.3 L1012 475 L1012 476.7 L1012.1 478.3 L1012.1 479.9 L1012.2 481.4 L1012.3 482.9 L1012.4 484.4 L1012.5 485.9 L1012.6 487.3 L1012.7 488.8 L1012.9 490.2 L1013.1 491.6 L1013.2 492.9 L1013.5 494.1 L1013.7 495.2 L1014 496.1 L1014.3 497 L1014.6 497.7 L1015 498.4 L1015.4 499 L1015.7 499.6 L1016.1 500.2 L1016.5 500.8 L1016.9 501.4 L1017.2 502.1 L1017.5 502.7 L1017.8 503.4 L1018.2 504.1 L1018.5 504.8 L1018.8 505.5 L1019.1 506.2 L1019.4 506.9 L1019.7 507.6 L1019.9 508.3 L1020.2 508.9 L1020.5 509.6 L1020.7 510.3 L1021 511 L1021.2 511.7 L1021.5 512.4 L1021.7 513.1 L1021.9 513.8 L1022 514.5 L1022.1 515.1 L1022.2 515.8 L1022.2 516.5 L1022.3 517.2 L1022.2 517.9 L1022.2 518.6 L1022.1 519.3 L1022 520 L1021.9 520.6 L1021.7 521.3 L1021.5 522 L1021.2 522.7 L1020.9 523.4 L1020.4 524.1 L1019.9 524.8 L1019.4 525.5 L1018.9 526.2 L1018.3 526.8 L1017.7 527.5 L1017.2 528.2 L1016.7 528.9 L1016.2 529.6 L1015.8 530.3 L1015.4 531 L1015 531.7 L1014.6 532.4 L1014.3 533.1 L1014 533.8 L1013.6 534.5 L1013.3 535.2 L1013 535.8 L1012.7 536.5 L1012.4 537.2 L1012.1 537.9 L1011.8 538.6 L1011.5 539.3 L1011.2 540 L1011 540.7 L1010.7 541.3 L1010.5 541.8 L1010.3 542.3 L1010.2 542.7 L1010.2 542.7 L1010.1 542.3 L1009.9 541.8 L1009.7 541.3 L1009.4 540.7 L1009.2 540 L1008.9 539.3 L1008.6 538.6 L1008.3 537.9 L1008 537.2 L1007.7 536.5 L1007.4 535.8 L1007.1 535.2 L1006.8 534.5 L1006.4 533.8 L1006.1 533.1 L1005.8 532.4 L1005.4 531.7 L1005 531 L1004.6 530.3 L1004.2 529.6 L1003.7 528.9 L1003.2 528.2 L1002.7 527.5 L1002.1 526.8 L1001.5 526.2 L1001 525.5 L1000.5 524.8 L1000 524.1 L999.5 523.4 L999.2 522.7 L998.9 522 L998.7 521.3 L998.5 520.6 L998.4 520 L998.3 519.3 L998.2 518.6 L998.2 517.9 L998.1 517.2 L998.2 516.5 L998.2 515.8 L998.3 515.1 L998.4 514.5 L998.5 513.8 L998.7 513.1 L999 512.4 L999.2 511.7 L999.4 511 L999.7 510.3 L999.9 509.6 L1000.2 508.9 L1000.5 508.3 L1000.7 507.6 L1001 506.9 L1001.3 506.2 L1001.6 505.5 L1001.9 504.8 L1002.2 504.1 L1002.6 503.4 L1002.9 502.7 L1003.2 502.1 L1003.5 501.4 L1003.9 500.8 L1004.3 500.2 L1004.7 499.6 L1005 499 L1005.4 498.4 L1005.8 497.7 L1006.1 497 L1006.4 496.1 L1006.7 495.2 L1006.9 494.1 L1007.2 492.9 L1007.3 491.6 L1007.5 490.2 L1007.7 488.8 L1007.8 487.3 L1007.9 485.9 L1008 484.4 L1008.1 482.9 L1008.2 481.4 L1008.3 479.9 L1008.3 478.3 L1008.4 476.7 L1008.4 475 L1008.4 473.3 L1008.4 471.7 L1008.4 470.1 L1008.4 468.7 L1008.3 467.4 L1008.2 466.3 L1008.1 465.3 L1007.9 464.5 L1007.6 463.9 L1007.4 463.4 L1007.1 462.9 L1006.8 462.5 L1006.6 462.1 L1006.4 461.7 L1006.2 461.3 L1006.2 460.8 L1006.2 460.2 L1006.3 459.7 L1006.5 459.2 L1006.7 458.7 L1007 458.2 L1007.2 457.7 L1007.5 457.1 L1007.7 456.6 L1008 455.9 L1008.2 455.2 L1008.4 454.4 L1008.6 453.5 L1008.9 452.5 L1009.1 451.5 L1009.3 450.4 L1009.5 449.4 L1009.7 448.4 L1009.9 447.6 L1010.1 446.8 L1010.2 446.3 Z" fill="#fff" stroke="#8fbdf5" stroke-width="2.2" stroke-linejoin="round"/>
<line x1="1001" y1="506.9" x2="1019.4" y2="506.9" stroke="#8fbdf5" stroke-width="1.3" stroke-dasharray="1.6 1.6"/>
<line x1="998.4" y1="514.5" x2="1022" y2="514.5" stroke="#8fbdf5" stroke-width="1.3" stroke-dasharray="1.6 1.6"/>
<line x1="998.5" y1="520.6" x2="1021.9" y2="520.6" stroke="#8fbdf5" stroke-width="1.3" stroke-dasharray="1.6 1.6"/>
<g fill="#fff" fill-opacity="1" stroke="#8fbdf5" stroke-width="1.7"><circle cx="1015.8" cy="527.7" r="3"/><circle cx="1016.2" cy="506.5" r="3"/><circle cx="1004" cy="510.7" r="3"/><circle cx="1007.8" cy="531" r="3"/><circle cx="1010.3" cy="499.3" r="3"/><circle cx="1012" cy="521.6" r="3"/><circle cx="1005.5" cy="502.2" r="3"/><circle cx="1012.7" cy="516.2" r="3"/><circle cx="1008.5" cy="528.4" r="3"/><circle cx="1006.2" cy="514.4" r="3"/><circle cx="1013.4" cy="508.6" r="3"/><circle cx="1013.9" cy="507.7" r="3"/><circle cx="999.9" cy="516.9" r="3"/><circle cx="1008.1" cy="506.9" r="3"/><circle cx="1014.8" cy="526.8" r="3"/><circle cx="1017.7" cy="511.4" r="3"/><circle cx="1014" cy="509.9" r="3"/><circle cx="1007.8" cy="510" r="3"/><circle cx="1002.7" cy="523.1" r="3"/><circle cx="1008.6" cy="459" r="3"/><circle cx="1010.9" cy="518.7" r="3"/><circle cx="1003.6" cy="510.1" r="3"/><circle cx="1005.6" cy="512.2" r="3"/><circle cx="1010.2" cy="535.8" r="3"/></g>
<path d="M1038 409.8 L1038.1 410.5 L1038.3 411.5 L1038.5 412.7 L1038.7 413.9 L1038.9 415.3 L1039.1 416.7 L1039.4 418.2 L1039.6 419.6 L1039.8 421 L1040 422.2 L1040.2 423.4 L1040.4 424.5 L1040.6 425.6 L1040.8 426.7 L1041 427.8 L1041.1 428.9 L1041.3 429.9 L1041.4 431 L1041.5 432.1 L1041.5 433.2 L1041.5 434.3 L1041.4 435.3 L1041.2 436.3 L1041 437.4 L1040.8 438.4 L1040.6 439.4 L1040.4 440.5 L1040.2 441.7 L1040.1 442.9 L1040 444.2 L1040 445.7 L1040.1 447.2 L1040.2 448.8 L1040.3 450.4 L1040.5 452.1 L1040.6 453.9 L1040.8 455.6 L1040.9 457.4 L1041 459.1 L1041 460.8 L1041 462.4 L1040.9 464.1 L1040.8 465.7 L1040.6 467.4 L1040.5 469 L1040.3 470.7 L1040.2 472.3 L1040.1 474 L1040 475.6 L1040 477.3 L1040 479 L1040.1 480.7 L1040.2 482.5 L1040.4 484.3 L1040.5 486.1 L1040.7 487.8 L1040.9 489.4 L1041.1 491 L1041.3 492.5 L1041.5 493.8 L1041.7 495 L1041.9 496 L1042.1 496.8 L1042.4 497.6 L1042.6 498.4 L1042.8 499.1 L1043.1 499.7 L1043.4 500.5 L1043.7 501.2 L1044 502.1 L1044.3 503 L1044.7 503.9 L1045.1 504.9 L1045.6 505.9 L1046 506.9 L1046.4 507.9 L1046.9 508.9 L1047.3 509.8 L1047.7 510.8 L1048 511.7 L1048.3 512.6 L1048.7 513.5 L1049 514.3 L1049.3 515.2 L1049.7 516 L1049.9 516.8 L1050.2 517.6 L1050.3 518.4 L1050.5 519.2 L1050.5 520 L1050.5 520.7 L1050.4 521.4 L1050.2 522.1 L1050 522.8 L1049.8 523.5 L1049.5 524.2 L1049.2 524.8 L1048.8 525.5 L1048.4 526.2 L1048 526.8 L1047.5 527.5 L1047 528.2 L1046.3 528.9 L1045.7 529.6 L1045 530.3 L1044.3 531 L1043.6 531.7 L1043 532.4 L1042.5 533 L1042 533.7 L1041.6 534.4 L1041.3 535.1 L1041.1 535.7 L1040.9 536.4 L1040.8 537 L1040.6 537.7 L1040.5 538.4 L1040.3 539.1 L1040.2 539.8 L1040 540.6 L1039.8 541.5 L1039.6 542.4 L1039.3 543.4 L1039.1 544.5 L1038.9 545.5 L1038.7 546.5 L1038.5 547.5 L1038.3 548.3 L1038.1 549 L1038 549.6 L1038 549.6 L1037.9 549 L1037.7 548.3 L1037.5 547.5 L1037.3 546.5 L1037.1 545.5 L1036.9 544.5 L1036.7 543.4 L1036.4 542.4 L1036.2 541.5 L1036 540.6 L1035.8 539.8 L1035.7 539.1 L1035.5 538.4 L1035.4 537.7 L1035.2 537 L1035.1 536.4 L1034.9 535.7 L1034.7 535.1 L1034.4 534.4 L1034 533.7 L1033.5 533 L1033 532.4 L1032.4 531.7 L1031.7 531 L1031 530.3 L1030.3 529.6 L1029.7 528.9 L1029 528.2 L1028.5 527.5 L1028 526.8 L1027.6 526.2 L1027.2 525.5 L1026.8 524.8 L1026.5 524.2 L1026.2 523.5 L1026 522.8 L1025.8 522.1 L1025.6 521.4 L1025.5 520.7 L1025.5 520 L1025.5 519.2 L1025.7 518.4 L1025.8 517.6 L1026.1 516.8 L1026.3 516 L1026.7 515.2 L1027 514.3 L1027.3 513.5 L1027.7 512.6 L1028 511.7 L1028.3 510.8 L1028.7 509.8 L1029.1 508.9 L1029.6 507.9 L1030 506.9 L1030.4 505.9 L1030.9 504.9 L1031.3 503.9 L1031.7 503 L1032 502.1 L1032.3 501.2 L1032.6 500.5 L1032.9 499.7 L1033.2 499.1 L1033.4 498.4 L1033.6 497.6 L1033.9 496.8 L1034.1 496 L1034.3 495 L1034.5 493.8 L1034.7 492.5 L1034.9 491 L1035.1 489.4 L1035.3 487.8 L1035.5 486.1 L1035.6 484.3 L1035.8 482.5 L1035.9 480.7 L1036 479 L1036 477.3 L1036 475.6 L1035.9 474 L1035.8 472.3 L1035.7 470.7 L1035.5 469 L1035.4 467.4 L1035.2 465.7 L1035.1 464.1 L1035 462.4 L1035 460.8 L1035 459.1 L1035.1 457.4 L1035.2 455.6 L1035.4 453.9 L1035.5 452.1 L1035.7 450.4 L1035.8 448.8 L1035.9 447.2 L1036 445.7 L1036 444.2 L1035.9 442.9 L1035.8 441.7 L1035.6 440.5 L1035.4 439.4 L1035.2 438.4 L1035 437.4 L1034.8 436.3 L1034.6 435.3 L1034.5 434.3 L1034.5 433.2 L1034.5 432.1 L1034.6 431 L1034.7 429.9 L1034.9 428.9 L1035 427.8 L1035.2 426.7 L1035.4 425.6 L1035.6 424.5 L1035.8 423.4 L1036 422.2 L1036.2 421 L1036.4 419.6 L1036.6 418.2 L1036.9 416.7 L1037.1 415.3 L1037.3 413.9 L1037.5 412.7 L1037.7 411.5 L1037.9 410.5 L1038 409.8 Z" fill="#fff" stroke="#fcba7e" stroke-width="2" stroke-linejoin="round"/>
<line x1="1031.3" y1="503.9" x2="1044.7" y2="503.9" stroke="#fcba7e" stroke-width="1.3" stroke-dasharray="1.6 1.6"/>
<line x1="1026.7" y1="515.2" x2="1049.3" y2="515.2" stroke="#fcba7e" stroke-width="1.3" stroke-dasharray="1.6 1.6"/>
<line x1="1025.8" y1="522.1" x2="1050.2" y2="522.1" stroke="#fcba7e" stroke-width="1.3" stroke-dasharray="1.6 1.6"/>
<g fill="#fff" fill-opacity="1" stroke="#fcba7e" stroke-width="1.2"><circle cx="1045.6" cy="513.7" r="2.9"/><circle cx="1042.8" cy="514.4" r="2.9"/><circle cx="1038" cy="450.8" r="2.9"/><circle cx="1038" cy="451.5" r="2.9"/><circle cx="1032.8" cy="525.2" r="2.9"/><circle cx="1034.8" cy="525.4" r="2.9"/><circle cx="1044" cy="506.6" r="2.9"/><circle cx="1041.2" cy="528.1" r="2.9"/><circle cx="1037.3" cy="502.6" r="2.9"/><circle cx="1031.5" cy="519.6" r="2.9"/><circle cx="1035.3" cy="526.9" r="2.9"/><circle cx="1032.1" cy="509.8" r="2.9"/><circle cx="1040.4" cy="518.4" r="2.9"/><circle cx="1037.2" cy="529.2" r="2.9"/><circle cx="1035.5" cy="511.1" r="2.9"/><circle cx="1038" cy="452.1" r="2.9"/><circle cx="1038.7" cy="521.9" r="2.9"/><circle cx="1041.2" cy="499.2" r="2.9"/><circle cx="1042.8" cy="524.5" r="2.9"/><circle cx="1036.7" cy="531" r="2.9"/></g>
<line x1="955.9" y1="394.8" x2="1036.8" y2="394.8" stroke="#000" stroke-width="2.2"/>
<text x="997.7" y="398.3" font-size="20" text-anchor="middle" font-weight="bold">*</text>
<line x1="983.6" y1="407.1" x2="1036.8" y2="407.1" stroke="#000" stroke-width="2.2"/>
<text x="1010.2" y="410.6" font-size="20" text-anchor="middle" font-weight="bold">*</text>
<line x1="983.6" y1="431.3" x2="1009.5" y2="431.3" stroke="#000" stroke-width="2.2"/>
<text x="995.7" y="434.8" font-size="20" text-anchor="middle" font-weight="bold">*</text>
<line x1="955.9" y1="443.1" x2="1009.5" y2="443.1" stroke="#000" stroke-width="2.2"/>
<text x="983.2" y="446.6" font-size="20" text-anchor="middle" font-weight="bold">*</text>
<text font-size="36.9" stroke="#000" stroke-width="0.7" transform="translate(662.3 597.2) scale(0.9962 1)">K</text>
<line x1="730.1" y1="588.7" x2="730.1" y2="757.2" stroke="#000" stroke-width="2.2"/>
<line x1="723.6" y1="589.7" x2="730.1" y2="589.7" stroke="#000" stroke-width="2.2"/>
<line x1="723.6" y1="631.3" x2="730.1" y2="631.3" stroke="#000" stroke-width="2.2"/>
<line x1="723.6" y1="673" x2="730.1" y2="673" stroke="#000" stroke-width="2.2"/>
<line x1="723.6" y1="714.6" x2="730.1" y2="714.6" stroke="#000" stroke-width="2.2"/>
<line x1="723.6" y1="756.2" x2="730.1" y2="756.2" stroke="#000" stroke-width="2.2"/>
<text x="721.1" y="596" font-size="17.5" text-anchor="end" textLength="27.6" lengthAdjust="spacingAndGlyphs" stroke="#000" stroke-width="0.5">120</text>
<text x="721.1" y="637.6" font-size="17.5" text-anchor="end" textLength="27.6" lengthAdjust="spacingAndGlyphs" stroke="#000" stroke-width="0.5">100</text>
<text x="721.1" y="679.3" font-size="17.5" text-anchor="end" textLength="18.4" lengthAdjust="spacingAndGlyphs" stroke="#000" stroke-width="0.5">80</text>
<text x="721.1" y="720.9" font-size="17.5" text-anchor="end" textLength="18.4" lengthAdjust="spacingAndGlyphs" stroke="#000" stroke-width="0.5">60</text>
<text x="721.1" y="762.5" font-size="17.5" text-anchor="end" textLength="18.4" lengthAdjust="spacingAndGlyphs" stroke="#000" stroke-width="0.5">40</text>
<text font-size="18.2" stroke="#000" stroke-width="0.5" transform="translate(686.4 762) rotate(-90) scale(0.8482 1)">Action Pot. Amp. (mV)</text>
<path d="M753.8 619.3 L754 620 L754.2 620.9 L754.5 622.1 L754.8 623.3 L755.1 624.7 L755.5 626.1 L755.8 627.5 L756.2 628.8 L756.5 630.1 L756.8 631.3 L757.1 632.4 L757.4 633.5 L757.7 634.6 L758 635.6 L758.3 636.6 L758.6 637.7 L758.9 638.7 L759.2 639.7 L759.5 640.7 L759.8 641.7 L760.1 642.8 L760.4 643.8 L760.7 644.9 L761 645.9 L761.3 646.9 L761.6 648 L761.9 649 L762.2 650.1 L762.5 651.1 L762.8 652.2 L763.1 653.2 L763.4 654.2 L763.8 655.3 L764.1 656.3 L764.5 657.4 L764.8 658.4 L765.1 659.4 L765.4 660.5 L765.6 661.5 L765.8 662.6 L765.9 663.6 L766 664.6 L766.1 665.7 L766.1 666.7 L766.1 667.8 L766.1 668.8 L766 669.8 L766 670.9 L765.9 671.9 L765.8 673 L765.7 674 L765.6 675 L765.4 676.1 L765.2 677.1 L765 678.2 L764.8 679.2 L764.6 680.2 L764.4 681.3 L764.1 682.3 L763.8 683.4 L763.5 684.4 L763.1 685.5 L762.7 686.6 L762.3 687.6 L761.9 688.7 L761.4 689.8 L761 690.8 L760.6 691.8 L760.2 692.8 L759.8 693.8 L759.5 694.7 L759.1 695.6 L758.8 696.4 L758.4 697.2 L758.1 698.1 L757.8 698.9 L757.5 699.7 L757.3 700.5 L757 701.3 L756.8 702.1 L756.6 702.9 L756.4 703.8 L756.3 704.6 L756.2 705.4 L756 706.3 L756 707.1 L755.9 707.9 L755.8 708.8 L755.8 709.6 L755.8 710.4 L755.8 711.3 L755.9 712.1 L756 712.9 L756.2 713.7 L756.3 714.6 L756.5 715.4 L756.6 716.2 L756.7 717.1 L756.8 717.9 L756.8 718.7 L756.8 719.6 L756.7 720.4 L756.5 721.2 L756.4 722 L756.2 722.8 L756 723.7 L755.8 724.5 L755.6 725.3 L755.5 726.2 L755.3 727.1 L755.1 728 L755 729 L754.8 730.1 L754.6 731.2 L754.5 732.3 L754.3 733.3 L754.1 734.3 L754 735.1 L753.9 735.9 L753.8 736.4 L753.8 736.4 L753.7 735.9 L753.6 735.1 L753.5 734.3 L753.3 733.3 L753.1 732.3 L753 731.2 L752.8 730.1 L752.6 729 L752.5 728 L752.3 727.1 L752.1 726.2 L752 725.3 L751.8 724.5 L751.6 723.7 L751.4 722.8 L751.2 722 L751.1 721.2 L750.9 720.4 L750.8 719.6 L750.8 718.7 L750.8 717.9 L750.9 717.1 L751 716.2 L751.1 715.4 L751.3 714.6 L751.4 713.7 L751.6 712.9 L751.7 712.1 L751.8 711.3 L751.8 710.4 L751.8 709.6 L751.8 708.8 L751.7 707.9 L751.6 707.1 L751.5 706.3 L751.4 705.4 L751.3 704.6 L751.2 703.8 L751 702.9 L750.8 702.1 L750.6 701.3 L750.3 700.5 L750.1 699.7 L749.8 698.9 L749.5 698.1 L749.2 697.2 L748.8 696.4 L748.5 695.6 L748.1 694.7 L747.8 693.8 L747.4 692.8 L747 691.8 L746.6 690.8 L746.2 689.8 L745.7 688.7 L745.3 687.6 L744.9 686.6 L744.5 685.5 L744.1 684.4 L743.8 683.4 L743.5 682.3 L743.2 681.3 L743 680.2 L742.8 679.2 L742.5 678.2 L742.4 677.1 L742.2 676.1 L742 675 L741.9 674 L741.8 673 L741.7 671.9 L741.6 670.9 L741.6 669.8 L741.5 668.8 L741.5 667.8 L741.5 666.7 L741.5 665.7 L741.6 664.6 L741.7 663.6 L741.8 662.6 L742 661.5 L742.2 660.5 L742.5 659.4 L742.8 658.4 L743.1 657.4 L743.5 656.3 L743.8 655.3 L744.2 654.2 L744.5 653.2 L744.8 652.2 L745.1 651.1 L745.4 650.1 L745.7 649 L746 648 L746.3 646.9 L746.6 645.9 L746.9 644.9 L747.2 643.8 L747.5 642.8 L747.8 641.7 L748.1 640.7 L748.4 639.7 L748.7 638.7 L749 637.7 L749.3 636.6 L749.6 635.6 L749.9 634.6 L750.2 633.5 L750.5 632.4 L750.8 631.3 L751.1 630.1 L751.4 628.8 L751.8 627.5 L752.1 626.1 L752.5 624.7 L752.8 623.3 L753.1 622.1 L753.4 620.9 L753.6 620 L753.8 619.3 Z" fill="#fff" stroke="#168aa0" stroke-width="2.6" stroke-linejoin="round"/>
<line x1="743.1" y1="657.4" x2="764.5" y2="657.4" stroke="#168aa0" stroke-width="1.3" stroke-dasharray="1.6 1.6"/>
<line x1="741.5" y1="667.8" x2="766.1" y2="667.8" stroke="#168aa0" stroke-width="1.3" stroke-dasharray="1.6 1.6"/>
<line x1="742.8" y1="679.2" x2="764.8" y2="679.2" stroke="#168aa0" stroke-width="1.3" stroke-dasharray="1.6 1.6"/>
<g fill="#168aa0" fill-opacity="0.35" stroke="#168aa0" stroke-width="2.1"><circle cx="753.3" cy="691.1" r="3"/><circle cx="748.8" cy="651.1" r="3"/><circle cx="758.1" cy="676.7" r="3"/><circle cx="751.6" cy="665" r="3"/><circle cx="751.5" cy="644.2" r="3"/><circle cx="746.6" cy="681.7" r="3"/><circle cx="757.1" cy="638" r="3"/><circle cx="755.5" cy="637.1" r="3"/><circle cx="759.1" cy="649.9" r="3"/><circle cx="761.1" cy="683.5" r="3"/><circle cx="759.2" cy="657.1" r="3"/><circle cx="759.7" cy="669.6" r="3"/><circle cx="761.9" cy="682.6" r="3"/><circle cx="745.9" cy="673.3" r="3"/><circle cx="759.6" cy="685.5" r="3"/><circle cx="751.7" cy="675.8" r="3"/><circle cx="757.9" cy="652.1" r="3"/><circle cx="746.4" cy="670.7" r="3"/><circle cx="758.6" cy="647.2" r="3"/><circle cx="747.1" cy="662.7" r="3"/><circle cx="760.3" cy="650" r="3"/><circle cx="751" cy="643.5" r="3"/><circle cx="757.6" cy="685.8" r="3"/><circle cx="753.1" cy="642.3" r="3"/><circle cx="753.3" cy="650" r="3"/><circle cx="750.3" cy="679.4" r="3"/><circle cx="760.1" cy="688.2" r="3"/><circle cx="750.7" cy="677.1" r="3"/><circle cx="744.1" cy="669.7" r="3"/><circle cx="748.2" cy="669.9" r="3"/><circle cx="744.6" cy="664.9" r="3"/><circle cx="757.9" cy="645.6" r="3"/><circle cx="758.6" cy="673.3" r="3"/><circle cx="754.3" cy="638.4" r="3"/><circle cx="745.8" cy="669.4" r="3"/><circle cx="752.7" cy="667.3" r="3"/><circle cx="756.1" cy="669.2" r="3"/><circle cx="748.6" cy="663.5" r="3"/><circle cx="760.5" cy="681.9" r="3"/><circle cx="762.9" cy="680.7" r="3"/><circle cx="750.6" cy="683.5" r="3"/><circle cx="754.3" cy="657.8" r="3"/><circle cx="750.9" cy="669.7" r="3"/><circle cx="756.6" cy="686" r="3"/><circle cx="750.1" cy="650.8" r="3"/><circle cx="759.6" cy="677.5" r="3"/><circle cx="759.3" cy="680.3" r="3"/><circle cx="758.4" cy="672.1" r="3"/></g>
<path d="M781.8 623 L782 623.8 L782.2 624.7 L782.5 625.8 L782.8 627.1 L783.1 628.5 L783.5 629.9 L783.8 631.4 L784.2 632.8 L784.5 634.2 L784.8 635.5 L785.1 636.8 L785.4 638 L785.7 639.2 L786 640.5 L786.2 641.7 L786.5 643 L786.8 644.2 L787.1 645.5 L787.5 646.7 L787.8 648 L788.2 649.3 L788.6 650.6 L789 651.9 L789.4 653.3 L789.9 654.6 L790.3 655.9 L790.7 657.2 L791.1 658.4 L791.5 659.5 L791.8 660.5 L792.1 661.3 L792.4 662.1 L792.7 662.7 L793 663.2 L793.3 663.7 L793.5 664.2 L793.7 664.7 L793.8 665.3 L793.9 666 L793.8 666.7 L793.6 667.6 L793.4 668.5 L793 669.5 L792.6 670.5 L792.1 671.5 L791.6 672.6 L791.1 673.7 L790.6 674.8 L790.2 676 L789.8 677.1 L789.5 678.3 L789.1 679.5 L788.8 680.7 L788.5 682 L788.2 683.2 L787.9 684.5 L787.6 685.8 L787.3 687.1 L787.1 688.4 L786.8 689.6 L786.6 690.9 L786.3 692.1 L786.1 693.4 L785.9 694.6 L785.7 695.9 L785.5 697.1 L785.3 698.3 L785.1 699.6 L785 700.8 L784.8 702.1 L784.7 703.4 L784.6 704.6 L784.5 705.9 L784.4 707.2 L784.3 708.5 L784.2 709.8 L784.1 711.1 L784 712.3 L783.9 713.5 L783.8 714.6 L783.6 715.7 L783.4 716.8 L783.2 717.9 L783 719 L782.7 720 L782.5 721 L782.3 721.9 L782.1 722.7 L781.9 723.4 L781.8 723.9 L781.8 723.9 L781.7 723.4 L781.5 722.7 L781.3 721.9 L781.1 721 L780.9 720 L780.6 719 L780.4 717.9 L780.2 716.8 L780 715.7 L779.8 714.6 L779.7 713.5 L779.6 712.3 L779.5 711.1 L779.4 709.8 L779.3 708.5 L779.2 707.2 L779.1 705.9 L779 704.6 L778.9 703.4 L778.8 702.1 L778.6 700.8 L778.5 699.6 L778.3 698.3 L778.1 697.1 L777.9 695.9 L777.7 694.6 L777.5 693.4 L777.3 692.1 L777 690.9 L776.8 689.6 L776.5 688.4 L776.3 687.1 L776 685.8 L775.7 684.5 L775.4 683.2 L775.1 682 L774.8 680.7 L774.5 679.5 L774.1 678.3 L773.8 677.1 L773.4 676 L773 674.8 L772.5 673.7 L772 672.6 L771.5 671.5 L771 670.5 L770.6 669.5 L770.2 668.5 L770 667.6 L769.8 666.7 L769.7 666 L769.8 665.3 L769.9 664.7 L770.1 664.2 L770.3 663.7 L770.6 663.2 L770.9 662.7 L771.2 662.1 L771.5 661.3 L771.8 660.5 L772.1 659.5 L772.5 658.4 L772.9 657.2 L773.3 655.9 L773.7 654.6 L774.2 653.3 L774.6 651.9 L775 650.6 L775.4 649.3 L775.8 648 L776.1 646.7 L776.5 645.5 L776.8 644.2 L777.1 643 L777.4 641.7 L777.6 640.5 L777.9 639.2 L778.2 638 L778.5 636.8 L778.8 635.5 L779.1 634.2 L779.4 632.8 L779.8 631.4 L780.1 629.9 L780.5 628.5 L780.8 627.1 L781.1 625.8 L781.4 624.7 L781.6 623.8 L781.8 623 Z" fill="#fff" stroke="#f8841f" stroke-width="2.6" stroke-linejoin="round"/>
<line x1="772.9" y1="657.2" x2="790.7" y2="657.2" stroke="#f8841f" stroke-width="1.3" stroke-dasharray="1.6 1.6"/>
<line x1="769.8" y1="666.7" x2="793.8" y2="666.7" stroke="#f8841f" stroke-width="1.3" stroke-dasharray="1.6 1.6"/>
<line x1="773.4" y1="676" x2="790.2" y2="676" stroke="#f8841f" stroke-width="1.3" stroke-dasharray="1.6 1.6"/>
<g fill="#f8841f" fill-opacity="0.2" stroke="#f8841f" stroke-width="1.9"><circle cx="772.9" cy="661.8" r="3"/><circle cx="781.8" cy="708.3" r="3"/><circle cx="781.8" cy="718.2" r="3"/><circle cx="777.8" cy="654.7" r="3"/><circle cx="781.2" cy="638.9" r="3"/><circle cx="780.1" cy="680.4" r="3"/><circle cx="775.9" cy="653.7" r="3"/><circle cx="775.7" cy="671.7" r="3"/><circle cx="785.5" cy="686.4" r="3"/><circle cx="781.8" cy="706.8" r="3"/><circle cx="778" cy="657.4" r="3"/><circle cx="778.9" cy="675.4" r="3"/><circle cx="781.4" cy="637.2" r="3"/><circle cx="780.2" cy="645.8" r="3"/><circle cx="783.2" cy="664.5" r="3"/><circle cx="777.7" cy="682.3" r="3"/><circle cx="783.1" cy="660.7" r="3"/><circle cx="773.3" cy="666.2" r="3"/><circle cx="783.4" cy="676.7" r="3"/><circle cx="774.9" cy="674.7" r="3"/><circle cx="784.5" cy="655.2" r="3"/><circle cx="777.8" cy="667.2" r="3"/><circle cx="789.3" cy="658.2" r="3"/><circle cx="774.1" cy="667.1" r="3"/><circle cx="784.2" cy="669.7" r="3"/><circle cx="787.9" cy="659.9" r="3"/><circle cx="778.7" cy="660.9" r="3"/><circle cx="781.6" cy="666.6" r="3"/><circle cx="781.6" cy="700.1" r="3"/><circle cx="784.9" cy="671" r="3"/><circle cx="780.5" cy="659.5" r="3"/><circle cx="782.5" cy="644.6" r="3"/><circle cx="784.6" cy="673.6" r="3"/><circle cx="781.3" cy="667.9" r="3"/><circle cx="782.4" cy="659.6" r="3"/><circle cx="786.2" cy="670.8" r="3"/><circle cx="789" cy="667.9" r="3"/><circle cx="781" cy="638.3" r="3"/><circle cx="790.2" cy="671.8" r="3"/><circle cx="781.5" cy="649.9" r="3"/><circle cx="776.9" cy="675.1" r="3"/><circle cx="782.9" cy="675.7" r="3"/><circle cx="781.4" cy="688.8" r="3"/><circle cx="788.7" cy="666.8" r="3"/><circle cx="784.7" cy="644.3" r="3"/><circle cx="790" cy="665.4" r="3"/><circle cx="775.2" cy="655.2" r="3"/><circle cx="784.2" cy="652.6" r="3"/></g>
<path d="M809.5 613.9 L809.6 614.4 L809.8 615.1 L810 616 L810.3 616.9 L810.5 617.9 L810.8 619 L811.1 620 L811.4 621.1 L811.7 622.1 L812 623 L812.3 623.9 L812.6 624.8 L813 625.6 L813.3 626.5 L813.7 627.4 L814 628.2 L814.4 629 L814.8 629.8 L815.1 630.6 L815.5 631.3 L815.9 632 L816.3 632.7 L816.7 633.4 L817.2 634 L817.6 634.6 L818 635.2 L818.4 635.8 L818.8 636.4 L819.2 637 L819.5 637.6 L819.8 638.2 L820.1 638.8 L820.4 639.4 L820.7 640 L821 640.6 L821.2 641.2 L821.4 641.8 L821.5 642.4 L821.6 643.1 L821.5 643.8 L821.3 644.6 L821.1 645.4 L820.7 646.2 L820.3 647 L819.8 647.9 L819.3 648.7 L818.8 649.6 L818.3 650.5 L817.9 651.3 L817.5 652.2 L817.2 653 L816.8 653.7 L816.5 654.5 L816.2 655.3 L815.9 656.1 L815.6 656.8 L815.3 657.7 L815.1 658.5 L814.8 659.5 L814.5 660.5 L814.2 661.5 L813.9 662.6 L813.6 663.8 L813.3 665 L813 666.2 L812.8 667.5 L812.5 668.8 L812.3 670.1 L812.1 671.5 L812 673 L811.9 674.5 L811.9 676.2 L812 677.9 L812.1 679.7 L812.2 681.5 L812.3 683.3 L812.4 685.1 L812.5 686.7 L812.5 688.3 L812.5 689.6 L812.4 690.8 L812.3 691.8 L812.2 692.7 L812 693.6 L811.9 694.4 L811.7 695.1 L811.5 695.8 L811.3 696.5 L811.2 697.2 L811 697.9 L810.8 698.7 L810.7 699.6 L810.5 700.4 L810.3 701.3 L810.2 702.1 L810 702.9 L809.8 703.6 L809.7 704.2 L809.6 704.8 L809.5 705.2 L809.5 705.2 L809.4 704.8 L809.3 704.2 L809.2 703.6 L809 702.9 L808.8 702.1 L808.7 701.3 L808.5 700.4 L808.3 699.6 L808.2 698.7 L808 697.9 L807.8 697.2 L807.7 696.5 L807.5 695.8 L807.3 695.1 L807.1 694.4 L807 693.6 L806.8 692.7 L806.7 691.8 L806.6 690.8 L806.5 689.6 L806.5 688.3 L806.5 686.7 L806.6 685.1 L806.7 683.3 L806.8 681.5 L806.9 679.7 L807 677.9 L807.1 676.2 L807.1 674.5 L807 673 L806.9 671.5 L806.7 670.1 L806.5 668.8 L806.2 667.5 L806 666.2 L805.7 665 L805.4 663.8 L805.1 662.6 L804.8 661.5 L804.5 660.5 L804.2 659.5 L803.9 658.5 L803.7 657.7 L803.4 656.8 L803.1 656.1 L802.8 655.3 L802.5 654.5 L802.2 653.7 L801.8 653 L801.5 652.2 L801.1 651.3 L800.7 650.5 L800.2 649.6 L799.7 648.7 L799.2 647.9 L798.7 647 L798.3 646.2 L797.9 645.4 L797.7 644.6 L797.5 643.8 L797.4 643.1 L797.5 642.4 L797.6 641.8 L797.8 641.2 L798 640.6 L798.3 640 L798.6 639.4 L798.9 638.8 L799.2 638.2 L799.5 637.6 L799.8 637 L800.2 636.4 L800.6 635.8 L801 635.2 L801.4 634.6 L801.8 634 L802.3 633.4 L802.7 632.7 L803.1 632 L803.5 631.3 L803.9 630.6 L804.2 629.8 L804.6 629 L805 628.2 L805.3 627.4 L805.7 626.5 L806 625.6 L806.4 624.8 L806.7 623.9 L807 623 L807.3 622.1 L807.6 621.1 L807.9 620 L808.2 619 L808.5 617.9 L808.7 616.9 L809 616 L809.2 615.1 L809.4 614.4 L809.5 613.9 Z" fill="#fff" stroke="#8fbdf5" stroke-width="2.2" stroke-linejoin="round"/>
<line x1="798.9" y1="638.8" x2="820.1" y2="638.8" stroke="#8fbdf5" stroke-width="1.3" stroke-dasharray="1.6 1.6"/>
<line x1="797.7" y1="644.6" x2="821.3" y2="644.6" stroke="#8fbdf5" stroke-width="1.3" stroke-dasharray="1.6 1.6"/>
<line x1="801.5" y1="652.2" x2="817.5" y2="652.2" stroke="#8fbdf5" stroke-width="1.3" stroke-dasharray="1.6 1.6"/>
<g fill="#fff" fill-opacity="1" stroke="#8fbdf5" stroke-width="1.7"><circle cx="814.1" cy="631.8" r="3"/><circle cx="806.9" cy="641.5" r="3"/><circle cx="810.7" cy="652.7" r="3"/><circle cx="809.5" cy="690.4" r="3"/><circle cx="812.3" cy="641.4" r="3"/><circle cx="814.3" cy="649.8" r="3"/><circle cx="800.9" cy="643.7" r="3"/><circle cx="807.8" cy="640.6" r="3"/><circle cx="804.3" cy="639" r="3"/><circle cx="808.4" cy="660.1" r="3"/><circle cx="818.6" cy="644.7" r="3"/><circle cx="808.2" cy="666.9" r="3"/><circle cx="809.5" cy="681.9" r="3"/><circle cx="808.5" cy="630.1" r="3"/><circle cx="806" cy="658.7" r="3"/><circle cx="812.9" cy="643.1" r="3"/><circle cx="818.5" cy="644.5" r="3"/><circle cx="809.5" cy="638.7" r="3"/><circle cx="809.5" cy="681.7" r="3"/><circle cx="800.2" cy="643.8" r="3"/><circle cx="806.8" cy="640.2" r="3"/><circle cx="809.5" cy="694.5" r="3"/><circle cx="812.9" cy="657.1" r="3"/><circle cx="816.4" cy="635.2" r="3"/><circle cx="808.6" cy="624.5" r="3"/><circle cx="811.9" cy="646.4" r="3"/></g>
<path d="M837.5 611.6 L837.6 612.1 L837.8 612.8 L838 613.7 L838.3 614.6 L838.5 615.6 L838.8 616.7 L839.1 617.8 L839.4 618.8 L839.7 619.9 L840 620.9 L840.3 621.9 L840.6 622.9 L841 624 L841.3 625 L841.7 626.1 L842 627.1 L842.4 628.2 L842.8 629.2 L843.1 630.3 L843.5 631.3 L843.9 632.4 L844.3 633.5 L844.8 634.5 L845.2 635.6 L845.7 636.7 L846.1 637.7 L846.5 638.8 L846.9 639.8 L847.2 640.8 L847.5 641.7 L847.7 642.6 L848 643.5 L848.2 644.3 L848.4 645 L848.5 645.8 L848.6 646.5 L848.7 647.3 L848.7 648.2 L848.6 649.1 L848.5 650.1 L848.3 651.2 L848 652.3 L847.6 653.6 L847.2 654.9 L846.7 656.2 L846.2 657.5 L845.7 658.8 L845.3 660.1 L844.9 661.4 L844.5 662.6 L844.2 663.7 L843.9 664.8 L843.6 665.8 L843.3 666.9 L843.1 667.9 L842.9 668.9 L842.6 669.9 L842.4 670.9 L842.2 671.9 L842 673 L841.8 674 L841.6 675 L841.5 676.1 L841.3 677.1 L841.2 678.2 L841 679.2 L840.9 680.2 L840.8 681.3 L840.6 682.3 L840.5 683.4 L840.4 684.4 L840.3 685.5 L840.2 686.6 L840.1 687.7 L840 688.8 L839.9 689.9 L839.9 691 L839.8 692 L839.6 692.9 L839.5 693.8 L839.3 694.6 L839.1 695.4 L838.9 696.1 L838.7 696.9 L838.4 697.5 L838.2 698.2 L838 698.7 L837.8 699.2 L837.6 699.7 L837.5 700 L837.5 700 L837.4 699.7 L837.2 699.2 L837 698.7 L836.8 698.2 L836.6 697.5 L836.3 696.9 L836.1 696.1 L835.9 695.4 L835.7 694.6 L835.5 693.8 L835.4 692.9 L835.2 692 L835.1 691 L835.1 689.9 L835 688.8 L834.9 687.7 L834.8 686.6 L834.7 685.5 L834.6 684.4 L834.5 683.4 L834.4 682.3 L834.2 681.3 L834.1 680.2 L834 679.2 L833.8 678.2 L833.7 677.1 L833.5 676.1 L833.4 675 L833.2 674 L833 673 L832.8 671.9 L832.6 670.9 L832.4 669.9 L832.1 668.9 L831.9 667.9 L831.7 666.9 L831.4 665.8 L831.1 664.8 L830.8 663.7 L830.5 662.6 L830.1 661.4 L829.7 660.1 L829.3 658.8 L828.8 657.5 L828.3 656.2 L827.8 654.9 L827.4 653.6 L827 652.3 L826.7 651.2 L826.5 650.1 L826.4 649.1 L826.3 648.2 L826.3 647.3 L826.4 646.5 L826.5 645.8 L826.6 645 L826.8 644.3 L827 643.5 L827.3 642.6 L827.5 641.7 L827.8 640.8 L828.1 639.8 L828.5 638.8 L828.9 637.7 L829.3 636.7 L829.8 635.6 L830.2 634.5 L830.7 633.5 L831.1 632.4 L831.5 631.3 L831.9 630.3 L832.2 629.2 L832.6 628.2 L833 627.1 L833.3 626.1 L833.7 625 L834 624 L834.4 622.9 L834.7 621.9 L835 620.9 L835.3 619.9 L835.6 618.8 L835.9 617.8 L836.2 616.7 L836.5 615.6 L836.7 614.6 L837 613.7 L837.2 612.8 L837.4 612.1 L837.5 611.6 Z" fill="#fff" stroke="#fcba7e" stroke-width="2" stroke-linejoin="round"/>
<line x1="827.8" y1="640.8" x2="847.2" y2="640.8" stroke="#fcba7e" stroke-width="1.3" stroke-dasharray="1.6 1.6"/>
<line x1="826.4" y1="649.1" x2="848.6" y2="649.1" stroke="#fcba7e" stroke-width="1.3" stroke-dasharray="1.6 1.6"/>
<line x1="828.8" y1="657.5" x2="846.2" y2="657.5" stroke="#fcba7e" stroke-width="1.3" stroke-dasharray="1.6 1.6"/>
<g fill="#fff" fill-opacity="1" stroke="#fcba7e" stroke-width="1.2"><circle cx="838.6" cy="642.2" r="2.9"/><circle cx="837.3" cy="647.8" r="2.9"/><circle cx="830" cy="649.3" r="2.9"/><circle cx="829.5" cy="641.5" r="2.9"/><circle cx="838.5" cy="644.6" r="2.9"/><circle cx="845.9" cy="647.2" r="2.9"/><circle cx="844.4" cy="651.4" r="2.9"/><circle cx="840.3" cy="665.3" r="2.9"/><circle cx="835.4" cy="668.8" r="2.9"/><circle cx="833.8" cy="640.6" r="2.9"/><circle cx="842" cy="641.8" r="2.9"/><circle cx="839.3" cy="640" r="2.9"/><circle cx="833.1" cy="633.2" r="2.9"/><circle cx="837.5" cy="683.5" r="2.9"/><circle cx="840.9" cy="636.1" r="2.9"/><circle cx="832.5" cy="648.8" r="2.9"/><circle cx="836.6" cy="665" r="2.9"/><circle cx="832.5" cy="661.8" r="2.9"/><circle cx="836.1" cy="656.3" r="2.9"/><circle cx="830.8" cy="644.6" r="2.9"/><circle cx="837.8" cy="672.8" r="2.9"/><circle cx="833.2" cy="643" r="2.9"/></g>
<line x1="754.7" y1="575.3" x2="836.6" y2="575.3" stroke="#000" stroke-width="2.2"/>
<text x="796.2" y="578.8" font-size="20" text-anchor="middle" font-weight="bold">*</text>
<line x1="782.7" y1="588" x2="836.6" y2="588" stroke="#000" stroke-width="2.2"/>
<text x="809.2" y="591.5" font-size="20" text-anchor="middle" font-weight="bold">*</text>
<line x1="782.7" y1="599.5" x2="808.6" y2="599.5" stroke="#000" stroke-width="2.2"/>
<text x="793.6" y="603" font-size="20" text-anchor="middle" font-weight="bold">*</text>
<line x1="754.7" y1="612" x2="808.6" y2="612" stroke="#000" stroke-width="2.2"/>
<text x="782.1" y="615.5" font-size="20" text-anchor="middle" font-weight="bold">*</text>
<text font-size="35.6" stroke="#000" stroke-width="0.7" transform="translate(870.5 596.5) scale(1.0190 1)">L</text>
<line x1="930.5" y1="596.5" x2="930.5" y2="763" stroke="#000" stroke-width="2.2"/>
<line x1="924" y1="597.5" x2="930.5" y2="597.5" stroke="#000" stroke-width="2.2"/>
<line x1="924" y1="630.4" x2="930.5" y2="630.4" stroke="#000" stroke-width="2.2"/>
<line x1="924" y1="663.3" x2="930.5" y2="663.3" stroke="#000" stroke-width="2.2"/>
<line x1="924" y1="696.2" x2="930.5" y2="696.2" stroke="#000" stroke-width="2.2"/>
<line x1="924" y1="729.1" x2="930.5" y2="729.1" stroke="#000" stroke-width="2.2"/>
<line x1="924" y1="762" x2="930.5" y2="762" stroke="#000" stroke-width="2.2"/>
<text x="921.5" y="603.8" font-size="17.5" text-anchor="end" textLength="18.4" lengthAdjust="spacingAndGlyphs" stroke="#000" stroke-width="0.5">40</text>
<text x="921.5" y="636.7" font-size="17.5" text-anchor="end" textLength="18.4" lengthAdjust="spacingAndGlyphs" stroke="#000" stroke-width="0.5">30</text>
<text x="921.5" y="669.6" font-size="17.5" text-anchor="end" textLength="18.4" lengthAdjust="spacingAndGlyphs" stroke="#000" stroke-width="0.5">20</text>
<text x="921.5" y="702.5" font-size="17.5" text-anchor="end" textLength="18.4" lengthAdjust="spacingAndGlyphs" stroke="#000" stroke-width="0.5">10</text>
<text x="921.5" y="735.4" font-size="17.5" text-anchor="end" textLength="9.2" lengthAdjust="spacingAndGlyphs" stroke="#000" stroke-width="0.5">0</text>
<text x="921.5" y="768.3" font-size="17.5" text-anchor="end" textLength="23.8" lengthAdjust="spacingAndGlyphs" stroke="#000" stroke-width="0.5">-10</text>
<text font-size="18" stroke="#000" stroke-width="0.5" transform="translate(886.4 746) rotate(-90) scale(0.9304 1)">AHP Deph (mV)</text>
<path d="M954.5 619.2 L954.7 619.9 L954.9 620.8 L955.2 621.8 L955.5 622.9 L955.8 624.2 L956.2 625.5 L956.5 626.8 L956.9 628.1 L957.2 629.3 L957.5 630.4 L957.8 631.4 L958.1 632.4 L958.3 633.4 L958.6 634.3 L958.9 635.2 L959.2 636.1 L959.5 637.1 L959.8 638.1 L960.1 639.2 L960.5 640.3 L960.9 641.5 L961.4 642.7 L962 644.1 L962.5 645.5 L963.1 646.9 L963.7 648.2 L964.2 649.6 L964.7 651 L965.2 652.2 L965.5 653.4 L965.8 654.6 L966 655.6 L966.2 656.6 L966.3 657.6 L966.4 658.6 L966.5 659.5 L966.5 660.4 L966.6 661.4 L966.5 662.3 L966.5 663.3 L966.4 664.3 L966.3 665.3 L966.2 666.3 L966.1 667.2 L965.9 668.2 L965.7 669.2 L965.4 670.2 L965.1 671.2 L964.8 672.2 L964.5 673.2 L964.1 674.1 L963.7 675.1 L963.1 676 L962.6 677 L962 677.9 L961.5 678.9 L960.9 679.8 L960.4 680.9 L959.9 681.9 L959.5 683 L959.1 684.2 L958.8 685.4 L958.5 686.6 L958.2 687.9 L958 689.2 L957.7 690.5 L957.5 691.9 L957.3 693.3 L957.2 694.7 L957 696.2 L956.9 697.7 L956.8 699.3 L956.7 700.9 L956.6 702.5 L956.6 704.2 L956.5 705.9 L956.5 707.6 L956.5 709.3 L956.5 711 L956.5 712.6 L956.5 714.3 L956.6 716 L956.7 717.7 L956.8 719.4 L956.9 721.1 L957 722.8 L957 724.4 L957.1 726 L957.1 727.6 L957 729.1 L956.9 730.6 L956.7 732.1 L956.4 733.6 L956.1 735.1 L955.8 736.5 L955.5 737.9 L955.2 739.1 L954.9 740.2 L954.7 741.2 L954.5 741.9 L954.5 741.9 L954.3 741.2 L954.1 740.2 L953.8 739.1 L953.5 737.9 L953.2 736.5 L952.9 735.1 L952.6 733.6 L952.3 732.1 L952.1 730.6 L952 729.1 L951.9 727.6 L951.9 726 L952 724.4 L952 722.8 L952.1 721.1 L952.2 719.4 L952.3 717.7 L952.4 716 L952.5 714.3 L952.5 712.6 L952.5 711 L952.5 709.3 L952.5 707.6 L952.5 705.9 L952.4 704.2 L952.4 702.5 L952.3 700.9 L952.2 699.3 L952.1 697.7 L952 696.2 L951.8 694.7 L951.7 693.3 L951.5 691.9 L951.3 690.5 L951 689.2 L950.8 687.9 L950.5 686.6 L950.2 685.4 L949.9 684.2 L949.5 683 L949.1 681.9 L948.6 680.9 L948.1 679.8 L947.5 678.9 L947 677.9 L946.4 677 L945.9 676 L945.3 675.1 L944.9 674.1 L944.5 673.2 L944.2 672.2 L943.9 671.2 L943.6 670.2 L943.3 669.2 L943.1 668.2 L942.9 667.2 L942.8 666.3 L942.7 665.3 L942.6 664.3 L942.5 663.3 L942.5 662.3 L942.4 661.4 L942.5 660.4 L942.5 659.5 L942.6 658.6 L942.7 657.6 L942.8 656.6 L943 655.6 L943.2 654.6 L943.5 653.4 L943.8 652.2 L944.3 651 L944.8 649.6 L945.3 648.2 L945.9 646.9 L946.5 645.5 L947 644.1 L947.6 642.7 L948.1 641.5 L948.5 640.3 L948.9 639.2 L949.2 638.1 L949.5 637.1 L949.8 636.1 L950.1 635.2 L950.4 634.3 L950.7 633.4 L950.9 632.4 L951.2 631.4 L951.5 630.4 L951.8 629.3 L952.1 628.1 L952.5 626.8 L952.8 625.5 L953.2 624.2 L953.5 622.9 L953.8 621.8 L954.1 620.8 L954.3 619.9 L954.5 619.2 Z" fill="#fff" stroke="#168aa0" stroke-width="2.6" stroke-linejoin="round"/>
<line x1="943.8" y1="652.2" x2="965.2" y2="652.2" stroke="#168aa0" stroke-width="1.3" stroke-dasharray="1.6 1.6"/>
<line x1="942.4" y1="661.4" x2="966.6" y2="661.4" stroke="#168aa0" stroke-width="1.3" stroke-dasharray="1.6 1.6"/>
<line x1="943.9" y1="671.2" x2="965.1" y2="671.2" stroke="#168aa0" stroke-width="1.3" stroke-dasharray="1.6 1.6"/>
<g fill="#168aa0" fill-opacity="0.35" stroke="#168aa0" stroke-width="2.1"><circle cx="958.5" cy="654" r="3"/><circle cx="954.5" cy="704.8" r="3"/><circle cx="955.6" cy="662.7" r="3"/><circle cx="960.2" cy="677" r="3"/><circle cx="953.7" cy="692" r="3"/><circle cx="954.5" cy="697.1" r="3"/><circle cx="961" cy="647.7" r="3"/><circle cx="948.7" cy="651.4" r="3"/><circle cx="954.5" cy="719.7" r="3"/><circle cx="947.2" cy="652.3" r="3"/><circle cx="954.6" cy="632.4" r="3"/><circle cx="956.1" cy="654.9" r="3"/><circle cx="949.4" cy="655.3" r="3"/><circle cx="959.6" cy="661.7" r="3"/><circle cx="963.5" cy="659.8" r="3"/><circle cx="957.5" cy="672.5" r="3"/><circle cx="948.4" cy="661.4" r="3"/><circle cx="945.2" cy="667.3" r="3"/><circle cx="944.9" cy="654" r="3"/><circle cx="954.5" cy="722.8" r="3"/><circle cx="961.5" cy="673" r="3"/><circle cx="949.8" cy="676.4" r="3"/><circle cx="961.7" cy="660.1" r="3"/><circle cx="948.1" cy="671.3" r="3"/><circle cx="951.2" cy="657.9" r="3"/><circle cx="956.9" cy="673.7" r="3"/><circle cx="954.5" cy="732.8" r="3"/><circle cx="955.9" cy="665.3" r="3"/><circle cx="953.4" cy="674.9" r="3"/><circle cx="950.5" cy="654.1" r="3"/><circle cx="964.2" cy="657.6" r="3"/><circle cx="954.5" cy="701" r="3"/><circle cx="951.5" cy="650" r="3"/><circle cx="956.4" cy="654.9" r="3"/><circle cx="957.8" cy="648.4" r="3"/><circle cx="948.9" cy="650.7" r="3"/><circle cx="954.5" cy="724.6" r="3"/><circle cx="961.3" cy="661.2" r="3"/><circle cx="961.6" cy="673.9" r="3"/><circle cx="962" cy="650.8" r="3"/><circle cx="959.2" cy="644.9" r="3"/><circle cx="952.3" cy="679.8" r="3"/><circle cx="951.3" cy="669.5" r="3"/><circle cx="953" cy="681.1" r="3"/><circle cx="955.1" cy="676.6" r="3"/><circle cx="953.1" cy="674.1" r="3"/><circle cx="957.6" cy="664.3" r="3"/><circle cx="954.3" cy="632.7" r="3"/></g>
<path d="M982.4 614.9 L982.6 615.7 L982.7 616.6 L983 617.8 L983.2 619 L983.5 620.4 L983.8 621.8 L984.1 623.2 L984.5 624.6 L984.9 625.9 L985.4 627.1 L986 628.2 L986.6 629.2 L987.4 630.1 L988.2 631.1 L989 632 L989.8 632.9 L990.6 633.8 L991.3 634.8 L991.9 635.9 L992.4 637 L992.7 638.1 L993 639.3 L993.2 640.5 L993.3 641.7 L993.3 642.9 L993.4 644.2 L993.4 645.6 L993.4 647 L993.4 648.5 L993.4 650.1 L993.4 651.9 L993.4 653.8 L993.4 655.8 L993.4 657.9 L993.4 660 L993.4 662.1 L993.4 664.2 L993.4 666.2 L993.4 668.1 L993.4 669.9 L993.5 671.5 L993.6 672.9 L993.8 674.3 L993.9 675.6 L994.1 676.9 L994.2 678.1 L994.4 679.3 L994.4 680.5 L994.5 681.8 L994.4 683 L994.3 684.3 L994.1 685.6 L993.8 686.9 L993.5 688.1 L993.2 689.4 L992.9 690.7 L992.5 692 L992.1 693.4 L991.8 694.8 L991.4 696.2 L991 697.7 L990.6 699.3 L990.2 700.9 L989.8 702.5 L989.3 704.2 L988.9 705.9 L988.5 707.6 L988.1 709.3 L987.7 711 L987.4 712.6 L987.1 714.3 L986.9 715.9 L986.7 717.4 L986.5 719 L986.3 720.6 L986.2 722.2 L986 723.8 L985.8 725.5 L985.6 727.3 L985.4 729.1 L985.1 731.1 L984.8 733.4 L984.5 735.8 L984.1 738.3 L983.8 740.8 L983.4 743.2 L983.1 745.5 L982.8 747.5 L982.6 749.2 L982.4 750.5 L982.4 750.5 L982.2 749.2 L982 747.5 L981.7 745.5 L981.4 743.2 L981 740.8 L980.7 738.3 L980.3 735.8 L980 733.4 L979.7 731.1 L979.4 729.1 L979.2 727.3 L979 725.5 L978.8 723.8 L978.6 722.2 L978.5 720.6 L978.3 719 L978.1 717.4 L977.9 715.9 L977.7 714.3 L977.4 712.6 L977.1 711 L976.7 709.3 L976.3 707.6 L975.9 705.9 L975.5 704.2 L975 702.5 L974.6 700.9 L974.2 699.3 L973.8 697.7 L973.4 696.2 L973 694.8 L972.7 693.4 L972.3 692 L971.9 690.7 L971.6 689.4 L971.3 688.1 L971 686.9 L970.7 685.6 L970.5 684.3 L970.4 683 L970.3 681.8 L970.4 680.5 L970.4 679.3 L970.6 678.1 L970.7 676.9 L970.9 675.6 L971 674.3 L971.2 672.9 L971.3 671.5 L971.4 669.9 L971.4 668.1 L971.4 666.2 L971.4 664.2 L971.4 662.1 L971.4 660 L971.4 657.9 L971.4 655.8 L971.4 653.8 L971.4 651.9 L971.4 650.1 L971.4 648.5 L971.4 647 L971.4 645.6 L971.4 644.2 L971.5 642.9 L971.5 641.7 L971.6 640.5 L971.8 639.3 L972.1 638.1 L972.4 637 L972.9 635.9 L973.5 634.8 L974.2 633.8 L975 632.9 L975.8 632 L976.6 631.1 L977.4 630.1 L978.2 629.2 L978.8 628.2 L979.4 627.1 L979.9 625.9 L980.3 624.6 L980.7 623.2 L981 621.8 L981.3 620.4 L981.6 619 L981.8 617.8 L982.1 616.6 L982.2 615.7 L982.4 614.9 Z" fill="#fff" stroke="#f8841f" stroke-width="2.6" stroke-linejoin="round"/>
<line x1="971.4" y1="650.1" x2="993.4" y2="650.1" stroke="#f8841f" stroke-width="1.3" stroke-dasharray="1.6 1.6"/>
<line x1="971.4" y1="669.9" x2="993.4" y2="669.9" stroke="#f8841f" stroke-width="1.3" stroke-dasharray="1.6 1.6"/>
<line x1="971" y1="686.9" x2="993.8" y2="686.9" stroke="#f8841f" stroke-width="1.3" stroke-dasharray="1.6 1.6"/>
<g fill="#f8841f" fill-opacity="0.2" stroke="#f8841f" stroke-width="1.9"><circle cx="983.5" cy="670.6" r="3"/><circle cx="975.9" cy="661.8" r="3"/><circle cx="984.4" cy="667.7" r="3"/><circle cx="980.6" cy="701.4" r="3"/><circle cx="974.3" cy="654" r="3"/><circle cx="983.9" cy="670.4" r="3"/><circle cx="984.1" cy="715.9" r="3"/><circle cx="990" cy="656.6" r="3"/><circle cx="977.5" cy="651.6" r="3"/><circle cx="991.1" cy="667.3" r="3"/><circle cx="979.4" cy="686.7" r="3"/><circle cx="984" cy="659.7" r="3"/><circle cx="973.3" cy="684.5" r="3"/><circle cx="978" cy="664.9" r="3"/><circle cx="977.8" cy="693.2" r="3"/><circle cx="976.6" cy="639.5" r="3"/><circle cx="992.3" cy="684.8" r="3"/><circle cx="978.9" cy="631.6" r="3"/><circle cx="978.4" cy="695.3" r="3"/><circle cx="972.5" cy="676.7" r="3"/><circle cx="980.9" cy="650" r="3"/><circle cx="990.7" cy="640.4" r="3"/><circle cx="973.4" cy="664.6" r="3"/><circle cx="987.1" cy="686.6" r="3"/><circle cx="978" cy="683.5" r="3"/><circle cx="981.8" cy="675.3" r="3"/><circle cx="988.5" cy="670.5" r="3"/><circle cx="985.5" cy="713.1" r="3"/><circle cx="978" cy="691.2" r="3"/><circle cx="984.3" cy="682.5" r="3"/><circle cx="982.4" cy="733.4" r="3"/><circle cx="975.4" cy="683.7" r="3"/><circle cx="978" cy="639.1" r="3"/><circle cx="976.4" cy="682.1" r="3"/><circle cx="973.3" cy="682" r="3"/><circle cx="982.4" cy="734.4" r="3"/><circle cx="976.9" cy="659.6" r="3"/><circle cx="986.6" cy="689.7" r="3"/><circle cx="980.1" cy="687" r="3"/><circle cx="981.4" cy="695.5" r="3"/><circle cx="990" cy="637.2" r="3"/><circle cx="982.9" cy="728.2" r="3"/><circle cx="984.8" cy="642.9" r="3"/><circle cx="977.1" cy="685.4" r="3"/><circle cx="978.3" cy="683.7" r="3"/><circle cx="976.5" cy="646.6" r="3"/><circle cx="981" cy="644.8" r="3"/><circle cx="991.4" cy="664.7" r="3"/></g>
<path d="M1009.9 616.3 L1010 617.1 L1010.2 618.1 L1010.4 619.4 L1010.6 620.8 L1010.8 622.3 L1011.1 623.9 L1011.3 625.5 L1011.5 627.2 L1011.7 628.8 L1011.9 630.4 L1012 632 L1012.2 633.5 L1012.3 635.2 L1012.4 636.8 L1012.5 638.5 L1012.5 640.2 L1012.6 641.8 L1012.7 643.5 L1012.8 645.2 L1012.9 646.9 L1013 648.5 L1013.1 650.2 L1013.1 651.9 L1013.2 653.6 L1013.2 655.3 L1013.3 657 L1013.4 658.6 L1013.5 660.2 L1013.7 661.8 L1013.9 663.3 L1014.2 664.8 L1014.5 666.2 L1014.9 667.6 L1015.3 669 L1015.8 670.3 L1016.2 671.6 L1016.7 672.9 L1017.1 674.1 L1017.5 675.3 L1017.9 676.5 L1018.3 677.6 L1018.7 678.7 L1019.1 679.8 L1019.6 680.8 L1020 681.8 L1020.3 682.8 L1020.6 683.7 L1020.8 684.6 L1020.9 685.5 L1020.9 686.3 L1020.7 687.1 L1020.3 687.8 L1019.8 688.4 L1019.2 689 L1018.6 689.6 L1017.9 690.2 L1017.3 690.8 L1016.7 691.4 L1016.2 692.1 L1015.9 692.9 L1015.7 693.8 L1015.6 694.7 L1015.6 695.6 L1015.7 696.6 L1015.8 697.6 L1015.9 698.7 L1016 699.7 L1016 700.8 L1016 701.8 L1015.9 702.8 L1015.7 703.8 L1015.5 704.8 L1015.2 705.8 L1014.9 706.9 L1014.6 707.9 L1014.2 708.9 L1013.9 709.9 L1013.5 710.8 L1013.2 711.8 L1012.9 712.6 L1012.6 713.5 L1012.3 714.4 L1011.9 715.2 L1011.6 716.1 L1011.2 716.9 L1010.9 717.6 L1010.6 718.3 L1010.3 718.9 L1010.1 719.5 L1009.9 719.9 L1009.9 719.9 L1009.7 719.5 L1009.5 718.9 L1009.2 718.3 L1008.9 717.6 L1008.6 716.9 L1008.2 716.1 L1007.9 715.2 L1007.5 714.4 L1007.2 713.5 L1006.9 712.6 L1006.6 711.8 L1006.3 710.8 L1005.9 709.9 L1005.6 708.9 L1005.2 707.9 L1004.9 706.9 L1004.6 705.8 L1004.3 704.8 L1004.1 703.8 L1003.9 702.8 L1003.8 701.8 L1003.8 700.8 L1003.8 699.7 L1003.9 698.7 L1004 697.6 L1004.1 696.6 L1004.2 695.6 L1004.2 694.7 L1004.1 693.8 L1003.9 692.9 L1003.6 692.1 L1003.1 691.4 L1002.5 690.8 L1001.9 690.2 L1001.2 689.6 L1000.6 689 L1000 688.4 L999.5 687.8 L999.1 687.1 L998.9 686.3 L998.9 685.5 L999 684.6 L999.2 683.7 L999.5 682.8 L999.8 681.8 L1000.2 680.8 L1000.7 679.8 L1001.1 678.7 L1001.5 677.6 L1001.9 676.5 L1002.3 675.3 L1002.7 674.1 L1003.1 672.9 L1003.6 671.6 L1004 670.3 L1004.5 669 L1004.9 667.6 L1005.3 666.2 L1005.6 664.8 L1005.9 663.3 L1006.1 661.8 L1006.3 660.2 L1006.4 658.6 L1006.5 657 L1006.6 655.3 L1006.6 653.6 L1006.7 651.9 L1006.7 650.2 L1006.8 648.5 L1006.9 646.9 L1007 645.2 L1007.1 643.5 L1007.2 641.8 L1007.3 640.2 L1007.3 638.5 L1007.4 636.8 L1007.5 635.2 L1007.6 633.5 L1007.8 632 L1007.9 630.4 L1008.1 628.8 L1008.3 627.2 L1008.5 625.5 L1008.7 623.9 L1009 622.3 L1009.2 620.8 L1009.4 619.4 L1009.6 618.1 L1009.8 617.1 L1009.9 616.3 Z" fill="#fff" stroke="#8fbdf5" stroke-width="2.2" stroke-linejoin="round"/>
<line x1="1003.1" y1="672.9" x2="1016.7" y2="672.9" stroke="#8fbdf5" stroke-width="1.3" stroke-dasharray="1.6 1.6"/>
<line x1="999.5" y1="682.8" x2="1020.3" y2="682.8" stroke="#8fbdf5" stroke-width="1.3" stroke-dasharray="1.6 1.6"/>
<line x1="1002.5" y1="690.8" x2="1017.3" y2="690.8" stroke="#8fbdf5" stroke-width="1.3" stroke-dasharray="1.6 1.6"/>
<g fill="#fff" fill-opacity="1" stroke="#8fbdf5" stroke-width="1.7"><circle cx="1009.9" cy="665.5" r="3"/><circle cx="1011.6" cy="708.7" r="3"/><circle cx="1017.2" cy="687.9" r="3"/><circle cx="1003.2" cy="681.4" r="3"/><circle cx="1004.8" cy="677.4" r="3"/><circle cx="1009.4" cy="654.1" r="3"/><circle cx="1004.1" cy="683.2" r="3"/><circle cx="1009.9" cy="622.9" r="3"/><circle cx="1010.7" cy="677.1" r="3"/><circle cx="1008.2" cy="689.3" r="3"/><circle cx="1012.8" cy="687.7" r="3"/><circle cx="1009.9" cy="637.3" r="3"/><circle cx="1008.7" cy="708.9" r="3"/><circle cx="1006.3" cy="671.6" r="3"/><circle cx="1011.4" cy="651.9" r="3"/><circle cx="1015.6" cy="677.6" r="3"/><circle cx="1006.2" cy="687" r="3"/><circle cx="1011.5" cy="699.5" r="3"/><circle cx="1009.2" cy="688.3" r="3"/><circle cx="1009.3" cy="707" r="3"/><circle cx="1015" cy="679.2" r="3"/><circle cx="1009.7" cy="650.9" r="3"/><circle cx="1012.9" cy="679.4" r="3"/><circle cx="1007.4" cy="686.7" r="3"/><circle cx="1010.4" cy="712.5" r="3"/><circle cx="1010.6" cy="652.6" r="3"/></g>
<path d="M1037.6 626.5 L1037.7 627.1 L1037.9 627.8 L1038.2 628.8 L1038.4 629.8 L1038.7 630.9 L1039 632.1 L1039.3 633.3 L1039.6 634.5 L1039.8 635.8 L1040.1 637 L1040.4 638.2 L1040.6 639.4 L1040.9 640.7 L1041.1 642.1 L1041.4 643.4 L1041.6 644.7 L1041.9 646.1 L1042.1 647.5 L1042.4 648.8 L1042.6 650.1 L1042.8 651.5 L1043 652.8 L1043.2 654.1 L1043.4 655.4 L1043.6 656.7 L1043.8 658 L1044 659.4 L1044.2 660.7 L1044.4 662 L1044.6 663.3 L1044.8 664.6 L1045 666 L1045.2 667.4 L1045.4 668.7 L1045.6 670.1 L1045.8 671.4 L1046 672.8 L1046.2 674 L1046.4 675.3 L1046.6 676.5 L1046.8 677.6 L1047.1 678.6 L1047.4 679.6 L1047.7 680.5 L1048 681.4 L1048.2 682.3 L1048.4 683.2 L1048.6 684.2 L1048.6 685.2 L1048.6 686.3 L1048.4 687.5 L1048.2 688.8 L1047.8 690 L1047.4 691.4 L1046.9 692.7 L1046.4 694.1 L1045.9 695.4 L1045.4 696.8 L1045 698.2 L1044.6 699.5 L1044.3 700.8 L1043.9 702.1 L1043.6 703.3 L1043.3 704.6 L1043 705.9 L1042.7 707.1 L1042.4 708.5 L1042.1 709.8 L1041.9 711.2 L1041.6 712.6 L1041.4 714.2 L1041.1 715.8 L1040.9 717.5 L1040.7 719.2 L1040.5 721 L1040.4 722.7 L1040.2 724.4 L1040 726.1 L1039.8 727.7 L1039.6 729.1 L1039.4 730.5 L1039.2 731.9 L1038.9 733.2 L1038.7 734.5 L1038.5 735.7 L1038.3 736.9 L1038.1 737.9 L1037.9 738.8 L1037.7 739.6 L1037.6 740.3 L1037.6 740.3 L1037.5 739.6 L1037.3 738.8 L1037.1 737.9 L1036.9 736.9 L1036.7 735.7 L1036.5 734.5 L1036.3 733.2 L1036 731.9 L1035.8 730.5 L1035.6 729.1 L1035.4 727.7 L1035.2 726.1 L1035 724.4 L1034.8 722.7 L1034.7 721 L1034.5 719.2 L1034.3 717.5 L1034.1 715.8 L1033.8 714.2 L1033.6 712.6 L1033.3 711.2 L1033.1 709.8 L1032.8 708.5 L1032.5 707.1 L1032.2 705.9 L1031.9 704.6 L1031.6 703.3 L1031.3 702.1 L1030.9 700.8 L1030.6 699.5 L1030.2 698.2 L1029.8 696.8 L1029.3 695.4 L1028.8 694.1 L1028.3 692.7 L1027.8 691.4 L1027.4 690 L1027 688.8 L1026.8 687.5 L1026.6 686.3 L1026.6 685.2 L1026.6 684.2 L1026.8 683.2 L1027 682.3 L1027.2 681.4 L1027.5 680.5 L1027.8 679.6 L1028.1 678.6 L1028.4 677.6 L1028.6 676.5 L1028.8 675.3 L1029 674 L1029.2 672.8 L1029.4 671.4 L1029.6 670.1 L1029.8 668.7 L1030 667.4 L1030.2 666 L1030.4 664.6 L1030.6 663.3 L1030.8 662 L1031 660.7 L1031.2 659.4 L1031.4 658 L1031.6 656.7 L1031.8 655.4 L1032 654.1 L1032.2 652.8 L1032.4 651.5 L1032.6 650.1 L1032.8 648.8 L1033.1 647.5 L1033.3 646.1 L1033.6 644.7 L1033.8 643.4 L1034.1 642.1 L1034.3 640.7 L1034.6 639.4 L1034.8 638.2 L1035.1 637 L1035.4 635.8 L1035.6 634.5 L1035.9 633.3 L1036.2 632.1 L1036.5 630.9 L1036.8 629.8 L1037 628.8 L1037.3 627.8 L1037.5 627.1 L1037.6 626.5 Z" fill="#fff" stroke="#fcba7e" stroke-width="2" stroke-linejoin="round"/>
<line x1="1029.8" y1="668.7" x2="1045.4" y2="668.7" stroke="#fcba7e" stroke-width="1.3" stroke-dasharray="1.6 1.6"/>
<line x1="1027" y1="682.3" x2="1048.2" y2="682.3" stroke="#fcba7e" stroke-width="1.3" stroke-dasharray="1.6 1.6"/>
<line x1="1027.8" y1="691.4" x2="1047.4" y2="691.4" stroke="#fcba7e" stroke-width="1.3" stroke-dasharray="1.6 1.6"/>
<g fill="#fff" fill-opacity="1" stroke="#fcba7e" stroke-width="1.2"><circle cx="1030.1" cy="682.2" r="2.9"/><circle cx="1039.9" cy="676.5" r="2.9"/><circle cx="1041.1" cy="663.7" r="2.9"/><circle cx="1036.3" cy="649" r="2.9"/><circle cx="1039.3" cy="696.1" r="2.9"/><circle cx="1037.1" cy="703.6" r="2.9"/><circle cx="1032.4" cy="663" r="2.9"/><circle cx="1038.7" cy="693.2" r="2.9"/><circle cx="1035.5" cy="664.5" r="2.9"/><circle cx="1039.3" cy="681.3" r="2.9"/><circle cx="1043.3" cy="673" r="2.9"/><circle cx="1038.5" cy="690.9" r="2.9"/><circle cx="1036.6" cy="706" r="2.9"/><circle cx="1039.2" cy="696.3" r="2.9"/><circle cx="1038.7" cy="688.1" r="2.9"/><circle cx="1033.8" cy="679.5" r="2.9"/><circle cx="1033.3" cy="669.2" r="2.9"/><circle cx="1029.5" cy="687" r="2.9"/><circle cx="1034.6" cy="669.9" r="2.9"/><circle cx="1031.6" cy="689.3" r="2.9"/><circle cx="1036.7" cy="718.6" r="2.9"/><circle cx="1043.2" cy="685.6" r="2.9"/></g>
</svg>
</body></html>
